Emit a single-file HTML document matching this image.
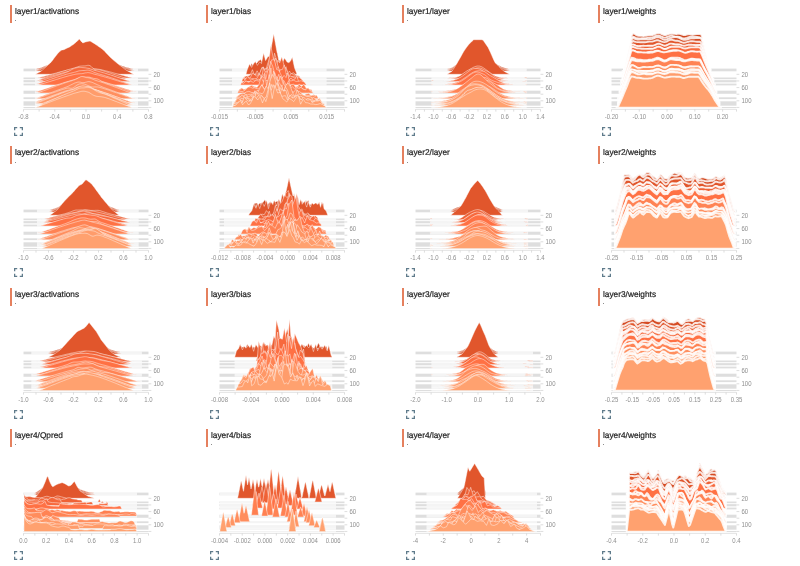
<!DOCTYPE html><html><head><meta charset="utf-8"><style>
*{margin:0;padding:0;box-sizing:border-box}
html,body{width:800px;height:566px;background:#fff;overflow:hidden;position:relative}
.cell{position:absolute;width:196px;height:141px}
.bar{position:absolute;left:9.6px;top:5px;width:2.4px;height:18px;background:#e5805e}
.ttl{position:absolute;left:15.0px;top:5.9px;font:8.3px/10px "Liberation Sans",Arial,sans-serif;color:#1e1e1e;white-space:nowrap;-webkit-text-stroke:0.2px #1e1e1e;text-rendering:geometricPrecision}
.dot{position:absolute;left:14.6px;top:14.2px;font:8px/9px "Liberation Sans",Arial,sans-serif;color:#3a3a3a}
.ch{position:absolute;left:0;top:0;overflow:visible;filter:blur(0.3px)}
.xl{font:6.9px "Liberation Sans",Arial,sans-serif;fill:#8f8f8f;text-anchor:middle}
.yl{font:6.9px "Liberation Sans",Arial,sans-serif;fill:#8f8f8f}
.ic{position:absolute;left:14.2px;top:127px}
</style></head><body><div class="cell" style="left:0.00px;top:0.00px"><div class="bar"></div><div class="ttl">layer1/activations</div><div class="dot">.</div><svg class="ch" width="196" height="141" viewBox="0 0 196 141"><rect x="23.5" y="68.60" width="125.0" height="2.70" fill="#000" fill-opacity="0.13"/><rect x="23.5" y="77.50" width="125.0" height="1.70" fill="#000" fill-opacity="0.13"/><rect x="23.5" y="80.10" width="125.0" height="2.20" fill="#000" fill-opacity="0.13"/><rect x="23.5" y="83.60" width="125.0" height="1.80" fill="#000" fill-opacity="0.13"/><rect x="23.5" y="90.70" width="125.0" height="3.10" fill="#000" fill-opacity="0.13"/><rect x="23.5" y="97.30" width="125.0" height="1.80" fill="#000" fill-opacity="0.13"/><rect x="23.5" y="101.30" width="125.0" height="4.40" fill="#000" fill-opacity="0.13"/><rect x="23.5" y="107.00" width="125.0" height="1.10" fill="#000" fill-opacity="0.13"/><path d="M35,69.1L35,69.1L36.2,68.9L37.4,68.6L38.6,68.3L39.8,68L41,67.8L42.2,67.3L43.4,66.8L44.6,66.3L45.8,65.8L47,65.3L48.2,64.9L49.4,64.4L50.6,63.9L51.8,63.3L53,62.5L54.2,61.8L55.4,61.1L56.6,60.4L57.8,59.8L59,59.3L60.2,58.7L61.3,58.3L62.5,58.2L63.7,58.1L64.9,57.8L66.1,57.6L67.3,57.3L68.5,57.1L69.7,56.8L70.9,56.5L72.1,56.1L73.3,55.7L74.5,55.3L75.7,54.9L76.9,54.3L78.1,53.8L79.3,53.3L80.5,53.9L81.7,54.6L82.9,55L84.1,54.8L85.3,54.6L86.5,54.5L87.7,54.4L88.9,54.3L90.1,54.2L91.3,54.5L92.5,54.8L93.7,55.2L94.9,55.5L96.1,55.9L97.3,56.2L98.5,56.6L99.7,57L100.9,57.4L102.1,57.7L103.3,58.2L104.5,58.7L105.7,59.3L106.9,59.9L108.1,60.4L109.3,61L110.5,61.5L111.7,62L112.8,62.5L114,62.9L115.2,63.4L116.4,63.9L117.6,64.3L118.8,64.7L120,65.1L121.2,65.5L122.4,65.9L123.6,66.3L124.8,66.8L126,67.2L127.2,67.5L128.4,67.8L129.6,68.1L130.8,68.4L132,68.7L133.2,69L134.4,69.1L138,69.1L138,69.1Z" fill="#ce451d" stroke="#fff" stroke-opacity="0.55" stroke-width="0.80" stroke-linejoin="round"/><path d="M35,70L35,70L36.2,69.8L37.4,69.5L38.6,69.2L39.8,68.8L41,68.5L42.2,68L43.4,67.5L44.6,67L45.8,66.4L47,65.9L48.2,65.4L49.4,64.8L50.6,64.3L51.8,63.6L53,62.8L54.2,62.1L55.4,61.3L56.6,60.5L57.8,59.8L59,59.3L60.2,58.7L61.3,58.2L62.5,58.1L63.7,57.9L64.9,57.7L66.1,57.4L67.3,57.2L68.5,56.9L69.7,56.6L70.9,56.2L72.1,55.8L73.3,55.4L74.5,55L75.7,54.5L76.9,53.9L78.1,53.3L79.3,52.7L80.5,53.4L81.7,54.2L82.9,54.6L84.1,54.4L85.3,54.2L86.5,54.1L87.7,53.9L88.9,53.8L90.1,53.7L91.3,54.1L92.5,54.4L93.7,54.8L94.9,55.1L96.1,55.5L97.3,56L98.5,56.4L99.7,56.8L100.9,57.2L102.1,57.6L103.3,58.1L104.5,58.7L105.7,59.3L106.9,59.9L108.1,60.5L109.3,61.2L110.5,61.7L111.7,62.3L112.8,62.8L114,63.3L115.2,63.8L116.4,64.3L117.6,64.7L118.8,65.2L120,65.6L121.2,66.1L122.4,66.5L123.6,67L124.8,67.5L126,67.9L127.2,68.2L128.4,68.6L129.6,68.9L130.8,69.2L132,69.5L133.2,69.9L134.4,70L138,70L138,70Z" fill="#d24820" stroke="#fff" stroke-opacity="0.55" stroke-width="0.80" stroke-linejoin="round"/><path d="M35,70.9L35,70.9L36.2,70.7L37.4,70.3L38.6,70L39.8,69.7L41,69.3L42.2,68.7L43.4,68.2L44.6,67.6L45.8,67L47,66.5L48.2,65.9L49.4,65.3L50.6,64.7L51.8,64L53,63.2L54.2,62.3L55.4,61.5L56.6,60.6L57.8,59.9L59,59.3L60.2,58.6L61.3,58.1L62.5,58L63.7,57.8L64.9,57.6L66.1,57.3L67.3,57L68.5,56.7L69.7,56.4L70.9,56L72.1,55.5L73.3,55.1L74.5,54.6L75.7,54.1L76.9,53.5L78.1,52.8L79.3,52.2L80.5,53L81.7,53.7L82.9,54.3L84.1,54L85.3,53.8L86.5,53.6L87.7,53.5L88.9,53.4L90.1,53.3L91.3,53.7L92.5,54L93.7,54.4L94.9,54.8L96.1,55.2L97.3,55.7L98.5,56.1L99.7,56.6L100.9,57L102.1,57.5L103.3,58L104.5,58.6L105.7,59.3L106.9,60L108.1,60.6L109.3,61.3L110.5,61.9L111.7,62.5L112.8,63.1L114,63.6L115.2,64.2L116.4,64.7L117.6,65.2L118.8,65.7L120,66.2L121.2,66.7L122.4,67.2L123.6,67.6L124.8,68.1L126,68.6L127.2,69L128.4,69.3L129.6,69.7L130.8,70L132,70.4L133.2,70.8L134.4,70.9L138,70.9L138,70.9Z" fill="#d54b23" stroke="#fff" stroke-opacity="0.55" stroke-width="0.80" stroke-linejoin="round"/><path d="M35,74.3L35,74.3L36.2,73.9L37.4,73.2L38.6,72.6L39.8,71.9L41,71.3L42.2,70.2L43.4,69.2L44.6,68.1L45.8,67L47,65.9L48.2,64.8L49.4,63.8L50.6,62.7L51.8,61.3L53,59.7L54.2,58.1L55.4,56.5L56.6,54.9L57.8,53.5L59,52.3L60.2,51.1L61.3,50.2L62.5,49.9L63.7,49.7L64.9,49.2L66.1,48.6L67.3,48L68.5,47.5L69.7,46.9L70.9,46.1L72.1,45.3L73.3,44.5L74.5,43.6L75.7,42.6L76.9,41.4L78.1,40.2L79.3,39L80.5,40.5L81.7,41.9L82.9,42.9L84.1,42.5L85.3,42L86.5,41.7L87.7,41.5L88.9,41.2L90.1,41.1L91.3,41.8L92.5,42.5L93.7,43.2L94.9,43.9L96.1,44.8L97.3,45.6L98.5,46.4L99.7,47.3L100.9,48.1L102.1,48.9L103.3,49.9L104.5,51.1L105.7,52.4L106.9,53.7L108.1,54.9L109.3,56.2L110.5,57.4L111.7,58.5L112.8,59.5L114,60.6L115.2,61.6L116.4,62.6L117.6,63.6L118.8,64.5L120,65.4L121.2,66.3L122.4,67.2L123.6,68.2L124.8,69.1L126,70L127.2,70.7L128.4,71.4L129.6,72L130.8,72.7L132,73.4L133.2,74L134.4,74.3L138,74.3L138,74.3Z" fill="#e1562c" stroke="#fff" stroke-opacity="0.55" stroke-width="0.80" stroke-linejoin="round"/><path d="M35,78L35,78L36.2,77.9L37.4,77.9L38.6,77.7L39.8,77.4L41,77.1L42.2,76.8L43.4,76.5L44.6,76.2L45.8,75.8L47,75.5L48.2,75.2L49.4,74.8L50.6,74.5L51.8,74.2L53,73.8L54.2,73.5L55.4,73.2L56.6,72.9L57.8,72.5L59,72.2L60.2,71.9L61.3,71.6L62.5,71.3L63.7,71L64.9,70.7L66.1,70.4L67.3,70.2L68.5,69.9L69.7,69.6L70.9,69.4L72.1,69.1L73.3,68.8L74.5,68.5L75.7,68.2L76.9,67.8L78.1,67.4L79.3,67.1L80.5,66.9L81.7,66.8L82.9,66.8L84.1,66.9L85.3,67L86.5,67.2L87.7,67.4L88.9,67.6L90.1,67.8L91.3,68.1L92.5,68.3L93.7,68.5L94.9,68.7L96.1,68.8L97.3,69L98.5,69.2L99.7,69.4L100.9,69.6L102.1,69.9L103.3,70.2L104.5,70.5L105.7,70.8L106.9,71.1L108.1,71.4L109.3,71.7L110.5,72L111.7,72.3L112.8,72.7L114,73L115.2,73.3L116.4,73.6L117.6,74L118.8,74.3L120,74.6L121.2,75L122.4,75.3L123.6,75.6L124.8,76L126,76.3L127.2,76.6L128.4,77L129.6,77.3L130.8,77.6L132,77.9L133.2,77.9L134.4,77.9L135.6,78L138,78L138,78Z" fill="#ec6035" stroke="#fff" stroke-opacity="0.55" stroke-width="0.80" stroke-linejoin="round"/><path d="M35,78.8L35,78.8L36.2,78.8L37.4,78.7L38.6,78.7L39.8,78.7L41,78.5L42.2,78.2L43.4,77.8L44.6,77.4L45.8,77L47,76.6L48.2,76.2L49.4,75.8L50.6,75.4L51.8,75L53,74.6L54.2,74.2L55.4,73.8L56.6,73.4L57.8,73L59,72.6L60.2,72.2L61.3,71.8L62.5,71.4L63.7,71.1L64.9,70.7L66.1,70.3L67.3,69.9L68.5,69.6L69.7,69.2L70.9,68.9L72.1,68.6L73.3,68.2L74.5,67.9L75.7,67.5L76.9,67.1L78.1,66.7L79.3,66.3L80.5,66.1L81.7,66L82.9,65.9L84.1,65.9L85.3,65.8L86.5,65.6L87.7,65.3L88.9,65.3L90.1,65.7L91.3,66.6L92.5,67.8L93.7,69L94.9,69.6L96.1,69.7L97.3,69.7L98.5,69.7L99.7,69.9L100.9,70.2L102.1,70.5L103.3,70.9L104.5,71.3L105.7,71.6L106.9,72L108.1,72.4L109.3,72.8L110.5,73.2L111.7,73.6L112.8,74L114,74.4L115.2,74.8L116.4,75.2L117.6,75.6L118.8,76L120,76.4L121.2,76.8L122.4,77.2L123.6,77.6L124.8,78L126,78.4L127.2,78.7L128.4,78.7L129.6,78.7L130.8,78.8L138,78.8L138,78.8Z" fill="#ef6236" stroke="#fff" stroke-opacity="0.55" stroke-width="0.80" stroke-linejoin="round"/><path d="M35,80.6L35,80.5L36.2,80.5L37.4,80.3L38.6,80L39.8,79.7L41,79.3L42.2,79L43.4,78.6L44.6,78.2L45.8,77.9L47,77.5L48.2,77.2L49.4,76.8L50.6,76.4L51.8,76.1L53,75.7L54.2,75.4L55.4,75L56.6,74.6L57.8,74.3L59,74L60.2,73.6L61.3,73.3L62.5,72.9L63.7,72.6L64.9,72.3L66.1,72L67.3,71.7L68.5,71.4L69.7,71.2L70.9,71.1L72.1,71L73.3,70.9L74.5,70.8L75.7,70.5L76.9,70.2L78.1,69.9L79.3,69.7L80.5,69.6L81.7,69.5L82.9,69.4L84.1,69.3L85.3,69.2L86.5,69.1L87.7,69L88.9,69.2L90.1,69.5L91.3,69.9L92.5,70.3L93.7,70.7L94.9,71.1L96.1,71.4L97.3,71.7L98.5,72.1L99.7,72.4L100.9,72.7L102.1,73L103.3,73.4L104.5,73.7L105.7,74.1L106.9,74.4L108.1,74.8L109.3,75.1L110.5,75.5L111.7,75.8L112.8,76.2L114,76.5L115.2,76.9L116.4,77.3L117.6,77.6L118.8,78L120,78.4L121.2,78.7L122.4,79.1L123.6,79.4L124.8,79.8L126,80.1L127.2,80.4L128.4,80.5L129.6,80.5L130.8,80.6L138,80.6L138,80.6Z" fill="#f4663a" stroke="#fff" stroke-opacity="0.55" stroke-width="0.80" stroke-linejoin="round"/><path d="M35,81.6L35,81.6L36.2,81.5L37.4,81.5L38.6,81.5L39.8,81.1L41,80.8L42.2,80.4L43.4,80L44.6,79.6L45.8,79.2L47,78.8L48.2,78.4L49.4,78L50.6,77.6L51.8,77.2L53,76.8L54.2,76.4L55.4,76L56.6,75.6L57.8,75.2L59,74.8L60.2,74.4L61.3,74.1L62.5,73.7L63.7,73.3L64.9,72.8L66.1,72.4L67.3,71.9L68.5,71.4L69.7,70.7L70.9,70.1L72.1,69.4L73.3,68.8L74.5,68.3L75.7,68L76.9,67.7L78.1,67.5L79.3,67.4L80.5,67.4L81.7,67.5L82.9,67.6L84.1,67.7L85.3,67.8L86.5,68L87.7,68.2L88.9,68.4L90.1,68.8L91.3,69.2L92.5,69.6L93.7,70.1L94.9,70.4L96.1,70.7L97.3,71L98.5,71.3L99.7,71.7L100.9,72L102.1,72.3L103.3,72.7L104.5,73L105.7,73.4L106.9,73.8L108.1,74.2L109.3,74.5L110.5,74.9L111.7,75.3L112.8,75.7L114,76.1L115.2,76.5L116.4,76.9L117.6,77.3L118.8,77.7L120,78.1L121.2,78.5L122.4,78.9L123.6,79.3L124.8,79.7L126,80.1L127.2,80.5L128.4,80.8L129.6,81.2L130.8,81.5L132,81.5L133.2,81.5L134.4,81.6L138,81.6L138,81.6Z" fill="#f7693d" stroke="#fff" stroke-opacity="0.55" stroke-width="0.80" stroke-linejoin="round"/><path d="M35,84.1L35,84L36.2,84L37.4,83.7L38.6,83.4L39.8,83L41,82.6L42.2,82.2L43.4,81.8L44.6,81.4L45.8,81L47,80.6L48.2,80.2L49.4,79.7L50.6,79.3L51.8,78.9L53,78.5L54.2,78.1L55.4,77.7L56.6,77.3L57.8,76.9L59,76.6L60.2,76.2L61.3,75.8L62.5,75.4L63.7,75.1L64.9,74.7L66.1,74.3L67.3,74L68.5,73.7L69.7,73.4L70.9,73.1L72.1,72.8L73.3,72.5L74.5,72.2L75.7,71.9L76.9,71.5L78.1,71.1L79.3,70.8L80.5,70.7L81.7,70.6L82.9,70.5L84.1,70.5L85.3,70.4L86.5,70.2L87.7,70.1L88.9,70.2L90.1,70.5L91.3,71L92.5,71.5L93.7,72.1L94.9,72.6L96.1,73L97.3,73.4L98.5,73.8L99.7,74.1L100.9,74.5L102.1,74.9L103.3,75.2L104.5,75.6L105.7,76L106.9,76.4L108.1,76.7L109.3,77.1L110.5,77.5L111.7,77.9L112.8,78.3L114,78.7L115.2,79.1L116.4,79.5L117.6,79.9L118.8,80.4L120,80.8L121.2,81.2L122.4,81.6L123.6,82L124.8,82.4L126,82.8L127.2,83.2L128.4,83.5L129.6,83.9L130.8,84L132,84L133.2,84.1L138,84.1L138,84.1Z" fill="#fd6f42" stroke="#fff" stroke-opacity="0.55" stroke-width="0.80" stroke-linejoin="round"/><path d="M35,85L35,85L36.2,84.9L37.4,84.9L38.6,84.9L39.8,84.6L41,84.2L42.2,83.9L43.4,83.5L44.6,83.1L45.8,82.8L47,82.4L48.2,82L49.4,81.7L50.6,81.3L51.8,80.9L53,80.5L54.2,80.2L55.4,79.8L56.6,79.4L57.8,79.1L59,78.7L60.2,78.3L61.3,78L62.5,77.6L63.7,77.3L64.9,76.9L66.1,76.6L67.3,76.3L68.5,75.9L69.7,75.6L70.9,75.3L72.1,75L73.3,74.7L74.5,74.5L75.7,74.2L76.9,74L78.1,73.9L79.3,73.8L80.5,73.7L81.7,73.7L82.9,73.5L84.1,73.2L85.3,72.9L86.5,72.8L87.7,72.6L88.9,72.7L90.1,72.9L91.3,73.2L92.5,73.6L93.7,74L94.9,74.3L96.1,74.6L97.3,74.9L98.5,75.2L99.7,75.6L100.9,75.9L102.1,76.2L103.3,76.5L104.5,76.9L105.7,77.2L106.9,77.6L108.1,77.9L109.3,78.3L110.5,78.6L111.7,79L112.8,79.4L114,79.7L115.2,80.1L116.4,80.5L117.6,80.8L118.8,81.2L120,81.6L121.2,82L122.4,82.3L123.6,82.7L124.8,83.1L126,83.4L127.2,83.8L128.4,84.2L129.6,84.5L130.8,84.8L132,84.9L133.2,84.9L134.4,85L138,85L138,85Z" fill="#ff7144" stroke="#fff" stroke-opacity="0.55" stroke-width="0.80" stroke-linejoin="round"/><path d="M35,91.2L35,91.2L36.2,91.1L37.4,91.1L38.6,91.1L39.8,90.8L41,90.4L42.2,90L43.4,89.7L44.6,89.3L45.8,88.9L47,88.5L48.2,88.1L49.4,87.8L50.6,87.4L51.8,87L53,86.6L54.2,86.2L55.4,85.8L56.6,85.5L57.8,85.1L59,84.7L60.2,84.3L61.3,84L62.5,83.6L63.7,83.2L64.9,82.9L66.1,82.5L67.3,82.2L68.5,81.8L69.7,81.5L70.9,81.2L72.1,80.8L73.3,80.5L74.5,80.1L75.7,79.7L76.9,79.2L78.1,78.7L79.3,78.3L80.5,78.1L81.7,77.9L82.9,78L84.1,78.1L85.3,78.2L86.5,78.3L87.7,78.5L88.9,78.8L90.1,79L91.3,79.2L92.5,79.4L93.7,79.5L94.9,79.8L96.1,80L97.3,80.3L98.5,80.5L99.7,80.9L100.9,81.2L102.1,81.5L103.3,81.8L104.5,82.2L105.7,82.5L106.9,82.9L108.1,83.2L109.3,83.6L110.5,83.9L111.7,84.3L112.8,84.7L114,85.1L115.2,85.4L116.4,85.8L117.6,86.2L118.8,86.6L120,87L121.2,87.3L122.4,87.7L123.6,88.1L124.8,88.5L126,88.9L127.2,89.3L128.4,89.6L129.6,90L130.8,90.4L132,90.7L133.2,91.1L134.4,91.1L135.6,91.1L136.8,91.2L138,91.2L138,91.2Z" fill="#ff7f50" stroke="#fff" stroke-opacity="0.55" stroke-width="0.80" stroke-linejoin="round"/><path d="M35,92.1L35,92L36.2,91.8L37.4,91.5L38.6,91.1L39.8,90.7L41,90.3L42.2,89.9L43.4,89.5L44.6,89.1L45.8,88.7L47,88.3L48.2,87.9L49.4,87.5L50.6,87.1L51.8,86.6L53,86.2L54.2,85.8L55.4,85.4L56.6,85L57.8,84.6L59,84.2L60.2,83.9L61.3,83.5L62.5,83.1L63.7,82.7L64.9,82.3L66.1,82L67.3,81.6L68.5,81.3L69.7,80.9L70.9,80.6L72.1,80.2L73.3,79.9L74.5,79.5L75.7,79.1L76.9,78.6L78.1,78.1L79.3,77.7L80.5,77.3L81.7,77.2L82.9,77.1L84.1,77L85.3,77L86.5,77L87.7,77L88.9,77.1L90.1,77.3L91.3,77.7L92.5,78L93.7,78.4L94.9,78.6L96.1,78.7L97.3,78.9L98.5,79.4L99.7,80.1L100.9,80.9L102.1,81.6L103.3,82.1L104.5,82.5L105.7,82.9L106.9,83.3L108.1,83.7L109.3,84.1L110.5,84.5L111.7,84.9L112.8,85.3L114,85.7L115.2,86.1L116.4,86.5L117.6,86.9L118.8,87.3L120,87.7L121.2,88.1L122.4,88.5L123.6,89L124.8,89.4L126,89.8L127.2,90.2L128.4,90.6L129.6,91L130.8,91.4L132,91.7L133.2,92L134.4,92L135.6,92.1L138,92.1L138,92.1Z" fill="#ff8152" stroke="#fff" stroke-opacity="0.55" stroke-width="0.80" stroke-linejoin="round"/><path d="M35,93L35,93L36.2,92.9L37.4,92.9L38.6,92.6L39.8,92.2L41,91.7L42.2,91.3L43.4,90.8L44.6,90.4L45.8,90L47,89.5L48.2,89.1L49.4,88.6L50.6,88.1L51.8,87.7L53,87.2L54.2,86.8L55.4,86.4L56.6,85.9L57.8,85.5L59,85L60.2,84.6L61.3,84.2L62.5,83.8L63.7,83.3L64.9,82.9L66.1,82.5L67.3,82.1L68.5,81.7L69.7,81.3L70.9,81L72.1,80.6L73.3,80.2L74.5,79.8L75.7,79.3L76.9,78.8L78.1,78.1L79.3,77.4L80.5,76.8L81.7,76.5L82.9,76.6L84.1,76.9L85.3,77.3L86.5,77.6L87.7,77.7L88.9,77.9L90.1,78.2L91.3,78.6L92.5,79.1L93.7,79.6L94.9,80.1L96.1,80.5L97.3,80.9L98.5,81.3L99.7,81.6L100.9,82L102.1,82.4L103.3,82.8L104.5,83.2L105.7,83.7L106.9,84.1L108.1,84.5L109.3,84.9L110.5,85.4L111.7,85.8L112.8,86.2L114,86.7L115.2,87.1L116.4,87.6L117.6,88L118.8,88.5L120,88.9L121.2,89.4L122.4,89.8L123.6,90.3L124.8,90.7L126,91.2L127.2,91.6L128.4,92.1L129.6,92.5L130.8,92.9L132,92.9L133.2,92.9L134.4,93L138,93L138,93Z" fill="#ff8354" stroke="#fff" stroke-opacity="0.55" stroke-width="0.80" stroke-linejoin="round"/><path d="M35,97.8L35,97.7L36.2,97.7L37.4,97.6L38.6,97.2L39.8,96.7L41,96.3L42.2,95.9L43.4,95.4L44.6,95L45.8,94.5L47,94.1L48.2,93.7L49.4,93.2L50.6,92.8L51.8,92.3L53,91.9L54.2,91.4L55.4,91L56.6,90.5L57.8,90.1L59,89.7L60.2,89.2L61.3,88.8L62.5,88.4L63.7,88L64.9,87.5L66.1,87.1L67.3,86.6L68.5,86.1L69.7,85.5L70.9,84.9L72.1,84.3L73.3,83.7L74.5,83.1L75.7,82.7L76.9,82.3L78.1,82L79.3,82L80.5,82.2L81.7,82.5L82.9,82.7L84.1,82.6L85.3,82.3L86.5,82L87.7,81.7L88.9,81.6L90.1,81.8L91.3,82.1L92.5,82.5L93.7,83L94.9,83.6L96.1,84.1L97.3,84.7L98.5,85.2L99.7,85.8L100.9,86.3L102.1,86.8L103.3,87.3L104.5,87.7L105.7,88.1L106.9,88.6L108.1,89L109.3,89.4L110.5,89.8L111.7,90.3L112.8,90.7L114,91.2L115.2,91.6L116.4,92L117.6,92.5L118.8,92.9L120,93.4L121.2,93.8L122.4,94.3L123.6,94.7L124.8,95.2L126,95.6L127.2,96.1L128.4,96.5L129.6,96.9L130.8,97.3L132,97.7L133.2,97.7L134.4,97.8L138,97.8L138,97.8Z" fill="#ff8d5d" stroke="#fff" stroke-opacity="0.55" stroke-width="0.80" stroke-linejoin="round"/><path d="M35,98.7L35,98.6L36.2,98.6L37.4,98.2L38.6,97.8L39.8,97.4L41,97L42.2,96.6L43.4,96.2L44.6,95.8L45.8,95.3L47,94.9L48.2,94.5L49.4,94.1L50.6,93.6L51.8,93.2L53,92.8L54.2,92.4L55.4,92L56.6,91.6L57.8,91.1L59,90.7L60.2,90.3L61.3,89.9L62.5,89.5L63.7,89.2L64.9,88.8L66.1,88.4L67.3,88.1L68.5,88L69.7,88.1L70.9,88.3L72.1,88.3L73.3,87.8L74.5,86.9L75.7,86L76.9,85.1L78.1,84.5L79.3,84L80.5,83.8L81.7,83.7L82.9,83.8L84.1,84L85.3,84.4L86.5,84.9L87.7,85.4L88.9,85.9L90.1,86.4L91.3,86.8L92.5,87L93.7,87L94.9,86.9L96.1,86.9L97.3,86.9L98.5,87.1L99.7,87.4L100.9,87.7L102.1,88L103.3,88.4L104.5,88.8L105.7,89.2L106.9,89.6L108.1,89.9L109.3,90.3L110.5,90.8L111.7,91.2L112.8,91.6L114,92L115.2,92.4L116.4,92.8L117.6,93.2L118.8,93.7L120,94.1L121.2,94.5L122.4,94.9L123.6,95.3L124.8,95.8L126,96.2L127.2,96.6L128.4,97L129.6,97.4L130.8,97.8L132,98.2L133.2,98.6L134.4,98.6L135.6,98.7L138,98.7L138,98.7Z" fill="#ff8f5f" stroke="#fff" stroke-opacity="0.55" stroke-width="0.80" stroke-linejoin="round"/><path d="M35,101.8L35,101.7L36.2,101.4L37.4,101L38.6,100.6L39.8,100.2L41,99.8L42.2,99.3L43.4,98.9L44.6,98.5L45.8,98L47,97.6L48.2,97.1L49.4,96.7L50.6,96.2L51.8,95.8L53,95.4L54.2,94.9L55.4,94.5L56.6,94.1L57.8,93.7L59,93.2L60.2,92.8L61.3,92.4L62.5,92L63.7,91.6L64.9,91.2L66.1,90.8L67.3,90.5L68.5,90.2L69.7,89.9L70.9,89.7L72.1,89.7L73.3,89.8L74.5,89.9L75.7,90.1L76.9,90L78.1,89.7L79.3,89.2L80.5,88.5L81.7,87.8L82.9,87.3L84.1,87.1L85.3,87L86.5,86.9L87.7,86.9L88.9,87.1L90.1,87.5L91.3,88L92.5,88.5L93.7,89L94.9,89.4L96.1,89.8L97.3,90.2L98.5,90.6L99.7,91L100.9,91.4L102.1,91.8L103.3,92.2L104.5,92.6L105.7,93L106.9,93.4L108.1,93.8L109.3,94.3L110.5,94.7L111.7,95.1L112.8,95.5L114,96L115.2,96.4L116.4,96.9L117.6,97.3L118.8,97.7L120,98.2L121.2,98.6L122.4,99.1L123.6,99.5L124.8,99.9L126,100.4L127.2,100.8L128.4,101.2L129.6,101.6L130.8,101.7L132,101.7L133.2,101.8L138,101.8L138,101.8Z" fill="#ff9564" stroke="#fff" stroke-opacity="0.55" stroke-width="0.80" stroke-linejoin="round"/><path d="M35,102.7L35,102.6L36.2,102.2L37.4,101.8L38.6,101.4L39.8,101L41,100.6L42.2,100.2L43.4,99.7L44.6,99.3L45.8,98.9L47,98.5L48.2,98L49.4,97.6L50.6,97.2L51.8,96.8L53,96.4L54.2,95.9L55.4,95.5L56.6,95.1L57.8,94.7L59,94.3L60.2,93.9L61.3,93.5L62.5,93.1L63.7,92.7L64.9,92.4L66.1,92.2L67.3,92.1L68.5,92.1L69.7,91.8L70.9,91L72.1,90.1L73.3,89.2L74.5,88.4L75.7,87.9L76.9,87.4L78.1,87.1L79.3,86.9L80.5,86.8L81.7,86.9L82.9,86.9L84.1,87L85.3,87.1L86.5,87.1L87.7,87L88.9,87L90.1,87.2L91.3,87.7L92.5,88.3L93.7,89L94.9,89.6L96.1,90.1L97.3,90.5L98.5,90.9L99.7,91.3L100.9,91.6L102.1,92L103.3,92.4L104.5,92.8L105.7,93.1L106.9,93.5L108.1,93.9L109.3,94.3L110.5,94.7L111.7,95.1L112.8,95.6L114,96L115.2,96.4L116.4,96.8L117.6,97.2L118.8,97.7L120,98.1L121.2,98.5L122.4,98.9L123.6,99.4L124.8,99.8L126,100.2L127.2,100.6L128.4,101.1L129.6,101.5L130.8,101.9L132,102.2L133.2,102.6L134.4,102.6L135.6,102.7L138,102.7L138,102.7Z" fill="#ff9766" stroke="#fff" stroke-opacity="0.55" stroke-width="0.80" stroke-linejoin="round"/><path d="M35,103.6L35,103.5L36.2,103.2L37.4,102.8L38.6,102.3L39.8,101.8L41,101.4L42.2,100.9L43.4,100.4L44.6,99.9L45.8,99.4L47,98.9L48.2,98.5L49.4,98L50.6,97.5L51.8,97L53,96.5L54.2,96L55.4,95.6L56.6,95.1L57.8,94.6L59,94.2L60.2,93.7L61.3,93.2L62.5,92.8L63.7,92.4L64.9,91.9L66.1,91.5L67.3,91.1L68.5,90.8L69.7,90.4L70.9,90.1L72.1,89.8L73.3,89.5L74.5,89.1L75.7,88.6L76.9,88L78.1,87.3L79.3,86.7L80.5,86.3L81.7,86L82.9,85.8L84.1,86L85.3,86.2L86.5,86.4L87.7,86.6L88.9,87L90.1,87.5L91.3,88.1L92.5,88.7L93.7,89.2L94.9,89.7L96.1,90.2L97.3,90.6L98.5,91L99.7,91.5L100.9,91.9L102.1,92.3L103.3,92.8L104.5,93.3L105.7,93.7L106.9,94.2L108.1,94.6L109.3,95.1L110.5,95.6L111.7,96.1L112.8,96.5L114,97L115.2,97.5L116.4,98L117.6,98.5L118.8,99L120,99.4L121.2,99.9L122.4,100.4L123.6,100.9L124.8,101.4L126,101.9L127.2,102.3L128.4,102.8L129.6,103.2L130.8,103.5L132,103.5L133.2,103.6L138,103.6L138,103.6Z" fill="#ff9968" stroke="#fff" stroke-opacity="0.55" stroke-width="0.80" stroke-linejoin="round"/><path d="M35,104.5L35,104.5L36.2,104.5L37.4,104.4L38.6,104.4L39.8,104.3L41,103.9L42.2,103.5L43.4,103L44.6,102.6L45.8,102.2L47,101.7L48.2,101.3L49.4,100.8L50.6,100.3L51.8,99.9L53,99.4L54.2,99L55.4,98.5L56.6,98.1L57.8,97.6L59,97.2L60.2,96.7L61.3,96.3L62.5,95.9L63.7,95.4L64.9,95L66.1,94.6L67.3,94.2L68.5,93.8L69.7,93.3L70.9,92.9L72.1,92.4L73.3,91.9L74.5,91.4L75.7,90.8L76.9,90.2L78.1,89.8L79.3,89.5L80.5,89.6L81.7,89.8L82.9,90.1L84.1,90.1L85.3,89.7L86.5,89.3L87.7,89L88.9,88.9L90.1,89.1L91.3,89.3L92.5,89.6L93.7,89.8L94.9,90L96.1,90.2L97.3,90.6L98.5,91.2L99.7,91.9L100.9,92.6L102.1,93.2L103.3,93.7L104.5,94.2L105.7,94.6L106.9,95L108.1,95.5L109.3,95.9L110.5,96.3L111.7,96.8L112.8,97.2L114,97.7L115.2,98.1L116.4,98.5L117.6,99L118.8,99.5L120,99.9L121.2,100.4L122.4,100.8L123.6,101.3L124.8,101.7L126,102.2L127.2,102.6L128.4,103.1L129.6,103.5L130.8,103.9L132,104.3L133.2,104.4L134.4,104.4L135.6,104.5L138,104.5L138,104.5Z" fill="#ff9b69" stroke="#fff" stroke-opacity="0.55" stroke-width="0.80" stroke-linejoin="round"/><path d="M35,105.3L35,105.3L36.2,105.3L37.4,105.2L38.6,105.2L39.8,105.2L41,104.8L42.2,104.3L43.4,103.8L44.6,103.3L45.8,102.8L47,102.3L48.2,101.7L49.4,101.2L50.6,100.7L51.8,100.1L53,99.6L54.2,99L55.4,98.5L56.6,98L57.8,97.5L59,96.9L60.2,96.4L61.3,95.9L62.5,95.4L63.7,94.9L64.9,94.4L66.1,93.9L67.3,93.4L68.5,92.9L69.7,92.5L70.9,92L72.1,91.5L73.3,91.1L74.5,90.6L75.7,90L76.9,89.4L78.1,88.8L79.3,88.3L80.5,88L81.7,87.9L82.9,87.9L84.1,87.9L85.3,87.7L86.5,87.6L87.7,87.6L88.9,87.6L90.1,87.8L91.3,88.3L92.5,88.9L93.7,89.6L94.9,90.3L96.1,91L97.3,91.7L98.5,92.2L99.7,92.7L100.9,93L102.1,93.4L103.3,93.7L104.5,94.1L105.7,94.5L106.9,94.9L108.1,95.4L109.3,95.9L110.5,96.4L111.7,96.9L112.8,97.5L114,98L115.2,98.5L116.4,99.1L117.6,99.6L118.8,100.1L120,100.7L121.2,101.2L122.4,101.8L123.6,102.3L124.8,102.8L126,103.3L127.2,103.9L128.4,104.4L129.6,104.8L130.8,105.2L132,105.2L133.2,105.2L134.4,105.3L138,105.3L138,105.3Z" fill="#ff9c6b" stroke="#fff" stroke-opacity="0.55" stroke-width="0.80" stroke-linejoin="round"/><path d="M35,107.6L35,107.5L36.2,107.2L37.4,106.8L38.6,106.4L39.8,105.9L41,105.5L42.2,105L43.4,104.6L44.6,104.1L45.8,103.6L47,103.2L48.2,102.7L49.4,102.3L50.6,101.8L51.8,101.3L53,100.9L54.2,100.4L55.4,100L56.6,99.5L57.8,99.1L59,98.6L60.2,98.2L61.3,97.8L62.5,97.4L63.7,96.9L64.9,96.5L66.1,96.1L67.3,95.7L68.5,95.3L69.7,94.9L70.9,94.5L72.1,94L73.3,93.6L74.5,93.2L75.7,92.9L76.9,92.6L78.1,92.3L79.3,91.9L80.5,91.6L81.7,91.3L82.9,91.2L84.1,91.2L85.3,91.4L86.5,91.7L87.7,92L88.9,92.4L90.1,93.1L91.3,93.9L92.5,94.7L93.7,95.3L94.9,95.8L96.1,96.2L97.3,96.4L98.5,96.5L99.7,96.6L100.9,96.7L102.1,96.9L103.3,97.1L104.5,97.4L105.7,97.7L106.9,98.1L108.1,98.5L109.3,98.9L110.5,99.4L111.7,99.8L112.8,100.3L114,100.7L115.2,101.2L116.4,101.6L117.6,102.1L118.8,102.5L120,103L121.2,103.5L122.4,103.9L123.6,104.4L124.8,104.9L126,105.3L127.2,105.8L128.4,106.2L129.6,106.6L130.8,107.1L132,107.5L133.2,107.5L134.4,107.6L138,107.6L138,107.6Z" fill="#ffa16f" stroke="#fff" stroke-opacity="0.55" stroke-width="0.80" stroke-linejoin="round"/><path d="M23.5,109.4H148.5" stroke="#d8d8d8" stroke-width="0.7"/><path d="M23.50,109.4V111.6" stroke="#cfcfcf" stroke-width="0.7"/><path d="M39.12,109.4V111.6" stroke="#cfcfcf" stroke-width="0.7"/><path d="M54.75,109.4V111.6" stroke="#cfcfcf" stroke-width="0.7"/><path d="M70.38,109.4V111.6" stroke="#cfcfcf" stroke-width="0.7"/><path d="M86.00,109.4V111.6" stroke="#cfcfcf" stroke-width="0.7"/><path d="M101.62,109.4V111.6" stroke="#cfcfcf" stroke-width="0.7"/><path d="M117.25,109.4V111.6" stroke="#cfcfcf" stroke-width="0.7"/><path d="M132.88,109.4V111.6" stroke="#cfcfcf" stroke-width="0.7"/><path d="M148.50,109.4V111.6" stroke="#cfcfcf" stroke-width="0.7"/><text transform="translate(23.50,118.8) scale(0.87,1)" class="xl">-0.8</text><text transform="translate(54.75,118.8) scale(0.87,1)" class="xl">-0.4</text><text transform="translate(86.00,118.8) scale(0.87,1)" class="xl">0.0</text><text transform="translate(117.25,118.8) scale(0.87,1)" class="xl">0.4</text><text transform="translate(148.50,118.8) scale(0.87,1)" class="xl">0.8</text><path d="M148.5,74.32H151.3" stroke="#cfcfcf" stroke-width="0.7"/><path d="M148.5,80.94H151.3" stroke="#cfcfcf" stroke-width="0.7"/><path d="M148.5,87.57H151.3" stroke="#cfcfcf" stroke-width="0.7"/><path d="M148.5,94.19H151.3" stroke="#cfcfcf" stroke-width="0.7"/><path d="M148.5,100.81H151.3" stroke="#cfcfcf" stroke-width="0.7"/><path d="M148.5,107.43H151.3" stroke="#cfcfcf" stroke-width="0.7"/><text transform="translate(153.5,76.72) scale(0.87,1)" class="yl">20</text><text transform="translate(153.5,89.97) scale(0.87,1)" class="yl">60</text><text transform="translate(153.5,103.21) scale(0.87,1)" class="yl">100</text></svg><svg class="ic" viewBox="5 5 14 14" width="9" height="9"><path d="M7 14H5v5h5v-2H7v-3zm-2-4h2V7h3V5H5v5zm12 7h-3v2h5v-5h-2v3zM14 5v2h3v3h2V5h-5z" fill="#5f7b8b"/></svg></div><div class="cell" style="left:196.00px;top:0.00px"><div class="bar"></div><div class="ttl">layer1/bias</div><div class="dot">.</div><svg class="ch" width="196" height="141" viewBox="0 0 196 141"><rect x="23.5" y="68.60" width="125.0" height="2.70" fill="#000" fill-opacity="0.13"/><rect x="23.5" y="77.50" width="125.0" height="1.70" fill="#000" fill-opacity="0.13"/><rect x="23.5" y="80.10" width="125.0" height="2.20" fill="#000" fill-opacity="0.13"/><rect x="23.5" y="83.60" width="125.0" height="1.80" fill="#000" fill-opacity="0.13"/><rect x="23.5" y="90.70" width="125.0" height="3.10" fill="#000" fill-opacity="0.13"/><rect x="23.5" y="97.30" width="125.0" height="1.80" fill="#000" fill-opacity="0.13"/><rect x="23.5" y="101.30" width="125.0" height="4.40" fill="#000" fill-opacity="0.13"/><rect x="23.5" y="107.00" width="125.0" height="1.10" fill="#000" fill-opacity="0.13"/><path d="M36,69.1L36,69.1L54,69.1L55.2,63.5L57.1,65L59.5,63.9L61.2,65.6L63.3,65.3L65,60.7L67.6,61.9L69.7,64.4L71.7,63.7L73.5,63.1L75.1,58.6L77.2,61.4L78.8,63.2L80.5,59.6L83,59.9L85.3,62.1L86.9,63L88.5,61.8L90.4,64.3L92.3,62.2L93.7,65.4L96.3,64.1L97,69.1L130.5,69.1L130.5,69.1Z" fill="#ce451d" stroke="#fff" stroke-opacity="0.55" stroke-width="0.80" stroke-linejoin="round"/><path d="M36,70L36,70L54,70L55.7,65.7L57.8,64.2L59.4,65.2L61.2,64.2L62.8,66.1L65.1,64.6L67.3,61.8L69.2,60.8L71.3,60.5L73.2,63.3L74.7,64L77.1,61L78.5,62.5L80.4,58.8L82.2,60L84.5,62.9L87.1,63.5L88.5,65.2L90.9,63.1L92.8,64.3L94.6,64.6L96.9,66.5L97,70L130.5,70L130.5,70Z" fill="#d24820" stroke="#fff" stroke-opacity="0.55" stroke-width="0.80" stroke-linejoin="round"/><path d="M36,70.9L36,70.9L54,70.9L55,65.1L57.4,65L59.3,63.5L60.9,63.1L62.3,61.1L64.8,59.6L66.8,65L68.5,65.4L70.3,62.2L71.8,61.7L74.1,54.7L76.1,64.4L77.7,59.9L79.9,57.9L81.8,63.6L83.5,63L86.1,65.7L88.1,63.5L89.9,64.3L91.9,66.8L94.5,65.9L97,70.9L130.5,70.9L130.5,70.9Z" fill="#d54b23" stroke="#fff" stroke-opacity="0.55" stroke-width="0.80" stroke-linejoin="round"/><path d="M36,74.3L36,74.3L50,74.3L51.1,69.9L53.5,64.1L55.6,67.4L57.6,63.8L59.4,61.6L61.4,65.4L63.7,61.8L65.4,63.6L67.6,53.1L68.7,57.3L69.2,59.2L69.6,60.6L69.7,60.4L70.2,59.5L70.7,58.7L71.2,57.8L71.7,57L72,56.4L72.2,56.4L72.7,56.4L73.2,56.3L73.7,55.4L74.2,52.9L74.3,52.2L74.7,50.4L75.2,47.8L75.7,45.1L76.2,42.3L76.6,40.2L76.7,39.5L77.2,36.7L77.7,33.8L78.2,36.7L78.7,39.5L79.1,41.7L79.2,42.3L79.7,45.1L80.2,47.8L80.7,50.4L81.2,52.9L81.5,53.6L81.7,54.9L82.2,57.5L82.7,60.2L82.9,61L83.2,61.6L83.7,62.3L84.2,63L84.7,63.6L84.8,63.7L85.2,63.5L85.7,63.3L86.2,63L86.2,63L86.7,62L88.5,58.1L91.1,62.1L92.9,62.8L94.6,60.8L96.3,57.3L98.5,67.7L100.2,72L101,74.3L130.5,74.3L130.5,74.3Z" fill="#e1562c" stroke="#fff" stroke-opacity="0.55" stroke-width="0.80" stroke-linejoin="round"/><path d="M36,78L36,78L47,78L48.8,76.5L50.8,76L53.6,76.2L56.4,69.7L58.6,75.5L61.1,70.8L63.3,74.7L65.5,68.4L67.2,66.8L69.4,71.7L71.5,64L74.1,56.7L76.8,67.9L78.5,53.2L81,61.1L83.6,64.3L85.8,65L87.7,71.1L90,66.7L91.7,73L93.5,71.1L95,73.9L97.4,72.7L100.2,75.2L102.7,75.8L104,78L130.5,78L130.5,78Z" fill="#ec6035" stroke="#fff" stroke-opacity="0.55" stroke-width="0.80" stroke-linejoin="round"/><path d="M36,78.8L36,78.8L46.7,78.8L48,77.8L50.3,76.1L52.8,75.8L55.4,74.1L57.9,75.8L60.6,74L63.4,74.2L66.2,67.1L68.2,71.3L70.7,68.1L73.5,66.2L75.3,58L77.9,58.2L79.9,67.6L81.7,60.4L83.7,62.8L85.8,56.7L88.2,66L91,71L93.2,75.5L95.3,73.7L97.8,74.4L99.9,76L101.8,76.2L103.4,76.3L104.7,78.8L130.5,78.8L130.5,78.8Z" fill="#ef6236" stroke="#fff" stroke-opacity="0.55" stroke-width="0.80" stroke-linejoin="round"/><path d="M36,80.6L36,80.6L46,80.6L47.9,77.7L50,79.3L52.3,77.2L54.1,78L56.7,73L58.7,74.7L60.9,76.2L63.2,74.3L65.8,75.5L68.3,70.8L70.1,67.9L71.8,71.5L73.5,63.5L75.9,68.2L77.8,63.4L79.6,58.1L82,66.1L83.7,72.1L85.8,72.6L88.2,75.2L90.5,73.5L93.3,76.1L95.7,76.6L98.3,76.1L100.5,78.1L102,77.3L103.9,78.1L105.5,79L106.3,80.6L130.5,80.6L130.5,80.6Z" fill="#f4663a" stroke="#fff" stroke-opacity="0.55" stroke-width="0.80" stroke-linejoin="round"/><path d="M36,81.6L36,81.6L45.7,81.6L47.1,77.8L48.9,80L51.6,76.3L53.8,79.2L56.4,78.5L58.6,78.7L60.9,78.4L63.2,74.2L65.7,77.3L67.6,67.4L70.2,74.5L72.9,62L74.7,45.6L77.5,59.1L79.7,71.1L82.2,66.6L84.8,75.7L86.4,74.4L89,77.6L90.6,75.3L92.5,77.1L94.6,76L96.8,77.1L98.6,77.8L100.5,79.2L102.6,76.8L104.5,78.5L106.9,80.6L107.2,81.6L130.5,81.6L130.5,81.6Z" fill="#f7693d" stroke="#fff" stroke-opacity="0.55" stroke-width="0.80" stroke-linejoin="round"/><path d="M36,84.1L36,84.1L44.7,84.1L46.4,82.5L48.7,80.7L50.9,81.5L53.6,81.7L56.1,79.2L58.8,80.5L60.8,79.6L62.6,79.2L64.5,79.7L66.8,76.3L69.5,71.7L72.3,72.4L74.6,63.9L76.7,65.6L78.4,60.1L79.9,72.9L82.5,75.1L84.2,69.7L86.3,69.5L88.3,64.9L90.3,74.5L93.2,79.8L95.1,77.9L96.8,80L98.8,79.1L100.8,75.8L102.7,81.7L104.6,82.5L106.3,81.5L109,82.2L109.5,84.1L130.5,84.1L130.5,84.1Z" fill="#fd6f42" stroke="#fff" stroke-opacity="0.55" stroke-width="0.80" stroke-linejoin="round"/><path d="M36,85L36,85L44.4,85L45.6,82.6L47.5,83.3L50.1,81L52.6,82.3L54.5,81.3L57.4,82.3L60.1,80.2L62.7,81.2L65.5,76.9L67.2,77.1L69.9,78.7L71.6,71L73.2,68.8L75.6,59.8L78.4,59.8L80.7,69.5L82.7,70.1L84.5,73.7L86.4,77.8L88.1,75.4L90,77.6L91.7,73L93.3,80.9L95.3,80.8L97.7,80.3L100.2,81.5L102.7,81.2L105.1,80.7L107.5,81.6L110.2,84.4L110.3,85L130.5,85L130.5,85Z" fill="#ff7144" stroke="#fff" stroke-opacity="0.55" stroke-width="0.80" stroke-linejoin="round"/><path d="M36,91.2L36,91.2L42.1,91.2L43.7,89.3L45.5,88L47.9,89.3L50.7,88.6L53.2,87L56,85.3L58.1,86.5L60.5,87L62.7,88.1L64.7,86.8L67.5,80.9L70.2,81.6L72.9,84.2L75,79.3L76.6,73L78.4,79.2L81,78.6L82.8,74.3L85.2,83.2L87.9,80.5L90.2,85.3L92.8,80.6L94.6,87L97,85.8L99.8,86.8L101.6,86.3L103.3,83.9L105.3,86.5L107.9,84.3L110.4,88.5L113.3,89L115.3,89.8L115.8,91.2L130.5,91.2L130.5,91.2Z" fill="#ff7f50" stroke="#fff" stroke-opacity="0.55" stroke-width="0.80" stroke-linejoin="round"/><path d="M36,92.1L36,92.1L41.8,92.1L43.6,89.6L46.3,88.5L48.7,90.2L51.2,89L53.1,86.5L55.6,85.2L57.7,87.6L60.4,88.1L63,84.4L65.1,76.6L67,81.4L69.8,80.6L72.6,80.1L74.5,61.4L76.8,66.4L79.1,75.4L81.4,77.9L83.9,84.2L86,77.3L88.1,84.6L90.1,87.4L92.6,88.6L94.9,84.9L97.6,84.1L100,88.2L102.7,86.7L104.6,87.9L106.6,88.7L109,90.3L110.7,87.8L113,90.1L115.5,89.8L116.6,92.1L130.5,92.1L130.5,92.1Z" fill="#ff8152" stroke="#fff" stroke-opacity="0.55" stroke-width="0.80" stroke-linejoin="round"/><path d="M36,93L36,93L41.4,93L42.6,90.9L45.1,91.4L46.8,91.4L49.5,89.8L52.1,87L54.5,87.2L56.5,88.2L58.4,87.8L61.1,88.7L62.9,88.9L65.3,85.7L67,85.1L68.9,73.5L70.8,86.8L73.2,83.3L75.6,82L78.3,78.4L80,78.4L82.8,81.2L84.6,76L87.2,84L89.9,86.6L92.3,86L94.7,88L96.3,86.5L98.9,89.3L101,87.8L103.2,88.6L105,87.1L106.6,89L109.4,89.8L112.2,87.8L114,90.7L115.7,91.4L117.4,93L130.5,93L130.5,93Z" fill="#ff8354" stroke="#fff" stroke-opacity="0.55" stroke-width="0.80" stroke-linejoin="round"/><path d="M36,97.8L36,97.8L39.6,97.8L41.5,95.9L43.7,94.3L46.5,93.3L48.7,93.4L50.4,91.9L52.9,91.3L55.8,92.5L57.4,92.7L60,91.5L62.1,90.1L64.4,93.2L65.9,84.5L68.5,89.5L70.1,88.1L72.9,88.4L74.9,68L76.5,87.9L78.7,72.6L81.1,79.9L83.7,83.4L86,87.7L88.6,92L90.9,87.9L92.6,93.3L94.7,90.3L96.9,92.1L99.3,92.6L101,90.4L103.2,94.8L105.8,93.8L108,95.2L110,93.9L112.7,93.2L115.3,95.9L117.4,94.5L119.9,95.4L121.7,97.8L130.5,97.8L130.5,97.8Z" fill="#ff8d5d" stroke="#fff" stroke-opacity="0.55" stroke-width="0.80" stroke-linejoin="round"/><path d="M36,98.7L36,98.7L39.3,98.7L40.8,97.4L42.5,95.3L44.6,96.8L46.9,96.3L48.9,94.8L51,95.1L52.6,94.4L54.8,94.3L56.4,94.1L58.9,93L61.4,93.6L63.1,89.8L65.6,85L68.4,89.4L70.5,86.2L73.3,74.6L75.2,87.8L77.6,71.1L79.2,78L80.8,79.5L83.4,87.8L86.2,93.4L88.7,90.9L90.8,91.1L93.5,89.7L95.3,95.3L97.1,92.6L100,89.4L101.8,91.3L103.5,91.4L106,93.7L108.2,96.3L110.8,95.2L113,95.7L114.8,95.5L117.1,95.3L119.2,96.3L120.7,95L122.5,98.7L130.5,98.7L130.5,98.7Z" fill="#ff8f5f" stroke="#fff" stroke-opacity="0.55" stroke-width="0.80" stroke-linejoin="round"/><path d="M36,101.8L36,101.8L38.2,101.8L39.6,100.5L41.8,96.8L43.7,97.8L46.1,94.7L47.7,97.1L50.1,94.1L52.4,98.9L54,96.9L55.9,94.5L57.5,98.3L59,94.9L61.4,96.9L64,95.9L66.7,97.2L69.1,93.8L71.4,96.1L73.4,88.5L75.9,89.7L77.9,80.8L80.2,86.5L81.9,83.7L84.2,90.3L87.1,93.7L89.9,85.3L92.1,82.9L94.6,87.1L97,93.5L99.2,96.6L101.4,97.3L103,94.2L105.7,95.8L107.5,94.8L110.3,96.7L113,96.9L115.4,98.6L117.7,97.3L120.2,99.8L121.8,99.8L123.8,98.1L125.3,101.8L130.5,101.8L130.5,101.8Z" fill="#ff9564" stroke="#fff" stroke-opacity="0.55" stroke-width="0.80" stroke-linejoin="round"/><path d="M36,102.7L36,102.7L37.8,102.7L39.8,101.3L41.9,99.9L43.5,101L45,98.2L47.9,99L50.5,97L52.7,96.6L54.6,95.8L57.2,98L58.9,90.7L60.7,99.4L63.5,98.9L65.4,94.6L67.2,94.4L69,98.1L71.7,92.6L74.1,87.7L75.7,81.2L77.4,94.3L79,87.1L80.8,87.2L83.1,91.5L86,84.8L87.6,95.6L89.1,86.5L91.4,89.9L93.9,97.8L96.4,96L99.1,97.1L101.1,89.8L103.5,94.3L105.6,94.6L108.2,95.4L110.6,96.4L112.8,96.5L115.4,97.1L117.1,100.4L119.9,100.7L122.4,98.7L124.1,100.7L126.1,102.7L130.5,102.7L130.5,102.7Z" fill="#ff9766" stroke="#fff" stroke-opacity="0.55" stroke-width="0.80" stroke-linejoin="round"/><path d="M36,103.6L36,103.6L37.5,103.6L39.6,101L41.9,97.8L44.7,100.3L47.3,101.4L48.9,98.1L51.4,97.6L53.2,98.7L55.3,99.7L57.9,97.7L59.6,97.7L61.6,93.8L63.8,92.9L66.5,93.8L68.2,91.1L70,86.1L72.1,88.7L74.5,79.5L76.6,74.5L78.9,79L80.7,87L83.1,93.3L85.8,95.4L88.4,90.7L90.4,93.3L92.7,98.7L95.2,94.5L96.9,95.4L99.7,97.4L101.8,97.5L104.2,96.2L106,96.6L107.7,98.8L110,100.7L112.5,100.6L115.2,99.5L117.5,101.8L120.1,99.5L122.9,100.6L124.5,99.8L126.9,103.6L130.5,103.6L130.5,103.6Z" fill="#ff9968" stroke="#fff" stroke-opacity="0.55" stroke-width="0.80" stroke-linejoin="round"/><path d="M36,104.5L36,104.5L37.2,104.5L39.2,102L41.5,103.1L43.6,102.7L45.8,102.1L47.5,100.7L49.6,99.3L52.2,98.3L53.8,101L55.8,98.5L57.7,100.6L60.6,92.1L63,96L65.4,95.1L67.9,99.2L70.2,97.8L72.8,93.5L75.3,84.4L77.2,89.6L79,87.3L81.1,82.5L84,94.2L85.6,88.6L87.4,91.1L90,90.3L92.2,98.6L94,100.2L96.5,96.7L98.2,99.9L100.4,97.8L102.7,96.3L105,99.5L106.8,100.7L109,101.7L110.9,98.6L113.3,98.7L115.6,101.5L117.5,101.7L119.2,102.4L120.9,100L123.4,102.9L125.2,102.4L127.7,104.5L130.5,104.5L130.5,104.5Z" fill="#ff9b69" stroke="#fff" stroke-opacity="0.55" stroke-width="0.80" stroke-linejoin="round"/><path d="M36,105.3L36,105.3L36.9,105.3L38,103.5L40.4,103.8L42.8,101.8L44.4,103.3L46.3,102.9L48.1,96.8L50.4,99.7L52.7,101.3L55.2,100.7L57,99.3L59.4,100.1L61.3,96.7L64,94.6L66.2,96.8L68.3,98.2L70.1,97.1L72.9,86.6L75.2,90.3L77.1,84.6L79.2,90.7L81.8,89.6L83.5,90.5L85.2,96.7L86.9,96.1L89.4,95.6L91.4,99.9L94.1,95.2L96.4,98.1L98.5,97.7L100.3,95L102.7,97.6L105.2,100L107.5,96.9L110.2,99.7L111.8,100.2L114.4,99.5L116.1,102.6L117.7,101.8L119.6,101L122.2,101L123.8,100.2L126.3,103.6L128.4,103.8L128.4,105.3L130.5,105.3L130.5,105.3Z" fill="#ff9c6b" stroke="#fff" stroke-opacity="0.55" stroke-width="0.80" stroke-linejoin="round"/><path d="M36,107.6L36,107.6L36,107.6L37.8,105.6L39.5,105.2L41.6,103.3L44.4,100.4L46.6,104.8L48.8,102L50.4,101.2L52.2,104.6L53.8,104.2L55.6,101.4L58,96.2L60.4,98.6L62,99.8L64.1,96.3L66.5,102.9L68.2,98.3L69.8,101.6L71.8,95.2L73.7,82.9L76.2,98.6L78.8,85.3L81.6,92.9L84.2,92.5L86.7,98.6L88.9,100.3L90.7,102L93.3,98.4L96.1,100.1L97.7,101.6L100.1,97.9L102,94.3L104.6,104.2L107.2,99.2L109.6,102.7L111.8,102.8L114.6,104L117.5,104.1L119.7,104.6L121.6,104.4L124.2,103.5L126.1,104.4L128.4,105.7L130.5,107.6L130.5,107.6L130.5,107.6Z" fill="#ffa16f" stroke="#fff" stroke-opacity="0.55" stroke-width="0.80" stroke-linejoin="round"/><path d="M23.5,109.4H148.5" stroke="#d8d8d8" stroke-width="0.7"/><path d="M23.50,109.4V111.6" stroke="#cfcfcf" stroke-width="0.7"/><path d="M41.36,109.4V111.6" stroke="#cfcfcf" stroke-width="0.7"/><path d="M59.21,109.4V111.6" stroke="#cfcfcf" stroke-width="0.7"/><path d="M77.07,109.4V111.6" stroke="#cfcfcf" stroke-width="0.7"/><path d="M94.93,109.4V111.6" stroke="#cfcfcf" stroke-width="0.7"/><path d="M112.79,109.4V111.6" stroke="#cfcfcf" stroke-width="0.7"/><path d="M130.64,109.4V111.6" stroke="#cfcfcf" stroke-width="0.7"/><path d="M148.50,109.4V111.6" stroke="#cfcfcf" stroke-width="0.7"/><text transform="translate(23.50,118.8) scale(0.87,1)" class="xl">-0.015</text><text transform="translate(59.21,118.8) scale(0.87,1)" class="xl">-0.005</text><text transform="translate(94.93,118.8) scale(0.87,1)" class="xl">0.005</text><text transform="translate(130.64,118.8) scale(0.87,1)" class="xl">0.015</text><path d="M148.5,74.32H151.3" stroke="#cfcfcf" stroke-width="0.7"/><path d="M148.5,80.94H151.3" stroke="#cfcfcf" stroke-width="0.7"/><path d="M148.5,87.57H151.3" stroke="#cfcfcf" stroke-width="0.7"/><path d="M148.5,94.19H151.3" stroke="#cfcfcf" stroke-width="0.7"/><path d="M148.5,100.81H151.3" stroke="#cfcfcf" stroke-width="0.7"/><path d="M148.5,107.43H151.3" stroke="#cfcfcf" stroke-width="0.7"/><text transform="translate(153.5,76.72) scale(0.87,1)" class="yl">20</text><text transform="translate(153.5,89.97) scale(0.87,1)" class="yl">60</text><text transform="translate(153.5,103.21) scale(0.87,1)" class="yl">100</text></svg><svg class="ic" viewBox="5 5 14 14" width="9" height="9"><path d="M7 14H5v5h5v-2H7v-3zm-2-4h2V7h3V5H5v5zm12 7h-3v2h5v-5h-2v3zM14 5v2h3v3h2V5h-5z" fill="#5f7b8b"/></svg></div><div class="cell" style="left:392.00px;top:0.00px"><div class="bar"></div><div class="ttl">layer1/layer</div><div class="dot">.</div><svg class="ch" width="196" height="141" viewBox="0 0 196 141"><rect x="23.5" y="68.60" width="125.0" height="2.70" fill="#000" fill-opacity="0.13"/><rect x="23.5" y="77.50" width="125.0" height="1.70" fill="#000" fill-opacity="0.13"/><rect x="23.5" y="80.10" width="125.0" height="2.20" fill="#000" fill-opacity="0.13"/><rect x="23.5" y="83.60" width="125.0" height="1.80" fill="#000" fill-opacity="0.13"/><rect x="23.5" y="90.70" width="125.0" height="3.10" fill="#000" fill-opacity="0.13"/><rect x="23.5" y="97.30" width="125.0" height="1.80" fill="#000" fill-opacity="0.13"/><rect x="23.5" y="101.30" width="125.0" height="4.40" fill="#000" fill-opacity="0.13"/><rect x="23.5" y="107.00" width="125.0" height="1.10" fill="#000" fill-opacity="0.13"/><path d="M39.5,69.1L39.5,69.1L55.1,69.1L56.4,68.7L57.6,68.4L58.8,68.1L60,67.8L61.2,66.9L62.4,66.1L63.6,65.2L64.8,64.3L66,63.4L67.2,62.5L68.4,61.5L69.6,60.6L70.8,59.6L72,58.7L73.2,57.9L74.4,57.1L75.6,56.3L76.8,55.7L78,55.2L79.2,54.7L80.4,54.1L81.6,53.6L82.8,53.6L84,53.6L85.2,53.6L86.4,53.6L87.7,53.6L88.9,53.6L90.1,53.6L91.3,53.9L92.5,54.7L93.7,55.5L94.9,56.3L96.1,57.1L97.3,58.2L98.5,59.4L99.7,60.6L100.9,61.8L102.1,63L103.3,64L104.5,64.5L105.7,65.1L106.9,65.6L108.1,66.1L109.3,66.7L110.5,67.2L111.7,67.6L112.9,67.9L114.1,68.2L115.3,68.5L116.5,68.9L117.7,69.1L134.6,69.1L134.6,69.1Z" fill="#ce451d" stroke="#fff" stroke-opacity="0.55" stroke-width="0.80" stroke-linejoin="round"/><path d="M39.5,70L39.5,70L55.1,70L56.4,69.6L57.6,69.2L58.8,68.9L60,68.5L61.2,67.6L62.4,66.7L63.6,65.7L64.8,64.8L66,63.8L67.2,62.8L68.4,61.7L69.6,60.7L70.8,59.6L72,58.6L73.2,57.8L74.4,56.9L75.6,56.1L76.8,55.4L78,54.8L79.2,54.3L80.4,53.7L81.6,53.1L82.8,53.1L84,53.1L85.2,53.1L86.4,53.1L87.7,53.1L88.9,53.1L90.1,53.1L91.3,53.5L92.5,54.3L93.7,55.2L94.9,56L96.1,56.9L97.3,58.1L98.5,59.4L99.7,60.7L100.9,62L102.1,63.3L103.3,64.4L104.5,65L105.7,65.6L106.9,66.2L108.1,66.8L109.3,67.4L110.5,68L111.7,68.4L112.9,68.7L114.1,69.1L115.3,69.4L116.5,69.7L117.7,70L134.6,70L134.6,70Z" fill="#d24820" stroke="#fff" stroke-opacity="0.55" stroke-width="0.80" stroke-linejoin="round"/><path d="M39.5,70.9L39.5,70.9L55.1,70.9L56.4,70.5L57.6,70.1L58.8,69.7L60,69.3L61.2,68.3L62.4,67.3L63.6,66.3L64.8,65.3L66,64.2L67.2,63.1L68.4,61.9L69.6,60.8L70.8,59.7L72,58.5L73.2,57.6L74.4,56.7L75.6,55.8L76.8,55.1L78,54.5L79.2,53.9L80.4,53.2L81.6,52.6L82.8,52.6L84,52.6L85.2,52.6L86.4,52.6L87.7,52.6L88.9,52.6L90.1,52.6L91.3,53L92.5,53.9L93.7,54.8L94.9,55.7L96.1,56.7L97.3,58L98.5,59.4L99.7,60.8L100.9,62.3L102.1,63.7L103.3,64.9L104.5,65.5L105.7,66.1L106.9,66.8L108.1,67.4L109.3,68L110.5,68.7L111.7,69.2L112.9,69.5L114.1,69.9L115.3,70.2L116.5,70.6L117.7,70.9L134.6,70.9L134.6,70.9Z" fill="#d54b23" stroke="#fff" stroke-opacity="0.55" stroke-width="0.80" stroke-linejoin="round"/><path d="M39.5,74.3L39.5,74.3L53.9,74.3L55.1,74.2L56.4,73.5L57.6,72.8L58.8,72L60,71.3L61.2,69.4L62.4,67.5L63.6,65.6L64.8,63.7L66,61.6L67.2,59.5L68.4,57.4L69.6,55.3L70.8,53.1L72,51L73.2,49.3L74.4,47.6L75.6,45.9L76.8,44.5L78,43.3L79.2,42.1L80.4,40.9L81.6,39.8L82.8,39.7L84,39.7L85.2,39.7L86.4,39.7L87.7,39.7L88.9,39.7L90.1,39.7L91.3,40.5L92.5,42.2L93.7,44L94.9,45.7L96.1,47.4L97.3,49.9L98.5,52.6L99.7,55.3L100.9,58L102.1,60.7L103.3,62.9L104.5,64.1L105.7,65.3L106.9,66.5L108.1,67.7L109.3,68.9L110.5,70.1L111.7,71L112.9,71.7L114.1,72.4L115.3,73.1L116.5,73.8L117.7,74.3L134.6,74.3L134.6,74.3Z" fill="#e1562c" stroke="#fff" stroke-opacity="0.55" stroke-width="0.80" stroke-linejoin="round"/><path d="M39.5,78L39.5,78L51.5,78L52.7,77.9L53.9,77.9L55.1,77.9L56.4,77.9L57.6,77.8L58.8,77.8L60,77.7L61.2,77.6L62.4,77.5L63.6,77.4L64.8,77.1L66,76.8L67.2,76.4L68.4,75.9L69.6,75.3L70.8,74.5L72,73.7L73.2,72.9L74.4,72L75.6,71.1L76.8,70.3L78,69.5L79.2,68.8L80.4,68.3L81.6,67.9L82.8,67.6L84,67.6L85.2,67.8L86.4,68.1L87.7,68.5L88.9,68.9L90.1,69.4L91.3,69.9L92.5,70.4L93.7,71L94.9,71.6L96.1,72.3L97.3,73L98.5,73.7L99.7,74.3L100.9,74.9L102.1,75.5L103.3,76L104.5,76.4L105.7,76.7L106.9,77L108.1,77.3L109.3,77.4L110.5,77.6L111.7,77.7L112.9,77.8L114.1,77.8L115.3,77.9L116.5,77.9L117.7,78L132.2,78L133.4,77.5L134.6,77.6L134.6,78Z" fill="#ec6035" stroke="#fff" stroke-opacity="0.55" stroke-width="0.80" stroke-linejoin="round"/><path d="M39.5,78.8L39.5,78.8L51.5,78.8L52.7,78.7L53.9,78.7L55.1,78.7L56.4,78.6L57.6,78.6L58.8,78.5L60,78.3L61.2,78.2L62.4,78L63.6,77.7L64.8,77.3L66,76.8L67.2,76.2L68.4,75.4L69.6,74.6L70.8,73.7L72,72.9L73.2,72L74.4,71.2L75.6,70.5L76.8,69.8L78,69.2L79.2,68.5L80.4,67.9L81.6,67.2L82.8,66.7L84,66.3L85.2,66L86.4,66L87.7,66.1L88.9,66.5L90.1,67L91.3,67.7L92.5,68.5L93.7,69.4L94.9,70.3L96.1,71.2L97.3,72.1L98.5,73L99.7,73.9L100.9,74.6L102.1,75.3L103.3,75.9L104.5,76.5L105.7,77L106.9,77.3L108.1,77.7L109.3,77.9L110.5,78.1L111.7,78.3L112.9,78.4L114.1,78.5L115.3,78.6L116.5,78.7L117.7,78.7L119,78.7L120.2,78.8L133.4,78.8L134.6,78.4L134.6,78.8Z" fill="#ef6236" stroke="#fff" stroke-opacity="0.55" stroke-width="0.80" stroke-linejoin="round"/><path d="M39.5,80.6L39.5,80.2L40.7,80.1L41.9,80.6L51.5,80.6L52.7,80.5L53.9,80.5L55.1,80.5L56.4,80.4L57.6,80.4L58.8,80.3L60,80.2L61.2,80.1L62.4,79.9L63.6,79.7L64.8,79.4L66,79.1L67.2,78.7L68.4,78.2L69.6,77.7L70.8,77.1L72,76.4L73.2,75.7L74.4,74.9L75.6,74.1L76.8,73.2L78,72.3L79.2,71.4L80.4,70.5L81.6,69.7L82.8,69L84,68.4L85.2,68L86.4,67.9L87.7,68L88.9,68.3L90.1,68.8L91.3,69.3L92.5,69.9L93.7,70.5L94.9,71L96.1,71.7L97.3,72.4L98.5,73.3L99.7,74.3L100.9,75.2L102.1,76.2L103.3,77L104.5,77.7L105.7,78.3L106.9,78.7L108.1,79.1L109.3,79.4L110.5,79.7L111.7,79.9L112.9,80.1L114.1,80.2L115.3,80.3L116.5,80.4L117.7,80.5L119,80.5L120.2,80.5L121.4,80.6L132.2,80.6L133.4,80.2L134.6,80.3L134.6,80.6Z" fill="#f4663a" stroke="#fff" stroke-opacity="0.55" stroke-width="0.80" stroke-linejoin="round"/><path d="M39.5,81.6L39.5,81.6L47.9,81.6L49.1,81.5L50.3,81.5L51.5,81.5L52.7,81.4L53.9,81.4L55.1,81.3L56.4,81.2L57.6,81L58.8,80.9L60,80.6L61.2,80.4L62.4,80L63.6,79.6L64.8,79.2L66,78.6L67.2,78L68.4,77.3L69.6,76.6L70.8,75.8L72,74.9L73.2,74L74.4,73.1L75.6,72.2L76.8,71.2L78,70.4L79.2,69.6L80.4,69L81.6,68.6L82.8,68.4L84,68.4L85.2,68.5L86.4,68.8L87.7,69.2L88.9,69.7L90.1,70.4L91.3,71.2L92.5,72L93.7,72.9L94.9,73.8L96.1,74.7L97.3,75.6L98.5,76.5L99.7,77.2L100.9,77.9L102.1,78.6L103.3,79.1L104.5,79.6L105.7,80L106.9,80.3L108.1,80.6L109.3,80.9L110.5,81L111.7,81.2L112.9,81.3L114.1,81.4L115.3,81.4L116.5,81.5L117.7,81.5L119,81.5L120.2,81.6L129.8,81.6L131,81.2L132.2,81.3L133.4,81.3L134.6,81.4L134.6,81.6Z" fill="#f7693d" stroke="#fff" stroke-opacity="0.55" stroke-width="0.80" stroke-linejoin="round"/><path d="M39.5,84.1L39.5,84.1L49.1,84.1L50.3,84L51.5,84L52.7,84L53.9,83.9L55.1,83.9L56.4,83.8L57.6,83.7L58.8,83.5L60,83.4L61.2,83.1L62.4,82.9L63.6,82.5L64.8,82.2L66,81.7L67.2,81.2L68.4,80.6L69.6,79.9L70.8,79.2L72,78.4L73.2,77.6L74.4,76.7L75.6,75.9L76.8,75L78,74.1L79.2,73.4L80.4,72.6L81.6,72L82.8,71.5L84,71.2L85.2,70.9L86.4,70.8L87.7,70.8L88.9,70.9L90.1,71L91.3,71.2L92.5,71.6L93.7,72.3L94.9,73.2L96.1,74.2L97.3,75L98.5,75.7L99.7,76.4L100.9,77L102.1,77.7L103.3,78.5L104.5,79.2L105.7,80L106.9,80.8L108.1,81.5L109.3,82.1L110.5,82.6L111.7,83L112.9,83.3L114.1,83.5L115.3,83.7L116.5,83.8L117.7,83.9L119,83.9L120.2,84L121.4,84L122.6,84L123.8,84.1L134.6,84.1L134.6,84.1Z" fill="#fd6f42" stroke="#fff" stroke-opacity="0.55" stroke-width="0.80" stroke-linejoin="round"/><path d="M39.5,85L39.5,84.6L40.7,85L49.1,85L50.3,84.9L51.5,84.9L52.7,84.9L53.9,84.8L55.1,84.8L56.4,84.7L57.6,84.6L58.8,84.4L60,84.3L61.2,84.1L62.4,83.8L63.6,83.5L64.8,83.1L66,82.7L67.2,82.1L68.4,81.6L69.6,80.9L70.8,80.2L72,79.4L73.2,78.6L74.4,77.7L75.6,76.8L76.8,75.9L78,75L79.2,74.2L80.4,73.4L81.6,72.8L82.8,72.3L84,72L85.2,72L86.4,72.2L87.7,72.6L88.9,73.1L90.1,73.6L91.3,74.1L92.5,74.7L93.7,75.5L94.9,76.5L96.1,77.6L97.3,78.7L98.5,79.5L99.7,80.2L100.9,80.8L102.1,81.2L103.3,81.6L104.5,82L105.7,82.4L106.9,82.8L108.1,83.1L109.3,83.4L110.5,83.7L111.7,83.9L112.9,84.2L114.1,84.4L115.3,84.5L116.5,84.6L117.7,84.7L119,84.8L120.2,84.8L121.4,84.9L122.6,84.9L123.8,84.9L125,85L133.4,85L134.6,84.6L134.6,85Z" fill="#ff7144" stroke="#fff" stroke-opacity="0.55" stroke-width="0.80" stroke-linejoin="round"/><path d="M39.5,91.2L39.5,91.2L45.5,91.2L46.7,91.1L47.9,91.1L49.1,91.1L50.3,91.1L51.5,91L52.7,90.9L53.9,90.9L55.1,90.8L56.4,90.6L57.6,90.5L58.8,90.3L60,90.1L61.2,89.8L62.4,89.6L63.6,89.4L64.8,89.1L66,88.9L67.2,88.6L68.4,88.2L69.6,87.7L70.8,86.9L72,85.9L73.2,84.9L74.4,83.7L75.6,82.6L76.8,81.5L78,80.5L79.2,79.7L80.4,78.9L81.6,78.3L82.8,77.7L84,77.3L85.2,77L86.4,76.9L87.7,76.9L88.9,76.9L90.1,77L91.3,77.2L92.5,77.4L93.7,77.7L94.9,78.3L96.1,79.1L97.3,80L98.5,81L99.7,81.9L100.9,82.6L102.1,83.3L103.3,83.8L104.5,84.5L105.7,85.2L106.9,86.1L108.1,87L109.3,87.8L110.5,88.6L111.7,89.2L112.9,89.6L114.1,90L115.3,90.3L116.5,90.5L117.7,90.6L119,90.8L120.2,90.9L121.4,90.9L122.6,91L123.8,91.1L125,91.1L126.2,91.1L127.4,91.1L128.6,91.2L134.6,91.2L134.6,91.2Z" fill="#ff7f50" stroke="#fff" stroke-opacity="0.55" stroke-width="0.80" stroke-linejoin="round"/><path d="M39.5,92.1L39.5,91.6L40.7,92.1L44.3,92.1L45.5,92L46.7,92L47.9,92L49.1,91.9L50.3,91.9L51.5,91.8L52.7,91.7L53.9,91.6L55.1,91.5L56.4,91.3L57.6,91.1L58.8,90.8L60,90.6L61.2,90.2L62.4,89.8L63.6,89.4L64.8,88.9L66,88.3L67.2,87.8L68.4,87.1L69.6,86.4L70.8,85.6L72,84.7L73.2,83.7L74.4,82.8L75.6,81.9L76.8,81.1L78,80.3L79.2,79.6L80.4,78.9L81.6,78.4L82.8,78L84,77.9L85.2,77.9L86.4,78.3L87.7,78.9L88.9,79.5L90.1,79.9L91.3,80.1L92.5,80.2L93.7,80.3L94.9,80.4L96.1,80.7L97.3,81.2L98.5,81.9L99.7,82.9L100.9,84L102.1,85.2L103.3,86.3L104.5,87.3L105.7,88.1L106.9,88.7L108.1,89.3L109.3,89.8L110.5,90.2L111.7,90.5L112.9,90.8L114.1,91.1L115.3,91.3L116.5,91.5L117.7,91.6L119,91.7L120.2,91.8L121.4,91.9L122.6,91.9L123.8,92L125,92L126.2,92L127.4,92.1L131,92.1L132.2,91.6L133.4,91.7L134.6,91.8L134.6,92.1Z" fill="#ff8152" stroke="#fff" stroke-opacity="0.55" stroke-width="0.80" stroke-linejoin="round"/><path d="M39.5,93L39.5,93L43.1,93L44.3,92.9L45.5,92.9L46.7,92.9L47.9,92.8L49.1,92.8L50.3,92.7L51.5,92.6L52.7,92.5L53.9,92.3L55.1,92.2L56.4,91.9L57.6,91.7L58.8,91.4L60,91L61.2,90.6L62.4,90.1L63.6,89.5L64.8,88.9L66,88.2L67.2,87.5L68.4,86.6L69.6,85.8L70.8,84.9L72,83.9L73.2,83L74.4,82L75.6,81.1L76.8,80.1L78,79.2L79.2,78.3L80.4,77.3L81.6,76.3L82.8,75.4L84,74.6L85.2,74.1L86.4,74L87.7,74.3L88.9,75L90.1,76L91.3,77.1L92.5,78.3L93.7,79.5L94.9,80.6L96.1,81.7L97.3,82.7L98.5,83.7L99.7,84.7L100.9,85.6L102.1,86.5L103.3,87.3L104.5,88.1L105.7,88.8L106.9,89.4L108.1,90L109.3,90.5L110.5,90.9L111.7,91.3L112.9,91.6L114.1,91.9L115.3,92.1L116.5,92.3L117.7,92.5L119,92.6L120.2,92.7L121.4,92.8L122.6,92.8L123.8,92.9L125,92.9L126.2,92.9L127.4,92.9L128.6,93L132.2,93L133.4,92.6L134.6,92.7L134.6,93Z" fill="#ff8354" stroke="#fff" stroke-opacity="0.55" stroke-width="0.80" stroke-linejoin="round"/><path d="M39.5,97.8L39.5,97.4L40.7,97.8L41.9,97.8L43.1,97.7L44.3,97.7L45.5,97.7L46.7,97.7L47.9,97.6L49.1,97.6L50.3,97.5L51.5,97.4L52.7,97.3L53.9,97.2L55.1,97L56.4,96.8L57.6,96.6L58.8,96.3L60,96L61.2,95.6L62.4,95.2L63.6,94.7L64.8,94.2L66,93.6L67.2,93L68.4,92.2L69.6,91.5L70.8,90.7L72,89.9L73.2,89L74.4,88.2L75.6,87.4L76.8,86.7L78,86.1L79.2,85.6L80.4,85.4L81.6,85.3L82.8,85.4L84,85.6L85.2,85.9L86.4,86L87.7,86.2L88.9,86.2L90.1,86.1L91.3,86L92.5,85.9L93.7,85.8L94.9,85.9L96.1,86.2L97.3,86.6L98.5,87.1L99.7,87.8L100.9,88.6L102.1,89.4L103.3,90.2L104.5,91L105.7,91.8L106.9,92.5L108.1,93.2L109.3,93.8L110.5,94.4L111.7,94.9L112.9,95.4L114.1,95.8L115.3,96.1L116.5,96.4L117.7,96.7L119,96.9L120.2,97.1L121.4,97.2L122.6,97.4L123.8,97.5L125,97.5L126.2,97.6L127.4,97.6L128.6,97.7L129.8,97.7L131,97.7L132.2,97.8L133.4,97.8L134.6,97.3L134.6,97.8Z" fill="#ff8d5d" stroke="#fff" stroke-opacity="0.55" stroke-width="0.80" stroke-linejoin="round"/><path d="M39.5,98.7L39.5,98.7L40.7,98.7L41.9,98.6L43.1,98.6L44.3,98.6L45.5,98.5L46.7,98.5L47.9,98.4L49.1,98.3L50.3,98.2L51.5,98.1L52.7,98L53.9,97.8L55.1,97.6L56.4,97.3L57.6,97L58.8,96.7L60,96.3L61.2,95.8L62.4,95.3L63.6,94.6L64.8,93.9L66,93L67.2,92.1L68.4,91.1L69.6,90.2L70.8,89.4L72,88.7L73.2,87.8L74.4,86.9L75.6,85.9L76.8,84.9L78,83.9L79.2,83L80.4,82.3L81.6,81.7L82.8,81.4L84,81.2L85.2,81.2L86.4,81.3L87.7,81.5L88.9,81.9L90.1,82.3L91.3,82.8L92.5,83.5L93.7,84.2L94.9,84.9L96.1,85.8L97.3,86.7L98.5,87.6L99.7,88.6L100.9,89.6L102.1,90.5L103.3,91.4L104.5,92.2L105.7,93L106.9,93.7L108.1,94.3L109.3,94.9L110.5,95.5L111.7,96L112.9,96.4L114.1,96.8L115.3,97.1L116.5,97.4L117.7,97.7L119,97.9L120.2,98L121.4,98.2L122.6,98.3L123.8,98.4L125,98.5L126.2,98.5L127.4,98.6L128.6,98.6L129.8,98.6L131,98.6L132.2,98.7L133.4,98.7L134.6,98.3L134.6,98.7Z" fill="#ff8f5f" stroke="#fff" stroke-opacity="0.55" stroke-width="0.80" stroke-linejoin="round"/><path d="M39.5,101.8L39.5,101.7L40.7,101.7L41.9,101.7L43.1,101.6L44.3,101.6L45.5,101.5L46.7,101.4L47.9,101.3L49.1,101.2L50.3,101L51.5,100.8L52.7,100.6L53.9,100.4L55.1,100.1L56.4,99.7L57.6,99.3L58.8,98.8L60,98.3L61.2,97.6L62.4,96.8L63.6,96L64.8,95L66,94.1L67.2,93.1L68.4,92.2L69.6,91.3L70.8,90.4L72,89.5L73.2,88.6L74.4,87.5L75.6,86.4L76.8,85.4L78,84.6L79.2,84.1L80.4,83.9L81.6,83.8L82.8,83.8L84,83.9L85.2,84L86.4,84.2L87.7,84.4L88.9,84.8L90.1,85.3L91.3,85.9L92.5,86.5L93.7,87.3L94.9,88.1L96.1,89L97.3,89.9L98.5,90.8L99.7,91.8L100.9,92.7L102.1,93.6L103.3,94.5L104.5,95.3L105.7,96.1L106.9,96.8L108.1,97.5L109.3,98.1L110.5,98.6L111.7,99.1L112.9,99.5L114.1,99.9L115.3,100.2L116.5,100.5L117.7,100.7L119,100.9L120.2,101.1L121.4,101.2L122.6,101.4L123.8,101.5L125,101.5L126.2,101.6L127.4,101.6L128.6,101.7L129.8,101.7L131,101.7L132.2,101.3L133.4,101.4L134.6,101.5L134.6,101.8Z" fill="#ff9564" stroke="#fff" stroke-opacity="0.55" stroke-width="0.80" stroke-linejoin="round"/><path d="M39.5,102.7L39.5,102.3L40.7,102.6L41.9,102.6L43.1,102.6L44.3,102.5L45.5,102.5L46.7,102.4L47.9,102.3L49.1,102.2L50.3,102.1L51.5,102L52.7,101.8L53.9,101.6L55.1,101.4L56.4,101.1L57.6,100.8L58.8,100.4L60,100L61.2,99.5L62.4,98.9L63.6,98.4L64.8,97.7L66,97L67.2,96.3L68.4,95.5L69.6,94.6L70.8,93.8L72,92.9L73.2,92.1L74.4,91.3L75.6,90.5L76.8,89.8L78,89.1L79.2,88.3L80.4,87.6L81.6,87L82.8,86.5L84,86.1L85.2,85.8L86.4,85.7L87.7,85.7L88.9,85.9L90.1,86.3L91.3,86.9L92.5,87.6L93.7,88.3L94.9,88.9L96.1,89.5L97.3,90.1L98.5,90.8L99.7,91.6L100.9,92.5L102.1,93.4L103.3,94.2L104.5,95.1L105.7,95.9L106.9,96.7L108.1,97.4L109.3,98.1L110.5,98.7L111.7,99.3L112.9,99.8L114.1,100.2L115.3,100.6L116.5,100.9L117.7,101.2L119,101.5L120.2,101.7L121.4,101.9L122.6,102.1L123.8,102.2L125,102.3L126.2,102.4L127.4,102.5L128.6,102.5L129.8,102.6L131,102.6L132.2,102.6L133.4,102.2L134.6,102.3L134.6,102.7Z" fill="#ff9766" stroke="#fff" stroke-opacity="0.55" stroke-width="0.80" stroke-linejoin="round"/><path d="M39.5,103.6L39.5,103.5L40.7,103.5L41.9,103.4L43.1,103.4L44.3,103.3L45.5,103.2L46.7,103.1L47.9,103L49.1,102.8L50.3,102.6L51.5,102.4L52.7,102.2L53.9,101.9L55.1,101.5L56.4,101.1L57.6,100.7L58.8,100.2L60,99.6L61.2,98.9L62.4,98.2L63.6,97.4L64.8,96.6L66,95.6L67.2,94.5L68.4,93.4L69.6,92.1L70.8,90.9L72,89.7L73.2,88.5L74.4,87.6L75.6,86.8L76.8,86.2L78,85.7L79.2,85.3L80.4,85.1L81.6,84.9L82.8,84.7L84,84.7L85.2,84.8L86.4,85L87.7,85.3L88.9,85.7L90.1,86.2L91.3,86.8L92.5,87.5L93.7,88.2L94.9,89L96.1,89.9L97.3,90.8L98.5,91.8L99.7,92.8L100.9,93.7L102.1,94.6L103.3,95.6L104.5,96.4L105.7,97.3L106.9,98L108.1,98.7L109.3,99.4L110.5,100L111.7,100.5L112.9,101L114.1,101.4L115.3,101.8L116.5,102.1L117.7,102.3L119,102.6L120.2,102.8L121.4,102.9L122.6,103.1L123.8,103.2L125,103.3L126.2,103.3L127.4,103.4L128.6,103.4L129.8,103.5L131,103.5L132.2,103.2L133.4,103.3L134.6,103.3L134.6,103.6Z" fill="#ff9968" stroke="#fff" stroke-opacity="0.55" stroke-width="0.80" stroke-linejoin="round"/><path d="M39.5,104.5L39.5,104L40.7,104.4L41.9,104.4L43.1,104.3L44.3,104.3L45.5,104.2L46.7,104.2L47.9,104.1L49.1,104L50.3,103.8L51.5,103.7L52.7,103.5L53.9,103.3L55.1,103L56.4,102.7L57.6,102.4L58.8,102L60,101.5L61.2,101L62.4,100.5L63.6,99.9L64.8,99.2L66,98.5L67.2,97.7L68.4,96.7L69.6,95.7L70.8,94.6L72,93.4L73.2,92.4L74.4,91.6L75.6,91L76.8,90.6L78,90.2L79.2,89.7L80.4,89.1L81.6,88.6L82.8,88.2L84,87.8L85.2,87.7L86.4,87.6L87.7,87.8L88.9,88L90.1,88.4L91.3,88.8L92.5,89.3L93.7,89.8L94.9,90.4L96.1,91L97.3,91.7L98.5,92.5L99.7,93.2L100.9,94.1L102.1,94.9L103.3,95.8L104.5,96.6L105.7,97.4L106.9,98.2L108.1,98.9L109.3,99.6L110.5,100.2L111.7,100.8L112.9,101.3L114.1,101.8L115.3,102.2L116.5,102.6L117.7,102.9L119,103.2L120.2,103.4L121.4,103.6L122.6,103.8L123.8,103.9L125,104L126.2,104.1L127.4,104.2L128.6,104.3L129.8,104.3L131,104.4L132.2,104.4L133.4,104.4L134.6,104.1L134.6,104.5Z" fill="#ff9b69" stroke="#fff" stroke-opacity="0.55" stroke-width="0.80" stroke-linejoin="round"/><path d="M39.5,105.3L39.5,104.8L40.7,105.2L41.9,105.2L43.1,105.1L44.3,105.1L45.5,105L46.7,105L47.9,104.9L49.1,104.8L50.3,104.6L51.5,104.5L52.7,104.3L53.9,104L55.1,103.8L56.4,103.5L57.6,103.1L58.8,102.7L60,102.3L61.2,101.8L62.4,101.2L63.6,100.6L64.8,99.9L66,99.2L67.2,98.4L68.4,97.6L69.6,96.6L70.8,95.5L72,94.2L73.2,92.6L74.4,91.2L75.6,90.4L76.8,90.1L78,89.9L79.2,89.5L80.4,89L81.6,88.5L82.8,88L84,87.7L85.2,87.4L86.4,87.3L87.7,87.3L88.9,87.4L90.1,87.6L91.3,88L92.5,88.6L93.7,89.2L94.9,90L96.1,90.9L97.3,91.9L98.5,93L99.7,94.1L100.9,95.2L102.1,96.2L103.3,97.1L104.5,97.9L105.7,98.6L106.9,99.3L108.1,99.8L109.3,100.4L110.5,100.9L111.7,101.3L112.9,101.8L114.1,102.3L115.3,102.7L116.5,103.1L117.7,103.4L119,103.7L120.2,104L121.4,104.2L122.6,104.4L123.8,104.6L125,104.7L126.2,104.8L127.4,104.9L128.6,105L129.8,105.1L131,105.1L132.2,105.2L133.4,105.2L134.6,105.2L134.6,105.3Z" fill="#ff9c6b" stroke="#fff" stroke-opacity="0.55" stroke-width="0.80" stroke-linejoin="round"/><path d="M39.5,107.6L39.5,107.5L40.7,107.4L41.9,107.4L43.1,107.3L44.3,107.2L45.5,107.2L46.7,107L47.9,106.9L49.1,106.8L50.3,106.6L51.5,106.3L52.7,106.1L53.9,105.8L55.1,105.4L56.4,105L57.6,104.6L58.8,104.1L60,103.5L61.2,102.9L62.4,102.2L63.6,101.5L64.8,100.7L66,99.9L67.2,99.1L68.4,98.3L69.6,97.4L70.8,96.7L72,95.9L73.2,95.2L74.4,94.4L75.6,93.8L76.8,93.2L78,92.6L79.2,92L80.4,91.3L81.6,90.6L82.8,90L84,89.6L85.2,89.3L86.4,89.1L87.7,89L88.9,89L90.1,89.1L91.3,89.4L92.5,89.8L93.7,90.4L94.9,91.1L96.1,92L97.3,92.8L98.5,93.8L99.7,94.7L100.9,95.7L102.1,96.6L103.3,97.6L104.5,98.5L105.7,99.4L106.9,100.3L108.1,101.1L109.3,101.9L110.5,102.6L111.7,103.2L112.9,103.8L114.1,104.3L115.3,104.8L116.5,105.2L117.7,105.6L119,105.9L120.2,106.2L121.4,106.5L122.6,106.7L123.8,106.8L125,107L126.2,107.1L127.4,107.2L128.6,107.3L129.8,107.4L131,107.4L132.2,107.4L133.4,107.5L134.6,107.5L134.6,107.6Z" fill="#ffa16f" stroke="#fff" stroke-opacity="0.55" stroke-width="0.80" stroke-linejoin="round"/><path d="M23.5,109.4H148.5" stroke="#d8d8d8" stroke-width="0.7"/><path d="M23.50,109.4V111.6" stroke="#cfcfcf" stroke-width="0.7"/><path d="M32.43,109.4V111.6" stroke="#cfcfcf" stroke-width="0.7"/><path d="M41.36,109.4V111.6" stroke="#cfcfcf" stroke-width="0.7"/><path d="M50.29,109.4V111.6" stroke="#cfcfcf" stroke-width="0.7"/><path d="M59.21,109.4V111.6" stroke="#cfcfcf" stroke-width="0.7"/><path d="M68.14,109.4V111.6" stroke="#cfcfcf" stroke-width="0.7"/><path d="M77.07,109.4V111.6" stroke="#cfcfcf" stroke-width="0.7"/><path d="M86.00,109.4V111.6" stroke="#cfcfcf" stroke-width="0.7"/><path d="M94.93,109.4V111.6" stroke="#cfcfcf" stroke-width="0.7"/><path d="M103.86,109.4V111.6" stroke="#cfcfcf" stroke-width="0.7"/><path d="M112.79,109.4V111.6" stroke="#cfcfcf" stroke-width="0.7"/><path d="M121.71,109.4V111.6" stroke="#cfcfcf" stroke-width="0.7"/><path d="M130.64,109.4V111.6" stroke="#cfcfcf" stroke-width="0.7"/><path d="M139.57,109.4V111.6" stroke="#cfcfcf" stroke-width="0.7"/><path d="M148.50,109.4V111.6" stroke="#cfcfcf" stroke-width="0.7"/><text transform="translate(23.50,118.8) scale(0.87,1)" class="xl">-1.4</text><text transform="translate(41.36,118.8) scale(0.87,1)" class="xl">-1.0</text><text transform="translate(59.21,118.8) scale(0.87,1)" class="xl">-0.6</text><text transform="translate(77.07,118.8) scale(0.87,1)" class="xl">-0.2</text><text transform="translate(94.93,118.8) scale(0.87,1)" class="xl">0.2</text><text transform="translate(112.79,118.8) scale(0.87,1)" class="xl">0.6</text><text transform="translate(130.64,118.8) scale(0.87,1)" class="xl">1.0</text><text transform="translate(148.50,118.8) scale(0.87,1)" class="xl">1.4</text><path d="M148.5,74.32H151.3" stroke="#cfcfcf" stroke-width="0.7"/><path d="M148.5,80.94H151.3" stroke="#cfcfcf" stroke-width="0.7"/><path d="M148.5,87.57H151.3" stroke="#cfcfcf" stroke-width="0.7"/><path d="M148.5,94.19H151.3" stroke="#cfcfcf" stroke-width="0.7"/><path d="M148.5,100.81H151.3" stroke="#cfcfcf" stroke-width="0.7"/><path d="M148.5,107.43H151.3" stroke="#cfcfcf" stroke-width="0.7"/><text transform="translate(153.5,76.72) scale(0.87,1)" class="yl">20</text><text transform="translate(153.5,89.97) scale(0.87,1)" class="yl">60</text><text transform="translate(153.5,103.21) scale(0.87,1)" class="yl">100</text></svg><svg class="ic" viewBox="5 5 14 14" width="9" height="9"><path d="M7 14H5v5h5v-2H7v-3zm-2-4h2V7h3V5H5v5zm12 7h-3v2h5v-5h-2v3zM14 5v2h3v3h2V5h-5z" fill="#5f7b8b"/></svg></div><div class="cell" style="left:588.00px;top:0.00px"><div class="bar"></div><div class="ttl">layer1/weights</div><div class="dot">.</div><svg class="ch" width="196" height="141" viewBox="0 0 196 141"><rect x="23.5" y="68.60" width="125.0" height="2.70" fill="#000" fill-opacity="0.13"/><rect x="23.5" y="77.50" width="125.0" height="1.70" fill="#000" fill-opacity="0.13"/><rect x="23.5" y="80.10" width="125.0" height="2.20" fill="#000" fill-opacity="0.13"/><rect x="23.5" y="83.60" width="125.0" height="1.80" fill="#000" fill-opacity="0.13"/><rect x="23.5" y="90.70" width="125.0" height="3.10" fill="#000" fill-opacity="0.13"/><rect x="23.5" y="97.30" width="125.0" height="1.80" fill="#000" fill-opacity="0.13"/><rect x="23.5" y="101.30" width="125.0" height="4.40" fill="#000" fill-opacity="0.13"/><rect x="23.5" y="107.00" width="125.0" height="1.10" fill="#000" fill-opacity="0.13"/><path d="M35.9,69.1L35.9,69.1L37.4,63.6L38.9,57L40.4,50.2L41.9,43.2L43.4,36L44.9,33.2L46.4,33.8L47.9,34.8L49.4,35.6L50.9,35.9L52.4,35.9L53.9,35.9L55.4,36L56.9,35.9L58.3,35.7L59.8,35.4L61.3,35.2L62.8,35.1L64.3,35.1L65.8,34.6L67.3,34L68.8,33.3L70.3,32.9L71.8,33.1L73.3,33.8L74.8,34.6L76.3,35.1L77.8,35L79.3,34.6L80.7,34.1L82.2,33.7L83.7,33.6L85.2,33.7L86.7,33.9L88.2,34L89.7,33.8L91.2,33.7L92.7,34L94.2,34.6L95.7,35L97.2,35L98.7,34.6L100.2,34.3L101.7,34.4L103.1,34.6L104.6,34.7L106.1,34.5L107.6,34.3L109.1,34.1L110.6,34.1L112.1,34.1L113.6,34.9L115.1,41.3L116.6,47.7L118.1,54L119.6,60.3L121.1,66.7L122.6,69.1L122.6,69.1Z" fill="#ce451d" stroke="#fff" stroke-opacity="0.85" stroke-width="1.90" stroke-linejoin="round"/><path d="M35.9,70L35.9,70L37.4,64.3L38.9,58.1L40.4,51.8L41.9,45.3L43.4,38.9L44.9,36.7L46.4,37.2L47.9,37.8L49.4,38.3L50.9,38.4L52.4,38.4L53.9,38.3L55.4,38.2L56.9,38.2L58.3,38.1L59.8,37.8L61.3,37.7L62.8,37.5L64.3,37.4L65.8,36.9L67.3,36.2L68.8,35.7L70.3,35.5L71.8,35.8L73.3,36.5L74.8,37.2L76.3,37.6L77.8,37.5L79.3,37L80.7,36.4L82.2,35.9L83.7,35.8L85.2,36.1L86.7,36.4L88.2,36.6L89.7,36.7L91.2,36.9L92.7,37.5L94.2,38.1L95.7,38.4L97.2,38.2L98.7,37.8L100.2,37.3L101.7,36.9L103.1,36.8L104.6,36.8L106.1,36.9L107.6,36.9L109.1,37L110.6,37.1L112.1,37.4L113.6,38.6L115.1,44.4L116.6,50L118.1,55.5L119.6,61.1L121.1,66.9L122.6,70L122.6,70Z" fill="#d24820" stroke="#fff" stroke-opacity="0.85" stroke-width="1.90" stroke-linejoin="round"/><path d="M34.5,70.9L34.5,70.9L35.9,70.7L37.4,64.6L38.9,58.4L40.4,52.1L41.9,45.8L43.4,39.8L44.9,38L46.4,38.5L47.9,39.1L49.4,39.5L50.9,39.5L52.4,39.4L53.9,39.3L55.4,39.2L56.9,39.2L58.3,39.3L59.8,39.4L61.3,39.3L62.8,39.1L64.3,38.9L65.8,38.3L67.3,37.6L68.8,37.2L70.3,37.1L71.8,37.5L73.3,38.3L74.8,39.2L76.3,39.8L77.8,39.8L79.3,39.2L80.7,38.5L82.2,37.9L83.7,37.7L85.2,37.3L86.7,37L88.2,37L89.7,37.3L91.2,37.9L92.7,38.7L94.2,39.4L95.7,39.8L97.2,39.8L98.7,39.5L100.2,39L101.7,38.5L103.1,38.3L104.6,38.3L106.1,38.2L107.6,38.1L109.1,38.1L110.6,38.1L112.1,38.1L113.6,39.2L115.1,44.8L116.6,50.4L118.1,55.9L119.6,61.3L121.1,66.9L122.6,70.9L122.6,70.9Z" fill="#d54b23" stroke="#fff" stroke-opacity="0.85" stroke-width="1.90" stroke-linejoin="round"/><path d="M34.5,74.3L34.5,74.3L35.9,71.9L37.4,66.3L38.9,60.5L40.4,54.6L41.9,48.5L43.4,42.5L44.9,41L46.4,41.5L47.9,41.9L49.4,42.1L50.9,42.1L52.4,42.2L53.9,42.2L55.4,42.3L56.9,42.2L58.3,42.1L59.8,41.8L61.3,41.6L62.8,41.6L64.3,41.6L65.8,41.2L67.3,40.6L68.8,40.3L70.3,40.3L71.8,40.8L73.3,41.4L74.8,41.9L76.3,42.1L77.8,41.9L79.3,41.3L80.7,40.4L82.2,39.8L83.7,39.7L85.2,40.1L86.7,40.5L88.2,40.7L89.7,40.8L91.2,41.2L92.7,41.8L94.2,42.4L95.7,42.7L97.2,42.6L98.7,42.2L100.2,41.7L101.7,41.4L103.1,41.2L104.6,41.3L106.1,41.4L107.6,41.6L109.1,41.7L110.6,41.7L112.1,41.8L113.6,43.6L115.1,48.5L116.6,53.4L118.1,58L119.6,62.7L121.1,67.6L122.6,72.7L124.1,74.3L124.1,74.3Z" fill="#e1562c" stroke="#fff" stroke-opacity="0.85" stroke-width="1.90" stroke-linejoin="round"/><path d="M34.5,78L34.5,78L35.9,73.6L37.4,68.3L38.9,62.9L40.4,57.4L41.9,51.7L43.4,46L44.9,45L46.4,45.5L47.9,46L49.4,46.4L50.9,46.5L52.4,46.6L53.9,46.7L55.4,46.8L56.9,46.8L58.3,46.6L59.8,46.3L61.3,46.1L62.8,46.1L64.3,46.2L65.8,45.9L67.3,45.3L68.8,44.7L70.3,44.5L71.8,44.8L73.3,45.5L74.8,46.1L76.3,46.4L77.8,46.3L79.3,45.8L80.7,45.2L82.2,44.7L83.7,44.6L85.2,44.5L86.7,44.5L88.2,44.5L89.7,44.6L91.2,45L92.7,45.6L94.2,46.3L95.7,46.8L97.2,47L98.7,46.8L100.2,46.3L101.7,45.9L103.1,45.7L104.6,45.8L106.1,45.6L107.6,45.4L109.1,45.3L110.6,45.3L112.1,45.3L113.6,47.6L115.1,52L116.6,56.3L118.1,60.4L119.6,64.6L121.1,68.9L122.6,73.5L124.1,78L124.1,78Z" fill="#ec6035" stroke="#fff" stroke-opacity="0.85" stroke-width="1.90" stroke-linejoin="round"/><path d="M34.5,78.8L34.5,78.8L35.9,73.8L37.4,68.2L38.9,62.6L40.4,56.9L41.9,51L43.4,45.2L44.9,44.4L46.4,45L47.9,45.6L49.4,46L50.9,46.1L52.4,46L53.9,45.9L55.4,45.8L56.9,45.9L58.3,45.9L59.8,45.8L61.3,45.7L62.8,45.7L64.3,45.8L65.8,45.4L67.3,44.8L68.8,44.1L70.3,43.6L71.8,43.8L73.3,44.5L74.8,45.2L76.3,45.7L77.8,45.5L79.3,45L80.7,44.2L82.2,43.6L83.7,43.6L85.2,44L86.7,44.4L88.2,44.6L89.7,44.5L91.2,44.4L92.7,44.8L94.2,45.3L95.7,45.7L97.2,45.6L98.7,45.2L100.2,44.8L101.7,44.7L103.1,44.8L104.6,44.9L106.1,45L107.6,45.2L109.1,45.2L110.6,45.2L112.1,44.9L113.6,47.1L115.1,51.5L116.6,56.1L118.1,60.4L119.6,64.7L121.1,69L122.6,73.6L124.1,78.3L125.5,78.8L125.5,78.8Z" fill="#ef6236" stroke="#fff" stroke-opacity="0.85" stroke-width="1.90" stroke-linejoin="round"/><path d="M33,80.6L33,80.6L34.5,79.9L35.9,74.8L37.4,69.7L38.9,64.6L40.4,59.2L41.9,53.7L43.4,48.1L44.9,47.4L46.4,48L47.9,48.9L49.4,49.8L50.9,50L52.4,50L53.9,49.9L55.4,49.9L56.9,49.8L58.3,49.6L59.8,49.3L61.3,49.1L62.8,49L64.3,49L65.8,48.6L67.3,48L68.8,47.5L70.3,47.3L71.8,47.6L73.3,48.2L74.8,48.7L76.3,49L77.8,48.8L79.3,48.5L80.7,48.1L82.2,47.7L83.7,47.6L85.2,47.7L86.7,47.8L88.2,47.9L89.7,48L91.2,48.3L92.7,48.9L94.2,49.5L95.7,49.8L97.2,49.6L98.7,49.1L100.2,48.7L101.7,48.4L103.1,48.3L104.6,48.3L106.1,48.4L107.6,48.4L109.1,48.4L110.6,48.5L112.1,48.7L113.6,51.4L115.1,55.4L116.6,59.3L118.1,63L119.6,66.7L121.1,70.5L122.6,74.6L124.1,78.8L125.5,80.6L125.5,80.6Z" fill="#f4663a" stroke="#fff" stroke-opacity="0.85" stroke-width="1.90" stroke-linejoin="round"/><path d="M33,81.6L33,81.6L34.5,80.3L35.9,75L37.4,69.7L38.9,64.4L40.4,59L41.9,53.3L43.4,47.5L44.9,46.9L46.4,47.4L47.9,47.9L49.4,48.3L50.9,48.4L52.4,48.5L53.9,48.7L55.4,48.8L56.9,48.9L58.3,48.9L59.8,48.9L61.3,48.8L62.8,48.8L64.3,48.8L65.8,48.4L67.3,47.8L68.8,47.1L70.3,46.7L71.8,46.9L73.3,47.6L74.8,48.5L76.3,49.1L77.8,49L79.3,48.4L80.7,47.6L82.2,47L83.7,46.8L85.2,46.8L86.7,46.8L88.2,46.8L89.7,46.8L91.2,46.8L92.7,47.2L94.2,47.8L95.7,48.4L97.2,48.5L98.7,48.3L100.2,47.8L101.7,47.5L103.1,47.4L104.6,47.4L106.1,47.4L107.6,47.3L109.1,47.3L110.6,47.4L112.1,47.7L113.6,50.6L115.1,54.8L116.6,58.8L118.1,62.6L119.6,66.4L121.1,70.4L122.6,74.6L124.1,78.9L125.5,81.6L125.5,81.6Z" fill="#f7693d" stroke="#fff" stroke-opacity="0.85" stroke-width="1.90" stroke-linejoin="round"/><path d="M33,84.1L33,84.1L34.5,81.5L35.9,76.6L37.4,71.7L38.9,66.9L40.4,61.9L41.9,56.4L43.4,50.8L44.9,50.3L46.4,50.9L47.9,51.7L49.4,52.3L50.9,52.5L52.4,52.6L53.9,52.8L55.4,52.9L56.9,52.9L58.3,52.6L59.8,52.2L61.3,51.9L62.8,51.8L64.3,51.8L65.8,51.4L67.3,50.9L68.8,50.6L70.3,50.8L71.8,51.3L73.3,52L74.8,52.6L76.3,52.9L77.8,52.8L79.3,52.1L80.7,51.3L82.2,50.7L83.7,50.5L85.2,50.3L86.7,50.1L88.2,50.1L89.7,50.4L91.2,51.1L92.7,51.9L94.2,52.6L95.7,53.1L97.2,53.2L98.7,52.9L100.2,52.3L101.7,51.8L103.1,51.5L104.6,51.5L106.1,51.7L107.6,52L109.1,52.1L110.6,52L112.1,51.9L113.6,54.6L115.1,58.2L116.6,61.8L118.1,65.3L119.6,68.6L121.1,72.2L122.6,76L124.1,80L125.5,83.8L127,84.1L127,84.1Z" fill="#fd6f42" stroke="#fff" stroke-opacity="0.85" stroke-width="1.90" stroke-linejoin="round"/><path d="M33,85L33,85L34.5,81.9L35.9,76.9L37.4,71.8L38.9,66.7L40.4,61.4L41.9,56L43.4,50.5L44.9,50.4L46.4,50.9L47.9,51.6L49.4,52.2L50.9,52.3L52.4,52.3L53.9,52.4L55.4,52.5L56.9,52.5L58.3,52.6L59.8,52.7L61.3,52.7L62.8,52.6L64.3,52.6L65.8,52.2L67.3,51.6L68.8,51.1L70.3,50.9L71.8,51.3L73.3,51.8L74.8,52.2L76.3,52.3L77.8,52.1L79.3,51.8L80.7,51.5L82.2,51.2L83.7,51L85.2,50.8L86.7,50.7L88.2,50.7L89.7,50.6L91.2,50.6L92.7,51.1L94.2,51.7L95.7,52.4L97.2,52.7L98.7,52.5L100.2,52L101.7,51.6L103.1,51.4L104.6,51.4L106.1,51.5L107.6,51.6L109.1,51.7L110.6,51.6L112.1,51.4L113.6,54.2L115.1,57.9L116.6,61.7L118.1,65.3L119.6,68.8L121.1,72.4L122.6,76.2L124.1,80.2L125.5,84.1L127,85L127,85Z" fill="#ff7144" stroke="#fff" stroke-opacity="0.85" stroke-width="1.90" stroke-linejoin="round"/><path d="M31.5,91.2L31.5,91.2L33,89.8L34.5,85.3L35.9,80.8L37.4,76.3L38.9,71.6L40.4,66.8L41.9,62L43.4,57.8L44.9,58L46.4,58.5L47.9,59.1L49.4,59.5L50.9,59.6L52.4,59.8L53.9,60L55.4,60.2L56.9,60.3L58.3,60.1L59.8,60L61.3,59.8L62.8,59.6L64.3,59.4L65.8,58.9L67.3,58.3L68.8,57.8L70.3,57.8L71.8,58.3L73.3,59L74.8,59.9L76.3,60.4L77.8,60.3L79.3,59.6L80.7,58.7L82.2,58L83.7,57.8L85.2,57.7L86.7,57.7L88.2,57.7L89.7,57.8L91.2,57.9L92.7,58.5L94.2,59.2L95.7,59.9L97.2,60.3L98.7,60.2L100.2,59.6L101.7,59.1L103.1,58.8L104.6,58.8L106.1,59L107.6,59.2L109.1,59.3L110.6,59.3L112.1,59.4L113.6,62.5L115.1,65.6L116.6,68.5L118.1,71.2L119.6,73.9L121.1,76.8L122.6,80.1L124.1,83.5L125.5,86.9L127,90.1L128.5,91.2L128.5,91.2Z" fill="#ff7f50" stroke="#fff" stroke-opacity="0.85" stroke-width="1.90" stroke-linejoin="round"/><path d="M31.5,92.1L31.5,92.1L33,90.3L34.5,86L35.9,81.6L37.4,77.3L38.9,72.8L40.4,68.2L41.9,63.5L43.4,59.4L44.9,59.5L46.4,60L47.9,60.4L49.4,60.6L50.9,60.6L52.4,60.8L53.9,61.2L55.4,61.5L56.9,61.5L58.3,61.2L59.8,60.8L61.3,60.5L62.8,60.6L64.3,60.8L65.8,60.6L67.3,60L68.8,59.2L70.3,58.7L71.8,58.8L73.3,59.6L74.8,60.6L76.3,61.2L77.8,61.1L79.3,60.4L80.7,59.4L82.2,58.7L83.7,58.6L85.2,58.8L86.7,59.1L88.2,59.2L89.7,59.4L91.2,59.7L92.7,60.4L94.2,61L95.7,61.5L97.2,61.5L98.7,61.2L100.2,60.5L101.7,59.8L103.1,59.3L104.6,59.3L106.1,59.5L107.6,59.7L109.1,59.9L110.6,59.9L112.1,60.3L113.6,63.3L115.1,66.4L116.6,69.4L118.1,72.3L119.6,75L121.1,77.8L122.6,80.8L124.1,84L125.5,87.4L127,90.5L128.5,92.1L128.5,92.1Z" fill="#ff8152" stroke="#fff" stroke-opacity="0.85" stroke-width="1.90" stroke-linejoin="round"/><path d="M31.5,93L31.5,93L33,90.7L34.5,86.4L35.9,81.9L37.4,77.5L38.9,72.9L40.4,68.2L41.9,63.6L43.4,59.9L44.9,60.3L46.4,60.7L47.9,61.1L49.4,61.4L50.9,61.4L52.4,61.4L53.9,61.5L55.4,61.6L56.9,61.6L58.3,61.4L59.8,61.2L61.3,61L62.8,60.9L64.3,60.8L65.8,60.3L67.3,59.7L68.8,59.3L70.3,59.2L71.8,59.7L73.3,60.4L74.8,61L76.3,61.5L77.8,61.3L79.3,60.7L80.7,59.9L82.2,59.3L83.7,59.2L85.2,59.5L86.7,59.8L88.2,60L89.7,59.9L91.2,60L92.7,60.4L94.2,61L95.7,61.4L97.2,61.3L98.7,60.9L100.2,60.5L101.7,60.2L103.1,60.1L104.6,60.1L106.1,60.2L107.6,60.4L109.1,60.5L110.6,60.4L112.1,60.7L113.6,63.6L115.1,66.7L116.6,69.7L118.1,72.4L119.6,75.1L121.1,78L122.6,81.2L124.1,84.6L125.5,87.9L127,91L128.5,93L128.5,93Z" fill="#ff8354" stroke="#fff" stroke-opacity="0.85" stroke-width="1.90" stroke-linejoin="round"/><path d="M30,97.8L30,97.8L31.5,97.5L33,93.6L34.5,89.7L35.9,85.6L37.4,81.6L38.9,77.4L40.4,73.1L41.9,68.7L43.4,65.4L44.9,65.5L46.4,66.2L47.9,67.1L49.4,68L50.9,68.2L52.4,68.1L53.9,68L55.4,67.9L56.9,68L58.3,68L59.8,68L61.3,67.9L62.8,67.8L64.3,67.6L65.8,67L67.3,66.4L68.8,65.9L70.3,65.9L71.8,66.3L73.3,66.9L74.8,67.3L76.3,67.4L77.8,67.2L79.3,66.8L80.7,66.3L82.2,65.9L83.7,65.8L85.2,65.8L86.7,65.9L88.2,66L89.7,65.9L91.2,65.8L92.7,66.2L94.2,66.8L95.7,67.3L97.2,67.3L98.7,67L100.2,66.7L101.7,66.5L103.1,66.5L104.6,66.6L106.1,66.6L107.6,66.6L109.1,66.7L110.6,66.7L112.1,67.5L113.6,70.1L115.1,72.7L116.6,75.5L118.1,78L119.6,80.3L121.1,82.7L122.6,85.3L124.1,88.1L125.5,91.1L127,93.8L128.5,96.4L130,97.8L130,97.8Z" fill="#ff8d5d" stroke="#fff" stroke-opacity="0.85" stroke-width="1.90" stroke-linejoin="round"/><path d="M30,98.7L30,98.7L31.5,98L33,94L34.5,90L35.9,85.8L37.4,81.6L38.9,77.2L40.4,72.8L41.9,68.3L43.4,65.1L44.9,65.2L46.4,65.9L47.9,66.8L49.4,67.7L50.9,67.9L52.4,67.7L53.9,67.3L55.4,67L56.9,67L58.3,67.1L59.8,67.1L61.3,67L62.8,67L64.3,67.1L65.8,66.8L67.3,66.2L68.8,65.7L70.3,65.5L71.8,65.9L73.3,66.6L74.8,67.3L76.3,67.8L77.8,67.7L79.3,66.9L80.7,65.8L82.2,65L83.7,64.9L85.2,64.9L86.7,65L88.2,65L89.7,65.2L91.2,65.7L92.7,66.4L94.2,67.1L95.7,67.6L97.2,67.7L98.7,67.4L100.2,67L101.7,66.6L103.1,66.5L104.6,66.5L106.1,66.5L107.6,66.4L109.1,66.4L110.6,66.4L112.1,67.5L113.6,70.2L115.1,72.9L116.6,75.6L118.1,78.1L119.6,80.5L121.1,82.9L122.6,85.4L124.1,88.3L125.5,91.3L127,94.2L128.5,96.8L130,98.7L130,98.7Z" fill="#ff8f5f" stroke="#fff" stroke-opacity="0.85" stroke-width="1.90" stroke-linejoin="round"/><path d="M30,101.8L30,101.8L31.5,99.9L33,96.2L34.5,92.4L35.9,88.6L37.4,84.8L38.9,80.9L40.4,76.8L41.9,72.7L43.4,69.9L44.9,70L46.4,70.5L47.9,70.7L49.4,70.9L50.9,70.8L52.4,70.9L53.9,71L55.4,71L56.9,71.1L58.3,71.1L59.8,71L61.3,70.9L62.8,70.8L64.3,70.6L65.8,70.1L67.3,69.5L68.8,69.1L70.3,69.2L71.8,69.7L73.3,70.4L74.8,71.2L76.3,71.6L77.8,71.5L79.3,70.7L80.7,69.7L82.2,68.9L83.7,68.8L85.2,69L86.7,69.2L88.2,69.3L89.7,69.3L91.2,69.3L92.7,69.8L94.2,70.4L95.7,71.1L97.2,71.4L98.7,71.2L100.2,70.7L101.7,70.3L103.1,70.1L104.6,70.1L106.1,70.1L107.6,70L109.1,70L110.6,70L112.1,71.2L113.6,73.7L115.1,76.2L116.6,78.9L118.1,81.3L119.6,83.5L121.1,85.7L122.6,88.1L124.1,90.8L125.5,93.6L127,96.3L128.5,98.8L130,101.2L131.5,101.8L131.5,101.8Z" fill="#ff9564" stroke="#fff" stroke-opacity="0.85" stroke-width="1.90" stroke-linejoin="round"/><path d="M30,102.7L30,102.7L31.5,100.3L33,96.4L34.5,92.4L35.9,88.4L37.4,84.4L38.9,80.3L40.4,76.1L41.9,71.9L43.4,69.4L44.9,69.8L46.4,70.2L47.9,70.5L49.4,70.6L50.9,70.6L52.4,70.7L53.9,70.9L55.4,71L56.9,71L58.3,71L59.8,71L61.3,70.9L62.8,70.8L64.3,70.8L65.8,70.4L67.3,69.8L68.8,69.3L70.3,69.2L71.8,69.6L73.3,70.3L74.8,70.8L76.3,71.1L77.8,71L79.3,70.4L80.7,69.8L82.2,69.2L83.7,69.1L85.2,69.2L86.7,69.4L88.2,69.5L89.7,69.4L91.2,69.4L92.7,69.8L94.2,70.4L95.7,70.9L97.2,70.9L98.7,70.5L100.2,70L101.7,69.4L103.1,69.2L104.6,69.2L106.1,69.3L107.6,69.4L109.1,69.4L110.6,69.5L112.1,71.1L113.6,73.9L115.1,76.5L116.6,79L118.1,81.1L119.6,83.3L121.1,85.6L122.6,88.1L124.1,91L125.5,93.9L127,96.6L128.5,99.2L130,101.6L131.5,102.7L131.5,102.7Z" fill="#ff9766" stroke="#fff" stroke-opacity="0.85" stroke-width="1.90" stroke-linejoin="round"/><path d="M30,103.6L30,103.6L31.5,100.8L33,97L34.5,93.1L35.9,89.1L37.4,85.1L38.9,80.9L40.4,76.6L41.9,72.2L43.4,69.5L44.9,69.6L46.4,70.2L47.9,71L49.4,71.8L50.9,72L52.4,72.1L53.9,72.3L55.4,72.5L56.9,72.5L58.3,72.2L59.8,71.8L61.3,71.6L62.8,71.5L64.3,71.4L65.8,71L67.3,70.3L68.8,69.7L70.3,69.5L71.8,69.8L73.3,70.5L74.8,71.2L76.3,71.5L77.8,71.4L79.3,71L80.7,70.4L82.2,69.9L83.7,69.8L85.2,69.8L86.7,69.9L88.2,69.9L89.7,69.9L91.2,70L92.7,70.5L94.2,71.1L95.7,71.9L97.2,72.3L98.7,72.1L100.2,71.6L101.7,71.1L103.1,70.8L104.6,70.8L106.1,70.8L107.6,70.6L109.1,70.6L110.6,70.5L112.1,71.9L113.6,74.3L115.1,76.8L116.6,79.4L118.1,81.7L119.6,83.8L121.1,86.1L122.6,88.8L124.1,91.6L125.5,94.5L127,97.2L128.5,99.7L130,102.1L131.5,103.6L131.5,103.6Z" fill="#ff9968" stroke="#fff" stroke-opacity="0.85" stroke-width="1.90" stroke-linejoin="round"/><path d="M30,104.5L30,104.5L31.5,101.5L33,97.9L34.5,94.2L35.9,90.3L37.4,86.5L38.9,82.6L40.4,78.5L41.9,74.3L43.4,71.7L44.9,71.8L46.4,72.4L47.9,73.4L49.4,74.3L50.9,74.6L52.4,74.5L53.9,74.2L55.4,74.1L56.9,74L58.3,74L59.8,73.9L61.3,73.8L62.8,73.8L64.3,73.8L65.8,73.5L67.3,72.9L68.8,72.5L70.3,72.4L71.8,72.8L73.3,73.3L74.8,73.6L76.3,73.7L77.8,73.4L79.3,73L80.7,72.4L82.2,71.9L83.7,71.7L85.2,71.8L86.7,72L88.2,72.1L89.7,72.3L91.2,72.7L92.7,73.4L94.2,74L95.7,74.2L97.2,73.8L98.7,73.3L100.2,72.9L101.7,72.8L103.1,72.8L104.6,72.9L106.1,72.9L107.6,73L109.1,73.1L110.6,73.1L112.1,74.5L113.6,76.8L115.1,79.2L116.6,81.6L118.1,83.7L119.6,85.7L121.1,87.8L122.6,90L124.1,92.5L125.5,95.3L127,98L128.5,100.5L130,102.8L131.5,104.5L131.5,104.5Z" fill="#ff9b69" stroke="#fff" stroke-opacity="0.85" stroke-width="1.90" stroke-linejoin="round"/><path d="M30,105.3L30,105.3L31.5,102L33,98.3L34.5,94.5L35.9,90.6L37.4,86.6L38.9,82.5L40.4,78.4L41.9,74.3L43.4,72L44.9,72.3L46.4,72.8L47.9,73.6L49.4,74.2L50.9,74.4L52.4,74.2L53.9,74L55.4,73.9L56.9,73.9L58.3,74.2L59.8,74.4L61.3,74.4L62.8,74.3L64.3,74.2L65.8,73.7L67.3,73L68.8,72.6L70.3,72.5L71.8,72.9L73.3,73.4L74.8,73.9L76.3,74L77.8,73.8L79.3,73.3L80.7,72.7L82.2,72.2L83.7,72.1L85.2,72.2L86.7,72.4L88.2,72.5L89.7,72.5L91.2,72.7L92.7,73.1L94.2,73.8L95.7,74.3L97.2,74.4L98.7,74.1L100.2,73.6L101.7,72.9L103.1,72.6L104.6,72.6L106.1,72.7L107.6,72.7L109.1,72.8L110.6,72.9L112.1,74.6L113.6,77.2L115.1,79.6L116.6,81.8L118.1,83.8L119.6,85.7L121.1,87.9L122.6,90.4L124.1,93.2L125.5,96L127,98.5L128.5,100.9L130,103.2L131.5,105.3L131.5,105.3Z" fill="#ff9c6b" stroke="#fff" stroke-opacity="0.85" stroke-width="1.90" stroke-linejoin="round"/><path d="M28.5,107.6L28.5,107.6L30,107L31.5,103.7L33,100.3L34.5,96.8L35.9,93.3L37.4,89.8L38.9,86.3L40.4,82.5L41.9,78.7L43.4,76.5L44.9,76.6L46.4,77L47.9,77.5L49.4,77.8L50.9,77.8L52.4,78L53.9,78.3L55.4,78.5L56.9,78.6L58.3,78.6L59.8,78.6L61.3,78.4L62.8,78.2L64.3,77.8L65.8,77.1L67.3,76.4L68.8,75.8L70.3,75.6L71.8,76L73.3,76.6L74.8,77.2L76.3,77.6L77.8,77.5L79.3,77.2L80.7,77L82.2,76.7L83.7,76.6L85.2,76.6L86.7,76.6L88.2,76.7L89.7,76.7L91.2,76.7L92.7,77.2L94.2,77.7L95.7,78L97.2,77.7L98.7,77.3L100.2,76.9L101.7,76.7L103.1,76.7L104.6,76.8L106.1,76.7L107.6,76.7L109.1,76.6L110.6,76.8L112.1,78.7L113.6,81.2L115.1,83.4L116.6,85.5L118.1,87.3L119.6,89L121.1,90.9L122.6,93L124.1,95.4L125.5,97.9L127,100.5L128.5,102.8L130,104.9L131.5,106.9L133,107.6L133,107.6Z" fill="#ffa16f" stroke="#fff" stroke-opacity="0.85" stroke-width="1.90" stroke-linejoin="round"/><path d="M23.5,109.4H148.5" stroke="#d8d8d8" stroke-width="0.7"/><path d="M23.50,109.4V111.6" stroke="#cfcfcf" stroke-width="0.7"/><path d="M37.39,109.4V111.6" stroke="#cfcfcf" stroke-width="0.7"/><path d="M51.28,109.4V111.6" stroke="#cfcfcf" stroke-width="0.7"/><path d="M65.17,109.4V111.6" stroke="#cfcfcf" stroke-width="0.7"/><path d="M79.06,109.4V111.6" stroke="#cfcfcf" stroke-width="0.7"/><path d="M92.94,109.4V111.6" stroke="#cfcfcf" stroke-width="0.7"/><path d="M106.83,109.4V111.6" stroke="#cfcfcf" stroke-width="0.7"/><path d="M120.72,109.4V111.6" stroke="#cfcfcf" stroke-width="0.7"/><path d="M134.61,109.4V111.6" stroke="#cfcfcf" stroke-width="0.7"/><path d="M148.50,109.4V111.6" stroke="#cfcfcf" stroke-width="0.7"/><text transform="translate(23.50,118.8) scale(0.87,1)" class="xl">-0.20</text><text transform="translate(51.28,118.8) scale(0.87,1)" class="xl">-0.10</text><text transform="translate(79.06,118.8) scale(0.87,1)" class="xl">0.00</text><text transform="translate(106.83,118.8) scale(0.87,1)" class="xl">0.10</text><text transform="translate(134.61,118.8) scale(0.87,1)" class="xl">0.20</text><path d="M148.5,74.32H151.3" stroke="#cfcfcf" stroke-width="0.7"/><path d="M148.5,80.94H151.3" stroke="#cfcfcf" stroke-width="0.7"/><path d="M148.5,87.57H151.3" stroke="#cfcfcf" stroke-width="0.7"/><path d="M148.5,94.19H151.3" stroke="#cfcfcf" stroke-width="0.7"/><path d="M148.5,100.81H151.3" stroke="#cfcfcf" stroke-width="0.7"/><path d="M148.5,107.43H151.3" stroke="#cfcfcf" stroke-width="0.7"/><text transform="translate(153.5,76.72) scale(0.87,1)" class="yl">20</text><text transform="translate(153.5,89.97) scale(0.87,1)" class="yl">60</text><text transform="translate(153.5,103.21) scale(0.87,1)" class="yl">100</text></svg><svg class="ic" viewBox="5 5 14 14" width="9" height="9"><path d="M7 14H5v5h5v-2H7v-3zm-2-4h2V7h3V5H5v5zm12 7h-3v2h5v-5h-2v3zM14 5v2h3v3h2V5h-5z" fill="#5f7b8b"/></svg></div><div class="cell" style="left:0.00px;top:141.33px"><div class="bar"></div><div class="ttl">layer2/activations</div><div class="dot">.</div><svg class="ch" width="196" height="141" viewBox="0 0 196 141"><rect x="23.5" y="68.60" width="125.0" height="2.70" fill="#000" fill-opacity="0.13"/><rect x="23.5" y="77.50" width="125.0" height="1.70" fill="#000" fill-opacity="0.13"/><rect x="23.5" y="80.10" width="125.0" height="2.20" fill="#000" fill-opacity="0.13"/><rect x="23.5" y="83.60" width="125.0" height="1.80" fill="#000" fill-opacity="0.13"/><rect x="23.5" y="90.70" width="125.0" height="3.10" fill="#000" fill-opacity="0.13"/><rect x="23.5" y="97.30" width="125.0" height="1.80" fill="#000" fill-opacity="0.13"/><rect x="23.5" y="101.30" width="125.0" height="4.40" fill="#000" fill-opacity="0.13"/><rect x="23.5" y="107.00" width="125.0" height="1.10" fill="#000" fill-opacity="0.13"/><path d="M37,69.1L37,69.1L49,69.1L50.1,69L51.3,68.6L52.5,68.2L53.7,67.8L54.9,67.4L56.1,67L57.3,66.6L58.5,66L59.7,65.3L60.9,64.6L62.1,64L63.3,63.3L64.5,62.7L65.7,62.1L66.9,61.6L68.1,61L69.3,60.5L70.5,60L71.7,59.4L72.9,58.9L74.1,58.3L75.2,57.7L76.4,57.1L77.6,56.5L78.8,55.9L80,55.5L81.2,55.3L82.4,55L83.6,54.3L84.8,53.6L86,53.2L87.2,53.5L88.4,53.9L89.6,54.3L90.8,54.7L92,55.2L93.2,56L94.4,56.7L95.6,57.4L96.8,58.2L98,58.9L99.2,59.6L100.4,60.4L101.5,61.1L102.7,61.7L103.9,62.3L105.1,63L106.3,63.6L107.5,64.3L108.7,64.9L109.9,65.6L111.1,66.2L112.3,66.6L113.5,67.1L114.7,67.5L115.9,67.9L117.1,68.4L118.3,68.8L119.5,69.1L138.6,69.1L138.6,69.1Z" fill="#ce451d" stroke="#fff" stroke-opacity="0.55" stroke-width="0.80" stroke-linejoin="round"/><path d="M37,70L37,70L49,70L50.1,69.9L51.3,69.5L52.5,69.1L53.7,68.6L54.9,68.2L56.1,67.7L57.3,67.3L58.5,66.6L59.7,65.9L60.9,65.1L62.1,64.4L63.3,63.7L64.5,63L65.7,62.4L66.9,61.8L68.1,61.2L69.3,60.6L70.5,60L71.7,59.4L72.9,58.8L74.1,58.2L75.2,57.5L76.4,56.9L77.6,56.2L78.8,55.6L80,55.2L81.2,55L82.4,54.6L83.6,53.9L84.8,53.1L86,52.6L87.2,53L88.4,53.4L89.6,53.9L90.8,54.3L92,54.9L93.2,55.7L94.4,56.5L95.6,57.3L96.8,58.1L98,58.9L99.2,59.7L100.4,60.5L101.5,61.2L102.7,61.9L103.9,62.6L105.1,63.3L106.3,64L107.5,64.7L108.7,65.4L109.9,66.1L111.1,66.8L112.3,67.3L113.5,67.8L114.7,68.3L115.9,68.7L117.1,69.2L118.3,69.7L119.5,70L138.6,70L138.6,70Z" fill="#d24820" stroke="#fff" stroke-opacity="0.55" stroke-width="0.80" stroke-linejoin="round"/><path d="M37,70.9L37,70.9L49,70.9L50.1,70.8L51.3,70.4L52.5,69.9L53.7,69.4L54.9,68.9L56.1,68.4L57.3,68L58.5,67.2L59.7,66.4L60.9,65.6L62.1,64.8L63.3,64L64.5,63.3L65.7,62.7L66.9,62L68.1,61.4L69.3,60.7L70.5,60.1L71.7,59.4L72.9,58.8L74.1,58.1L75.2,57.4L76.4,56.7L77.6,56L78.8,55.3L80,54.9L81.2,54.6L82.4,54.2L83.6,53.4L84.8,52.6L86,52.1L87.2,52.5L88.4,53L89.6,53.4L90.8,53.9L92,54.5L93.2,55.4L94.4,56.2L95.6,57.1L96.8,58L98,58.8L99.2,59.7L100.4,60.6L101.5,61.4L102.7,62.1L103.9,62.9L105.1,63.7L106.3,64.4L107.5,65.2L108.7,66L109.9,66.7L111.1,67.4L112.3,68L113.5,68.5L114.7,69L115.9,69.5L117.1,70.1L118.3,70.6L119.5,70.9L138.6,70.9L138.6,70.9Z" fill="#d54b23" stroke="#fff" stroke-opacity="0.55" stroke-width="0.80" stroke-linejoin="round"/><path d="M37,74.3L37,74.3L49,74.3L50.1,74.2L51.3,73.3L52.5,72.4L53.7,71.5L54.9,70.6L56.1,69.7L57.3,68.8L58.5,67.3L59.7,65.8L60.9,64.3L62.1,62.8L63.3,61.4L64.5,60L65.7,58.8L66.9,57.6L68.1,56.3L69.3,55.1L70.5,53.9L71.7,52.7L72.9,51.5L74.1,50.2L75.2,48.8L76.4,47.5L77.6,46.2L78.8,44.8L80,44L81.2,43.6L82.4,42.8L83.6,41.3L84.8,39.8L86,38.7L87.2,39.6L88.4,40.5L89.6,41.3L90.8,42.2L92,43.4L93.2,45L94.4,46.6L95.6,48.3L96.8,49.9L98,51.5L99.2,53.2L100.4,54.8L101.5,56.4L102.7,57.8L103.9,59.2L105.1,60.7L106.3,62.1L107.5,63.5L108.7,65L109.9,66.4L111.1,67.8L112.3,68.8L113.5,69.8L114.7,70.7L115.9,71.7L117.1,72.7L118.3,73.7L119.5,74.3L138.6,74.3L138.6,74.3Z" fill="#e1562c" stroke="#fff" stroke-opacity="0.55" stroke-width="0.80" stroke-linejoin="round"/><path d="M37,78L37,78L40.6,78L41.8,77.9L43,77.9L44.2,77.9L45.4,77.7L46.6,77.5L47.8,77.2L49,76.9L50.1,76.5L51.3,76.2L52.5,75.9L53.7,75.6L54.9,75.3L56.1,75L57.3,74.6L58.5,74.3L59.7,74L60.9,73.7L62.1,73.4L63.3,73.1L64.5,72.8L65.7,72.5L66.9,72.1L68.1,71.8L69.3,71.3L70.5,70.9L71.7,70.4L72.9,69.9L74.1,69.5L75.2,69.2L76.4,69L77.6,69L78.8,69L80,69L81.2,68.9L82.4,68.9L83.6,68.9L84.8,68.8L86,68.8L87.2,68.8L88.4,69L89.6,69.2L90.8,69.4L92,69.4L93.2,69.4L94.4,69.4L95.6,69.3L96.8,69.3L98,69.3L99.2,69.5L100.4,69.7L101.5,70.1L102.7,70.5L103.9,70.9L105.1,71.3L106.3,71.7L107.5,72.1L108.7,72.4L109.9,72.8L111.1,73.1L112.3,73.4L113.5,73.7L114.7,74L115.9,74.3L117.1,74.7L118.3,75L119.5,75.3L120.7,75.6L121.9,75.9L123.1,76.2L124.3,76.6L125.5,76.9L126.6,77.2L127.8,77.5L129,77.8L130.2,77.9L131.4,77.9L132.6,77.9L133.8,78L138.6,78L138.6,78Z" fill="#ec6035" stroke="#fff" stroke-opacity="0.55" stroke-width="0.80" stroke-linejoin="round"/><path d="M37,78.8L37,78.8L41.8,78.8L43,78.7L44.2,78.7L45.4,78.7L46.6,78.5L47.8,78.2L49,77.9L50.1,77.5L51.3,77.2L52.5,76.9L53.7,76.6L54.9,76.2L56.1,75.9L57.3,75.6L58.5,75.2L59.7,74.9L60.9,74.6L62.1,74.3L63.3,73.9L64.5,73.6L65.7,73.3L66.9,73L68.1,72.7L69.3,72.5L70.5,72.2L71.7,72L72.9,71.8L74.1,71.6L75.2,71.4L76.4,71.1L77.6,70.8L78.8,70.4L80,70.1L81.2,69.8L82.4,69.5L83.6,69.3L84.8,69.2L86,69.3L87.2,69.6L88.4,69.8L89.6,69.9L90.8,69.9L92,70L93.2,70.2L94.4,70.4L95.6,70.6L96.8,70.9L98,71.2L99.2,71.4L100.4,71.7L101.5,72L102.7,72.3L103.9,72.6L105.1,72.9L106.3,73.2L107.5,73.5L108.7,73.8L109.9,74.2L111.1,74.5L112.3,74.8L113.5,75.1L114.7,75.5L115.9,75.8L117.1,76.1L118.3,76.5L119.5,76.8L120.7,77.1L121.9,77.5L123.1,77.8L124.3,78.1L125.5,78.4L126.6,78.7L127.8,78.7L129,78.7L130.2,78.7L131.4,78.8L138.6,78.8L138.6,78.8Z" fill="#ef6236" stroke="#fff" stroke-opacity="0.55" stroke-width="0.80" stroke-linejoin="round"/><path d="M37,80.6L37,80.6L39.4,80.6L40.6,80.5L41.8,80.5L43,80.5L44.2,80.4L45.4,80.1L46.6,79.8L47.8,79.4L49,79.1L50.1,78.7L51.3,78.4L52.5,78L53.7,77.6L54.9,77.3L56.1,76.9L57.3,76.6L58.5,76.2L59.7,75.9L60.9,75.5L62.1,75.2L63.3,74.8L64.5,74.5L65.7,74.2L66.9,73.8L68.1,73.5L69.3,73.2L70.5,72.9L71.7,72.6L72.9,72.3L74.1,72L75.2,71.7L76.4,71.5L77.6,71.2L78.8,71L80,70.7L81.2,70.5L82.4,70.4L83.6,70.2L84.8,70.3L86,70.5L87.2,70.7L88.4,71L89.6,71.4L90.8,71.9L92,72.3L93.2,72.6L94.4,72.8L95.6,72.9L96.8,73.1L98,73.3L99.2,73.5L100.4,73.8L101.5,74.1L102.7,74.4L103.9,74.7L105.1,75L106.3,75.3L107.5,75.7L108.7,76L109.9,76.4L111.1,76.7L112.3,77.1L113.5,77.4L114.7,77.8L115.9,78.1L117.1,78.5L118.3,78.8L119.5,79.2L120.7,79.5L121.9,79.9L123.1,80.2L124.3,80.5L125.5,80.5L126.6,80.5L127.8,80.5L129,80.6L138.6,80.6L138.6,80.6Z" fill="#f4663a" stroke="#fff" stroke-opacity="0.55" stroke-width="0.80" stroke-linejoin="round"/><path d="M37,81.6L37,81.6L39.4,81.6L40.6,81.5L41.8,81.5L43,81.5L44.2,81.3L45.4,81L46.6,80.7L47.8,80.4L49,80.1L50.1,79.8L51.3,79.4L52.5,79.1L53.7,78.8L54.9,78.5L56.1,78.2L57.3,77.9L58.5,77.6L59.7,77.2L60.9,76.9L62.1,76.6L63.3,76.3L64.5,76L65.7,75.7L66.9,75.4L68.1,75.1L69.3,74.8L70.5,74.5L71.7,74.2L72.9,73.9L74.1,73.5L75.2,73.3L76.4,73.1L77.6,72.9L78.8,72.9L80,72.9L81.2,73L82.4,73L83.6,72.8L84.8,72.5L86,72.1L87.2,71.9L88.4,71.9L89.6,72L90.8,72.2L92,72.5L93.2,72.7L94.4,73L95.6,73.3L96.8,73.6L98,73.9L99.2,74.2L100.4,74.4L101.5,74.7L102.7,74.9L103.9,75.1L105.1,75.3L106.3,75.5L107.5,75.7L108.7,76L109.9,76.3L111.1,76.6L112.3,76.9L113.5,77.2L114.7,77.5L115.9,77.8L117.1,78.1L118.3,78.4L119.5,78.7L120.7,79L121.9,79.4L123.1,79.7L124.3,80L125.5,80.3L126.6,80.6L127.8,80.9L129,81.2L130.2,81.5L131.4,81.5L132.6,81.5L133.8,81.6L138.6,81.6L138.6,81.6Z" fill="#f7693d" stroke="#fff" stroke-opacity="0.55" stroke-width="0.80" stroke-linejoin="round"/><path d="M37,84.1L37,84.1L38.2,84.1L39.4,84L40.6,84L41.8,84L43,83.9L44.2,83.6L45.4,83.3L46.6,83L47.8,82.7L49,82.4L50.1,82L51.3,81.7L52.5,81.4L53.7,81.1L54.9,80.7L56.1,80.4L57.3,80.1L58.5,79.8L59.7,79.4L60.9,79.1L62.1,78.8L63.3,78.6L64.5,78.3L65.7,78.1L66.9,78L68.1,77.8L69.3,77.7L70.5,77.6L71.7,77.4L72.9,77.2L74.1,76.9L75.2,76.6L76.4,76.1L77.6,75.6L78.8,75.1L80,74.7L81.2,74.3L82.4,74.1L83.6,73.9L84.8,73.8L86,73.9L87.2,74L88.4,74.2L89.6,74.4L90.8,74.6L92,74.9L93.2,75.1L94.4,75.3L95.6,75.6L96.8,75.9L98,76.1L99.2,76.4L100.4,76.7L101.5,77L102.7,77.3L103.9,77.6L105.1,77.9L106.3,78.2L107.5,78.5L108.7,78.8L109.9,79.1L111.1,79.5L112.3,79.8L113.5,80.1L114.7,80.4L115.9,80.8L117.1,81.1L118.3,81.4L119.5,81.7L120.7,82.1L121.9,82.4L123.1,82.7L124.3,83L125.5,83.4L126.6,83.7L127.8,84L129,84L130.2,84L131.4,84.1L138.6,84.1L138.6,84.1Z" fill="#fd6f42" stroke="#fff" stroke-opacity="0.55" stroke-width="0.80" stroke-linejoin="round"/><path d="M37,85L37,85L38.2,84.9L39.4,84.9L40.6,84.9L41.8,84.6L43,84.2L44.2,83.9L45.4,83.5L46.6,83.1L47.8,82.8L49,82.4L50.1,82L51.3,81.7L52.5,81.3L53.7,80.9L54.9,80.5L56.1,80.2L57.3,79.8L58.5,79.4L59.7,79.1L60.9,78.7L62.1,78.4L63.3,78L64.5,77.7L65.7,77.4L66.9,77.1L68.1,77L69.3,77L70.5,76.9L71.7,76.6L72.9,76.1L74.1,75.5L75.2,75L76.4,74.6L77.6,74.3L78.8,74L80,73.8L81.2,73.6L82.4,73.4L83.6,73.3L84.8,73.3L86,73.4L87.2,73.6L88.4,73.7L89.6,73.9L90.8,74L92,74.2L93.2,74.3L94.4,74.4L95.6,74.7L96.8,75L98,75.5L99.2,76L100.4,76.5L101.5,77L102.7,77.4L103.9,77.7L105.1,78.1L106.3,78.4L107.5,78.8L108.7,79.2L109.9,79.5L111.1,79.9L112.3,80.3L113.5,80.6L114.7,81L115.9,81.4L117.1,81.7L118.3,82.1L119.5,82.5L120.7,82.9L121.9,83.2L123.1,83.6L124.3,84L125.5,84.3L126.6,84.7L127.8,84.9L129,84.9L130.2,84.9L131.4,85L138.6,85L138.6,85Z" fill="#ff7144" stroke="#fff" stroke-opacity="0.55" stroke-width="0.80" stroke-linejoin="round"/><path d="M37,91.2L37,91.2L38.2,91.1L39.4,91.1L40.6,91.1L41.8,90.9L43,90.5L44.2,90.1L45.4,89.7L46.6,89.2L47.8,88.8L49,88.4L50.1,88L51.3,87.5L52.5,87.1L53.7,86.7L54.9,86.3L56.1,85.8L57.3,85.4L58.5,85L59.7,84.6L60.9,84.2L62.1,83.8L63.3,83.3L64.5,82.9L65.7,82.5L66.9,82L68.1,81.5L69.3,81L70.5,80.5L71.7,79.9L72.9,79.4L74.1,78.9L75.2,78.5L76.4,78.1L77.6,77.7L78.8,77.4L80,77.1L81.2,76.9L82.4,76.8L83.6,76.8L84.8,76.9L86,77.1L87.2,77.4L88.4,77.8L89.6,78L90.8,78.2L92,78.1L93.2,78L94.4,77.9L95.6,78.2L96.8,78.9L98,79.7L99.2,80.4L100.4,81L101.5,81.4L102.7,81.8L103.9,82.2L105.1,82.6L106.3,83L107.5,83.4L108.7,83.8L109.9,84.2L111.1,84.6L112.3,85L113.5,85.4L114.7,85.9L115.9,86.3L117.1,86.7L118.3,87.1L119.5,87.6L120.7,88L121.9,88.4L123.1,88.8L124.3,89.3L125.5,89.7L126.6,90.1L127.8,90.5L129,90.9L130.2,91.1L131.4,91.1L132.6,91.1L133.8,91.2L138.6,91.2L138.6,91.2Z" fill="#ff7f50" stroke="#fff" stroke-opacity="0.55" stroke-width="0.80" stroke-linejoin="round"/><path d="M37,92.1L37,92.1L40.6,92.1L41.8,92L43,92L44.2,92L45.4,91.8L46.6,91.4L47.8,91L49,90.6L50.1,90.3L51.3,89.9L52.5,89.5L53.7,89.1L54.9,88.6L56.1,88.2L57.3,87.8L58.5,87.4L59.7,87L60.9,86.6L62.1,86.3L63.3,85.9L64.5,85.5L65.7,85.1L66.9,84.7L68.1,84.4L69.3,84L70.5,83.6L71.7,83.3L72.9,83L74.1,82.8L75.2,82.7L76.4,82.7L77.6,82.6L78.8,82.3L80,81.8L81.2,81.3L82.4,80.9L83.6,80.6L84.8,80.5L86,80.4L87.2,80.5L88.4,80.6L89.6,80.7L90.8,80.7L92,80.7L93.2,80.6L94.4,80.6L95.6,80.6L96.8,80.8L98,81.2L99.2,81.7L100.4,82.3L101.5,82.9L102.7,83.5L103.9,84L105.1,84.4L106.3,84.8L107.5,85.2L108.7,85.6L109.9,86L111.1,86.4L112.3,86.8L113.5,87.2L114.7,87.6L115.9,88L117.1,88.4L118.3,88.8L119.5,89.2L120.7,89.6L121.9,90L123.1,90.4L124.3,90.8L125.5,91.1L126.6,91.5L127.8,91.9L129,92L130.2,92L131.4,92L132.6,92.1L138.6,92.1L138.6,92.1Z" fill="#ff8152" stroke="#fff" stroke-opacity="0.55" stroke-width="0.80" stroke-linejoin="round"/><path d="M37,93L37,93L38.2,92.9L39.4,92.9L40.6,92.7L41.8,92.3L43,91.9L44.2,91.5L45.4,91.1L46.6,90.7L47.8,90.3L49,89.8L50.1,89.4L51.3,89L52.5,88.6L53.7,88.2L54.9,87.7L56.1,87.3L57.3,86.9L58.5,86.5L59.7,86.1L60.9,85.7L62.1,85.3L63.3,84.9L64.5,84.5L65.7,84.1L66.9,83.7L68.1,83.3L69.3,82.9L70.5,82.5L71.7,82.2L72.9,81.8L74.1,81.5L75.2,81.1L76.4,80.8L77.6,80.5L78.8,80.2L80,79.8L81.2,79.5L82.4,79.3L83.6,79.2L84.8,79.1L86,79.4L87.2,79.7L88.4,80L89.6,80.3L90.8,80.6L92,81L93.2,81.3L94.4,81.6L95.6,81.9L96.8,82.2L98,82.5L99.2,82.8L100.4,83.1L101.5,83.5L102.7,83.8L103.9,84.2L105.1,84.6L106.3,85L107.5,85.4L108.7,85.8L109.9,86.2L111.1,86.6L112.3,87L113.5,87.4L114.7,87.9L115.9,88.3L117.1,88.7L118.3,89.1L119.5,89.5L120.7,90L121.9,90.4L123.1,90.8L124.3,91.2L125.5,91.6L126.6,92L127.8,92.4L129,92.8L130.2,92.9L131.4,92.9L132.6,93L138.6,93L138.6,93Z" fill="#ff8354" stroke="#fff" stroke-opacity="0.55" stroke-width="0.80" stroke-linejoin="round"/><path d="M37,97.8L37,97.7L38.2,97.7L39.4,97.7L40.6,97.4L41.8,97L43,96.6L44.2,96.2L45.4,95.8L46.6,95.4L47.8,94.9L49,94.5L50.1,94.1L51.3,93.7L52.5,93.3L53.7,92.9L54.9,92.5L56.1,92.1L57.3,91.6L58.5,91.2L59.7,90.8L60.9,90.4L62.1,90.1L63.3,89.7L64.5,89.3L65.7,88.9L66.9,88.5L68.1,88.2L69.3,87.8L70.5,87.5L71.7,87.1L72.9,86.8L74.1,86.6L75.2,86.3L76.4,86.1L77.6,86L78.8,85.9L80,85.8L81.2,85.7L82.4,85.6L83.6,85.4L84.8,85.4L86,85.4L87.2,85.4L88.4,85.5L89.6,85.6L90.8,85.7L92,85.9L93.2,86.2L94.4,86.4L95.6,86.7L96.8,87L98,87.4L99.2,87.8L100.4,88.2L101.5,88.6L102.7,88.9L103.9,89.3L105.1,89.7L106.3,90.1L107.5,90.5L108.7,90.9L109.9,91.3L111.1,91.7L112.3,92.1L113.5,92.5L114.7,92.9L115.9,93.3L117.1,93.8L118.3,94.2L119.5,94.6L120.7,95L121.9,95.4L123.1,95.8L124.3,96.2L125.5,96.6L126.6,97L127.8,97.4L129,97.7L130.2,97.7L131.4,97.7L132.6,97.8L138.6,97.8L138.6,97.8Z" fill="#ff8d5d" stroke="#fff" stroke-opacity="0.55" stroke-width="0.80" stroke-linejoin="round"/><path d="M37,98.7L37,98.7L38.2,98.6L39.4,98.6L40.6,98.6L41.8,98.3L43,97.9L44.2,97.5L45.4,97.1L46.6,96.6L47.8,96.2L49,95.8L50.1,95.3L51.3,94.9L52.5,94.5L53.7,94.1L54.9,93.6L56.1,93.2L57.3,92.8L58.5,92.3L59.7,91.9L60.9,91.5L62.1,91.1L63.3,90.7L64.5,90.3L65.7,89.9L66.9,89.5L68.1,89.1L69.3,88.7L70.5,88.3L71.7,88L72.9,87.6L74.1,87.1L75.2,86.7L76.4,86.3L77.6,85.8L78.8,85.3L80,84.9L81.2,84.5L82.4,84.1L83.6,83.9L84.8,83.8L86,84.1L87.2,84.5L88.4,85L89.6,85.6L90.8,86.1L92,86.5L93.2,86.9L94.4,87.1L95.6,87.4L96.8,87.6L98,87.9L99.2,88.2L100.4,88.6L101.5,88.9L102.7,89.3L103.9,89.7L105.1,90.1L106.3,90.5L107.5,90.9L108.7,91.3L109.9,91.7L111.1,92.1L112.3,92.5L113.5,92.9L114.7,93.4L115.9,93.8L117.1,94.2L118.3,94.6L119.5,95.1L120.7,95.5L121.9,95.9L123.1,96.4L124.3,96.8L125.5,97.2L126.6,97.6L127.8,98L129,98.4L130.2,98.6L131.4,98.6L132.6,98.7L138.6,98.7L138.6,98.7Z" fill="#ff8f5f" stroke="#fff" stroke-opacity="0.55" stroke-width="0.80" stroke-linejoin="round"/><path d="M37,101.8L37,101.8L39.4,101.8L40.6,101.7L41.8,101.7L43,101.7L44.2,101.6L45.4,101.1L46.6,100.7L47.8,100.2L49,99.7L50.1,99.2L51.3,98.7L52.5,98.2L53.7,97.7L54.9,97.2L56.1,96.7L57.3,96.2L58.5,95.7L59.7,95.2L60.9,94.7L62.1,94.2L63.3,93.7L64.5,93.2L65.7,92.7L66.9,92.3L68.1,91.8L69.3,91.3L70.5,90.8L71.7,90.3L72.9,89.7L74.1,89.1L75.2,88.5L76.4,87.9L77.6,87.3L78.8,86.9L80,86.7L81.2,86.8L82.4,86.9L83.6,87.2L84.8,87.4L86,87.6L87.2,87.8L88.4,87.8L89.6,87.8L90.8,87.8L92,88L93.2,88.2L94.4,88.4L95.6,88.8L96.8,89.1L98,89.5L99.2,90L100.4,90.4L101.5,90.9L102.7,91.5L103.9,92L105.1,92.5L106.3,93L107.5,93.6L108.7,94.1L109.9,94.6L111.1,95.1L112.3,95.6L113.5,96.1L114.7,96.6L115.9,97.1L117.1,97.6L118.3,98.1L119.5,98.6L120.7,99.1L121.9,99.6L123.1,100.1L124.3,100.6L125.5,101.1L126.6,101.5L127.8,101.7L129,101.7L130.2,101.7L131.4,101.8L138.6,101.8L138.6,101.8Z" fill="#ff9564" stroke="#fff" stroke-opacity="0.55" stroke-width="0.80" stroke-linejoin="round"/><path d="M37,102.7L37,102.7L39.4,102.7L40.6,102.6L41.8,102.6L43,102.5L44.2,102L45.4,101.6L46.6,101.2L47.8,100.7L49,100.2L50.1,99.7L51.3,99.3L52.5,98.8L53.7,98.3L54.9,97.8L56.1,97.4L57.3,96.9L58.5,96.4L59.7,96L60.9,95.5L62.1,95L63.3,94.6L64.5,94.1L65.7,93.7L66.9,93.2L68.1,92.8L69.3,92.4L70.5,91.9L71.7,91.5L72.9,91.1L74.1,90.8L75.2,90.4L76.4,90.1L77.6,89.8L78.8,89.5L80,89.2L81.2,88.9L82.4,88.6L83.6,88.2L84.8,87.7L86,87.2L87.2,86.8L88.4,86.7L89.6,86.7L90.8,86.9L92,87.1L93.2,87.5L94.4,88L95.6,88.5L96.8,89.1L98,89.6L99.2,90.2L100.4,90.7L101.5,91.1L102.7,91.6L103.9,92L105.1,92.4L106.3,92.9L107.5,93.3L108.7,93.8L109.9,94.2L111.1,94.7L112.3,95.1L113.5,95.6L114.7,96L115.9,96.5L117.1,97L118.3,97.5L119.5,97.9L120.7,98.4L121.9,98.9L123.1,99.4L124.3,99.8L125.5,100.3L126.6,100.8L127.8,101.2L129,101.7L130.2,102.1L131.4,102.5L132.6,102.6L133.8,102.6L135,102.7L138.6,102.7L138.6,102.7Z" fill="#ff9766" stroke="#fff" stroke-opacity="0.55" stroke-width="0.80" stroke-linejoin="round"/><path d="M37,103.6L37,103.6L38.2,103.6L39.4,103.5L40.6,103.5L41.8,103.3L43,102.9L44.2,102.5L45.4,102.1L46.6,101.6L47.8,101.1L49,100.7L50.1,100.2L51.3,99.7L52.5,99.3L53.7,98.8L54.9,98.3L56.1,97.9L57.3,97.4L58.5,96.9L59.7,96.5L60.9,96L62.1,95.6L63.3,95.1L64.5,94.7L65.7,94.2L66.9,93.8L68.1,93.4L69.3,93L70.5,92.6L71.7,92.2L72.9,91.8L74.1,91.4L75.2,91L76.4,90.7L77.6,90.4L78.8,90L80,89.7L81.2,89.4L82.4,89.1L83.6,88.8L84.8,88.5L86,88.2L87.2,88L88.4,88.1L89.6,88.2L90.8,88.3L92,88.4L93.2,88.6L94.4,88.8L95.6,89.2L96.8,89.6L98,90.1L99.2,90.7L100.4,91.3L101.5,91.8L102.7,92.4L103.9,92.9L105.1,93.3L106.3,93.8L107.5,94.2L108.7,94.7L109.9,95.1L111.1,95.6L112.3,96L113.5,96.5L114.7,96.9L115.9,97.4L117.1,97.9L118.3,98.3L119.5,98.8L120.7,99.3L121.9,99.7L123.1,100.2L124.3,100.7L125.5,101.1L126.6,101.6L127.8,102.1L129,102.5L130.2,102.9L131.4,103.4L132.6,103.5L133.8,103.5L135,103.6L138.6,103.6L138.6,103.6Z" fill="#ff9968" stroke="#fff" stroke-opacity="0.55" stroke-width="0.80" stroke-linejoin="round"/><path d="M37,104.5L37,104.5L39.4,104.5L40.6,104.4L41.8,104.4L43,104.4L44.2,104L45.4,103.5L46.6,103L47.8,102.6L49,102.1L50.1,101.6L51.3,101.1L52.5,100.6L53.7,100.1L54.9,99.6L56.1,99.1L57.3,98.6L58.5,98.1L59.7,97.6L60.9,97.2L62.1,96.7L63.3,96.2L64.5,95.7L65.7,95.3L66.9,94.8L68.1,94.4L69.3,93.9L70.5,93.5L71.7,93L72.9,92.6L74.1,92.2L75.2,91.8L76.4,91.4L77.6,91L78.8,90.7L80,90.3L81.2,90L82.4,89.7L83.6,89.4L84.8,89.1L86,88.8L87.2,88.7L88.4,88.7L89.6,88.7L90.8,88.5L92,88.3L93.2,87.9L94.4,87.7L95.6,87.7L96.8,88.1L98,88.8L99.2,89.6L100.4,90.6L101.5,91.6L102.7,92.4L103.9,93.2L105.1,93.8L106.3,94.4L107.5,94.9L108.7,95.4L109.9,95.9L111.1,96.4L112.3,96.9L113.5,97.4L114.7,97.9L115.9,98.3L117.1,98.8L118.3,99.3L119.5,99.8L120.7,100.3L121.9,100.8L123.1,101.3L124.3,101.8L125.5,102.3L126.6,102.8L127.8,103.2L129,103.7L130.2,104.1L131.4,104.4L132.6,104.4L133.8,104.4L135,104.5L138.6,104.5L138.6,104.5Z" fill="#ff9b69" stroke="#fff" stroke-opacity="0.55" stroke-width="0.80" stroke-linejoin="round"/><path d="M37,105.3L37,105.3L39.4,105.3L40.6,105.2L41.8,105.2L43,105.1L44.2,104.7L45.4,104.3L46.6,103.9L47.8,103.4L49,102.9L50.1,102.5L51.3,102L52.5,101.5L53.7,101L54.9,100.6L56.1,100.1L57.3,99.6L58.5,99.1L59.7,98.7L60.9,98.2L62.1,97.7L63.3,97.3L64.5,96.8L65.7,96.4L66.9,95.9L68.1,95.5L69.3,95.1L70.5,94.6L71.7,94.2L72.9,93.8L74.1,93.4L75.2,93L76.4,92.6L77.6,92.2L78.8,91.8L80,91.4L81.2,91L82.4,90.5L83.6,90.1L84.8,89.8L86,89.5L87.2,89.3L88.4,89.3L89.6,89.5L90.8,89.6L92,89.7L93.2,89.9L94.4,90.2L95.6,90.7L96.8,91.4L98,92L99.2,92.5L100.4,93L101.5,93.4L102.7,93.8L103.9,94.3L105.1,94.7L106.3,95.1L107.5,95.5L108.7,96L109.9,96.4L111.1,96.9L112.3,97.3L113.5,97.8L114.7,98.2L115.9,98.7L117.1,99.2L118.3,99.6L119.5,100.1L120.7,100.6L121.9,101.1L123.1,101.5L124.3,102L125.5,102.5L126.6,103L127.8,103.4L129,103.9L130.2,104.3L131.4,104.8L132.6,105.2L133.8,105.2L135,105.2L136.2,105.3L138.6,105.3L138.6,105.3Z" fill="#ff9c6b" stroke="#fff" stroke-opacity="0.55" stroke-width="0.80" stroke-linejoin="round"/><path d="M37,107.6L37,107.6L38.2,107.6L39.4,107.5L40.6,107.5L41.8,107.5L43,107L44.2,106.5L45.4,106L46.6,105.5L47.8,105L49,104.5L50.1,103.9L51.3,103.4L52.5,102.9L53.7,102.3L54.9,101.8L56.1,101.3L57.3,100.8L58.5,100.2L59.7,99.7L60.9,99.2L62.1,98.7L63.3,98.2L64.5,97.7L65.7,97.2L66.9,96.7L68.1,96.2L69.3,95.7L70.5,95.3L71.7,94.8L72.9,94.4L74.1,93.9L75.2,93.5L76.4,93.2L77.6,92.9L78.8,92.6L80,92.5L81.2,92.4L82.4,92.3L83.6,92.3L84.8,92.2L86,92.3L87.2,92.5L88.4,93.1L89.6,93.8L90.8,94.5L92,95.1L93.2,95.2L94.4,94.8L95.6,94.4L96.8,94.1L98,94.1L99.2,94.3L100.4,94.6L101.5,94.9L102.7,95.3L103.9,95.8L105.1,96.3L106.3,96.7L107.5,97.2L108.7,97.7L109.9,98.2L111.1,98.7L112.3,99.2L113.5,99.8L114.7,100.3L115.9,100.8L117.1,101.3L118.3,101.9L119.5,102.4L120.7,102.9L121.9,103.5L123.1,104L124.3,104.5L125.5,105L126.6,105.6L127.8,106.1L129,106.6L130.2,107.1L131.4,107.5L132.6,107.5L133.8,107.5L135,107.6L138.6,107.6L138.6,107.6Z" fill="#ffa16f" stroke="#fff" stroke-opacity="0.55" stroke-width="0.80" stroke-linejoin="round"/><path d="M23.5,109.4H148.5" stroke="#d8d8d8" stroke-width="0.7"/><path d="M23.50,109.4V111.6" stroke="#cfcfcf" stroke-width="0.7"/><path d="M36.00,109.4V111.6" stroke="#cfcfcf" stroke-width="0.7"/><path d="M48.50,109.4V111.6" stroke="#cfcfcf" stroke-width="0.7"/><path d="M61.00,109.4V111.6" stroke="#cfcfcf" stroke-width="0.7"/><path d="M73.50,109.4V111.6" stroke="#cfcfcf" stroke-width="0.7"/><path d="M86.00,109.4V111.6" stroke="#cfcfcf" stroke-width="0.7"/><path d="M98.50,109.4V111.6" stroke="#cfcfcf" stroke-width="0.7"/><path d="M111.00,109.4V111.6" stroke="#cfcfcf" stroke-width="0.7"/><path d="M123.50,109.4V111.6" stroke="#cfcfcf" stroke-width="0.7"/><path d="M136.00,109.4V111.6" stroke="#cfcfcf" stroke-width="0.7"/><path d="M148.50,109.4V111.6" stroke="#cfcfcf" stroke-width="0.7"/><text transform="translate(23.50,118.8) scale(0.87,1)" class="xl">-1.0</text><text transform="translate(48.50,118.8) scale(0.87,1)" class="xl">-0.6</text><text transform="translate(73.50,118.8) scale(0.87,1)" class="xl">-0.2</text><text transform="translate(98.50,118.8) scale(0.87,1)" class="xl">0.2</text><text transform="translate(123.50,118.8) scale(0.87,1)" class="xl">0.6</text><text transform="translate(148.50,118.8) scale(0.87,1)" class="xl">1.0</text><path d="M148.5,74.32H151.3" stroke="#cfcfcf" stroke-width="0.7"/><path d="M148.5,80.94H151.3" stroke="#cfcfcf" stroke-width="0.7"/><path d="M148.5,87.57H151.3" stroke="#cfcfcf" stroke-width="0.7"/><path d="M148.5,94.19H151.3" stroke="#cfcfcf" stroke-width="0.7"/><path d="M148.5,100.81H151.3" stroke="#cfcfcf" stroke-width="0.7"/><path d="M148.5,107.43H151.3" stroke="#cfcfcf" stroke-width="0.7"/><text transform="translate(153.5,76.72) scale(0.87,1)" class="yl">20</text><text transform="translate(153.5,89.97) scale(0.87,1)" class="yl">60</text><text transform="translate(153.5,103.21) scale(0.87,1)" class="yl">100</text></svg><svg class="ic" viewBox="5 5 14 14" width="9" height="9"><path d="M7 14H5v5h5v-2H7v-3zm-2-4h2V7h3V5H5v5zm12 7h-3v2h5v-5h-2v3zM14 5v2h3v3h2V5h-5z" fill="#5f7b8b"/></svg></div><div class="cell" style="left:196.00px;top:141.33px"><div class="bar"></div><div class="ttl">layer2/bias</div><div class="dot">.</div><svg class="ch" width="196" height="141" viewBox="0 0 196 141"><rect x="23.5" y="68.60" width="125.0" height="2.70" fill="#000" fill-opacity="0.13"/><rect x="23.5" y="77.50" width="125.0" height="1.70" fill="#000" fill-opacity="0.13"/><rect x="23.5" y="80.10" width="125.0" height="2.20" fill="#000" fill-opacity="0.13"/><rect x="23.5" y="83.60" width="125.0" height="1.80" fill="#000" fill-opacity="0.13"/><rect x="23.5" y="90.70" width="125.0" height="3.10" fill="#000" fill-opacity="0.13"/><rect x="23.5" y="97.30" width="125.0" height="1.80" fill="#000" fill-opacity="0.13"/><rect x="23.5" y="101.30" width="125.0" height="4.40" fill="#000" fill-opacity="0.13"/><rect x="23.5" y="107.00" width="125.0" height="1.10" fill="#000" fill-opacity="0.13"/><path d="M28,69.1L28,69.1L56.5,69.1L58.4,62.4L60.8,62L62.9,64.7L64.5,62L66.5,62.1L68.9,58.7L71.2,63.4L72.8,62.2L75.2,62.5L77.2,62.8L78.8,61.2L81,60.3L82.5,60.4L84,64.7L85.4,58.7L87.3,61.5L89.7,61.6L91.7,61.2L93.6,59.9L95.6,63.2L97.3,61L99.7,58.1L101.5,64.3L103,61.9L104.7,63.5L106.1,62.9L108.1,65.1L109.5,64.1L111.9,64L113.8,63.7L116.3,62.8L118.4,63.3L120.7,62.6L123.1,66.2L125.1,64.8L127.2,64.7L128,69.1L140,69.1L140,69.1Z" fill="#ce451d" stroke="#fff" stroke-opacity="0.55" stroke-width="0.80" stroke-linejoin="round"/><path d="M28,70L28,70L56.5,70L58.4,61.8L59.9,65.9L61.5,62L63.3,66L65.5,62.7L66.9,65.2L68.3,65.9L70,63.3L71.9,65.6L73.5,66.5L75,62.5L76.4,64.3L77.8,60.1L80,66.4L82.5,60.8L84.4,64.7L86.7,53.1L88.5,59.9L90.7,57L92.5,56.7L94,61.8L96.3,60.5L98.6,57.8L100.3,59.3L102.1,61.4L103.6,65.7L105.2,63.3L106.7,63.6L108.7,64.2L110.1,62.2L112.4,58.9L113.8,66L116.2,62.6L118.2,63.5L120.6,62.6L123,63.4L124.7,65.7L126.1,62.9L127.4,62.5L128,70L140,70L140,70Z" fill="#d24820" stroke="#fff" stroke-opacity="0.55" stroke-width="0.80" stroke-linejoin="round"/><path d="M28,70.9L28,70.9L56.5,70.9L57.8,67.5L59.6,66.1L61.2,65.2L63.7,61.9L66.1,65.2L67.6,66.5L69,67.4L71.3,67L73.6,60.7L75.3,65.6L77.3,65.1L78.7,63.7L80.7,64.8L82.1,66.2L83.9,61.1L85.8,61.4L87.2,58.7L88.8,63.5L91.2,62L93.2,63.1L95.6,60.3L97.2,58.4L98.8,61.7L100.8,61.8L102.7,64.2L104.5,60.8L106.1,60.3L108.2,67.3L109.9,59.1L112,64L113.5,65.7L115.1,67.6L117.4,66.9L119.3,63.3L121.1,65.4L122.5,65.3L124.3,65.6L126.3,66.7L128,70.9L140,70.9L140,70.9Z" fill="#d54b23" stroke="#fff" stroke-opacity="0.55" stroke-width="0.80" stroke-linejoin="round"/><path d="M28,74.3L28,74.3L52.5,74.3L53.5,72.4L55.8,69.7L57.8,63.3L60,67.3L61.8,62.4L63.7,67.6L66.1,60.8L68.2,65.4L70.7,59.2L72.4,67.7L74.7,60.6L76.8,63.6L78.4,59.2L80.7,65L82.5,57.8L83,59.8L83.5,61.9L84,63.9L84,63.8L84.5,61.4L85,58.9L85.5,56.5L86,54L86.2,52.9L86.5,53.6L87,54.8L87.5,56L88,57.2L88.3,57.8L88.5,57L89,54.5L89.5,52.1L89.7,50.9L90,50.7L90.5,48.5L91,46.2L91.3,45L91.5,43.9L92,41.6L92.5,39.2L93,36.8L93.5,39.2L93.6,39.8L94,41.6L94.5,43.9L95,46.2L95.5,48.5L95.8,49.8L96,50.7L96.5,52.9L97,55L97.5,54.9L98,52.3L98,52.1L98.5,55.1L99,58.6L99.5,62L99.9,64.9L100,64.4L100.5,61L101,57.6L101.5,54.2L101.6,53.5L102,56.2L102.5,59.7L103,63.2L103.1,63.7L104.7,58L106.2,63.3L108.5,60.1L110.7,66.1L112.2,61L114.3,66.2L116,61.9L117.8,63.5L119.3,61.9L121.8,63.6L123.2,61.1L124.6,66.3L125.9,60.7L128.2,68.1L130.1,69.8L131.7,73.9L132,74.3L140,74.3L140,74.3Z" fill="#e1562c" stroke="#fff" stroke-opacity="0.55" stroke-width="0.80" stroke-linejoin="round"/><path d="M28,78L28,78L62,78L63.7,76.4L65.9,73L68.2,73.7L70.4,69.6L72.4,71.9L74.1,73.5L75.7,74.9L78.4,70.8L81,71.6L83.3,58.2L85.3,65.2L87,63.3L89.8,52.2L92.3,49.5L94.4,57.7L96.9,65.4L99.5,71.2L101.2,71.4L103.3,72.2L105,73.5L107.2,72.1L109.8,73.3L112,71.9L114.4,74.9L116.9,75.5L119.4,74.9L121,78L140,78L140,78Z" fill="#ec6035" stroke="#fff" stroke-opacity="0.55" stroke-width="0.80" stroke-linejoin="round"/><path d="M28,78.8L28,78.8L61.1,78.8L62.2,76.6L64.7,72.8L67.1,76.2L69.8,75.2L71.4,75.9L73.3,70.1L74.9,76L77.7,71.9L79.4,64.4L81.1,70.1L83,63.7L85.9,60.6L88.7,54.3L90.9,56.4L92.8,55.3L94.5,60.7L96.8,65.3L98.8,66.9L100.8,71.1L103.2,69.7L106,67.9L108,73.6L110.3,76.2L112.7,73.4L114.5,77L117,77L119.4,76.3L121,78.1L121.5,78.8L140,78.8L140,78.8Z" fill="#ef6236" stroke="#fff" stroke-opacity="0.55" stroke-width="0.80" stroke-linejoin="round"/><path d="M28,80.6L28,80.6L59,80.6L61.2,77.6L63.3,77.5L65.3,78.5L67.7,77.3L69.3,76.1L71.5,75.1L73.5,75L76,77.1L78.4,73.3L81.1,68.2L83.3,75.2L85,68.9L87.1,70.7L88.9,63L90.9,61.4L93.1,52.3L95.9,69.4L97.6,62.1L100.3,69L101.9,69.4L104.5,73L107,76.3L109,73L111.7,74.5L113.8,77.5L116.5,75.7L119.3,74.8L121.6,76.7L122.7,80.6L140,80.6L140,80.6Z" fill="#f4663a" stroke="#fff" stroke-opacity="0.55" stroke-width="0.80" stroke-linejoin="round"/><path d="M28,81.6L28,81.6L57.9,81.6L59.5,77.3L61.4,78L63.6,78.2L65.7,78.1L68.3,79L70.9,75.3L73.2,76L75.9,73.7L77.6,74.9L79.6,78.4L82.3,73.8L84.1,67.8L85.8,69.2L87.7,69.7L89.8,72L91.6,59.2L94.3,53.7L96,55.8L98,68.6L100.5,52.1L102.4,65.4L104.8,69.7L106.5,71.9L108.3,74.3L111,75.5L113.2,79.5L115.4,76.2L118.1,74.6L119.7,78.2L122.4,79.9L123.3,81.6L140,81.6L140,81.6Z" fill="#f7693d" stroke="#fff" stroke-opacity="0.55" stroke-width="0.80" stroke-linejoin="round"/><path d="M28,84.1L28,84.1L55,84.1L56.3,82.4L58.3,82.4L59.9,79.6L62.6,81.5L65.3,81.7L68.1,80.1L70.6,79.6L73.1,80.7L74.6,80L76.4,80.5L78.3,78.5L80.1,76.5L82.7,75.6L84.6,73.3L87.4,72.9L90,61.7L91.9,63.9L94.7,68.9L97.2,65.3L99.5,66.4L101.8,76L104.1,70L105.7,69.4L108,76.6L109.5,78.7L111.7,79.2L114.3,80.6L116.1,81.4L117.9,79.3L119.6,77.1L121.5,78.3L124,82.2L124.9,84.1L140,84.1L140,84.1Z" fill="#fd6f42" stroke="#fff" stroke-opacity="0.55" stroke-width="0.80" stroke-linejoin="round"/><path d="M28,85L28,85L54,85L56.1,80.6L58.1,79.5L60.5,81.9L62.5,77.6L64.6,82L66.4,81.4L69.2,82.8L70.9,79.2L72.5,78.6L74.7,79.3L77.4,81.1L79.1,80.2L81.4,78.9L83.6,81.3L86.4,74.5L88.7,67.6L90.4,67.9L92.2,62.2L94.8,70.5L97.2,62.2L100,55.7L102.2,69.6L104.1,79.3L105.9,76.1L108.6,82L111.3,74.9L113.6,78.7L116.3,79.5L118,80.5L120.6,82.1L122.4,81.7L125,83L125.5,85L140,85L140,85Z" fill="#ff7144" stroke="#fff" stroke-opacity="0.55" stroke-width="0.80" stroke-linejoin="round"/><path d="M28,91.2L28,91.2L46.8,91.2L48.2,89.8L50.3,88.5L53.1,89.9L55.4,88.2L58.1,88.5L59.9,87.5L62.5,85L64.7,85.6L67,88.3L69.8,81.3L71.8,84.7L73.8,83.2L76,82.8L78.1,85.8L80.1,86L82.8,82.4L85,76.9L87.1,70.4L88.9,78L91.1,74.4L93.1,63.4L95.8,59L98,75.5L100.3,79.4L102,86.7L103.6,81.2L105.3,84.3L107.8,86.2L110.1,84L112.1,84.1L114.3,84.8L116.6,89.1L118.3,89.3L120.1,88.6L122.3,87.3L124.8,87.4L126.5,88.4L128.3,89.2L129.5,91.2L140,91.2L140,91.2Z" fill="#ff7f50" stroke="#fff" stroke-opacity="0.55" stroke-width="0.80" stroke-linejoin="round"/><path d="M28,92.1L28,92.1L45.8,92.1L47.4,90.5L50,91L52.8,86L55.1,88.1L57.8,86.4L59.8,87.1L61.8,89.9L63.5,88.1L65.3,84.9L67.4,86.6L69.8,86.6L72.4,80.1L75.2,86.4L77.7,79.8L79.4,73.4L81,79.1L83.4,85L86,84.5L87.9,79.2L90.8,83.2L93.5,83.9L95.1,75.2L96.9,84.8L99,78.2L100.6,87.9L103.2,84.4L105.9,85.2L108.6,85.1L111.3,83.1L113.6,86.6L116.2,86.1L118.1,86.4L120.2,88.7L122.3,88.1L124.5,88.8L127,89.7L129.4,88.9L130.1,92.1L140,92.1L140,92.1Z" fill="#ff8152" stroke="#fff" stroke-opacity="0.55" stroke-width="0.80" stroke-linejoin="round"/><path d="M28,93L28,93L44.8,93L46.7,88.9L49.4,87.8L51.1,91.5L52.8,86.3L54.9,89L56.8,89.5L59.1,88.6L61.5,87L63.9,86L66,85.6L68.5,89.6L70.2,88.1L72,85.7L73.9,83.5L76.3,84.6L79.1,87.4L81.6,81.9L83.8,81.7L85.6,85.3L87.3,75.5L89.6,80.5L92.4,77.6L94,71.9L96.2,73.1L98.8,81.8L100.7,83L102.3,77.8L104.7,85.5L107.1,86.6L109.5,86.7L112.2,88.9L114,87.7L116.2,83.6L118.9,89L120.7,87.4L122.6,85.8L124.9,86.7L126.8,91.1L129.2,90.6L130.6,93L140,93L140,93Z" fill="#ff8354" stroke="#fff" stroke-opacity="0.55" stroke-width="0.80" stroke-linejoin="round"/><path d="M28,97.8L28,97.8L39.3,97.8L41.3,96.2L43,93.1L45,96.4L46.7,94.7L49.1,94.7L50.8,93.6L52.8,92.7L55.3,93.4L58,92.3L60,92.3L62.3,95.6L64.8,92.1L67.5,90.7L70,93.7L72.3,94.9L74.6,92.7L77.4,94.7L80.2,94.3L82.5,93.2L84.2,88.1L86.7,88.9L88.4,74.8L91,91.5L93.2,80.8L96,82.8L98.5,79.2L101.3,79.3L104.1,75.2L106.3,85.9L108.3,91L109.8,91L112.6,91.7L115,87.1L117.6,92.7L120,89L121.7,95.9L123.6,90L125.3,94.3L127.4,96.2L129.7,94.1L132.5,95.4L133.7,97.8L140,97.8L140,97.8Z" fill="#ff8d5d" stroke="#fff" stroke-opacity="0.55" stroke-width="0.80" stroke-linejoin="round"/><path d="M28,98.7L28,98.7L38.2,98.7L40.4,96L42.6,95.3L44.9,93.3L47,97.3L49.2,95.7L51.5,94.2L54.1,96.8L56.9,93.5L59.7,95.9L62.4,95L64.2,96.1L66.7,92.2L69,91.6L71.1,93.5L73.2,86.8L76,94.8L77.9,95.8L79.7,93.3L81.9,88.6L83.4,88L85.4,86.4L87.2,81.9L89.2,78.9L91.3,78.2L93.2,84.5L94.9,76.6L97.2,80.3L100,84L102.4,93.4L105.1,93.1L107.9,94.9L109.5,91.7L111.2,89.7L113.5,96.1L115.3,95.5L117.1,95.8L119.2,93.5L121.5,93.8L123.9,94L126.2,94.9L129,97.1L131.3,96.2L132.9,97L134.3,98.7L140,98.7L140,98.7Z" fill="#ff8f5f" stroke="#fff" stroke-opacity="0.55" stroke-width="0.80" stroke-linejoin="round"/><path d="M28,101.8L28,101.8L34.7,101.8L36.1,98.3L38.2,99.9L39.9,100.6L42.5,100.3L44.2,97.7L46,99.1L48.8,100.1L50.5,96.3L52.6,96.5L55.2,99.1L57.5,96.4L59.2,99.6L61.1,96.5L63.8,96.2L66.1,94.9L68.5,95.8L70.9,99L72.8,91.2L75.3,94.1L77.8,93.4L80.5,93.4L82.3,96L84.9,95.4L87.6,92.7L89.5,91.3L91.5,94.4L94.1,91.3L96.8,88.3L98.6,94.6L101.1,83.6L103.4,86.9L105.9,91.1L108.7,92.6L110.5,98.6L112.4,94.8L114.3,95.7L115.8,95.3L117.8,93.4L119.9,99.7L122.1,99.1L124.4,98.8L126.8,94.3L128.6,97.1L130.7,95.8L133,100.4L134.8,98L136.3,101.8L140,101.8L140,101.8Z" fill="#ff9564" stroke="#fff" stroke-opacity="0.55" stroke-width="0.80" stroke-linejoin="round"/><path d="M28,102.7L28,102.7L33.6,102.7L34.9,101.2L37.5,101.5L39.8,100.1L42.6,100.3L44.4,99.4L47,99.9L49.3,97.6L51.4,96.2L54.1,97.3L56.1,100.1L58.5,99.1L60.6,96.2L62.5,97.6L64.2,100.2L65.8,96L68.4,96.6L70.6,94.6L73.3,98.4L75.7,97.5L78.2,99.6L80.3,94.5L82.4,96.4L84.9,98.2L87.6,94.2L89.7,87.3L92,84.1L94.4,91.5L96.9,80.1L98.4,90.7L100,93.1L102.2,90.7L104.2,97.3L106.6,95.9L109,98.9L111.6,99.3L114.1,100.2L116.7,99L118.9,97.5L121.4,99L124.1,97.6L125.7,100.9L128,97.7L130.3,98.9L132.5,100.6L135,100.8L136.9,102.7L140,102.7L140,102.7Z" fill="#ff9766" stroke="#fff" stroke-opacity="0.55" stroke-width="0.80" stroke-linejoin="round"/><path d="M28,103.6L28,103.6L32.6,103.6L34.2,101.9L35.8,102.6L37.7,102.2L39.8,101.1L41.5,99.5L43.4,99.7L44.9,100.9L46.9,101.4L48.8,99.1L50.8,97.8L53.1,97.8L55.2,99.9L57.4,99L59.2,100.7L61.1,95.3L63.1,100.5L65.8,100.3L67.8,95.9L69.5,97.2L71,96.6L73.5,91.6L75.5,95.7L78,99.2L80.7,99.5L83.6,99.3L86.3,91L88.1,78.3L91,96.5L93.2,85.9L95.2,80.5L97.3,82.4L99.4,97.2L101.7,89.6L103.8,99.3L105.9,97.6L107.8,99.6L110.4,98.9L112,97.5L114,98.5L115.9,100L118.5,96.9L121,94.4L123.7,96.9L125.5,98.5L127.2,100.8L130,99.1L132.8,100L134.7,99.1L136.9,102.6L137.4,103.6L140,103.6L140,103.6Z" fill="#ff9968" stroke="#fff" stroke-opacity="0.55" stroke-width="0.80" stroke-linejoin="round"/><path d="M28,104.5L28,104.5L31.6,104.5L33.2,103.5L35,102.3L37.5,102.2L39.1,98.8L41.3,102.2L43.5,102.4L45.2,101.2L47.9,96.7L50.3,98.6L52,95.9L54.7,101.1L57.4,101.6L60.1,99.2L61.7,98.1L64.5,101.2L67,100.3L68.9,101.4L70.6,99.8L73,99.3L75.6,101.5L78.4,99.1L80.8,93.2L83.2,96.8L84.7,95.3L87.4,91.2L89.7,95.5L91.6,83.2L93.7,90.2L95.9,94.9L97.5,81.8L99.3,98.5L100.9,93.8L102.6,96.6L104.7,98.2L107.4,101.5L110.2,98.2L112.7,99.7L114.3,98.9L116.8,97.2L119.2,101.1L120.8,99.6L122.6,98.2L125.5,101.5L127.5,99.8L129.8,100.5L132.5,100.9L135,102.1L136.6,100.8L138,104.5L140,104.5L140,104.5Z" fill="#ff9b69" stroke="#fff" stroke-opacity="0.55" stroke-width="0.80" stroke-linejoin="round"/><path d="M28,105.3L28,105.3L30.6,105.3L32,104.3L33.7,102.6L35.4,103.8L38.2,99.9L40.1,102.2L42.6,103.6L44.2,101.4L46.9,101.9L48.9,99.7L50.9,101.6L52.6,99L55.4,97L57.1,102.1L59,98.2L61.2,101.4L63.3,96.7L65.9,98.8L67.8,100.3L69.9,97.4L71.9,98.3L74.6,101.2L76.6,98.7L79.3,97.4L81.8,94.6L84.5,96.2L86.1,91L88.4,92.8L90.5,94.8L92.3,90.6L94.6,81.3L96.2,89.4L98.8,93.6L101,99.3L103.4,94.6L105,99.1L107.4,99.6L109.6,98.5L111.7,101.5L113.8,96.2L115.9,98.4L118.5,100.2L120.7,102.9L123.5,99.4L125.6,97.4L128.1,100.9L130.7,101L133.4,102.2L135.6,103.3L137.8,104.5L138.5,105.3L140,105.3L140,105.3Z" fill="#ff9c6b" stroke="#fff" stroke-opacity="0.55" stroke-width="0.80" stroke-linejoin="round"/><path d="M28,107.6L28,107.6L28,107.6L30.1,105.1L32.4,103L34.1,106.2L35.7,105.4L37.9,106L40.2,103.8L42.1,104.6L44.8,104L47,100.9L49.8,101.9L52.1,101.9L53.7,103.2L55.5,104.1L58,105.2L60.6,101.8L62.9,96.7L65.6,103.5L67.8,98.2L69.7,100.9L71.3,102.3L74,100.8L76.7,100.9L79,101.3L81.2,95.5L83.9,101.4L85.7,95.9L87.3,90.7L89.3,91.9L91,95.5L93.8,88.3L95.7,94.6L97.5,96.9L99,100.8L101.6,101.6L103.4,103.1L105.6,99L108.3,101.5L110.9,99.9L113.3,102.7L115.7,104.7L118.6,103.4L120.9,104.1L123.4,104.1L125.7,104.4L128,105.6L129.8,100.6L132.1,105.7L134.2,103.7L137,104.9L139.6,106.4L140,107.6L140,107.6L140,107.6Z" fill="#ffa16f" stroke="#fff" stroke-opacity="0.55" stroke-width="0.80" stroke-linejoin="round"/><path d="M23.5,109.4H148.5" stroke="#d8d8d8" stroke-width="0.7"/><path d="M23.50,109.4V111.6" stroke="#cfcfcf" stroke-width="0.7"/><path d="M34.86,109.4V111.6" stroke="#cfcfcf" stroke-width="0.7"/><path d="M46.23,109.4V111.6" stroke="#cfcfcf" stroke-width="0.7"/><path d="M57.59,109.4V111.6" stroke="#cfcfcf" stroke-width="0.7"/><path d="M68.95,109.4V111.6" stroke="#cfcfcf" stroke-width="0.7"/><path d="M80.32,109.4V111.6" stroke="#cfcfcf" stroke-width="0.7"/><path d="M91.68,109.4V111.6" stroke="#cfcfcf" stroke-width="0.7"/><path d="M103.05,109.4V111.6" stroke="#cfcfcf" stroke-width="0.7"/><path d="M114.41,109.4V111.6" stroke="#cfcfcf" stroke-width="0.7"/><path d="M125.77,109.4V111.6" stroke="#cfcfcf" stroke-width="0.7"/><path d="M137.14,109.4V111.6" stroke="#cfcfcf" stroke-width="0.7"/><path d="M148.50,109.4V111.6" stroke="#cfcfcf" stroke-width="0.7"/><text transform="translate(23.50,118.8) scale(0.87,1)" class="xl">-0.012</text><text transform="translate(46.23,118.8) scale(0.87,1)" class="xl">-0.008</text><text transform="translate(68.95,118.8) scale(0.87,1)" class="xl">-0.004</text><text transform="translate(91.68,118.8) scale(0.87,1)" class="xl">0.000</text><text transform="translate(114.41,118.8) scale(0.87,1)" class="xl">0.004</text><text transform="translate(137.14,118.8) scale(0.87,1)" class="xl">0.008</text><path d="M148.5,74.32H151.3" stroke="#cfcfcf" stroke-width="0.7"/><path d="M148.5,80.94H151.3" stroke="#cfcfcf" stroke-width="0.7"/><path d="M148.5,87.57H151.3" stroke="#cfcfcf" stroke-width="0.7"/><path d="M148.5,94.19H151.3" stroke="#cfcfcf" stroke-width="0.7"/><path d="M148.5,100.81H151.3" stroke="#cfcfcf" stroke-width="0.7"/><path d="M148.5,107.43H151.3" stroke="#cfcfcf" stroke-width="0.7"/><text transform="translate(153.5,76.72) scale(0.87,1)" class="yl">20</text><text transform="translate(153.5,89.97) scale(0.87,1)" class="yl">60</text><text transform="translate(153.5,103.21) scale(0.87,1)" class="yl">100</text></svg><svg class="ic" viewBox="5 5 14 14" width="9" height="9"><path d="M7 14H5v5h5v-2H7v-3zm-2-4h2V7h3V5H5v5zm12 7h-3v2h5v-5h-2v3zM14 5v2h3v3h2V5h-5z" fill="#5f7b8b"/></svg></div><div class="cell" style="left:392.00px;top:141.33px"><div class="bar"></div><div class="ttl">layer2/layer</div><div class="dot">.</div><svg class="ch" width="196" height="141" viewBox="0 0 196 141"><rect x="23.5" y="68.60" width="125.0" height="2.70" fill="#000" fill-opacity="0.13"/><rect x="23.5" y="77.50" width="125.0" height="1.70" fill="#000" fill-opacity="0.13"/><rect x="23.5" y="80.10" width="125.0" height="2.20" fill="#000" fill-opacity="0.13"/><rect x="23.5" y="83.60" width="125.0" height="1.80" fill="#000" fill-opacity="0.13"/><rect x="23.5" y="90.70" width="125.0" height="3.10" fill="#000" fill-opacity="0.13"/><rect x="23.5" y="97.30" width="125.0" height="1.80" fill="#000" fill-opacity="0.13"/><rect x="23.5" y="101.30" width="125.0" height="4.40" fill="#000" fill-opacity="0.13"/><rect x="23.5" y="107.00" width="125.0" height="1.10" fill="#000" fill-opacity="0.13"/><path d="M38,69.1L38,69.1L58.3,69.1L59.5,68.9L60.7,68.4L61.9,67.8L63.1,67.3L64.3,66.8L65.5,66.3L66.7,65.9L67.9,65.4L69.1,64.8L70.3,63.9L71.5,63L72.7,62.1L73.9,61.1L75,60.1L76.2,59.1L77.4,58L78.6,57.1L79.8,56.4L81,55.7L82.2,55.1L83.4,54.5L84.6,54L85.8,53.5L87,54.1L88.2,54.8L89.4,55.5L90.6,56.2L91.8,57L93,57.8L94.2,58.8L95.4,59.8L96.6,60.8L97.8,61.7L99,62.6L100.1,63.5L101.3,64.4L102.5,65.2L103.7,65.9L104.9,66.4L106.1,67L107.3,67.5L108.5,68.1L109.7,68.8L110.9,69.1L136,69.1L136,69.1Z" fill="#ce451d" stroke="#fff" stroke-opacity="0.55" stroke-width="0.80" stroke-linejoin="round"/><path d="M38,70L38,70L58.3,70L59.5,69.8L60.7,69.2L61.9,68.6L63.1,68L64.3,67.5L65.5,67L66.7,66.5L67.9,66L69.1,65.3L70.3,64.3L71.5,63.3L72.7,62.3L73.9,61.3L75,60.2L76.2,59.1L77.4,57.9L78.6,56.9L79.8,56.1L81,55.4L82.2,54.7L83.4,54.1L84.6,53.5L85.8,52.9L87,53.6L88.2,54.4L89.4,55.1L90.6,56L91.8,56.8L93,57.7L94.2,58.8L95.4,59.8L96.6,60.9L97.8,62L99,62.9L100.1,63.9L101.3,64.8L102.5,65.8L103.7,66.5L104.9,67.1L106.1,67.7L107.3,68.2L108.5,68.9L109.7,69.7L110.9,70L136,70L136,70Z" fill="#d24820" stroke="#fff" stroke-opacity="0.55" stroke-width="0.80" stroke-linejoin="round"/><path d="M38,70.9L38,70.9L58.3,70.9L59.5,70.6L60.7,70L61.9,69.4L63.1,68.8L64.3,68.2L65.5,67.6L66.7,67.1L67.9,66.6L69.1,65.8L70.3,64.8L71.5,63.7L72.7,62.6L73.9,61.5L75,60.3L76.2,59.1L77.4,57.8L78.6,56.7L79.8,55.9L81,55.1L82.2,54.4L83.4,53.7L84.6,53.1L85.8,52.4L87,53.2L88.2,54L89.4,54.8L90.6,55.7L91.8,56.6L93,57.6L94.2,58.7L95.4,59.9L96.6,61L97.8,62.2L99,63.2L100.1,64.3L101.3,65.3L102.5,66.3L103.7,67.1L104.9,67.7L106.1,68.4L107.3,69L108.5,69.8L109.7,70.6L110.9,70.9L136,70.9L136,70.9Z" fill="#d54b23" stroke="#fff" stroke-opacity="0.55" stroke-width="0.80" stroke-linejoin="round"/><path d="M38,74.3L38,74.3L58.3,74.3L59.5,73.8L60.7,72.6L61.9,71.5L63.1,70.3L64.3,69.2L65.5,68.1L66.7,67.1L67.9,66.1L69.1,64.8L70.3,62.7L71.5,60.7L72.7,58.6L73.9,56.6L75,54.3L76.2,52L77.4,49.7L78.6,47.4L79.8,46L81,44.5L82.2,43.1L83.4,41.8L84.6,40.6L85.8,39.4L87,40.9L88.2,42.3L89.4,43.9L90.6,45.6L91.8,47.4L93,49.2L94.2,51.3L95.4,53.5L96.6,55.7L97.8,57.9L99,59.9L100.1,61.8L101.3,63.8L102.5,65.7L103.7,67.1L104.9,68.3L106.1,69.5L107.3,70.7L108.5,72.1L109.7,73.7L110.9,74.3L136,74.3L136,74.3Z" fill="#e1562c" stroke="#fff" stroke-opacity="0.55" stroke-width="0.80" stroke-linejoin="round"/><path d="M38,78L38,77.7L39.2,77.6L40.4,78L58.3,78L59.5,77.9L60.7,77.9L61.9,77.9L63.1,77.9L64.3,77.9L65.5,77.9L66.7,78L69.1,78L70.3,77.8L71.5,77.4L72.7,76.8L73.9,76L75,75.1L76.2,74.2L77.4,73.2L78.6,72.3L79.8,71.6L81,71L82.2,70.6L83.4,70.4L84.6,70L85.8,69.7L87,69.4L88.2,69.3L89.4,69.5L90.6,69.9L91.8,70.4L93,71.1L94.2,71.9L95.4,72.6L96.6,73.4L97.8,74.1L99,74.8L100.1,75.4L101.3,76L102.5,76.4L103.7,76.8L104.9,77.1L106.1,77.3L107.3,77.5L108.5,77.7L109.7,77.8L110.9,77.8L112.1,77.9L113.3,77.9L114.5,78L132.4,78L133.6,77.6L134.8,77.7L136,77.7L136,78Z" fill="#ec6035" stroke="#fff" stroke-opacity="0.55" stroke-width="0.80" stroke-linejoin="round"/><path d="M38,78.8L38,78.8L59.5,78.8L60.7,78.7L61.9,78.7L63.1,78.6L64.3,78.5L65.5,78.3L66.7,78L67.9,77.5L69.1,76.9L70.3,76.2L71.5,75.3L72.7,74.5L73.9,73.6L75,72.8L76.2,72.1L77.4,71.4L78.6,70.8L79.8,70.3L81,69.8L82.2,69.3L83.4,68.9L84.6,68.7L85.8,68.6L87,68.8L88.2,69.2L89.4,69.9L90.6,70.8L91.8,71.8L93,72.8L94.2,73.7L95.4,74.5L96.6,75.2L97.8,75.9L99,76.5L100.1,77L101.3,77.4L102.5,77.7L103.7,78L104.9,78.2L106.1,78.4L107.3,78.5L108.5,78.6L109.7,78.7L110.9,78.7L112.1,78.7L113.3,78.8L133.6,78.8L134.8,78.4L136,78.5L136,78.8Z" fill="#ef6236" stroke="#fff" stroke-opacity="0.55" stroke-width="0.80" stroke-linejoin="round"/><path d="M38,80.6L38,80.2L39.2,80.6L55.9,80.6L57.1,80.5L58.3,80.5L59.5,80.5L60.7,80.4L61.9,80.3L63.1,80.2L64.3,80L65.5,79.9L66.7,79.8L67.9,79.6L69.1,79.4L70.3,79L71.5,78.4L72.7,77.6L73.9,76.7L75,75.9L76.2,75.1L77.4,74.3L78.6,73.6L79.8,72.9L81,72.4L82.2,71.9L83.4,71.6L84.6,71.4L85.8,71.4L87,71.5L88.2,71.8L89.4,72.2L90.6,72.8L91.8,73.4L93,74.1L94.2,74.9L95.4,75.6L96.6,76.3L97.8,77L99,77.7L100.1,78.3L101.3,78.8L102.5,79.2L103.7,79.5L104.9,79.8L106.1,80L107.3,80.2L108.5,80.3L109.7,80.4L110.9,80.5L112.1,80.5L113.3,80.5L114.5,80.6L131.2,80.6L132.4,80.2L133.6,80.3L134.8,80.3L136,80.4L136,80.6Z" fill="#f4663a" stroke="#fff" stroke-opacity="0.55" stroke-width="0.80" stroke-linejoin="round"/><path d="M38,81.6L38,81.6L54.7,81.6L55.9,81.5L57.1,81.5L58.3,81.5L59.5,81.4L60.7,81.3L61.9,81.2L63.1,81.1L64.3,80.9L65.5,80.7L66.7,80.4L67.9,80L69.1,79.5L70.3,79L71.5,78.4L72.7,77.7L73.9,77L75,76.2L76.2,75.4L77.4,74.6L78.6,73.8L79.8,73L81,72.4L82.2,71.8L83.4,71.4L84.6,71.1L85.8,71.1L87,71.2L88.2,71.6L89.4,72.2L90.6,73L91.8,73.9L93,74.9L94.2,75.8L95.4,76.7L96.6,77.5L97.8,78.2L99,78.8L100.1,79.3L101.3,79.8L102.5,80.1L103.7,80.4L104.9,80.7L106.1,80.9L107.3,81.1L108.5,81.2L109.7,81.3L110.9,81.4L112.1,81.5L113.3,81.5L114.5,81.5L115.7,81.6L132.4,81.6L133.6,81.2L134.8,81.3L136,81.3L136,81.6Z" fill="#f7693d" stroke="#fff" stroke-opacity="0.55" stroke-width="0.80" stroke-linejoin="round"/><path d="M38,84.1L38,83.8L39.2,83.7L40.4,83.7L41.6,84.1L57.1,84.1L58.3,84L59.5,84L60.7,83.9L61.9,83.9L63.1,83.8L64.3,83.7L65.5,83.5L66.7,83.3L67.9,83L69.1,82.7L70.3,82.3L71.5,81.9L72.7,81.5L73.9,81L75,80.4L76.2,79.8L77.4,79L78.6,78.1L79.8,77.1L81,76.2L82.2,75.4L83.4,74.7L84.6,74.1L85.8,73.7L87,73.4L88.2,73.4L89.4,73.4L90.6,73.7L91.8,74.1L93,74.7L94.2,75.4L95.4,76.1L96.6,77L97.8,77.8L99,78.7L100.1,79.5L101.3,80.2L102.5,80.9L103.7,81.5L104.9,82L106.1,82.5L107.3,82.8L108.5,83.1L109.7,83.4L110.9,83.6L112.1,83.7L113.3,83.8L114.5,83.9L115.7,84L116.9,84L118.1,84L119.3,84.1L134.8,84.1L136,83.7L136,84.1Z" fill="#fd6f42" stroke="#fff" stroke-opacity="0.55" stroke-width="0.80" stroke-linejoin="round"/><path d="M38,85L38,84.6L39.2,84.5L40.4,85L54.7,85L55.9,84.9L57.1,84.9L58.3,84.9L59.5,84.8L60.7,84.7L61.9,84.6L63.1,84.5L64.3,84.3L65.5,84.1L66.7,83.8L67.9,83.5L69.1,83L70.3,82.5L71.5,82L72.7,81.3L73.9,80.6L75,79.8L76.2,79L77.4,78.2L78.6,77.3L79.8,76.5L81,75.8L82.2,75.2L83.4,74.6L84.6,74.3L85.8,74L87,74L88.2,74.1L89.4,74.3L90.6,74.6L91.8,75L93,75.6L94.2,76.5L95.4,77.5L96.6,78.4L97.8,79.4L99,80.2L100.1,80.9L101.3,81.6L102.5,82.2L103.7,82.8L104.9,83.2L106.1,83.6L107.3,83.9L108.5,84.2L109.7,84.4L110.9,84.6L112.1,84.7L113.3,84.8L114.5,84.8L115.7,84.9L116.9,84.9L118.1,85L133.6,85L134.8,84.6L136,84.7L136,85Z" fill="#ff7144" stroke="#fff" stroke-opacity="0.55" stroke-width="0.80" stroke-linejoin="round"/><path d="M38,91.2L38,91.2L52.3,91.2L53.5,91.1L54.7,91.1L55.9,91.1L57.1,91L58.3,91L59.5,90.9L60.7,90.8L61.9,90.7L63.1,90.6L64.3,90.5L65.5,90.4L66.7,90.3L67.9,90L69.1,89.4L70.3,88.6L71.5,87.7L72.7,86.6L73.9,85.7L75,84.9L76.2,84.1L77.4,83.3L78.6,82.5L79.8,81.7L81,81.1L82.2,80.6L83.4,80.1L84.6,79.8L85.8,79.6L87,79.5L88.2,79.6L89.4,79.8L90.6,80.1L91.8,80.6L93,81.2L94.2,81.8L95.4,82.6L96.6,83.4L97.8,84.2L99,85L100.1,85.8L101.3,86.5L102.5,87.2L103.7,87.9L104.9,88.5L106.1,89L107.3,89.4L108.5,89.8L109.7,90.1L110.9,90.3L112.1,90.5L113.3,90.7L114.5,90.8L115.7,90.9L116.9,91L118.1,91.1L119.3,91.1L120.5,91.1L121.7,91.2L136,91.2L136,91.2Z" fill="#ff7f50" stroke="#fff" stroke-opacity="0.55" stroke-width="0.80" stroke-linejoin="round"/><path d="M38,92.1L38,91.7L39.2,92.1L50,92.1L51.1,92L52.3,92L53.5,92L54.7,92L55.9,91.9L57.1,91.8L58.3,91.7L59.5,91.6L60.7,91.4L61.9,91.2L63.1,91L64.3,90.7L65.5,90.4L66.7,89.9L67.9,89.5L69.1,88.9L70.3,88.3L71.5,87.7L72.7,87L73.9,86.3L75,85.5L76.2,84.7L77.4,84L78.6,83.2L79.8,82.5L81,81.9L82.2,81.3L83.4,80.9L84.6,80.6L85.8,80.5L87,80.5L88.2,80.8L89.4,81.2L90.6,81.8L91.8,82.5L93,83.3L94.2,84.2L95.4,85.1L96.6,86L97.8,86.8L99,87.6L100.1,88.2L101.3,88.8L102.5,89.3L103.7,89.7L104.9,90.1L106.1,90.5L107.3,90.8L108.5,91.1L109.7,91.3L110.9,91.5L112.1,91.7L113.3,91.8L114.5,91.9L115.7,91.9L116.9,92L118.1,92L119.3,92L120.5,92.1L131.2,92.1L132.4,91.6L133.6,91.7L134.8,91.8L136,91.9L136,92.1Z" fill="#ff8152" stroke="#fff" stroke-opacity="0.55" stroke-width="0.80" stroke-linejoin="round"/><path d="M38,93L38,93L52.3,93L53.5,92.9L54.7,92.9L55.9,92.9L57.1,92.8L58.3,92.8L59.5,92.7L60.7,92.6L61.9,92.4L63.1,92.2L64.3,92L65.5,91.8L66.7,91.4L67.9,91.1L69.1,90.7L70.3,90.2L71.5,89.8L72.7,89.3L73.9,88.8L75,88.1L76.2,87.2L77.4,86.3L78.6,85.4L79.8,84.5L81,83.7L82.2,83L83.4,82.5L84.6,82.1L85.8,81.8L87,81.6L88.2,81.6L89.4,81.7L90.6,82L91.8,82.4L93,82.9L94.2,83.5L95.4,84.1L96.6,84.9L97.8,85.6L99,86.4L100.1,87.2L101.3,87.9L102.5,88.6L103.7,89.3L104.9,89.9L106.1,90.4L107.3,90.9L108.5,91.3L109.7,91.6L110.9,91.9L112.1,92.2L113.3,92.4L114.5,92.5L115.7,92.6L116.9,92.7L118.1,92.8L119.3,92.9L120.5,92.9L121.7,92.9L122.9,93L136,93L136,93Z" fill="#ff8354" stroke="#fff" stroke-opacity="0.55" stroke-width="0.80" stroke-linejoin="round"/><path d="M38,97.8L38,97.4L39.2,97.3L40.4,97.8L50,97.8L51.1,97.7L52.3,97.7L53.5,97.7L54.7,97.6L55.9,97.6L57.1,97.5L58.3,97.4L59.5,97.3L60.7,97.1L61.9,96.9L63.1,96.7L64.3,96.4L65.5,96.1L66.7,95.7L67.9,95.2L69.1,94.7L70.3,94.2L71.5,93.5L72.7,92.9L73.9,92.1L75,91.4L76.2,90.6L77.4,89.8L78.6,89.1L79.8,88.3L81,87.7L82.2,87L83.4,86.5L84.6,86.1L85.8,85.8L87,85.6L88.2,85.5L89.4,85.4L90.6,85.3L91.8,85.1L93,85.1L94.2,85.3L95.4,86L96.6,87L97.8,88.1L99,89.2L100.1,90.2L101.3,91.1L102.5,92L103.7,92.9L104.9,93.7L106.1,94.4L107.3,95L108.5,95.5L109.7,95.9L110.9,96.3L112.1,96.6L113.3,96.8L114.5,97.1L115.7,97.2L116.9,97.4L118.1,97.5L119.3,97.5L120.5,97.6L121.7,97.7L122.9,97.7L124,97.7L125.2,97.7L126.4,97.8L136,97.8L136,97.8Z" fill="#ff8d5d" stroke="#fff" stroke-opacity="0.55" stroke-width="0.80" stroke-linejoin="round"/><path d="M38,98.7L38,98.7L46.4,98.7L47.6,98.6L48.8,98.6L50,98.6L51.1,98.5L52.3,98.5L53.5,98.4L54.7,98.3L55.9,98.2L57.1,98L58.3,97.8L59.5,97.6L60.7,97.3L61.9,96.9L63.1,96.6L64.3,96.2L65.5,96L66.7,95.7L67.9,95.4L69.1,94.8L70.3,93.9L71.5,92.9L72.7,92L73.9,91.2L75,90.3L76.2,89.5L77.4,88.7L78.6,87.9L79.8,87.4L81,86.9L82.2,86.6L83.4,86.5L84.6,86.5L85.8,86.9L87,87.5L88.2,88.2L89.4,88.8L90.6,89.1L91.8,89.4L93,89.7L94.2,90.3L95.4,90.9L96.6,91.7L97.8,92.5L99,93.2L100.1,93.9L101.3,94.6L102.5,95.2L103.7,95.8L104.9,96.2L106.1,96.7L107.3,97L108.5,97.4L109.7,97.6L110.9,97.9L112.1,98L113.3,98.2L114.5,98.3L115.7,98.4L116.9,98.5L118.1,98.5L119.3,98.6L120.5,98.6L121.7,98.6L122.9,98.7L131.2,98.7L132.4,98.2L133.6,98.3L134.8,98.4L136,98.5L136,98.7Z" fill="#ff8f5f" stroke="#fff" stroke-opacity="0.55" stroke-width="0.80" stroke-linejoin="round"/><path d="M38,101.8L38,101.8L44,101.8L45.2,101.7L46.4,101.7L47.6,101.7L48.8,101.7L50,101.6L51.1,101.5L52.3,101.5L53.5,101.4L54.7,101.2L55.9,101.1L57.1,100.9L58.3,100.6L59.5,100.3L60.7,99.9L61.9,99.5L63.1,98.9L64.3,98.3L65.5,97.5L66.7,96.7L67.9,95.9L69.1,95L70.3,94.3L71.5,93.7L72.7,93.1L73.9,92.6L75,92.2L76.2,91.7L77.4,91.2L78.6,90.7L79.8,90.3L81,90L82.2,89.7L83.4,89.6L84.6,89.6L85.8,89.7L87,90L88.2,90.4L89.4,90.9L90.6,91.5L91.8,92.3L93,93.1L94.2,94L95.4,94.9L96.6,95.8L97.8,96.5L99,97.2L100.1,97.7L101.3,98.2L102.5,98.6L103.7,99L104.9,99.3L106.1,99.7L107.3,100L108.5,100.4L109.7,100.6L110.9,100.9L112.1,101.1L113.3,101.2L114.5,101.3L115.7,101.4L116.9,101.5L118.1,101.6L119.3,101.7L120.5,101.7L121.7,101.7L122.9,101.7L124,101.8L131.2,101.8L132.4,101.4L133.6,101.5L134.8,101.5L136,101.6L136,101.8Z" fill="#ff9564" stroke="#fff" stroke-opacity="0.55" stroke-width="0.80" stroke-linejoin="round"/><path d="M38,102.7L38,102.7L44,102.7L45.2,102.6L46.4,102.6L47.6,102.6L48.8,102.5L50,102.5L51.1,102.4L52.3,102.3L53.5,102.2L54.7,102.1L55.9,101.9L57.1,101.7L58.3,101.5L59.5,101.2L60.7,100.8L61.9,100.5L63.1,100L64.3,99.6L65.5,99.2L66.7,98.7L67.9,98.2L69.1,97.6L70.3,96.9L71.5,96L72.7,95.1L73.9,94.1L75,93.2L76.2,92.4L77.4,91.7L78.6,91L79.8,90.5L81,90.1L82.2,89.8L83.4,89.6L84.6,89.6L85.8,89.7L87,89.9L88.2,90.3L89.4,90.8L90.6,91.4L91.8,92.3L93,93.4L94.2,94.7L95.4,96L96.6,97L97.8,97.8L99,98.3L100.1,98.8L101.3,99.2L102.5,99.6L103.7,99.9L104.9,100.2L106.1,100.5L107.3,100.8L108.5,101.1L109.7,101.4L110.9,101.6L112.1,101.8L113.3,102L114.5,102.1L115.7,102.3L116.9,102.4L118.1,102.5L119.3,102.5L120.5,102.6L121.7,102.6L122.9,102.6L124,102.6L125.2,102.7L131.2,102.7L132.4,102.2L133.6,102.3L134.8,102.4L136,102.5L136,102.7Z" fill="#ff9766" stroke="#fff" stroke-opacity="0.55" stroke-width="0.80" stroke-linejoin="round"/><path d="M38,103.6L38,103.3L39.2,103.2L40.4,103.6L45.2,103.6L46.4,103.5L47.6,103.5L48.8,103.5L50,103.4L51.1,103.4L52.3,103.3L53.5,103.2L54.7,103.1L55.9,103L57.1,102.8L58.3,102.6L59.5,102.4L60.7,102.1L61.9,101.8L63.1,101.4L64.3,101L65.5,100.5L66.7,99.9L67.9,99.3L69.1,98.6L70.3,98L71.5,97.3L72.7,96.6L73.9,96L75,95.5L76.2,94.9L77.4,94.3L78.6,93.6L79.8,92.8L81,92L82.2,91.3L83.4,90.8L84.6,90.4L85.8,90.2L87,90.2L88.2,90.3L89.4,90.5L90.6,90.7L91.8,91L93,91.4L94.2,91.9L95.4,92.5L96.6,93.2L97.8,94.1L99,94.9L100.1,95.8L101.3,96.7L102.5,97.5L103.7,98.3L104.9,99L106.1,99.7L107.3,100.3L108.5,100.9L109.7,101.4L110.9,101.8L112.1,102.2L113.3,102.5L114.5,102.7L115.7,102.9L116.9,103.1L118.1,103.2L119.3,103.3L120.5,103.4L121.7,103.4L122.9,103.5L124,103.5L125.2,103.5L126.4,103.5L127.6,103.6L131.2,103.6L132.4,103.2L133.6,103.2L134.8,103.3L136,103.4L136,103.6Z" fill="#ff9968" stroke="#fff" stroke-opacity="0.55" stroke-width="0.80" stroke-linejoin="round"/><path d="M38,104.5L38,104.2L39.2,104.1L40.4,104L41.6,104.5L46.4,104.5L47.6,104.4L48.8,104.4L50,104.4L51.1,104.3L52.3,104.3L53.5,104.2L54.7,104.1L55.9,104L57.1,103.9L58.3,103.7L59.5,103.5L60.7,103.3L61.9,103L63.1,102.6L64.3,102.3L65.5,101.8L66.7,101.3L67.9,100.8L69.1,100.2L70.3,99.5L71.5,98.8L72.7,98.1L73.9,97.3L75,96.5L76.2,95.8L77.4,95L78.6,94.3L79.8,93.7L81,93.1L82.2,92.8L83.4,92.6L84.6,92.6L85.8,92.7L87,92.9L88.2,93L89.4,93L90.6,93.1L91.8,93.2L93,93.5L94.2,94L95.4,94.6L96.6,95.3L97.8,96L99,96.6L100.1,97.1L101.3,97.7L102.5,98.1L103.7,98.7L104.9,99.2L106.1,99.8L107.3,100.4L108.5,101.1L109.7,101.6L110.9,102.2L112.1,102.6L113.3,103L114.5,103.3L115.7,103.6L116.9,103.8L118.1,103.9L119.3,104.1L120.5,104.2L121.7,104.3L122.9,104.3L124,104.4L125.2,104.4L126.4,104.4L127.6,104.4L128.8,104.5L133.6,104.5L134.8,104.1L136,104.2L136,104.5Z" fill="#ff9b69" stroke="#fff" stroke-opacity="0.55" stroke-width="0.80" stroke-linejoin="round"/><path d="M38,105.3L38,104.8L39.2,105.3L44,105.3L45.2,105.2L46.4,105.2L47.6,105.2L48.8,105.1L50,105.1L51.1,105L52.3,104.9L53.5,104.8L54.7,104.7L55.9,104.5L57.1,104.3L58.3,104.1L59.5,103.8L60.7,103.5L61.9,103.1L63.1,102.7L64.3,102.2L65.5,101.7L66.7,101.2L67.9,100.5L69.1,99.9L70.3,99.2L71.5,98.5L72.7,97.7L73.9,97L75,96.4L76.2,95.9L77.4,95.4L78.6,95L79.8,94.6L81,94.2L82.2,93.7L83.4,93.3L84.6,93L85.8,92.9L87,93L88.2,93.2L89.4,93.5L90.6,93.9L91.8,94.4L93,94.8L94.2,95.3L95.4,95.8L96.6,96.3L97.8,96.8L99,97.4L100.1,98L101.3,98.7L102.5,99.5L103.7,100.2L104.9,101L106.1,101.7L107.3,102.3L108.5,102.9L109.7,103.4L110.9,103.8L112.1,104.1L113.3,104.3L114.5,104.6L115.7,104.7L116.9,104.8L118.1,104.9L119.3,105L120.5,105.1L121.7,105.1L122.9,105.2L124,105.2L125.2,105.2L126.4,105.3L131.2,105.3L132.4,104.8L133.6,104.9L134.8,105L136,105.1L136,105.3Z" fill="#ff9c6b" stroke="#fff" stroke-opacity="0.55" stroke-width="0.80" stroke-linejoin="round"/><path d="M38,107.6L38,107.3L39.2,107.2L40.4,107.6L44,107.6L45.2,107.5L46.4,107.5L47.6,107.5L48.8,107.4L50,107.4L51.1,107.3L52.3,107.3L53.5,107.2L54.7,107L55.9,106.9L57.1,106.7L58.3,106.5L59.5,106.2L60.7,105.9L61.9,105.6L63.1,105.2L64.3,104.8L65.5,104.3L66.7,103.7L67.9,103.1L69.1,102.5L70.3,101.8L71.5,101.1L72.7,100.3L73.9,99.6L75,98.8L76.2,98.1L77.4,97.3L78.6,96.7L79.8,96.1L81,95.5L82.2,95.1L83.4,94.8L84.6,94.6L85.8,94.5L87,94.6L88.2,94.8L89.4,95.1L90.6,95.4L91.8,95.9L93,96.4L94.2,96.9L95.4,97.5L96.6,98.2L97.8,98.8L99,99.5L100.1,100.3L101.3,101L102.5,101.7L103.7,102.4L104.9,103L106.1,103.6L107.3,104.2L108.5,104.7L109.7,105.1L110.9,105.5L112.1,105.9L113.3,106.2L114.5,106.5L115.7,106.7L116.9,106.9L118.1,107L119.3,107.1L120.5,107.2L121.7,107.3L122.9,107.4L124,107.4L125.2,107.5L126.4,107.5L127.6,107.5L128.8,107.6L132.4,107.6L133.6,107.2L134.8,107.2L136,107.3L136,107.6Z" fill="#ffa16f" stroke="#fff" stroke-opacity="0.55" stroke-width="0.80" stroke-linejoin="round"/><path d="M23.5,109.4H148.5" stroke="#d8d8d8" stroke-width="0.7"/><path d="M23.50,109.4V111.6" stroke="#cfcfcf" stroke-width="0.7"/><path d="M32.43,109.4V111.6" stroke="#cfcfcf" stroke-width="0.7"/><path d="M41.36,109.4V111.6" stroke="#cfcfcf" stroke-width="0.7"/><path d="M50.29,109.4V111.6" stroke="#cfcfcf" stroke-width="0.7"/><path d="M59.21,109.4V111.6" stroke="#cfcfcf" stroke-width="0.7"/><path d="M68.14,109.4V111.6" stroke="#cfcfcf" stroke-width="0.7"/><path d="M77.07,109.4V111.6" stroke="#cfcfcf" stroke-width="0.7"/><path d="M86.00,109.4V111.6" stroke="#cfcfcf" stroke-width="0.7"/><path d="M94.93,109.4V111.6" stroke="#cfcfcf" stroke-width="0.7"/><path d="M103.86,109.4V111.6" stroke="#cfcfcf" stroke-width="0.7"/><path d="M112.79,109.4V111.6" stroke="#cfcfcf" stroke-width="0.7"/><path d="M121.71,109.4V111.6" stroke="#cfcfcf" stroke-width="0.7"/><path d="M130.64,109.4V111.6" stroke="#cfcfcf" stroke-width="0.7"/><path d="M139.57,109.4V111.6" stroke="#cfcfcf" stroke-width="0.7"/><path d="M148.50,109.4V111.6" stroke="#cfcfcf" stroke-width="0.7"/><text transform="translate(23.50,118.8) scale(0.87,1)" class="xl">-1.4</text><text transform="translate(41.36,118.8) scale(0.87,1)" class="xl">-1.0</text><text transform="translate(59.21,118.8) scale(0.87,1)" class="xl">-0.6</text><text transform="translate(77.07,118.8) scale(0.87,1)" class="xl">-0.2</text><text transform="translate(94.93,118.8) scale(0.87,1)" class="xl">0.2</text><text transform="translate(112.79,118.8) scale(0.87,1)" class="xl">0.6</text><text transform="translate(130.64,118.8) scale(0.87,1)" class="xl">1.0</text><text transform="translate(148.50,118.8) scale(0.87,1)" class="xl">1.4</text><path d="M148.5,74.32H151.3" stroke="#cfcfcf" stroke-width="0.7"/><path d="M148.5,80.94H151.3" stroke="#cfcfcf" stroke-width="0.7"/><path d="M148.5,87.57H151.3" stroke="#cfcfcf" stroke-width="0.7"/><path d="M148.5,94.19H151.3" stroke="#cfcfcf" stroke-width="0.7"/><path d="M148.5,100.81H151.3" stroke="#cfcfcf" stroke-width="0.7"/><path d="M148.5,107.43H151.3" stroke="#cfcfcf" stroke-width="0.7"/><text transform="translate(153.5,76.72) scale(0.87,1)" class="yl">20</text><text transform="translate(153.5,89.97) scale(0.87,1)" class="yl">60</text><text transform="translate(153.5,103.21) scale(0.87,1)" class="yl">100</text></svg><svg class="ic" viewBox="5 5 14 14" width="9" height="9"><path d="M7 14H5v5h5v-2H7v-3zm-2-4h2V7h3V5H5v5zm12 7h-3v2h5v-5h-2v3zM14 5v2h3v3h2V5h-5z" fill="#5f7b8b"/></svg></div><div class="cell" style="left:588.00px;top:141.33px"><div class="bar"></div><div class="ttl">layer2/weights</div><div class="dot">.</div><svg class="ch" width="196" height="141" viewBox="0 0 196 141"><rect x="23.5" y="68.60" width="125.0" height="2.70" fill="#000" fill-opacity="0.13"/><rect x="23.5" y="77.50" width="125.0" height="1.70" fill="#000" fill-opacity="0.13"/><rect x="23.5" y="80.10" width="125.0" height="2.20" fill="#000" fill-opacity="0.13"/><rect x="23.5" y="83.60" width="125.0" height="1.80" fill="#000" fill-opacity="0.13"/><rect x="23.5" y="90.70" width="125.0" height="3.10" fill="#000" fill-opacity="0.13"/><rect x="23.5" y="97.30" width="125.0" height="1.80" fill="#000" fill-opacity="0.13"/><rect x="23.5" y="101.30" width="125.0" height="4.40" fill="#000" fill-opacity="0.13"/><rect x="23.5" y="107.00" width="125.0" height="1.10" fill="#000" fill-opacity="0.13"/><path d="M27,69.1L27,69.1L28.5,64.6L30,59L31.5,53.2L33,46.5L34.5,39.2L36,34.2L37.5,34.6L39,34.3L40.5,33.5L42,33.6L43.5,34.9L45,36.5L46.5,35.8L48,35L49.5,34.3L51,32.9L52.5,32.6L54,33.2L55.5,33.5L57,32.6L58.5,31.5L60,31.4L61.5,31.7L63,33.3L64.5,35.1L66,36.5L67.5,37.2L69,37.6L70.5,35.7L72,34.1L73.5,34.6L75,36.2L76.5,37.4L78,37.7L79.5,38L81,36L82.5,34L84,33.4L85.5,33.1L87,32.6L88.5,31.7L90,31.4L91.5,31.3L93,30.9L94.5,32.5L96,35.1L97.5,36.7L99,36.6L100.5,36.4L102,36.4L103.5,36.4L105,34.2L106.5,31.8L108,32.8L109.5,35.4L111,37L112.5,37L114,37.2L115.5,37.6L117,37.9L118.5,37.6L120,37.2L121.5,37.5L123,38.1L124.5,37.4L126,35.9L127.5,35.3L129,35.9L130.5,36.3L132,36.2L133.5,35.6L135,34.8L136.5,33.2L138,35.8L139.5,43.8L141,50.9L142.5,56.2L144,61.4L145.5,67.1L147,69.1L147,69.1Z" fill="#ce451d" stroke="#fff" stroke-opacity="0.85" stroke-width="1.90" stroke-linejoin="round"/><path d="M27,70L27,70L28.5,65.4L30,59.7L31.5,53.7L33,46.9L34.5,39.1L36,33.5L37.5,33.4L39,33.4L40.5,33.2L42,34.1L43.5,36.3L45,37.5L46.5,36.1L48,35L49.5,34.1L51,32.9L52.5,32.9L54,34.1L55.5,34.6L57,32.7L58.5,31L60,30.9L61.5,31.3L63,33L64.5,34.5L66,35.3L67.5,36.4L69,37.6L70.5,35.5L72,33.3L73.5,33.7L75,35.2L76.5,36.9L78,37.6L79.5,37.3L81,35L82.5,33.7L84,33.1L85.5,31.9L87,31.7L88.5,32.4L90,32.8L91.5,32.6L93,31.7L94.5,32.8L96,35L97.5,36.3L99,36.7L100.5,36.9L102,36.7L103.5,36.6L105,34.5L106.5,32.3L108,33.4L109.5,36.1L111,37.4L112.5,36.9L114,36.2L115.5,36.4L117,36.7L118.5,37.3L120,37.9L121.5,37.8L123,37.7L124.5,37.5L126,36.6L127.5,35.2L129,35.4L130.5,36.8L132,37.1L133.5,35.9L135,35L136.5,33.7L138,36.5L139.5,43.9L141,51.3L142.5,56.9L144,62.1L145.5,68L147,70L147,70Z" fill="#d24820" stroke="#fff" stroke-opacity="0.85" stroke-width="1.90" stroke-linejoin="round"/><path d="M27,70.9L27,70.9L28.5,66.5L30,61.1L31.5,55.5L33,49.1L34.5,41.7L36,36.4L37.5,35.5L39,35.3L40.5,35.1L42,36.1L43.5,38.3L45,39.6L46.5,38.3L48,36.4L49.5,34.6L51,33.7L52.5,33.9L54,35.5L55.5,36.4L57,35.1L58.5,33.7L60,33.4L61.5,33.5L63,34.7L64.5,36.5L66,38.2L67.5,38.8L69,39L70.5,37L72,35.1L73.5,36L75,38.2L76.5,39.7L78,40.3L79.5,39.9L81,37.3L82.5,35L84,34.4L85.5,34.6L87,34.7L88.5,34.8L90,34.4L91.5,33.5L93,32.9L94.5,34.6L96,37.2L97.5,38.9L99,39.2L100.5,39.3L102,39L103.5,38.8L105,36.4L106.5,34.1L108,35.3L109.5,38.1L111,39.5L112.5,39.3L114,39.3L115.5,39.7L117,40.1L118.5,40.3L120,40.3L121.5,40L123,39.7L124.5,39.8L126,39L127.5,37.4L129,37.4L130.5,38.4L132,38.6L133.5,37.6L135,36.6L136.5,34.9L138,38.1L139.5,46L141,53.1L142.5,58.4L144,63.3L145.5,68.9L147,70.9L147,70.9Z" fill="#d54b23" stroke="#fff" stroke-opacity="0.85" stroke-width="1.90" stroke-linejoin="round"/><path d="M27,74.3L27,74.3L28.5,70.2L30,64.9L31.5,59.4L33,53.2L34.5,46.6L36,41.7L37.5,39.1L39,38.9L40.5,38.9L42,39.1L43.5,40.3L45,41.7L46.5,40.8L48,40.2L49.5,39.8L51,38.4L52.5,38.2L54,39.4L55.5,39.9L57,38L58.5,36.5L60,36.9L61.5,37.5L63,38.8L64.5,40L66,40.5L67.5,41.5L69,42.6L70.5,40.6L72,38.5L73.5,39.3L75,41.2L76.5,42.9L78,43.5L79.5,42.7L81,40.1L82.5,38.6L84,38.3L85.5,37.7L87,37.5L88.5,37.5L90,37.5L91.5,37.2L93,37.2L94.5,39.5L96,41.1L97.5,41.4L99,42.1L100.5,42.7L102,42.6L103.5,42.5L105,39.6L106.5,36.8L108,37.6L109.5,40.3L111,42L112.5,41.8L114,41.5L115.5,42.2L117,43.1L118.5,43.5L120,43.6L121.5,43.4L123,43.2L124.5,42.9L126,41.7L127.5,40.6L129,40.8L130.5,41.4L132,41.5L133.5,41.2L135,40.5L136.5,38.7L138,42.6L139.5,49.8L141,56.7L142.5,61.9L144,66.9L145.5,72.4L147,74.3L147,74.3Z" fill="#e1562c" stroke="#fff" stroke-opacity="0.85" stroke-width="1.90" stroke-linejoin="round"/><path d="M27,78L27,78L28.5,74.1L30,69.2L31.5,64.1L33,58.3L34.5,51.8L36,47.2L37.5,43.8L39,43.5L40.5,42.8L42,43.2L43.5,44.8L45,46.2L46.5,45.2L48,44.5L49.5,44.1L51,42.6L52.5,42.3L54,43.5L55.5,44L57,42.7L58.5,41.4L60,41.2L61.5,41.5L63,43L64.5,44.5L66,45.4L67.5,46.1L69,46.8L70.5,45.2L72,43.8L73.5,43.9L75,45.1L76.5,46.4L78,46.9L79.5,47.3L81,45.3L82.5,42.8L84,42.2L85.5,42.5L87,42.6L88.5,42.6L90,42L91.5,40.9L93,40.6L94.5,42.9L96,45.5L97.5,47.1L99,47.5L100.5,47.7L102,47.3L103.5,46.9L105,44.4L106.5,41.6L108,42.1L109.5,44.7L111,47L112.5,47L114,46.5L115.5,46.9L117,47.5L118.5,47.5L120,47.3L121.5,46.9L123,46.6L124.5,47.2L126,47L127.5,45.3L129,45.1L130.5,45.8L132,46L133.5,46L135,45.6L136.5,44.8L138,48.4L139.5,54.8L141,61.2L142.5,66.1L144,70.9L145.5,76.2L147,78L147,78Z" fill="#ec6035" stroke="#fff" stroke-opacity="0.85" stroke-width="1.90" stroke-linejoin="round"/><path d="M27,78.8L27,78.8L28.5,74.9L30,70.1L31.5,65L33,59.2L34.5,52.9L36,48.5L37.5,44.7L39,44.1L40.5,42.9L42,43.7L43.5,46.1L45,47.5L46.5,46.3L48,44.8L49.5,43.6L51,42.8L52.5,43.1L54,44L55.5,44.3L57,42.6L58.5,41.2L60,41.8L61.5,42.1L63,42.8L64.5,44.4L66,46.2L67.5,47.2L69,47.8L70.5,45.3L72,42.9L73.5,43.9L75,46L76.5,47.4L78,48L79.5,48.2L81,46.1L82.5,43.8L84,42.9L85.5,42.5L87,42.4L88.5,42.7L90,42.6L91.5,41.9L93,41.4L94.5,43.3L96,45.8L97.5,47.4L99,47.2L100.5,46.9L102,46.5L103.5,46.2L105,44L106.5,41.7L108,42.8L109.5,45.3L111,46.6L112.5,46.2L114,46L115.5,46.3L117,46.7L118.5,46.8L120,46.7L121.5,46.8L123,47L124.5,46.8L126,45.7L127.5,44.9L129,45.5L130.5,46.5L132,46.8L133.5,46.6L135,45.8L136.5,44.8L138,48.5L139.5,55.3L141,62L142.5,67.1L144,71.7L145.5,77L147,78.8L147,78.8Z" fill="#ef6236" stroke="#fff" stroke-opacity="0.85" stroke-width="1.90" stroke-linejoin="round"/><path d="M27,80.6L27,80.6L28.5,77L30,72.5L31.5,67.7L33,62L34.5,55.9L36,51.4L37.5,47.1L39,46.5L40.5,46.6L42,47.5L43.5,49.5L45,50.8L46.5,49.6L48,48.1L49.5,46.8L51,46.2L52.5,46.5L54,46.8L55.5,46.8L57,46.2L58.5,45.3L60,45.2L61.5,45.4L63,46.6L64.5,48L66,49.2L67.5,50.3L69,51.5L70.5,49.3L72,47L73.5,47.7L75,49.5L76.5,50.7L78,50.9L79.5,50.6L81,48.3L82.5,46.4L84,45.9L85.5,45.8L87,45.8L88.5,46L90,45.5L91.5,44.3L93,43.8L94.5,45.7L96,47.9L97.5,48.9L99,49.5L100.5,49.9L102,50.1L103.5,50.2L105,47.8L106.5,45.4L108,46.4L109.5,48.9L111,50.3L112.5,50L114,49.9L115.5,50.1L117,50L118.5,50.4L120,51L121.5,50.7L123,50.2L124.5,50.1L126,49.1L127.5,48.3L129,48.7L130.5,49.3L132,49.5L133.5,49.6L135,49.1L136.5,48.8L138,52.2L139.5,58.5L141,64.7L142.5,69.3L144,73.7L145.5,78.8L147,80.6L147,80.6Z" fill="#f4663a" stroke="#fff" stroke-opacity="0.85" stroke-width="1.90" stroke-linejoin="round"/><path d="M27,81.6L27,81.6L28.5,78L30,73.5L31.5,68.3L33,62.5L34.5,56.9L36,53L37.5,48.7L39,47.3L40.5,46.4L42,47.3L43.5,49.9L45,51.3L46.5,50.1L48,48.4L49.5,46.9L51,45.9L52.5,46L54,47.6L55.5,48.4L57,46.7L58.5,45.1L60,44.9L61.5,44.9L63,45.9L64.5,47.7L66,49.4L67.5,50.9L69,52.2L70.5,49.6L72,46.8L73.5,47.5L75,49.5L76.5,50.8L78,51.2L79.5,51.1L81,48.9L82.5,46.8L84,46.1L85.5,45.9L87,45.8L88.5,45.7L90,45.6L91.5,45.3L93,44.8L94.5,46.5L96,48.7L97.5,49.8L99,50.8L100.5,51.7L102,50.9L103.5,50.2L105,48.3L106.5,46.1L108,46.8L109.5,49.3L111,51.1L112.5,51L114,50.8L115.5,51.1L117,51.4L118.5,51.4L120,51.3L121.5,51.5L123,51.9L124.5,51.6L126,50.5L127.5,49.4L129,49.6L130.5,50.3L132,50.3L133.5,49.7L135,49.1L136.5,49.6L138,53.2L139.5,59.4L141,65.5L142.5,70.1L144,74.7L145.5,79.8L147,81.6L147,81.6Z" fill="#f7693d" stroke="#fff" stroke-opacity="0.85" stroke-width="1.90" stroke-linejoin="round"/><path d="M27,84.1L27,84.1L28.5,80.4L30,75.7L31.5,70.8L33,65.3L34.5,59.3L36,54.9L37.5,50.6L39,48.4L40.5,48L42,48.8L43.5,50.9L45,52.3L46.5,51L48,49.4L49.5,47.9L51,47L52.5,47.1L54,47.8L55.5,48.1L57,47L58.5,46L60,46.5L61.5,46.8L63,47.4L64.5,48.6L66,49.8L67.5,50.9L69,51.9L70.5,49.6L72,47.4L73.5,48.8L75,51.3L76.5,52.4L78,52.7L79.5,52.9L81,50.6L82.5,47.9L84,46.9L85.5,46.6L87,46.6L88.5,46.8L90,47L91.5,47L93,46.6L94.5,48.3L96,50.3L97.5,51.1L99,52.1L100.5,52.8L102,51.9L103.5,51.1L105,48.8L106.5,46.4L108,47.1L109.5,49.5L111,51L112.5,51.1L114,51.4L115.5,52.1L117,52.7L118.5,52.7L120,52.6L121.5,52.4L123,52.4L124.5,52.1L126,51.1L127.5,50.5L129,51.1L130.5,51.6L132,51.6L133.5,50.9L135,50L136.5,50.7L138,54.8L139.5,61.9L141,68L142.5,72.4L144,77.1L145.5,82.3L147,84.1L147,84.1Z" fill="#fd6f42" stroke="#fff" stroke-opacity="0.85" stroke-width="1.90" stroke-linejoin="round"/><path d="M27,85L27,85L28.5,81.4L30,77L31.5,72.3L33,66.8L34.5,60.9L36,56.8L37.5,53.3L39,50.9L40.5,50.1L42,50.3L43.5,51.8L45,53.2L46.5,52.3L48,50.6L49.5,49.1L51,48.5L52.5,48.9L54,49.5L55.5,49.8L57,49.2L58.5,48L60,47.4L61.5,47.3L63,48.4L64.5,49.9L66,51.3L67.5,52.4L69,53.5L70.5,51.5L72,49.6L73.5,50.6L75,52.8L76.5,53.4L78,53.1L79.5,53.1L81,51L82.5,49.4L84,48.9L85.5,48.2L87,48L88.5,48.2L90,48.1L91.5,47.6L93,47.1L94.5,48.9L96,51.3L97.5,52.7L99,53.5L100.5,54.2L102,53.8L103.5,53.4L105,50.9L106.5,48.3L108,49.5L109.5,52.1L111,53.2L112.5,53L114,53.3L115.5,53.9L117,54.6L118.5,54.5L120,54.1L121.5,53.8L123,53.4L124.5,53.4L126,52.6L127.5,52L129,52.5L130.5,53L132,52.9L133.5,52.2L135,51.2L136.5,52.2L138,56.2L139.5,63.3L141,69.5L142.5,74L144,78.3L145.5,83.3L147,85L147,85Z" fill="#ff7144" stroke="#fff" stroke-opacity="0.85" stroke-width="1.90" stroke-linejoin="round"/><path d="M27,91.2L27,91.2L28.5,88L30,84L31.5,79.6L33,74.5L34.5,69.1L36,65.4L37.5,61.8L39,57.1L40.5,56.2L42,56.6L43.5,58.4L45,60.1L46.5,59.3L48,58.3L49.5,57.5L51,56.2L52.5,56L54,57.1L55.5,57.6L57,56.2L58.5,54.7L60,54.5L61.5,54.6L63,55.8L64.5,57.3L66,58.4L67.5,59.6L69,60.7L70.5,58.6L72,56.4L73.5,56.9L75,58.6L76.5,60L78,60.6L79.5,60.6L81,58.5L82.5,56.5L84,55.7L85.5,55.1L87,55L88.5,55.5L90,55.7L91.5,55.4L93,55L94.5,56.7L96,59.2L97.5,60.8L99,60.6L100.5,60.3L102,60.4L103.5,60.6L105,58.3L106.5,55.7L108,56.3L109.5,58.7L111,60.2L112.5,60.1L114,60.1L115.5,60.7L117,61.4L118.5,61.4L120,61.1L121.5,61.4L123,62L124.5,61.5L126,60.3L127.5,59.7L129,60.2L130.5,60.2L132,60L133.5,60.1L135,59.6L136.5,61.9L138,64.9L139.5,70.7L141,76.4L142.5,80.8L144,85L145.5,89.6L147,91.2L147,91.2Z" fill="#ff7f50" stroke="#fff" stroke-opacity="0.85" stroke-width="1.90" stroke-linejoin="round"/><path d="M27,92.1L27,92.1L28.5,88.7L30,84.4L31.5,79.7L33,74.3L34.5,68.9L36,65.1L37.5,61.7L39,57L40.5,55.9L42,56.5L43.5,58.4L45,59.4L46.5,57.6L48,56.5L49.5,55.6L51,55.2L52.5,55.7L54,56.3L55.5,56.3L57,54.9L58.5,53.7L60,54.4L61.5,54.9L63,56L64.5,57.3L66,58.3L67.5,59.2L69,60.1L70.5,58.1L72,56L73.5,56.7L75,58.4L76.5,59.6L78,59.9L79.5,59.9L81,57.8L82.5,56.3L84,55.8L85.5,55.3L87,55.1L88.5,55.3L90,55.3L91.5,54.9L93,54L94.5,55.3L96,57.6L97.5,59L99,59.2L100.5,59.3L102,59.6L103.5,59.8L105,57.5L106.5,55.2L108,56.2L109.5,58.5L111,59.4L112.5,58.9L114,58.8L115.5,59.2L117,59.8L118.5,60.2L120,60.6L121.5,60.2L123,59.7L124.5,59.5L126,58.5L127.5,58.1L129,58.8L130.5,59.2L132,59L133.5,58.1L135,57.4L136.5,61.1L138,64.7L139.5,70.7L141,76.6L142.5,81.1L144,85.5L145.5,90.4L147,92.1L147,92.1Z" fill="#ff8152" stroke="#fff" stroke-opacity="0.85" stroke-width="1.90" stroke-linejoin="round"/><path d="M27,93L27,93L28.5,89.8L30,85.7L31.5,81.3L33,76.2L34.5,70.9L36,67.1L37.5,63.3L39,58.6L40.5,57.6L42,58.1L43.5,59.7L45,61.2L46.5,60.2L48,59.4L49.5,58.9L51,57.8L52.5,57.8L54,58.8L55.5,59.1L57,57.3L58.5,55.8L60,56.3L61.5,56.4L63,57L64.5,58.3L66,59.6L67.5,60.7L69,61.8L70.5,59.7L72,57.6L73.5,58.7L75,61L76.5,62.4L78,62.8L79.5,62.5L81,60L82.5,57.5L84,56.7L85.5,56.2L87,56.4L88.5,57.2L90,57.5L91.5,57.2L93,56.6L94.5,58.2L96,60.2L97.5,61.1L99,61.7L100.5,62.2L102,61.7L103.5,61.3L105,58.8L106.5,56.2L108,57L109.5,59.4L111,60.9L112.5,61.1L114,61.7L115.5,61.9L117,61.6L118.5,62.1L120,62.8L121.5,62.5L123,62L124.5,61.7L126,60.7L127.5,60.4L129,61.2L130.5,61.6L132,61.4L133.5,60.6L135,59.9L136.5,63L138,66.6L139.5,72.9L141,78.6L142.5,82.8L144,86.8L145.5,91.4L147,93L147,93Z" fill="#ff8354" stroke="#fff" stroke-opacity="0.85" stroke-width="1.90" stroke-linejoin="round"/><path d="M27,97.8L27,97.8L28.5,94.8L30,91.1L31.5,87.1L33,82.4L34.5,77.5L36,74.1L37.5,71L39,66.6L40.5,63.4L42,63.9L43.5,66L45,67.1L46.5,65.6L48,64.3L49.5,63.1L51,62.1L52.5,62.3L54,63.9L55.5,64.7L57,63L58.5,61.7L60,62.3L61.5,62.8L63,64L64.5,65.2L66,66L67.5,67L69,68.1L70.5,66.1L72,64.3L73.5,64.9L75,66.6L76.5,67.4L78,67.5L79.5,67.6L81,65.7L82.5,64.1L84,63.4L85.5,62.4L87,62.2L88.5,63.1L90,63.1L91.5,62.4L93,61.8L94.5,63.5L96,66L97.5,67.5L99,67.9L100.5,68.2L102,67.8L103.5,67.3L105,64.5L106.5,61.9L108,63.5L109.5,66.4L111,68.1L112.5,67.9L114,67.6L115.5,67.5L117,67.3L118.5,67.8L120,68.6L121.5,68.3L123,67.8L124.5,67.6L126,66.6L127.5,65.4L129,65.6L130.5,67L132,67.3L133.5,66.3L135,66.7L136.5,69.7L138,72.8L139.5,78.3L141,83.7L142.5,87.8L144,91.8L145.5,96.3L147,97.8L147,97.8Z" fill="#ff8d5d" stroke="#fff" stroke-opacity="0.85" stroke-width="1.90" stroke-linejoin="round"/><path d="M27,98.7L27,98.7L28.5,95.7L30,91.9L31.5,88L33,83.5L34.5,78.7L36,75.2L37.5,71.6L39,67.2L40.5,64.1L42,64.8L43.5,66.7L45,67.9L46.5,66.6L48,65.9L49.5,65.4L51,64.2L52.5,64L54,64.6L55.5,64.7L57,63.6L58.5,62.6L60,63L61.5,63.4L63,64.4L64.5,65.6L66,66.5L67.5,67.6L69,68.8L70.5,67L72,65.2L73.5,65.8L75,67.6L76.5,68.9L78,69.3L79.5,69.3L81,67L82.5,64.8L84,64.2L85.5,64.3L87,64.4L88.5,64.4L90,63.9L91.5,62.9L93,62.6L94.5,64.8L96,67.4L97.5,68.9L99,68.9L100.5,68.7L102,68.4L103.5,68.2L105,66L106.5,63.7L108,64.7L109.5,67.1L111,68L112.5,67.6L114,67.6L115.5,68.2L117,68.9L118.5,68.9L120,68.6L121.5,68.6L123,68.6L124.5,68.6L126,67.8L127.5,67.1L129,67.6L130.5,68.1L132,68.1L133.5,67.8L135,68.6L136.5,71.1L138,74.3L139.5,80.1L141,85.2L142.5,88.9L144,92.8L145.5,97.2L147,98.7L147,98.7Z" fill="#ff8f5f" stroke="#fff" stroke-opacity="0.85" stroke-width="1.90" stroke-linejoin="round"/><path d="M27,101.8L27,101.8L28.5,98.9L30,95.4L31.5,91.6L33,87.1L34.5,82.2L36,78.8L37.5,75.6L39,71.5L40.5,67.5L42,68.3L43.5,70.5L45,71.5L46.5,69.7L48,68.3L49.5,67.3L51,66.6L52.5,66.8L54,67.4L55.5,67.6L57,67.1L58.5,66.3L60,66.4L61.5,66.6L63,67.7L64.5,68.8L66,69.5L67.5,70.4L69,71.5L70.5,69.7L72,68.1L73.5,68.4L75,69.8L76.5,71.4L78,72L79.5,71.6L81,69.3L82.5,67.7L84,67.2L85.5,66.5L87,66.2L88.5,66.3L90,66.2L91.5,65.9L93,65.4L94.5,67.1L96,69.4L97.5,70.8L99,71.5L100.5,72.1L102,71.8L103.5,71.6L105,69.2L106.5,66.7L108,67.3L109.5,69.8L111,71.5L112.5,71.3L114,71.1L115.5,71.6L117,72.2L118.5,71.9L120,71.4L121.5,71.6L123,72L124.5,71.9L126,70.9L127.5,70L129,70.3L130.5,70.8L132,70.9L133.5,70.6L135,72L136.5,74.5L138,77.7L139.5,83.5L141,88.6L142.5,92.4L144,96.1L145.5,100.3L147,101.8L147,101.8Z" fill="#ff9564" stroke="#fff" stroke-opacity="0.85" stroke-width="1.90" stroke-linejoin="round"/><path d="M27,102.7L27,102.7L28.5,99.9L30,96.2L31.5,92.6L33,88.2L34.5,83.1L36,79.7L37.5,77.2L39,73.4L40.5,69.1L42,69.7L43.5,71.5L45,72.4L46.5,70.5L48,69.3L49.5,68.4L51,67.3L52.5,67.3L54,68.5L55.5,69L57,67.7L58.5,66.7L60,67.5L61.5,67.9L63,68.8L64.5,69.8L66,70.6L67.5,71.8L69,73.3L70.5,71.4L72,69.4L73.5,69.9L75,71.6L76.5,72.7L78,73L79.5,72.9L81,70.6L82.5,68.4L84,67.8L85.5,67.7L87,67.7L88.5,68L90,67.8L91.5,67.2L93,66.7L94.5,68.5L96,71L97.5,72.4L99,72.2L100.5,71.9L102,72.3L103.5,72.6L105,70.5L106.5,68.2L108,68.8L109.5,71.1L111,72.5L112.5,72.4L114,72.5L115.5,72.7L117,72.7L118.5,72.7L120,72.6L121.5,72.8L123,73.1L124.5,72.8L126,71.6L127.5,70.6L129,71L130.5,72.1L132,72.2L133.5,71.1L135,72.7L136.5,76.1L138,79L139.5,84L141,89.2L142.5,93.2L144,97L145.5,101.2L147,102.7L147,102.7Z" fill="#ff9766" stroke="#fff" stroke-opacity="0.85" stroke-width="1.90" stroke-linejoin="round"/><path d="M27,103.6L27,103.6L28.5,100.6L30,96.7L31.5,92.8L33,88.2L34.5,83L36,79.4L37.5,76.4L39,72.2L40.5,67.3L42,67.9L43.5,70L45,71.1L46.5,69.6L48,68.6L49.5,67.9L51,67.2L52.5,67.5L54,68.5L55.5,68.9L57,67.4L58.5,66.2L60,66.6L61.5,66.5L63,66.9L64.5,68.1L66,69.5L67.5,70.7L69,71.7L70.5,69.6L72,67.5L73.5,68.1L75,69.9L76.5,71.4L78,71.8L79.5,71.6L81,69.4L82.5,68.1L84,67.9L85.5,67.5L87,67.2L88.5,66.9L90,67L91.5,67L93,66.8L94.5,68.8L96,70.5L97.5,71.1L99,71.3L100.5,71.4L102,71.1L103.5,70.9L105,68.7L106.5,66.2L108,66.9L109.5,69.6L111,71.8L112.5,71.9L114,71.9L115.5,72.2L117,72.4L118.5,72.7L120,73L121.5,73L123,73L124.5,72.6L126,71.5L127.5,70.3L129,70.3L130.5,70.6L132,70.6L133.5,70.6L135,72.7L136.5,75.3L138,78.7L139.5,84.6L141,89.8L142.5,93.6L144,97.6L145.5,102.1L147,103.6L147,103.6Z" fill="#ff9968" stroke="#fff" stroke-opacity="0.85" stroke-width="1.90" stroke-linejoin="round"/><path d="M27,104.5L27,104.5L28.5,101.7L30,98.1L31.5,94.5L33,90.2L34.5,85.3L36,82L37.5,79.2L39,75.4L40.5,71.1L42,71.4L43.5,73.3L45,74.8L46.5,73.7L48,72.4L49.5,71.4L51,70.4L52.5,70.5L54,71.2L55.5,71.5L57,70.7L58.5,69.8L60,69.8L61.5,69.7L63,70.1L64.5,71.7L66,73.7L67.5,75.1L69,76.2L70.5,73.3L72,70.2L73.5,71.4L75,73.9L76.5,74.6L78,74.6L79.5,75.1L81,73.1L82.5,70.4L84,69.6L85.5,70.1L87,70.3L88.5,70.2L90,69.8L91.5,69.1L93,69L94.5,71.4L96,73.5L97.5,74.5L99,74.8L100.5,74.9L102,74.4L103.5,74L105,71.7L106.5,69.4L108,70.4L109.5,73.1L111,74.9L112.5,75L114,75L115.5,75L117,74.5L118.5,74.8L120,75.3L121.5,75.5L123,75.8L124.5,75.4L126,74.2L127.5,73.6L129,74.1L130.5,74.4L132,74.3L133.5,74L135,75.9L136.5,78.1L138,80.9L139.5,86.4L141,91.4L142.5,95.2L144,98.8L145.5,103L147,104.5L147,104.5Z" fill="#ff9b69" stroke="#fff" stroke-opacity="0.85" stroke-width="1.90" stroke-linejoin="round"/><path d="M27,105.3L27,105.3L28.5,102.4L30,98.7L31.5,94.9L33,90.4L34.5,85.6L36,82.3L37.5,79.6L39,75.9L40.5,71.6L42,71.7L43.5,73.5L45,74.6L46.5,73.1L48,71.7L49.5,70.5L51,69.8L52.5,70.1L54,71L55.5,71.3L57,69.6L58.5,68.3L60,68.8L61.5,69.2L63,70.2L64.5,71.6L66,73L67.5,74.3L69,75.6L70.5,72.7L72,69.6L73.5,70.5L75,72.6L76.5,74.4L78,75.3L79.5,75.3L81,73.2L82.5,70.9L84,70.1L85.5,69.9L87,69.7L88.5,69.6L90,69.2L91.5,68.4L93,67.9L94.5,69.7L96,72L97.5,73.2L99,74.2L100.5,75.1L102,74.3L103.5,73.6L105,71.2L106.5,68.7L108,69.7L109.5,72.4L111,74.4L112.5,74.2L114,73.7L115.5,74.3L117,75.1L118.5,75L120,74.6L121.5,74.2L123,74L124.5,73.9L126,73.1L127.5,72L129,72.3L130.5,72.7L132,72.9L133.5,73.1L135,75.7L136.5,78.3L138,81.4L139.5,86.8L141,91.9L142.5,95.7L144,99.6L145.5,103.8L147,105.3L147,105.3Z" fill="#ff9c6b" stroke="#fff" stroke-opacity="0.85" stroke-width="1.90" stroke-linejoin="round"/><path d="M27,107.6L27,107.6L28.5,104.8L30,101.2L31.5,97.4L33,93.1L34.5,88.5L36,85.2L37.5,82L39,77.9L40.5,73.3L42,72.8L43.5,75.1L45,76.6L46.5,75.6L48,74.3L49.5,73.3L51,71.6L52.5,71.2L54,72.9L55.5,73.7L57,72.1L58.5,70.7L60,71L61.5,71.1L63,71.7L64.5,73.3L66,75L67.5,76L69,76.6L70.5,74.1L72,71.7L73.5,73.2L75,75.8L76.5,76.6L78,76.5L79.5,76.3L81,74L82.5,71.9L84,71.3L85.5,70.9L87,70.8L88.5,71L90,71.1L91.5,70.9L93,70.8L94.5,72.9L96,75L97.5,75.9L99,76.6L100.5,77.2L102,76.6L103.5,76.2L105,73.8L106.5,71.2L108,71.7L109.5,73.9L111,75.5L112.5,75.6L114,76L115.5,76.6L117,77.1L118.5,76.8L120,76.2L121.5,76.5L123,76.9L124.5,76.7L126,75.7L127.5,75.1L129,75.6L130.5,75.5L132,75.2L133.5,75L135,77.9L136.5,80.7L138,84L139.5,89.6L141,94.6L142.5,98.3L144,101.9L145.5,106.1L147,107.6L147,107.6Z" fill="#ffa16f" stroke="#fff" stroke-opacity="0.85" stroke-width="1.90" stroke-linejoin="round"/><path d="M23.5,109.4H148.5" stroke="#d8d8d8" stroke-width="0.7"/><path d="M23.50,109.4V111.6" stroke="#cfcfcf" stroke-width="0.7"/><path d="M36.00,109.4V111.6" stroke="#cfcfcf" stroke-width="0.7"/><path d="M48.50,109.4V111.6" stroke="#cfcfcf" stroke-width="0.7"/><path d="M61.00,109.4V111.6" stroke="#cfcfcf" stroke-width="0.7"/><path d="M73.50,109.4V111.6" stroke="#cfcfcf" stroke-width="0.7"/><path d="M86.00,109.4V111.6" stroke="#cfcfcf" stroke-width="0.7"/><path d="M98.50,109.4V111.6" stroke="#cfcfcf" stroke-width="0.7"/><path d="M111.00,109.4V111.6" stroke="#cfcfcf" stroke-width="0.7"/><path d="M123.50,109.4V111.6" stroke="#cfcfcf" stroke-width="0.7"/><path d="M136.00,109.4V111.6" stroke="#cfcfcf" stroke-width="0.7"/><path d="M148.50,109.4V111.6" stroke="#cfcfcf" stroke-width="0.7"/><text transform="translate(23.50,118.8) scale(0.87,1)" class="xl">-0.25</text><text transform="translate(48.50,118.8) scale(0.87,1)" class="xl">-0.15</text><text transform="translate(73.50,118.8) scale(0.87,1)" class="xl">-0.05</text><text transform="translate(98.50,118.8) scale(0.87,1)" class="xl">0.05</text><text transform="translate(123.50,118.8) scale(0.87,1)" class="xl">0.15</text><text transform="translate(148.50,118.8) scale(0.87,1)" class="xl">0.25</text><path d="M148.5,74.32H151.3" stroke="#cfcfcf" stroke-width="0.7"/><path d="M148.5,80.94H151.3" stroke="#cfcfcf" stroke-width="0.7"/><path d="M148.5,87.57H151.3" stroke="#cfcfcf" stroke-width="0.7"/><path d="M148.5,94.19H151.3" stroke="#cfcfcf" stroke-width="0.7"/><path d="M148.5,100.81H151.3" stroke="#cfcfcf" stroke-width="0.7"/><path d="M148.5,107.43H151.3" stroke="#cfcfcf" stroke-width="0.7"/><text transform="translate(153.5,76.72) scale(0.87,1)" class="yl">20</text><text transform="translate(153.5,89.97) scale(0.87,1)" class="yl">60</text><text transform="translate(153.5,103.21) scale(0.87,1)" class="yl">100</text></svg><svg class="ic" viewBox="5 5 14 14" width="9" height="9"><path d="M7 14H5v5h5v-2H7v-3zm-2-4h2V7h3V5H5v5zm12 7h-3v2h5v-5h-2v3zM14 5v2h3v3h2V5h-5z" fill="#5f7b8b"/></svg></div><div class="cell" style="left:0.00px;top:282.67px"><div class="bar"></div><div class="ttl">layer3/activations</div><div class="dot">.</div><svg class="ch" width="196" height="141" viewBox="0 0 196 141"><rect x="23.5" y="68.60" width="125.0" height="2.70" fill="#000" fill-opacity="0.13"/><rect x="23.5" y="77.50" width="125.0" height="1.70" fill="#000" fill-opacity="0.13"/><rect x="23.5" y="80.10" width="125.0" height="2.20" fill="#000" fill-opacity="0.13"/><rect x="23.5" y="83.60" width="125.0" height="1.80" fill="#000" fill-opacity="0.13"/><rect x="23.5" y="90.70" width="125.0" height="3.10" fill="#000" fill-opacity="0.13"/><rect x="23.5" y="97.30" width="125.0" height="1.80" fill="#000" fill-opacity="0.13"/><rect x="23.5" y="101.30" width="125.0" height="4.40" fill="#000" fill-opacity="0.13"/><rect x="23.5" y="107.00" width="125.0" height="1.10" fill="#000" fill-opacity="0.13"/><path d="M31.4,69.1L31.4,69.1L48.2,69.1L49.4,68.9L50.6,68.6L51.8,68.3L53,68L54.2,67.7L55.4,67.3L56.6,66.9L57.8,66.6L59,66.2L60.2,65.8L61.4,65.3L62.6,64.7L63.8,64.1L65,63.5L66.2,62.9L67.4,62.3L68.6,61.7L69.8,61.1L71,60.5L72.2,59.9L73.4,59.4L74.6,58.8L75.8,58.2L77,57.6L78.2,57.4L79.4,57.1L80.6,56.8L81.8,56.5L83,56.3L84.2,56L85.4,55.6L86.7,54.8L87.9,54.1L89.1,53.5L90.3,54.2L91.5,54.8L92.7,55.5L93.9,56.2L95.1,56.9L96.3,57.6L97.5,58.5L98.7,59.4L99.9,60.3L101.1,61.2L102.3,61.9L103.5,62.6L104.7,63.3L105.9,63.9L107.1,64.6L108.3,65.3L109.5,66L110.7,66.6L111.9,67L113.1,67.3L114.3,67.7L115.5,68.1L116.7,68.3L117.9,68.5L119.1,68.8L120.3,69L121.5,69.1L141.9,69.1L141.9,69.1Z" fill="#ce451d" stroke="#fff" stroke-opacity="0.55" stroke-width="0.80" stroke-linejoin="round"/><path d="M31.4,70L31.4,70L48.2,70L49.4,69.7L50.6,69.4L51.8,69.1L53,68.8L54.2,68.5L55.4,68L56.6,67.6L57.8,67.2L59,66.8L60.2,66.4L61.4,65.8L62.6,65.2L63.8,64.5L65,63.9L66.2,63.2L67.4,62.6L68.6,61.9L69.8,61.3L71,60.6L72.2,60L73.4,59.4L74.6,58.7L75.8,58.1L77,57.5L78.2,57.2L79.4,56.9L80.6,56.6L81.8,56.3L83,56L84.2,55.7L85.4,55.2L86.7,54.5L87.9,53.7L89.1,53L90.3,53.7L91.5,54.5L92.7,55.2L93.9,55.9L95.1,56.7L96.3,57.4L97.5,58.4L98.7,59.4L99.9,60.4L101.1,61.4L102.3,62.1L103.5,62.9L104.7,63.6L105.9,64.4L107.1,65.1L108.3,65.9L109.5,66.6L110.7,67.2L111.9,67.7L113.1,68.1L114.3,68.5L115.5,68.9L116.7,69.1L117.9,69.4L119.1,69.7L120.3,69.9L121.5,70L141.9,70L141.9,70Z" fill="#d24820" stroke="#fff" stroke-opacity="0.55" stroke-width="0.80" stroke-linejoin="round"/><path d="M31.4,70.9L31.4,70.9L48.2,70.9L49.4,70.6L50.6,70.3L51.8,69.9L53,69.6L54.2,69.2L55.4,68.8L56.6,68.3L57.8,67.9L59,67.5L60.2,67L61.4,66.4L62.6,65.7L63.8,65L65,64.3L66.2,63.6L67.4,62.8L68.6,62.1L69.8,61.4L71,60.8L72.2,60.1L73.4,59.4L74.6,58.7L75.8,58L77,57.3L78.2,57L79.4,56.7L80.6,56.4L81.8,56.1L83,55.7L84.2,55.4L85.4,54.9L86.7,54.1L87.9,53.2L89.1,52.4L90.3,53.2L91.5,54.1L92.7,54.9L93.9,55.7L95.1,56.5L96.3,57.3L97.5,58.3L98.7,59.4L99.9,60.5L101.1,61.6L102.3,62.4L103.5,63.2L104.7,64L105.9,64.8L107.1,65.6L108.3,66.4L109.5,67.2L110.7,67.9L111.9,68.4L113.1,68.8L114.3,69.3L115.5,69.7L116.7,70L117.9,70.2L119.1,70.5L120.3,70.8L121.5,70.9L141.9,70.9L141.9,70.9Z" fill="#d54b23" stroke="#fff" stroke-opacity="0.55" stroke-width="0.80" stroke-linejoin="round"/><path d="M31.4,74.3L31.4,74.3L48.2,74.3L49.4,73.8L50.6,73.1L51.8,72.5L53,71.8L54.2,71.1L55.4,70.3L56.6,69.5L57.8,68.6L59,67.8L60.2,67L61.4,65.8L62.6,64.4L63.8,63.1L65,61.8L66.2,60.4L67.4,59.1L68.6,57.8L69.8,56.5L71,55.2L72.2,53.9L73.4,52.6L74.6,51.3L75.8,50L77,48.7L78.2,48.1L79.4,47.5L80.6,46.9L81.8,46.3L83,45.7L84.2,45.1L85.4,44.1L86.7,42.5L87.9,40.9L89.1,39.5L90.3,41L91.5,42.5L92.7,44L93.9,45.6L95.1,47.1L96.3,48.6L97.5,50.6L98.7,52.6L99.9,54.6L101.1,56.7L102.3,58.2L103.5,59.8L104.7,61.3L105.9,62.8L107.1,64.3L108.3,65.9L109.5,67.4L110.7,68.6L111.9,69.5L113.1,70.4L114.3,71.3L115.5,72L116.7,72.5L117.9,73.1L119.1,73.6L120.3,74.1L121.5,74.3L141.9,74.3L141.9,74.3Z" fill="#e1562c" stroke="#fff" stroke-opacity="0.55" stroke-width="0.80" stroke-linejoin="round"/><path d="M31.4,78L31.4,78L36.2,78L37.4,77.9L38.6,77.9L39.8,77.9L41,77.6L42.2,77.3L43.4,77L44.6,76.7L45.8,76.4L47,76.1L48.2,75.8L49.4,75.5L50.6,75.2L51.8,74.9L53,74.6L54.2,74.3L55.4,73.9L56.6,73.6L57.8,73.3L59,73L60.2,72.7L61.4,72.5L62.6,72.2L63.8,71.9L65,71.6L66.2,71.3L67.4,71L68.6,70.8L69.8,70.5L71,70.2L72.2,70L73.4,69.7L74.6,69.5L75.8,69.3L77,69L78.2,68.8L79.4,68.6L80.6,68.4L81.8,68.3L83,68.2L84.2,68.1L85.4,68.2L86.7,68.4L87.9,68.6L89.1,68.8L90.3,68.9L91.5,69L92.7,69.1L93.9,69.3L95.1,69.5L96.3,69.7L97.5,70L98.7,70.3L99.9,70.6L101.1,70.9L102.3,71.2L103.5,71.4L104.7,71.7L105.9,72L107.1,72.3L108.3,72.6L109.5,72.9L110.7,73.2L111.9,73.5L113.1,73.8L114.3,74.1L115.5,74.4L116.7,74.7L117.9,75L119.1,75.3L120.3,75.6L121.5,75.9L122.7,76.3L123.9,76.6L125.1,76.9L126.3,77.2L127.5,77.4L128.7,77.7L129.9,77.9L131.1,77.9L132.3,77.9L133.5,78L141.9,78L141.9,78Z" fill="#ec6035" stroke="#fff" stroke-opacity="0.55" stroke-width="0.80" stroke-linejoin="round"/><path d="M31.4,78.8L31.4,78.8L38.6,78.8L39.8,78.7L41,78.7L42.2,78.5L43.4,78.2L44.6,77.9L45.8,77.6L47,77.3L48.2,77L49.4,76.7L50.6,76.4L51.8,76L53,75.7L54.2,75.4L55.4,75.1L56.6,74.8L57.8,74.4L59,74.1L60.2,73.8L61.4,73.5L62.6,73.2L63.8,72.9L65,72.6L66.2,72.3L67.4,72L68.6,71.7L69.8,71.4L71,71.2L72.2,71L73.4,70.9L74.6,70.9L75.8,70.9L77,70.7L78.2,70.5L79.4,70L80.6,69.5L81.8,69.1L83,68.7L84.2,68.4L85.4,68.2L86.7,68L87.9,68L89.1,68.1L90.3,68.2L91.5,68.3L92.7,68.4L93.9,68.5L95.1,68.8L96.3,69.1L97.5,69.5L98.7,69.9L99.9,70.3L101.1,70.6L102.3,71L103.5,71.3L104.7,71.6L105.9,71.9L107.1,72.1L108.3,72.4L109.5,72.7L110.7,73.1L111.9,73.4L113.1,73.7L114.3,74L115.5,74.3L116.7,74.6L117.9,74.9L119.1,75.3L120.3,75.6L121.5,75.9L122.7,76.2L123.9,76.5L125.1,76.9L126.3,77.2L127.5,77.5L128.7,77.8L129.9,78.1L131.1,78.4L132.3,78.7L133.5,78.7L134.7,78.7L135.9,78.8L141.9,78.8L141.9,78.8Z" fill="#ef6236" stroke="#fff" stroke-opacity="0.55" stroke-width="0.80" stroke-linejoin="round"/><path d="M31.4,80.6L31.4,80.6L38.6,80.6L39.8,80.5L41,80.5L42.2,80.4L43.4,80.1L44.6,79.9L45.8,79.6L47,79.3L48.2,79L49.4,78.7L50.6,78.4L51.8,78.1L53,77.7L54.2,77.4L55.4,77.1L56.6,76.8L57.8,76.5L59,76.2L60.2,75.9L61.4,75.6L62.6,75.3L63.8,75.1L65,74.8L66.2,74.5L67.4,74.2L68.6,73.9L69.8,73.7L71,73.4L72.2,73.1L73.4,72.9L74.6,72.7L75.8,72.5L77,72.4L78.2,72.3L79.4,72.2L80.6,72L81.8,71.7L83,71.4L84.2,71.2L85.4,71L86.7,70.9L87.9,71.1L89.1,71.4L90.3,71.6L91.5,71.8L92.7,71.8L93.9,71.8L95.1,71.8L96.3,71.9L97.5,72.1L98.7,72.4L99.9,72.8L101.1,73.1L102.3,73.4L103.5,73.6L104.7,73.9L105.9,74.2L107.1,74.5L108.3,74.7L109.5,75L110.7,75.3L111.9,75.6L113.1,75.9L114.3,76.2L115.5,76.5L116.7,76.8L117.9,77.1L119.1,77.4L120.3,77.7L121.5,78L122.7,78.3L123.9,78.6L125.1,78.9L126.3,79.2L127.5,79.5L128.7,79.8L129.9,80.1L131.1,80.4L132.3,80.5L133.5,80.5L134.7,80.6L141.9,80.6L141.9,80.6Z" fill="#f4663a" stroke="#fff" stroke-opacity="0.55" stroke-width="0.80" stroke-linejoin="round"/><path d="M31.4,81.6L31.4,81.6L37.4,81.6L38.6,81.5L39.8,81.5L41,81.5L42.2,81.3L43.4,81L44.6,80.7L45.8,80.3L47,80L48.2,79.6L49.4,79.3L50.6,78.9L51.8,78.5L53,78.2L54.2,77.8L55.4,77.5L56.6,77.1L57.8,76.7L59,76.4L60.2,76L61.4,75.7L62.6,75.3L63.8,75L65,74.6L66.2,74.3L67.4,73.9L68.6,73.5L69.8,73L71,72.5L72.2,72L73.4,71.5L74.6,71.1L75.8,70.8L77,70.6L78.2,70.5L79.4,70.5L80.6,70.5L81.8,70.5L83,70.4L84.2,70.4L85.4,70.3L86.7,70.4L87.9,70.5L89.1,70.7L90.3,70.9L91.5,71L92.7,71.2L93.9,71.4L95.1,71.6L96.3,71.9L97.5,72.2L98.7,72.5L99.9,72.9L101.1,73.3L102.3,73.6L103.5,74L104.7,74.3L105.9,74.6L107.1,75L108.3,75.3L109.5,75.6L110.7,76L111.9,76.3L113.1,76.7L114.3,77.1L115.5,77.4L116.7,77.8L117.9,78.1L119.1,78.5L120.3,78.9L121.5,79.2L122.7,79.6L123.9,79.9L125.1,80.3L126.3,80.6L127.5,81L128.7,81.3L129.9,81.5L131.1,81.5L132.3,81.5L133.5,81.6L141.9,81.6L141.9,81.6Z" fill="#f7693d" stroke="#fff" stroke-opacity="0.55" stroke-width="0.80" stroke-linejoin="round"/><path d="M31.4,84.1L31.4,84.1L36.2,84.1L37.4,84L38.6,84L39.8,84L41,83.8L42.2,83.5L43.4,83.2L44.6,82.9L45.8,82.5L47,82.2L48.2,81.9L49.4,81.5L50.6,81.2L51.8,80.9L53,80.5L54.2,80.2L55.4,79.9L56.6,79.5L57.8,79.2L59,78.9L60.2,78.5L61.4,78.2L62.6,77.9L63.8,77.6L65,77.3L66.2,77L67.4,76.7L68.6,76.4L69.8,76.1L71,75.8L72.2,75.6L73.4,75.4L74.6,75.2L75.8,75.1L77,75.1L78.2,75.1L79.4,75.1L80.6,75.1L81.8,75.1L83,75.3L84.2,75.3L85.4,75.4L86.7,75.2L87.9,74.8L89.1,74.6L90.3,74.5L91.5,74.6L92.7,74.8L93.9,75L95.1,75.2L96.3,75.5L97.5,75.8L98.7,76L99.9,76.3L101.1,76.6L102.3,76.9L103.5,77.2L104.7,77.5L105.9,77.9L107.1,78.2L108.3,78.5L109.5,78.8L110.7,79.1L111.9,79.5L113.1,79.8L114.3,80.1L115.5,80.5L116.7,80.8L117.9,81.2L119.1,81.5L120.3,81.8L121.5,82.2L122.7,82.5L123.9,82.8L125.1,83.2L126.3,83.5L127.5,83.8L128.7,84L129.9,84L131.1,84L132.3,84.1L141.9,84.1L141.9,84.1Z" fill="#fd6f42" stroke="#fff" stroke-opacity="0.55" stroke-width="0.80" stroke-linejoin="round"/><path d="M31.4,85L31.4,85L37.4,85L38.6,84.9L39.8,84.9L41,84.9L42.2,84.7L43.4,84.4L44.6,84.1L45.8,83.7L47,83.4L48.2,83L49.4,82.7L50.6,82.3L51.8,81.9L53,81.6L54.2,81.2L55.4,80.9L56.6,80.5L57.8,80.2L59,79.8L60.2,79.5L61.4,79.1L62.6,78.8L63.8,78.4L65,78.1L66.2,77.8L67.4,77.4L68.6,77.1L69.8,76.8L71,76.5L72.2,76.2L73.4,75.9L74.6,75.6L75.8,75.3L77,75L78.2,74.8L79.4,74.5L80.6,74.3L81.8,74.1L83,73.9L84.2,73.7L85.4,73.7L86.7,73.8L87.9,74.1L89.1,74.4L90.3,74.7L91.5,74.8L92.7,75L93.9,75.2L95.1,75.5L96.3,75.9L97.5,76.2L98.7,76.6L99.9,76.9L101.1,77.2L102.3,77.5L103.5,77.7L104.7,77.9L105.9,78.1L107.1,78.3L108.3,78.5L109.5,78.7L110.7,79L111.9,79.3L113.1,79.6L114.3,80L115.5,80.3L116.7,80.6L117.9,81L119.1,81.4L120.3,81.7L121.5,82.1L122.7,82.4L123.9,82.8L125.1,83.1L126.3,83.5L127.5,83.8L128.7,84.2L129.9,84.5L131.1,84.8L132.3,84.9L133.5,84.9L134.7,85L141.9,85L141.9,85Z" fill="#ff7144" stroke="#fff" stroke-opacity="0.55" stroke-width="0.80" stroke-linejoin="round"/><path d="M31.4,91.2L31.4,91.2L32.6,91.2L33.8,91.1L35,91.1L36.2,90.9L37.4,90.6L38.6,90.2L39.8,89.9L41,89.5L42.2,89.2L43.4,88.8L44.6,88.4L45.8,88.1L47,87.7L48.2,87.3L49.4,87L50.6,86.6L51.8,86.2L53,85.9L54.2,85.5L55.4,85.2L56.6,84.8L57.8,84.4L59,84.1L60.2,83.7L61.4,83.4L62.6,83.1L63.8,82.7L65,82.3L66.2,81.9L67.4,81.5L68.6,80.9L69.8,80.3L71,79.8L72.2,79.4L73.4,79.1L74.6,79L75.8,79L77,79L78.2,78.9L79.4,78.8L80.6,78.6L81.8,78.4L83,78.2L84.2,78L85.4,77.9L86.7,78.1L87.9,78.2L89.1,78.2L90.3,78.3L91.5,78.5L92.7,78.7L93.9,79.1L95.1,79.5L96.3,79.9L97.5,80.3L98.7,80.7L99.9,81L101.1,81.4L102.3,81.7L103.5,82L104.7,82.3L105.9,82.7L107.1,83L108.3,83.3L109.5,83.7L110.7,84L111.9,84.4L113.1,84.7L114.3,85.1L115.5,85.5L116.7,85.8L117.9,86.2L119.1,86.6L120.3,86.9L121.5,87.3L122.7,87.7L123.9,88L125.1,88.4L126.3,88.8L127.5,89.1L128.7,89.5L129.9,89.8L131.1,90.2L132.3,90.5L133.5,90.9L134.7,91.1L135.9,91.1L137.1,91.2L141.9,91.2L141.9,91.2Z" fill="#ff7f50" stroke="#fff" stroke-opacity="0.55" stroke-width="0.80" stroke-linejoin="round"/><path d="M31.4,92.1L31.4,92.1L35,92.1L36.2,92L37.4,92L38.6,91.9L39.8,91.6L41,91.3L42.2,90.9L43.4,90.5L44.6,90.2L45.8,89.8L47,89.4L48.2,89L49.4,88.6L50.6,88.2L51.8,87.9L53,87.5L54.2,87.1L55.4,86.7L56.6,86.3L57.8,86L59,85.6L60.2,85.2L61.4,84.9L62.6,84.5L63.8,84.1L65,83.8L66.2,83.4L67.4,83.1L68.6,82.8L69.8,82.5L71,82.2L72.2,82L73.4,81.8L74.6,81.6L75.8,81.4L77,81.2L78.2,80.9L79.4,80.5L80.6,80.2L81.8,79.8L83,79.5L84.2,79.3L85.4,79.1L86.7,79.2L87.9,79.4L89.1,79.6L90.3,79.9L91.5,80.3L92.7,80.7L93.9,81.2L95.1,81.8L96.3,82.3L97.5,82.8L98.7,83.2L99.9,83.6L101.1,83.7L102.3,83.8L103.5,83.9L104.7,83.9L105.9,84.1L107.1,84.2L108.3,84.5L109.5,84.8L110.7,85.1L111.9,85.5L113.1,85.9L114.3,86.2L115.5,86.6L116.7,87L117.9,87.4L119.1,87.8L120.3,88.1L121.5,88.5L122.7,88.9L123.9,89.3L125.1,89.7L126.3,90L127.5,90.4L128.7,90.8L129.9,91.2L131.1,91.5L132.3,91.9L133.5,92L134.7,92L135.9,92.1L141.9,92.1L141.9,92.1Z" fill="#ff8152" stroke="#fff" stroke-opacity="0.55" stroke-width="0.80" stroke-linejoin="round"/><path d="M31.4,93L31.4,93L33.8,93L35,92.9L36.2,92.9L37.4,92.6L38.6,92.3L39.8,92L41,91.6L42.2,91.3L43.4,90.9L44.6,90.6L45.8,90.2L47,89.9L48.2,89.5L49.4,89.2L50.6,88.8L51.8,88.5L53,88.1L54.2,87.8L55.4,87.5L56.6,87.1L57.8,86.8L59,86.4L60.2,86.1L61.4,85.8L62.6,85.4L63.8,85.1L65,84.8L66.2,84.5L67.4,84.2L68.6,83.9L69.8,83.6L71,83.4L72.2,83.1L73.4,82.9L74.6,82.7L75.8,82.4L77,82.2L78.2,82L79.4,81.7L80.6,81.5L81.8,81.2L83,81L84.2,80.9L85.4,80.9L86.7,81L87.9,81L89.1,81L90.3,80.8L91.5,80.7L92.7,80.7L93.9,81.1L95.1,81.7L96.3,82.3L97.5,82.8L98.7,83.3L99.9,83.7L101.1,84L102.3,84.4L103.5,84.7L104.7,85L105.9,85.4L107.1,85.7L108.3,86L109.5,86.3L110.7,86.7L111.9,87L113.1,87.4L114.3,87.7L115.5,88L116.7,88.4L117.9,88.7L119.1,89.1L120.3,89.4L121.5,89.8L122.7,90.1L123.9,90.5L125.1,90.8L126.3,91.2L127.5,91.5L128.7,91.9L129.9,92.2L131.1,92.5L132.3,92.8L133.5,92.9L134.7,92.9L135.9,93L141.9,93L141.9,93Z" fill="#ff8354" stroke="#fff" stroke-opacity="0.55" stroke-width="0.80" stroke-linejoin="round"/><path d="M31.4,97.8L31.4,97.8L32.6,97.8L33.8,97.7L35,97.7L36.2,97.4L37.4,97.1L38.6,96.8L39.8,96.4L41,96L42.2,95.7L43.4,95.3L44.6,94.9L45.8,94.6L47,94.2L48.2,93.8L49.4,93.5L50.6,93.1L51.8,92.7L53,92.4L54.2,92L55.4,91.7L56.6,91.3L57.8,90.9L59,90.6L60.2,90.2L61.4,89.9L62.6,89.6L63.8,89.2L65,88.9L66.2,88.6L67.4,88.2L68.6,87.9L69.8,87.6L71,87.3L72.2,87L73.4,86.6L74.6,86.1L75.8,85.4L77,84.8L78.2,84.4L79.4,84.4L80.6,84.7L81.8,84.9L83,85L84.2,84.8L85.4,84.6L86.7,84.4L87.9,84.3L89.1,84.1L90.3,84.1L91.5,84.3L92.7,84.7L93.9,85.3L95.1,85.8L96.3,86.2L97.5,86.6L98.7,86.9L99.9,87.2L101.1,87.5L102.3,87.8L103.5,88.1L104.7,88.5L105.9,88.8L107.1,89.1L108.3,89.5L109.5,89.8L110.7,90.2L111.9,90.5L113.1,90.9L114.3,91.2L115.5,91.6L116.7,91.9L117.9,92.3L119.1,92.6L120.3,93L121.5,93.4L122.7,93.7L123.9,94.1L125.1,94.5L126.3,94.9L127.5,95.2L128.7,95.6L129.9,95.9L131.1,96.3L132.3,96.7L133.5,97L134.7,97.3L135.9,97.7L137.1,97.7L138.3,97.8L141.9,97.8L141.9,97.8Z" fill="#ff8d5d" stroke="#fff" stroke-opacity="0.55" stroke-width="0.80" stroke-linejoin="round"/><path d="M31.4,98.7L31.4,98.7L35,98.7L36.2,98.6L37.4,98.6L38.6,98.3L39.8,98L41,97.6L42.2,97.3L43.4,96.9L44.6,96.5L45.8,96.2L47,95.8L48.2,95.4L49.4,95.1L50.6,94.7L51.8,94.3L53,94L54.2,93.6L55.4,93.2L56.6,92.9L57.8,92.5L59,92.2L60.2,91.8L61.4,91.4L62.6,91.1L63.8,90.7L65,90.4L66.2,90.1L67.4,89.7L68.6,89.4L69.8,89.1L71,88.7L72.2,88.4L73.4,88.1L74.6,87.7L75.8,87.3L77,87L78.2,86.6L79.4,86.4L80.6,86.1L81.8,86L83,85.8L84.2,85.7L85.4,85.6L86.7,85.5L87.9,85.7L89.1,86.2L90.3,86.8L91.5,87.2L92.7,87.1L93.9,86.9L95.1,86.8L96.3,87L97.5,87.3L98.7,87.8L99.9,88.4L101.1,88.9L102.3,89.3L103.5,89.5L104.7,89.6L105.9,89.6L107.1,89.7L108.3,89.9L109.5,90.1L110.7,90.4L111.9,90.7L113.1,91L114.3,91.4L115.5,91.7L116.7,92.1L117.9,92.5L119.1,92.8L120.3,93.2L121.5,93.5L122.7,93.9L123.9,94.3L125.1,94.6L126.3,95L127.5,95.4L128.7,95.8L129.9,96.1L131.1,96.5L132.3,96.9L133.5,97.2L134.7,97.6L135.9,97.9L137.1,98.3L138.3,98.6L139.5,98.6L140.7,98.7L141.9,98.7L141.9,98.7Z" fill="#ff8f5f" stroke="#fff" stroke-opacity="0.55" stroke-width="0.80" stroke-linejoin="round"/><path d="M31.4,101.8L31.4,101.8L33.8,101.8L35,101.7L36.2,101.7L37.4,101.7L38.6,101.3L39.8,100.9L41,100.5L42.2,100.1L43.4,99.6L44.6,99.2L45.8,98.8L47,98.3L48.2,97.9L49.4,97.4L50.6,97L51.8,96.6L53,96.1L54.2,95.7L55.4,95.2L56.6,94.8L57.8,94.4L59,94L60.2,93.5L61.4,93.1L62.6,92.7L63.8,92.3L65,91.9L66.2,91.5L67.4,91.1L68.6,90.8L69.8,90.4L71,90.1L72.2,89.8L73.4,89.6L74.6,89.3L75.8,89.1L77,89L78.2,88.8L79.4,88.7L80.6,88.5L81.8,88.4L83,88.4L84.2,88.4L85.4,88.5L86.7,88.7L87.9,88.8L89.1,88.8L90.3,88.8L91.5,88.9L92.7,89L93.9,89.1L95.1,89.4L96.3,89.7L97.5,90L98.7,90.3L99.9,90.7L101.1,91.1L102.3,91.5L103.5,91.8L104.7,92.2L105.9,92.7L107.1,93.1L108.3,93.5L109.5,93.9L110.7,94.3L111.9,94.7L113.1,95.2L114.3,95.6L115.5,96L116.7,96.5L117.9,96.9L119.1,97.4L120.3,97.8L121.5,98.2L122.7,98.7L123.9,99.1L125.1,99.6L126.3,100L127.5,100.4L128.7,100.8L129.9,101.2L131.1,101.6L132.3,101.7L133.5,101.7L134.7,101.8L141.9,101.8L141.9,101.8Z" fill="#ff9564" stroke="#fff" stroke-opacity="0.55" stroke-width="0.80" stroke-linejoin="round"/><path d="M31.4,102.7L31.4,102.7L35,102.7L36.2,102.6L37.4,102.6L38.6,102.2L39.8,101.8L41,101.4L42.2,101L43.4,100.6L44.6,100.2L45.8,99.7L47,99.3L48.2,98.9L49.4,98.5L50.6,98L51.8,97.6L53,97.2L54.2,96.7L55.4,96.3L56.6,95.9L57.8,95.5L59,95.1L60.2,94.7L61.4,94.3L62.6,93.9L63.8,93.5L65,93.1L66.2,92.8L67.4,92.5L68.6,92.3L69.8,92L71,91.8L72.2,91.6L73.4,91.4L74.6,91.1L75.8,90.8L77,90.3L78.2,89.9L79.4,89.4L80.6,89L81.8,88.6L83,88.4L84.2,88.4L85.4,88.5L86.7,88.6L87.9,88.5L89.1,88.3L90.3,88.1L91.5,88L92.7,88.1L93.9,88.4L95.1,88.7L96.3,89L97.5,89.3L98.7,89.6L99.9,89.9L101.1,90.3L102.3,90.6L103.5,91L104.7,91.4L105.9,91.7L107.1,92.1L108.3,92.5L109.5,92.9L110.7,93.3L111.9,93.7L113.1,94.1L114.3,94.5L115.5,94.9L116.7,95.3L117.9,95.7L119.1,96.1L120.3,96.6L121.5,97L122.7,97.4L123.9,97.8L125.1,98.3L126.3,98.7L127.5,99.1L128.7,99.5L129.9,100L131.1,100.4L132.3,100.8L133.5,101.2L134.7,101.6L135.9,102L137.1,102.4L138.3,102.6L139.5,102.6L140.7,102.7L141.9,102.7L141.9,102.7Z" fill="#ff9766" stroke="#fff" stroke-opacity="0.55" stroke-width="0.80" stroke-linejoin="round"/><path d="M31.4,103.6L31.4,103.6L35,103.6L36.2,103.5L37.4,103.5L38.6,103.5L39.8,103.1L41,102.7L42.2,102.3L43.4,101.9L44.6,101.5L45.8,101.1L47,100.7L48.2,100.3L49.4,99.9L50.6,99.5L51.8,99.1L53,98.7L54.2,98.3L55.4,97.9L56.6,97.5L57.8,97.1L59,96.7L60.2,96.3L61.4,95.9L62.6,95.5L63.8,95.1L65,94.8L66.2,94.4L67.4,94L68.6,93.7L69.8,93.3L71,93L72.2,92.6L73.4,92.3L74.6,92L75.8,91.6L77,91.3L78.2,91L79.4,90.8L80.6,90.6L81.8,90.4L83,90.4L84.2,90.4L85.4,90.5L86.7,90.7L87.9,90.9L89.1,91L90.3,91L91.5,91.1L92.7,91.1L93.9,91.1L95.1,91L96.3,90.8L97.5,90.6L98.7,90.8L99.9,91.4L101.1,92.3L102.3,93.1L103.5,93.7L104.7,94.1L105.9,94.5L107.1,94.9L108.3,95.3L109.5,95.7L110.7,96L111.9,96.4L113.1,96.8L114.3,97.2L115.5,97.6L116.7,98L117.9,98.4L119.1,98.8L120.3,99.3L121.5,99.7L122.7,100.1L123.9,100.5L125.1,100.9L126.3,101.3L127.5,101.7L128.7,102.1L129.9,102.5L131.1,102.9L132.3,103.2L133.5,103.5L134.7,103.5L135.9,103.6L141.9,103.6L141.9,103.6Z" fill="#ff9968" stroke="#fff" stroke-opacity="0.55" stroke-width="0.80" stroke-linejoin="round"/><path d="M31.4,104.5L31.4,104.5L33.8,104.5L35,104.4L36.2,104.4L37.4,104.2L38.6,103.8L39.8,103.4L41,102.9L42.2,102.5L43.4,102L44.6,101.6L45.8,101.1L47,100.7L48.2,100.2L49.4,99.7L50.6,99.3L51.8,98.8L53,98.4L54.2,97.9L55.4,97.5L56.6,97L57.8,96.6L59,96.1L60.2,95.7L61.4,95.3L62.6,94.8L63.8,94.4L65,94L66.2,93.6L67.4,93.2L68.6,92.8L69.8,92.4L71,92L72.2,91.6L73.4,91.3L74.6,90.9L75.8,90.6L77,90.4L78.2,90.1L79.4,90L80.6,89.9L81.8,90L83,90.1L84.2,90.3L85.4,90.5L86.7,91L87.9,91.5L89.1,92L90.3,92.4L91.5,92.6L92.7,92.6L93.9,92.5L95.1,92.3L96.3,92.1L97.5,92L98.7,91.9L99.9,92L101.1,92.2L102.3,92.5L103.5,92.8L104.7,93.2L105.9,93.6L107.1,94L108.3,94.4L109.5,94.8L110.7,95.2L111.9,95.7L113.1,96.1L114.3,96.5L115.5,97L116.7,97.4L117.9,97.9L119.1,98.3L120.3,98.8L121.5,99.3L122.7,99.7L123.9,100.2L125.1,100.6L126.3,101.1L127.5,101.5L128.7,102L129.9,102.4L131.1,102.9L132.3,103.3L133.5,103.8L134.7,104.2L135.9,104.4L137.1,104.4L138.3,104.5L141.9,104.5L141.9,104.5Z" fill="#ff9b69" stroke="#fff" stroke-opacity="0.55" stroke-width="0.80" stroke-linejoin="round"/><path d="M31.4,105.3L31.4,105.3L33.8,105.3L35,105.2L36.2,105.2L37.4,105.1L38.6,104.7L39.8,104.2L41,103.8L42.2,103.4L43.4,102.9L44.6,102.5L45.8,102L47,101.6L48.2,101.1L49.4,100.7L50.6,100.2L51.8,99.8L53,99.3L54.2,98.9L55.4,98.4L56.6,98L57.8,97.6L59,97.1L60.2,96.7L61.4,96.3L62.6,95.8L63.8,95.4L65,95L66.2,94.6L67.4,94.2L68.6,93.8L69.8,93.4L71,93.1L72.2,92.7L73.4,92.4L74.6,92.2L75.8,92L77,91.8L78.2,91.6L79.4,91.5L80.6,91.3L81.8,91.1L83,90.8L84.2,90.5L85.4,90.1L86.7,89.9L87.9,89.8L89.1,89.7L90.3,89.7L91.5,89.9L92.7,90.2L93.9,90.5L95.1,90.8L96.3,91.2L97.5,91.5L98.7,92L99.9,92.4L101.1,92.9L102.3,93.3L103.5,93.8L104.7,94.2L105.9,94.6L107.1,95L108.3,95.5L109.5,95.9L110.7,96.3L111.9,96.7L113.1,97.2L114.3,97.6L115.5,98.1L116.7,98.5L117.9,98.9L119.1,99.4L120.3,99.8L121.5,100.3L122.7,100.7L123.9,101.2L125.1,101.7L126.3,102.1L127.5,102.6L128.7,103L129.9,103.4L131.1,103.9L132.3,104.3L133.5,104.7L134.7,105.1L135.9,105.2L137.1,105.3L141.9,105.3L141.9,105.3Z" fill="#ff9c6b" stroke="#fff" stroke-opacity="0.55" stroke-width="0.80" stroke-linejoin="round"/><path d="M31.4,107.6L31.4,107.6L36.2,107.6L37.4,107.5L38.6,107.5L39.8,107.3L41,106.8L42.2,106.4L43.4,105.9L44.6,105.4L45.8,104.9L47,104.4L48.2,103.9L49.4,103.4L50.6,102.9L51.8,102.4L53,101.9L54.2,101.5L55.4,101L56.6,100.5L57.8,100L59,99.5L60.2,99L61.4,98.5L62.6,98.1L63.8,97.6L65,97.1L66.2,96.7L67.4,96.2L68.6,95.8L69.8,95.3L71,94.7L72.2,94.2L73.4,93.8L74.6,93.6L75.8,93.5L77,93.3L78.2,93L79.4,92.6L80.6,92.1L81.8,91.7L83,91.5L84.2,91.2L85.4,91.1L86.7,91.1L87.9,91.3L89.1,91.6L90.3,91.8L91.5,92.1L92.7,92.3L93.9,92.6L95.1,92.9L96.3,93.2L97.5,93.6L98.7,93.9L99.9,94.3L101.1,94.7L102.3,95.1L103.5,95.6L104.7,96L105.9,96.4L107.1,96.9L108.3,97.4L109.5,97.8L110.7,98.3L111.9,98.8L113.1,99.2L114.3,99.7L115.5,100.2L116.7,100.7L117.9,101.2L119.1,101.7L120.3,102.2L121.5,102.7L122.7,103.2L123.9,103.7L125.1,104.2L126.3,104.6L127.5,105.1L128.7,105.6L129.9,106.1L131.1,106.6L132.3,107L133.5,107.4L134.7,107.5L135.9,107.5L137.1,107.6L141.9,107.6L141.9,107.6Z" fill="#ffa16f" stroke="#fff" stroke-opacity="0.55" stroke-width="0.80" stroke-linejoin="round"/><path d="M23.5,109.4H148.5" stroke="#d8d8d8" stroke-width="0.7"/><path d="M23.50,109.4V111.6" stroke="#cfcfcf" stroke-width="0.7"/><path d="M36.00,109.4V111.6" stroke="#cfcfcf" stroke-width="0.7"/><path d="M48.50,109.4V111.6" stroke="#cfcfcf" stroke-width="0.7"/><path d="M61.00,109.4V111.6" stroke="#cfcfcf" stroke-width="0.7"/><path d="M73.50,109.4V111.6" stroke="#cfcfcf" stroke-width="0.7"/><path d="M86.00,109.4V111.6" stroke="#cfcfcf" stroke-width="0.7"/><path d="M98.50,109.4V111.6" stroke="#cfcfcf" stroke-width="0.7"/><path d="M111.00,109.4V111.6" stroke="#cfcfcf" stroke-width="0.7"/><path d="M123.50,109.4V111.6" stroke="#cfcfcf" stroke-width="0.7"/><path d="M136.00,109.4V111.6" stroke="#cfcfcf" stroke-width="0.7"/><path d="M148.50,109.4V111.6" stroke="#cfcfcf" stroke-width="0.7"/><text transform="translate(23.50,118.8) scale(0.87,1)" class="xl">-1.0</text><text transform="translate(48.50,118.8) scale(0.87,1)" class="xl">-0.6</text><text transform="translate(73.50,118.8) scale(0.87,1)" class="xl">-0.2</text><text transform="translate(98.50,118.8) scale(0.87,1)" class="xl">0.2</text><text transform="translate(123.50,118.8) scale(0.87,1)" class="xl">0.6</text><text transform="translate(148.50,118.8) scale(0.87,1)" class="xl">1.0</text><path d="M148.5,74.32H151.3" stroke="#cfcfcf" stroke-width="0.7"/><path d="M148.5,80.94H151.3" stroke="#cfcfcf" stroke-width="0.7"/><path d="M148.5,87.57H151.3" stroke="#cfcfcf" stroke-width="0.7"/><path d="M148.5,94.19H151.3" stroke="#cfcfcf" stroke-width="0.7"/><path d="M148.5,100.81H151.3" stroke="#cfcfcf" stroke-width="0.7"/><path d="M148.5,107.43H151.3" stroke="#cfcfcf" stroke-width="0.7"/><text transform="translate(153.5,76.72) scale(0.87,1)" class="yl">20</text><text transform="translate(153.5,89.97) scale(0.87,1)" class="yl">60</text><text transform="translate(153.5,103.21) scale(0.87,1)" class="yl">100</text></svg><svg class="ic" viewBox="5 5 14 14" width="9" height="9"><path d="M7 14H5v5h5v-2H7v-3zm-2-4h2V7h3V5H5v5zm12 7h-3v2h5v-5h-2v3zM14 5v2h3v3h2V5h-5z" fill="#5f7b8b"/></svg></div><div class="cell" style="left:196.00px;top:282.67px"><div class="bar"></div><div class="ttl">layer3/bias</div><div class="dot">.</div><svg class="ch" width="196" height="141" viewBox="0 0 196 141"><rect x="23.5" y="68.60" width="125.0" height="2.70" fill="#000" fill-opacity="0.13"/><rect x="23.5" y="77.50" width="125.0" height="1.70" fill="#000" fill-opacity="0.13"/><rect x="23.5" y="80.10" width="125.0" height="2.20" fill="#000" fill-opacity="0.13"/><rect x="23.5" y="83.60" width="125.0" height="1.80" fill="#000" fill-opacity="0.13"/><rect x="23.5" y="90.70" width="125.0" height="3.10" fill="#000" fill-opacity="0.13"/><rect x="23.5" y="97.30" width="125.0" height="1.80" fill="#000" fill-opacity="0.13"/><rect x="23.5" y="101.30" width="125.0" height="4.40" fill="#000" fill-opacity="0.13"/><rect x="23.5" y="107.00" width="125.0" height="1.10" fill="#000" fill-opacity="0.13"/><path d="M38.7,69.1L38.7,69.1L42.7,69.1L44.6,62.8L46.1,64.2L48.2,66L50.1,65.6L51.5,66.1L53.4,64.4L55.3,66.2L57.4,63.7L59.9,64.9L61.8,64L63.6,66L65.8,63.9L68,65.6L69.8,62.9L71.3,62.6L73,63.9L74.8,64.7L76.6,62.9L78.3,65.8L80.6,62.6L82.6,62.2L85.2,65.4L86.6,60.4L89,63.2L91.4,62.1L93.9,63L96.5,64.6L98,64.3L100.5,62.3L102,64.1L104.1,62.9L106,62.6L107.8,62.6L110.3,63.5L112.5,63L114.2,65.2L116.5,64.2L118.9,66L120.7,64.2L122.4,59.8L124.5,64.3L126.6,64.6L128.8,66.5L131.2,66L132.2,69.1L136.2,69.1L136.2,69.1Z" fill="#ce451d" stroke="#fff" stroke-opacity="0.55" stroke-width="0.80" stroke-linejoin="round"/><path d="M38.7,70L38.7,70L42.7,70L44.4,66.6L46.3,66.9L48.3,64.4L50.3,65L52.8,66.8L55.2,65.1L57.5,64.6L59.2,65.7L61.8,65.7L63.7,63.6L65.8,66L67.3,66.1L69.7,60.8L71.6,66.5L73.6,63.2L76,65.9L78.2,66.8L79.9,61.5L82.3,66.5L84.2,63.8L85.7,62.7L87.3,62.4L88.9,66.9L90.4,63.6L92.7,64.4L95.1,64.3L96.9,63L99.3,66.1L101.1,64.3L103.5,65.1L105.7,63.8L107.5,63.2L110.1,66.6L112.4,60L114.3,64.1L116.3,66.3L117.8,65.8L120.2,64.7L121.8,65.9L123.8,66.5L125.9,63.3L128,65.5L130.5,63.3L132.2,70L136.2,70L136.2,70Z" fill="#d24820" stroke="#fff" stroke-opacity="0.55" stroke-width="0.80" stroke-linejoin="round"/><path d="M38.7,70.9L38.7,70.9L42.7,70.9L43.8,64.5L45.6,64.6L47.5,63.8L49.7,65.1L51.3,61.1L53.4,65.7L55,67.7L56.6,65.1L58.7,64.6L60.8,67L63.3,66.7L65.3,65.4L67.1,60.2L69.4,65.2L71,64.6L73.2,67.3L75.8,67.2L77.3,67.4L79.5,63.2L81.5,66.4L84.1,64.6L85.8,64.1L87.3,63.7L88.9,67.4L90.5,59.7L92.9,64.1L94.9,64L96.5,64L98.6,65.4L100.5,60L102.3,64.7L104.7,66.9L107.1,63.7L109.2,63.4L111.1,65.6L113.1,65.5L115.6,64.4L117.3,65.3L119.6,63.8L121.1,65.7L122.8,65.8L125.1,67.6L127,64.2L128.5,65.7L130,65.5L132.2,70.9L136.2,70.9L136.2,70.9Z" fill="#d54b23" stroke="#fff" stroke-opacity="0.55" stroke-width="0.80" stroke-linejoin="round"/><path d="M38.7,74.3L38.7,74.3L38.7,74.3L40.4,68L42.6,65.5L44.1,61.3L46.4,66.8L48.2,63.3L50.1,65.2L52.3,62.4L53.9,64.6L55.4,61L57.6,68.3L59.9,61.4L62.5,65.6L64,62.2L66.1,63.9L68.2,61.1L70.1,64.9L72,61.8L73.4,66.8L74.9,61.3L77.4,64.4L79.8,61.7L81.9,67.2L83.9,59.7L85.4,65L87.1,59.6L89.3,63.2L90.9,60.3L93.2,66.7L95.3,60.1L97.1,66.9L98.6,62.5L100.2,66.3L102,62.5L103.8,65.7L105.8,60.8L108.2,64.9L110.5,62.3L112.8,64.9L115.2,60.9L117.4,68.6L119.7,60.9L121.6,67.8L123.8,63L126.2,66.2L128.8,62.1L131.2,67.8L132.8,62.2L135.1,72.3L136.2,74.3L136.2,74.3L136.2,74.3Z" fill="#e1562c" stroke="#fff" stroke-opacity="0.55" stroke-width="0.80" stroke-linejoin="round"/><path d="M38.7,78L38.7,78L60,78L62.1,71.6L63.9,70.2L65.8,64.4L67.6,69.1L69.2,63.8L71.7,70.1L74.2,69.1L76.2,60.7L77.8,53.1L80.4,58.1L82.2,65.6L83.9,65.1L86.1,55.4L88.7,57.2L91.2,65.9L93.5,36.1L95.6,61.8L97.2,55L99.4,58.7L102.1,59.2L103.8,61.4L106.2,69.3L107.6,78L136.2,78L136.2,78Z" fill="#ec6035" stroke="#fff" stroke-opacity="0.55" stroke-width="0.80" stroke-linejoin="round"/><path d="M38.7,78.8L38.7,78.8L61.2,78.8L62.6,57.9L65.3,67.6L67.8,58.8L69.4,62.9L71.5,61.7L73.8,68L75.9,66.4L78.6,66.6L80.4,36.7L82.9,46.8L84.6,60.4L87.2,65.1L89.7,51.2L91.5,45.6L93.3,60.9L95.1,64.7L97.9,62.8L100.3,69.4L102.9,63.3L105.1,72.6L107.5,66.1L109.1,78.8L136.2,78.8L136.2,78.8Z" fill="#ef6236" stroke="#fff" stroke-opacity="0.55" stroke-width="0.80" stroke-linejoin="round"/><path d="M38.7,80.6L38.7,80.6L63,80.6L64.9,73.1L66.4,70L69.1,67.7L70.9,73.6L73.5,68.2L75.7,69.8L77.7,67.1L79.6,66.1L82.4,68.1L84.3,64.4L86.9,66L89,57L91.4,66L93.4,55.3L95.5,53.4L97.1,69.4L98.7,50.4L100.7,55L102.8,60.4L104.8,63.7L107.4,72L109.4,80.6L136.2,80.6L136.2,80.6Z" fill="#f4663a" stroke="#fff" stroke-opacity="0.55" stroke-width="0.80" stroke-linejoin="round"/><path d="M38.7,81.6L38.7,81.6L63,81.6L64.6,73.2L66.3,59.5L68.3,74.5L70.7,72.7L73.5,60.3L76,71.4L77.8,70.7L80.2,63.1L82,56.9L83.9,55.1L86.4,56.3L88.4,44.7L90.5,58.5L92.5,60.7L95,70.2L97.4,63.6L100.2,66.9L102.5,73.9L104.4,67L107,70.5L108.8,81.6L136.2,81.6L136.2,81.6Z" fill="#f7693d" stroke="#fff" stroke-opacity="0.55" stroke-width="0.80" stroke-linejoin="round"/><path d="M38.7,84.1L38.7,84.1L60.9,84.1L62.8,75.3L65.2,73.7L67.3,68.6L69.8,71.3L71.9,67.8L73.5,67L75.1,70.6L77.2,72.2L79.4,70L81.6,49.1L83.1,65.6L85.5,67.9L87.9,61.1L89.5,72.3L91.6,51.4L94.3,67.9L97,70.5L98.8,60.2L100.7,72.6L102.6,78.4L104.6,79.2L106.6,78.2L107.5,84.1L136.2,84.1L136.2,84.1Z" fill="#fd6f42" stroke="#fff" stroke-opacity="0.55" stroke-width="0.80" stroke-linejoin="round"/><path d="M38.7,85L38.7,85L60.2,85L61.6,76.4L63.4,76.3L65.3,70.6L67.2,70.1L69.2,68.7L71.8,74.9L74,58.3L76,73.2L78.7,75.4L80.5,70.3L82.1,71.9L84.9,65.3L86.8,70.2L88.7,75L91.4,74.8L93.3,53L95.5,65.6L97.2,54.1L100,67.3L102.7,74.5L104.8,73.4L107.5,77.6L109.1,80.4L109.7,85L136.2,85L136.2,85Z" fill="#ff7144" stroke="#fff" stroke-opacity="0.55" stroke-width="0.80" stroke-linejoin="round"/><path d="M38.7,91.2L38.7,91.2L51.8,91.2L54,85.6L56.3,85.6L58.2,86L60.5,83.2L63,85.1L65.2,84.8L68.1,76.7L70.3,77.8L72.8,77.9L75.6,69.6L78.2,82L80.4,79.7L82.5,74L84.9,82.2L86.6,78.4L89.3,83.7L91,74.7L93.9,70.9L95.8,80.6L98.6,70.2L100.3,80.5L102.6,82.8L104.6,80.9L106.7,86.9L108.4,80.4L110.2,85.2L112.2,87L112.3,91.2L136.2,91.2L136.2,91.2Z" fill="#ff7f50" stroke="#fff" stroke-opacity="0.55" stroke-width="0.80" stroke-linejoin="round"/><path d="M38.7,92.1L38.7,92.1L51.2,92.1L53.1,88.4L55,88.2L57.2,84L58.8,87.1L61.2,81.9L63.6,78.8L66.1,73L68,79.8L69.8,82.2L72,68.3L74.1,74.3L75.9,75.1L78,71.2L80.4,80.6L83.2,76.3L85.2,78.9L87.7,76.4L89.7,82.1L91.5,78.1L94.3,81.6L96.3,78.4L98.2,78.8L99.8,70.8L101.7,82.2L104.3,86.6L106,87.4L108.6,84.7L110.4,82.2L113.2,90.1L113.6,92.1L136.2,92.1L136.2,92.1Z" fill="#ff8152" stroke="#fff" stroke-opacity="0.55" stroke-width="0.80" stroke-linejoin="round"/><path d="M38.7,93L38.7,93L50.5,93L52.5,89.8L54.8,85.5L57.4,83.9L58.9,88L61.2,84.8L62.7,80.4L65.1,83.3L67.2,82L69,78.2L70.9,85L72.9,86.4L75.4,74L77.5,72.8L79.3,78.3L81,84L82.6,72.9L85.4,72.2L87.6,75.6L89.2,72.3L91.8,72L93.5,83.7L96.1,83.8L98.9,82.6L101.2,86.5L102.8,78.3L104.4,82.8L106.1,86.2L108.2,87.8L110.9,86.9L113.2,89.2L114.8,93L136.2,93L136.2,93Z" fill="#ff8354" stroke="#fff" stroke-opacity="0.55" stroke-width="0.80" stroke-linejoin="round"/><path d="M38.7,97.8L38.7,97.8L46.9,97.8L48.5,91.8L50.9,94.9L53.7,93.6L55.5,89.3L57.7,88.4L60,87.6L62.8,86.3L64.4,89.7L67.2,77.1L69.2,87.1L72,87.3L74.1,79.6L76.6,82.8L79.2,84.7L81.5,79.5L83.6,83.3L85.6,79.5L87.2,83L89.3,78.7L92,83.1L94.4,80.8L96.1,91.9L98,85.3L100.9,87.4L103.2,80L105.8,93.2L108.5,86.8L111.1,90.8L113.3,91.1L115.3,87.5L117.6,94.7L119.3,94.5L121.6,97.8L136.2,97.8L136.2,97.8Z" fill="#ff8d5d" stroke="#fff" stroke-opacity="0.55" stroke-width="0.80" stroke-linejoin="round"/><path d="M38.7,98.7L38.7,98.7L46.2,98.7L48.1,92.6L50.4,93.1L53,95.5L55.5,89.3L57.6,92L59.4,88L62,91.6L63.6,89.8L65.5,79.2L68.3,87L70.4,84L72.7,86.2L75,85.4L77.5,92L79.4,80.9L81.8,87.4L83.6,88.5L86.5,78.7L89.3,67.8L91.6,88.4L93.6,88.7L95.4,81.3L97.3,82.9L100.1,86.5L102,87.4L104,85.7L105.9,85.2L108.2,90.8L110.5,90.3L112.1,92.6L114.9,87.8L116.7,85.5L118.8,95.4L120.8,91.5L122.9,98.7L136.2,98.7L136.2,98.7Z" fill="#ff8f5f" stroke="#fff" stroke-opacity="0.55" stroke-width="0.80" stroke-linejoin="round"/><path d="M38.7,101.8L38.7,101.8L43.9,101.8L45.7,97.1L47.3,98.2L49.5,94.9L52.2,96.9L54.1,92.4L56.6,92.2L59.2,91.4L61.4,93.4L63.2,92.1L65.1,93.1L67,87.8L68.7,91.4L70.7,95.1L72.7,81.5L74.9,90.8L76.5,86.5L78.4,93.4L80,88L82,74.6L83.8,94.7L85.4,94L88.2,92.2L91,92.6L93.2,94.5L95.8,76.3L98.1,90L99.9,89.3L102.3,90.7L105,93.2L107.2,86.6L109.8,88.7L111.8,95.1L114,93.4L115.9,94.2L118.2,94L120,95.3L121.7,96.6L124,95.5L126.1,98.5L127.2,101.8L136.2,101.8L136.2,101.8Z" fill="#ff9564" stroke="#fff" stroke-opacity="0.55" stroke-width="0.80" stroke-linejoin="round"/><path d="M38.7,102.7L38.7,102.7L43.2,102.7L44.7,98.7L47.4,91.3L49.5,97.3L51.9,94.1L54.8,94.7L57.2,97.7L59.5,92.7L61.6,91L63.7,92.6L65.8,89.7L68,84.9L69.9,88.1L72,90.7L74.4,91.2L76.2,93.3L78.2,86.3L80.9,90.2L83.3,95.5L85.3,89.4L87.7,78.3L89.9,90.2L91.7,85.6L93.6,92L95.7,94.5L97.7,78.9L99.6,81.2L101.9,88.2L104.3,91.7L107.1,92.1L109.6,90.6L112,94.8L114.6,96L117.5,93.7L119.6,98.7L122.2,98.5L124.8,94.9L126.4,98.1L128.5,102.7L136.2,102.7L136.2,102.7Z" fill="#ff9766" stroke="#fff" stroke-opacity="0.55" stroke-width="0.80" stroke-linejoin="round"/><path d="M38.7,103.6L38.7,103.6L42.5,103.6L43.7,99.1L45.6,96.8L47.6,92.8L50,94.6L52,89.7L54.2,99.4L56.1,98.7L58.7,95.2L61,97.3L63.4,90.6L65.3,97L67.9,95L70.5,92.2L72.6,84.9L74.4,88.6L76.6,90.1L78.6,90.5L81.4,94L83.5,87.5L86.3,87.8L88,90.5L90.4,81.7L93.1,88.6L95,93.6L96.9,91.2L99.3,94.1L101.1,91.9L102.7,94.4L105.4,94.5L107.8,98.2L109.5,92.6L112.1,96.2L114.3,97.5L116.1,92.4L117.7,94.8L119.3,96.7L120.8,99.1L122.7,95.1L125.1,94.6L127.6,99.6L129.8,103.6L136.2,103.6L136.2,103.6Z" fill="#ff9968" stroke="#fff" stroke-opacity="0.55" stroke-width="0.80" stroke-linejoin="round"/><path d="M38.7,104.5L38.7,104.5L41.8,104.5L43.1,101.2L45.9,99.8L48.7,100.4L51.3,96.7L53.8,98L55.8,98.1L57.5,93.6L60,94.5L62.1,97.5L63.8,90.8L66.2,93.5L68.4,98.7L70.5,98L72.7,98.5L74.7,86.2L76.8,90.6L78.7,81.3L80.3,97.6L83,93.6L85.5,87.2L87.9,89.3L90.3,92.8L91.9,80.6L94.7,90.8L97.1,94.2L99.2,97.8L101,96.8L103.5,95.2L105.8,96.5L108.4,95.7L109.9,91.4L112.2,98.7L114.8,96.4L116.5,94.1L118.4,94.3L120.9,98.8L123.3,96.1L124.9,99.8L126.9,99.2L129,97.6L131,104.5L136.2,104.5L136.2,104.5Z" fill="#ff9b69" stroke="#fff" stroke-opacity="0.55" stroke-width="0.80" stroke-linejoin="round"/><path d="M38.7,105.3L38.7,105.3L41.2,105.3L42.4,101L44.8,100.2L47.5,97L49.7,98.5L51.7,99.3L53.4,98.4L55.1,99.8L57.4,94L59.5,96.1L62.3,93L64.3,96L66.3,96.3L69.1,98.9L71.6,98.5L73.3,98.9L75,92.4L77.4,95.8L79.1,89.3L81.1,83.7L83.5,95.8L85.2,98.2L87.6,82.4L89.7,81L92.3,84.2L94.6,94.1L96.9,89.8L99.1,97.3L101,93L102.8,99.3L105.3,98.4L107.7,95L109.8,98.8L111.9,93.6L113.8,99.9L116,100.2L118.5,100L120,95L122.3,98.6L124.4,92.1L126.7,101.9L129.5,97.8L132.2,105.3L136.2,105.3L136.2,105.3Z" fill="#ff9c6b" stroke="#fff" stroke-opacity="0.55" stroke-width="0.80" stroke-linejoin="round"/><path d="M38.7,107.6L38.7,107.6L39.5,107.6L41.3,104.1L43.9,103.9L46.3,103.5L48.4,98.9L50.2,97.8L51.8,99.8L54,91.4L55.7,102.8L58.2,100.7L60.9,92.6L62.4,101.6L65.1,102.2L67.8,99L70.4,99.7L73,92.5L74.6,93.5L76.4,90.4L78.2,98.1L80.8,81.9L83.2,91.3L85.6,94.1L88.4,101L90.4,99.8L92.1,101.2L94.4,96.1L96.7,97.4L98.4,97.6L101.2,97.8L103.8,93.6L105.4,96.9L107,102.6L109.1,96.7L110.9,89.8L113.6,102.9L115.7,99.2L117.4,97.3L119.3,103.4L121.6,100.8L124.2,101.9L126.4,102.7L128.8,103.3L131.5,101.2L134.4,102.8L135.4,107.6L136.2,107.6L136.2,107.6Z" fill="#ffa16f" stroke="#fff" stroke-opacity="0.55" stroke-width="0.80" stroke-linejoin="round"/><path d="M23.5,109.4H148.5" stroke="#d8d8d8" stroke-width="0.7"/><path d="M23.50,109.4V111.6" stroke="#cfcfcf" stroke-width="0.7"/><path d="M39.12,109.4V111.6" stroke="#cfcfcf" stroke-width="0.7"/><path d="M54.75,109.4V111.6" stroke="#cfcfcf" stroke-width="0.7"/><path d="M70.38,109.4V111.6" stroke="#cfcfcf" stroke-width="0.7"/><path d="M86.00,109.4V111.6" stroke="#cfcfcf" stroke-width="0.7"/><path d="M101.62,109.4V111.6" stroke="#cfcfcf" stroke-width="0.7"/><path d="M117.25,109.4V111.6" stroke="#cfcfcf" stroke-width="0.7"/><path d="M132.88,109.4V111.6" stroke="#cfcfcf" stroke-width="0.7"/><path d="M148.50,109.4V111.6" stroke="#cfcfcf" stroke-width="0.7"/><text transform="translate(23.50,118.8) scale(0.87,1)" class="xl">-0.008</text><text transform="translate(54.75,118.8) scale(0.87,1)" class="xl">-0.004</text><text transform="translate(86.00,118.8) scale(0.87,1)" class="xl">0.000</text><text transform="translate(117.25,118.8) scale(0.87,1)" class="xl">0.004</text><text transform="translate(148.50,118.8) scale(0.87,1)" class="xl">0.008</text><path d="M148.5,74.32H151.3" stroke="#cfcfcf" stroke-width="0.7"/><path d="M148.5,80.94H151.3" stroke="#cfcfcf" stroke-width="0.7"/><path d="M148.5,87.57H151.3" stroke="#cfcfcf" stroke-width="0.7"/><path d="M148.5,94.19H151.3" stroke="#cfcfcf" stroke-width="0.7"/><path d="M148.5,100.81H151.3" stroke="#cfcfcf" stroke-width="0.7"/><path d="M148.5,107.43H151.3" stroke="#cfcfcf" stroke-width="0.7"/><text transform="translate(153.5,76.72) scale(0.87,1)" class="yl">20</text><text transform="translate(153.5,89.97) scale(0.87,1)" class="yl">60</text><text transform="translate(153.5,103.21) scale(0.87,1)" class="yl">100</text></svg><svg class="ic" viewBox="5 5 14 14" width="9" height="9"><path d="M7 14H5v5h5v-2H7v-3zm-2-4h2V7h3V5H5v5zm12 7h-3v2h5v-5h-2v3zM14 5v2h3v3h2V5h-5z" fill="#5f7b8b"/></svg></div><div class="cell" style="left:392.00px;top:282.67px"><div class="bar"></div><div class="ttl">layer3/layer</div><div class="dot">.</div><svg class="ch" width="196" height="141" viewBox="0 0 196 141"><rect x="23.5" y="68.60" width="125.0" height="2.70" fill="#000" fill-opacity="0.13"/><rect x="23.5" y="77.50" width="125.0" height="1.70" fill="#000" fill-opacity="0.13"/><rect x="23.5" y="80.10" width="125.0" height="2.20" fill="#000" fill-opacity="0.13"/><rect x="23.5" y="83.60" width="125.0" height="1.80" fill="#000" fill-opacity="0.13"/><rect x="23.5" y="90.70" width="125.0" height="3.10" fill="#000" fill-opacity="0.13"/><rect x="23.5" y="97.30" width="125.0" height="1.80" fill="#000" fill-opacity="0.13"/><rect x="23.5" y="101.30" width="125.0" height="4.40" fill="#000" fill-opacity="0.13"/><rect x="23.5" y="107.00" width="125.0" height="1.10" fill="#000" fill-opacity="0.13"/><path d="M39.5,69.1L39.5,69.1L64.6,69.1L65.8,68.8L67,68.5L68.2,68.1L69.4,67.8L70.5,67.4L71.7,66.7L72.9,66L74.1,65.3L75.3,64.6L76.5,63.6L77.7,62.4L78.9,61.2L80.1,60L81.3,58.8L82.5,57.6L83.7,56.4L84.9,55.4L86.1,54.5L87.3,53.6L88.5,54.5L89.7,55.7L90.8,56.9L92,58.1L93.2,59.4L94.4,60.8L95.6,62.3L96.8,63.7L98,64.7L99.2,65.6L100.4,66.4L101.6,67.2L102.8,67.8L104,68.3L105.2,68.8L106.4,69.1L141,69.1L141,69.1Z" fill="#ce451d" stroke="#fff" stroke-opacity="0.55" stroke-width="0.80" stroke-linejoin="round"/><path d="M39.5,70L39.5,70L64.6,70L65.8,69.7L67,69.3L68.2,68.9L69.4,68.6L70.5,68.1L71.7,67.4L72.9,66.6L74.1,65.8L75.3,65.1L76.5,64L77.7,62.7L78.9,61.4L80.1,60L81.3,58.7L82.5,57.4L83.7,56.2L84.9,55L86.1,54L87.3,53L88.5,54.1L89.7,55.4L90.8,56.7L92,58L93.2,59.4L94.4,61L95.6,62.5L96.8,64.1L98,65.2L99.2,66.1L100.4,67L101.6,67.9L102.8,68.6L104,69.1L105.2,69.6L106.4,70L141,70L141,70Z" fill="#d24820" stroke="#fff" stroke-opacity="0.55" stroke-width="0.80" stroke-linejoin="round"/><path d="M39.5,70.9L39.5,70.9L64.6,70.9L65.8,70.5L67,70.1L68.2,69.7L69.4,69.3L70.5,68.9L71.7,68.1L72.9,67.2L74.1,66.4L75.3,65.5L76.5,64.4L77.7,63L78.9,61.6L80.1,60.1L81.3,58.7L82.5,57.3L83.7,55.9L84.9,54.7L86.1,53.6L87.3,52.5L88.5,53.7L89.7,55.1L90.8,56.5L92,57.9L93.2,59.4L94.4,61.1L95.6,62.8L96.8,64.5L98,65.7L99.2,66.7L100.4,67.7L101.6,68.7L102.8,69.4L104,69.9L105.2,70.5L106.4,70.9L141,70.9L141,70.9Z" fill="#d54b23" stroke="#fff" stroke-opacity="0.55" stroke-width="0.80" stroke-linejoin="round"/><path d="M39.5,74.3L39.5,74.3L64.6,74.3L65.8,73.6L67,72.9L68.2,72.1L69.4,71.4L70.5,70.5L71.7,68.9L72.9,67.3L74.1,65.8L75.3,64.2L76.5,62.1L77.7,59.4L78.9,56.7L80.1,53.9L81.3,51.2L82.5,48.6L83.7,46.1L84.9,43.7L86.1,41.6L87.3,39.6L88.5,41.8L89.7,44.5L90.8,47.2L92,49.9L93.2,52.6L94.4,55.8L95.6,59.1L96.8,62.3L98,64.6L99.2,66.4L100.4,68.2L101.6,70.1L102.8,71.4L104,72.5L105.2,73.6L106.4,74.3L141,74.3L141,74.3Z" fill="#e1562c" stroke="#fff" stroke-opacity="0.55" stroke-width="0.80" stroke-linejoin="round"/><path d="M39.5,78L39.5,78L64.6,78L65.8,77.9L67,77.9L68.2,77.8L69.4,77.6L70.5,77.4L71.7,77.1L72.9,76.8L74.1,76.3L75.3,75.7L76.5,75.1L77.7,74.4L78.9,73.6L80.1,72.7L81.3,71.8L82.5,71L83.7,70.2L84.9,69.5L86.1,69.1L87.3,68.8L88.5,68.9L89.7,69.2L90.8,69.8L92,70.5L93.2,71.4L94.4,72.3L95.6,73.4L96.8,74.4L98,75.3L99.2,76L100.4,76.5L101.6,76.8L102.8,77.1L104,77.4L105.2,77.6L106.4,77.7L107.6,77.8L108.8,77.9L110,77.9L111.1,78L135,78L136.2,77.5L137.4,77.6L138.6,77.7L139.8,77.8L141,77.8L141,78Z" fill="#ec6035" stroke="#fff" stroke-opacity="0.55" stroke-width="0.80" stroke-linejoin="round"/><path d="M39.5,78.8L39.5,78.8L57.4,78.8L58.6,78.7L59.8,78.7L61,78.7L62.2,78.7L63.4,78.6L64.6,78.6L65.8,78.6L67,78.6L68.2,78.5L69.4,78.3L70.5,78L71.7,77.6L72.9,77.1L74.1,76.6L75.3,76L76.5,75.4L77.7,74.7L78.9,73.9L80.1,73.1L81.3,72.3L82.5,71.6L83.7,71L84.9,70.6L86.1,70.4L87.3,70.5L88.5,70.9L89.7,71.4L90.8,72.1L92,72.9L93.2,73.7L94.4,74.5L95.6,75.2L96.8,75.9L98,76.5L99.2,77L100.4,77.4L101.6,77.8L102.8,78.1L104,78.3L105.2,78.5L106.4,78.6L107.6,78.7L108.8,78.7L110,78.7L111.1,78.8L136.2,78.8L137.4,78.4L138.6,78.5L139.8,78.6L141,78.6L141,78.8Z" fill="#ef6236" stroke="#fff" stroke-opacity="0.55" stroke-width="0.80" stroke-linejoin="round"/><path d="M39.5,80.6L39.5,80.6L58.6,80.6L59.8,80.5L61,80.5L62.2,80.5L63.4,80.4L64.6,80.3L65.8,80.1L67,79.9L68.2,79.6L69.4,79.3L70.5,78.8L71.7,78.3L72.9,77.6L74.1,76.8L75.3,76L76.5,75.1L77.7,74.1L78.9,73.2L80.1,72.3L81.3,71.6L82.5,71.2L83.7,71L84.9,71.2L86.1,71.7L87.3,72.4L88.5,73.3L89.7,74.1L90.8,75L92,75.8L93.2,76.6L94.4,77.3L95.6,77.9L96.8,78.5L98,79L99.2,79.4L100.4,79.7L101.6,80L102.8,80.2L104,80.3L105.2,80.4L106.4,80.5L107.6,80.5L108.8,80.6L130.3,80.6L131.4,80.2L132.6,80.2L133.8,80.3L135,80.4L136.2,80.4L137.4,80.5L138.6,80.5L139.8,80.5L141,80.5L141,80.6Z" fill="#f4663a" stroke="#fff" stroke-opacity="0.55" stroke-width="0.80" stroke-linejoin="round"/><path d="M39.5,81.6L39.5,81.6L61,81.6L62.2,81.5L63.4,81.5L64.6,81.5L65.8,81.4L67,81.3L68.2,81.1L69.4,80.9L70.5,80.6L71.7,80.3L72.9,79.8L74.1,79.2L75.3,78.5L76.5,77.5L77.7,76.5L78.9,75.5L80.1,74.6L81.3,73.8L82.5,73.1L83.7,72.5L84.9,72L86.1,71.7L87.3,71.5L88.5,71.6L89.7,72L90.8,72.6L92,73.4L93.2,74.4L94.4,75.5L95.6,76.5L96.8,77.3L98,78.1L99.2,78.7L100.4,79.3L101.6,79.8L102.8,80.2L104,80.6L105.2,80.9L106.4,81.1L107.6,81.3L108.8,81.4L110,81.5L111.1,81.5L112.3,81.5L113.5,81.6L137.4,81.6L138.6,81.2L139.8,81.3L141,81.3L141,81.6Z" fill="#f7693d" stroke="#fff" stroke-opacity="0.55" stroke-width="0.80" stroke-linejoin="round"/><path d="M39.5,84.1L39.5,84.1L57.4,84.1L58.6,84L59.8,84L61,83.9L62.2,83.8L63.4,83.7L64.6,83.5L65.8,83.3L67,83L68.2,82.6L69.4,82.1L70.5,81.5L71.7,80.8L72.9,80L74.1,79.1L75.3,78.2L76.5,77.2L77.7,76.3L78.9,75.4L80.1,74.7L81.3,74.2L82.5,73.9L83.7,73.8L84.9,73.9L86.1,74.3L87.3,74.8L88.5,75.5L89.7,76.3L90.8,77.2L92,78L93.2,78.9L94.4,79.8L95.6,80.6L96.8,81.5L98,82.3L99.2,83.1L100.4,83.7L101.6,84.1L132.6,84.1L133.8,83.6L135,83.7L136.2,83.8L137.4,83.9L138.6,83.9L139.8,84L141,84L141,84.1Z" fill="#fd6f42" stroke="#fff" stroke-opacity="0.55" stroke-width="0.80" stroke-linejoin="round"/><path d="M39.5,85L39.5,84.6L40.7,85L61,85L62.2,84.9L63.4,84.9L64.6,84.8L65.8,84.7L67,84.6L68.2,84.4L69.4,84.1L70.5,83.7L71.7,83.2L72.9,82.6L74.1,82.1L75.3,81.6L76.5,81.1L77.7,80.5L78.9,79.8L80.1,79L81.3,78.2L82.5,77.4L83.7,76.8L84.9,76.2L86.1,75.8L87.3,75.6L88.5,75.7L89.7,75.8L90.8,76.2L92,76.8L93.2,77.6L94.4,78.5L95.6,79.5L96.8,80.4L98,81.1L99.2,81.7L100.4,82.3L101.6,82.7L102.8,83.2L104,83.6L105.2,84L106.4,84.2L107.6,84.5L108.8,84.6L110,84.7L111.1,84.8L112.3,84.9L113.5,84.9L114.7,85L135,85L136.2,84.6L137.4,84.7L138.6,84.8L139.8,84.8L141,84.8L141,85Z" fill="#ff7144" stroke="#fff" stroke-opacity="0.55" stroke-width="0.80" stroke-linejoin="round"/><path d="M39.5,91.2L39.5,91.2L53.8,91.2L55,91.1L56.2,91.1L57.4,91.1L58.6,91L59.8,90.9L61,90.8L62.2,90.6L63.4,90.4L64.6,90.2L65.8,89.8L67,89.4L68.2,88.9L69.4,88.1L70.5,87.3L71.7,86.3L72.9,85.3L74.1,84.5L75.3,83.8L76.5,83.3L77.7,82.8L78.9,82.3L80.1,81.8L81.3,81.4L82.5,81.1L83.7,80.9L84.9,80.9L86.1,81L87.3,81.4L88.5,81.8L89.7,82.4L90.8,82.9L92,83.4L93.2,83.9L94.4,84.5L95.6,85.2L96.8,86L98,86.9L99.2,87.8L100.4,88.5L101.6,89.2L102.8,89.7L104,90L105.2,90.3L106.4,90.6L107.6,90.7L108.8,90.9L110,91L111.1,91L112.3,91.1L113.5,91.1L114.7,91.1L115.9,91.2L132.6,91.2L133.8,90.7L135,90.8L136.2,90.9L137.4,91L138.6,91L139.8,91.1L141,91.1L141,91.2Z" fill="#ff7f50" stroke="#fff" stroke-opacity="0.55" stroke-width="0.80" stroke-linejoin="round"/><path d="M39.5,92.1L39.5,91.6L40.7,92.1L56.2,92.1L57.4,92L58.6,92L59.8,92L61,91.9L62.2,91.8L63.4,91.7L64.6,91.5L65.8,91.3L67,91.1L68.2,90.8L69.4,90.4L70.5,89.9L71.7,89.4L72.9,88.7L74.1,87.9L75.3,87.1L76.5,86.3L77.7,85.7L78.9,85.3L80.1,84.9L81.3,84.4L82.5,83.8L83.7,83.1L84.9,82.4L86.1,81.9L87.3,81.6L88.5,81.4L89.7,81.3L90.8,81.3L92,81.5L93.2,82.2L94.4,83.2L95.6,84.4L96.8,85.5L98,86.4L99.2,87.3L100.4,88L101.6,88.7L102.8,89.3L104,89.9L105.2,90.3L106.4,90.7L107.6,91L108.8,91.3L110,91.5L111.1,91.7L112.3,91.8L113.5,91.9L114.7,91.9L115.9,92L117.1,92L118.3,92.1L133.8,92.1L135,91.6L136.2,91.7L137.4,91.8L138.6,91.9L139.8,91.9L141,92L141,92.1Z" fill="#ff8152" stroke="#fff" stroke-opacity="0.55" stroke-width="0.80" stroke-linejoin="round"/><path d="M39.5,93L39.5,93L52.6,93L53.8,92.9L55,92.9L56.2,92.9L57.4,92.8L58.6,92.8L59.8,92.7L61,92.5L62.2,92.4L63.4,92.2L64.6,91.9L65.8,91.6L67,91.2L68.2,90.8L69.4,90.2L70.5,89.7L71.7,89L72.9,88.3L74.1,87.5L75.3,86.7L76.5,85.9L77.7,85.2L78.9,84.5L80.1,83.8L81.3,83.3L82.5,82.9L83.7,82.7L84.9,82.6L86.1,82.7L87.3,83L88.5,83.4L89.7,83.9L90.8,84.5L92,85.2L93.2,86L94.4,86.9L95.6,87.9L96.8,88.8L98,89.6L99.2,90.2L100.4,90.6L101.6,90.9L102.8,91.2L104,91.5L105.2,91.8L106.4,92.1L107.6,92.3L108.8,92.5L110,92.6L111.1,92.7L112.3,92.8L113.5,92.9L114.7,92.9L115.9,92.9L117.1,93L132.6,93L133.8,92.5L135,92.6L136.2,92.7L137.4,92.8L138.6,92.8L139.8,92.9L141,92.9L141,93Z" fill="#ff8354" stroke="#fff" stroke-opacity="0.55" stroke-width="0.80" stroke-linejoin="round"/><path d="M39.5,97.8L39.5,97.8L50.2,97.8L51.4,97.7L52.6,97.7L53.8,97.7L55,97.6L56.2,97.5L57.4,97.4L58.6,97.3L59.8,97.1L61,96.9L62.2,96.6L63.4,96.2L64.6,95.7L65.8,95L67,94.2L68.2,93.2L69.4,92.2L70.5,91.1L71.7,90L72.9,88.9L74.1,88.1L75.3,87.3L76.5,86.8L77.7,86.3L78.9,86L80.1,85.7L81.3,85.5L82.5,85.4L83.7,85.4L84.9,85.7L86.1,86L87.3,86.5L88.5,87L89.7,87.6L90.8,88L92,88.5L93.2,89.1L94.4,89.8L95.6,90.5L96.8,91.3L98,92.1L99.2,92.9L100.4,93.6L101.6,94.3L102.8,94.9L104,95.5L105.2,95.9L106.4,96.3L107.6,96.6L108.8,96.9L110,97.1L111.1,97.3L112.3,97.4L113.5,97.5L114.7,97.6L115.9,97.7L117.1,97.7L118.3,97.7L119.5,97.8L133.8,97.8L135,97.3L136.2,97.4L137.4,97.5L138.6,97.6L139.8,97.6L141,97.7L141,97.8Z" fill="#ff8d5d" stroke="#fff" stroke-opacity="0.55" stroke-width="0.80" stroke-linejoin="round"/><path d="M39.5,98.7L39.5,98.7L50.2,98.7L51.4,98.6L52.6,98.6L53.8,98.6L55,98.5L56.2,98.4L57.4,98.3L58.6,98.2L59.8,98.1L61,97.9L62.2,97.6L63.4,97.4L64.6,97L65.8,96.6L67,96.1L68.2,95.6L69.4,95L70.5,94.4L71.7,93.7L72.9,92.9L74.1,92.2L75.3,91.4L76.5,90.7L77.7,90L78.9,89.3L80.1,88.7L81.3,88.3L82.5,88L83.7,87.9L84.9,88L86.1,88.2L87.3,88.5L88.5,88.9L89.7,89.2L90.8,89.6L92,90.1L93.2,90.7L94.4,91.4L95.6,92.1L96.8,92.8L98,93.5L99.2,94.3L100.4,94.9L101.6,95.5L102.8,96.1L104,96.6L105.2,97L106.4,97.3L107.6,97.6L108.8,97.9L110,98.1L111.1,98.2L112.3,98.3L113.5,98.4L114.7,98.5L115.9,98.6L117.1,98.6L118.3,98.6L119.5,98.7L135,98.7L136.2,98.3L137.4,98.4L138.6,98.4L139.8,98.5L141,98.5L141,98.7Z" fill="#ff8f5f" stroke="#fff" stroke-opacity="0.55" stroke-width="0.80" stroke-linejoin="round"/><path d="M39.5,101.8L39.5,101.8L49.1,101.8L50.2,101.7L51.4,101.7L52.6,101.7L53.8,101.6L55,101.6L56.2,101.5L57.4,101.4L58.6,101.3L59.8,101.1L61,100.9L62.2,100.7L63.4,100.5L64.6,100.2L65.8,99.9L67,99.6L68.2,99.2L69.4,98.7L70.5,98.1L71.7,97.4L72.9,96.7L74.1,95.9L75.3,95.1L76.5,94.3L77.7,93.6L78.9,92.8L80.1,92L81.3,91.3L82.5,90.7L83.7,90.1L84.9,89.7L86.1,89.5L87.3,89.4L88.5,89.6L89.7,89.8L90.8,90.3L92,90.8L93.2,91.4L94.4,92.2L95.6,92.9L96.8,93.8L98,94.6L99.2,95.4L100.4,96.2L101.6,96.9L102.8,97.6L104,98.3L105.2,98.9L106.4,99.4L107.6,99.8L108.8,100.2L110,100.5L111.1,100.8L112.3,101L113.5,101.2L114.7,101.3L115.9,101.5L117.1,101.5L118.3,101.6L119.5,101.7L120.7,101.7L121.9,101.7L123.1,101.8L135,101.8L136.2,101.3L137.4,101.4L138.6,101.5L139.8,101.6L141,101.6L141,101.8Z" fill="#ff9564" stroke="#fff" stroke-opacity="0.55" stroke-width="0.80" stroke-linejoin="round"/><path d="M39.5,102.7L39.5,102.7L47.9,102.7L49.1,102.6L50.2,102.6L51.4,102.6L52.6,102.5L53.8,102.5L55,102.4L56.2,102.3L57.4,102.2L58.6,102L59.8,101.8L61,101.6L62.2,101.3L63.4,100.9L64.6,100.4L65.8,99.7L67,98.8L68.2,97.8L69.4,97L70.5,96.4L71.7,96.1L72.9,95.6L74.1,95L75.3,94.3L76.5,93.5L77.7,92.7L78.9,92L80.1,91.4L81.3,90.9L82.5,90.5L83.7,90.3L84.9,90.2L86.1,90.3L87.3,90.6L88.5,91.1L89.7,91.7L90.8,92.3L92,93L93.2,93.6L94.4,94.1L95.6,94.7L96.8,95.2L98,95.8L99.2,96.5L100.4,97.2L101.6,97.9L102.8,98.6L104,99.2L105.2,99.8L106.4,100.4L107.6,100.8L108.8,101.2L110,101.5L111.1,101.8L112.3,102L113.5,102.2L114.7,102.3L115.9,102.4L117.1,102.5L118.3,102.5L119.5,102.6L120.7,102.6L121.9,102.6L123.1,102.7L131.4,102.7L132.6,102.3L133.8,102.4L135,102.4L136.2,102.5L137.4,102.5L138.6,102.6L139.8,102.6L141,102.6L141,102.7Z" fill="#ff9766" stroke="#fff" stroke-opacity="0.55" stroke-width="0.80" stroke-linejoin="round"/><path d="M39.5,103.6L39.5,103.6L45.5,103.6L46.7,103.5L47.9,103.5L49.1,103.5L50.2,103.5L51.4,103.4L52.6,103.3L53.8,103.2L55,103.1L56.2,103L57.4,102.8L58.6,102.6L59.8,102.3L61,102L62.2,101.6L63.4,101.2L64.6,100.7L65.8,100.2L67,99.6L68.2,99L69.4,98.4L70.5,97.8L71.7,97.1L72.9,96.5L74.1,95.8L75.3,95.1L76.5,94.4L77.7,93.6L78.9,92.8L80.1,91.9L81.3,91.1L82.5,90.4L83.7,89.8L84.9,89.4L86.1,89.3L87.3,89.4L88.5,89.8L89.7,90.5L90.8,91.4L92,92.5L93.2,93.6L94.4,94.6L95.6,95.6L96.8,96.6L98,97.4L99.2,98.2L100.4,99L101.6,99.7L102.8,100.3L104,100.8L105.2,101.3L106.4,101.7L107.6,102.1L108.8,102.4L110,102.7L111.1,102.9L112.3,103L113.5,103.2L114.7,103.3L115.9,103.4L117.1,103.4L118.3,103.5L119.5,103.5L120.7,103.5L121.9,103.6L133.8,103.6L135,103.2L136.2,103.3L137.4,103.3L138.6,103.4L139.8,103.4L141,103.5L141,103.6Z" fill="#ff9968" stroke="#fff" stroke-opacity="0.55" stroke-width="0.80" stroke-linejoin="round"/><path d="M39.5,104.5L39.5,104.5L47.9,104.5L49.1,104.4L50.2,104.4L51.4,104.4L52.6,104.4L53.8,104.3L55,104.2L56.2,104.2L57.4,104.1L58.6,103.9L59.8,103.7L61,103.5L62.2,103.3L63.4,103L64.6,102.6L65.8,102.2L67,101.7L68.2,101.2L69.4,100.6L70.5,99.9L71.7,99.2L72.9,98.4L74.1,97.6L75.3,96.7L76.5,95.9L77.7,95.1L78.9,94.3L80.1,93.5L81.3,92.9L82.5,92.3L83.7,91.8L84.9,91.5L86.1,91.3L87.3,91.2L88.5,91.3L89.7,91.5L90.8,91.8L92,92.3L93.2,92.9L94.4,93.5L95.6,94.2L96.8,95L98,95.8L99.2,96.5L100.4,97.3L101.6,98L102.8,98.8L104,99.6L105.2,100.4L106.4,101.1L107.6,101.7L108.8,102.3L110,102.7L111.1,103L112.3,103.3L113.5,103.6L114.7,103.8L115.9,103.9L117.1,104.1L118.3,104.2L119.5,104.3L120.7,104.3L121.9,104.4L123.1,104.4L124.3,104.4L125.5,104.5L135,104.5L136.2,104L137.4,104.1L138.6,104.2L139.8,104.3L141,104.3L141,104.5Z" fill="#ff9b69" stroke="#fff" stroke-opacity="0.55" stroke-width="0.80" stroke-linejoin="round"/><path d="M39.5,105.3L39.5,105.3L46.7,105.3L47.9,105.2L49.1,105.2L50.2,105.2L51.4,105.2L52.6,105.1L53.8,105L55,105L56.2,104.9L57.4,104.7L58.6,104.6L59.8,104.4L61,104.1L62.2,103.8L63.4,103.5L64.6,103.1L65.8,102.6L67,102.1L68.2,101.5L69.4,100.8L70.5,100.1L71.7,99.3L72.9,98.5L74.1,97.7L75.3,96.9L76.5,96L77.7,95.2L78.9,94.4L80.1,93.7L81.3,93.1L82.5,92.6L83.7,92.2L84.9,92L86.1,91.9L87.3,91.8L88.5,91.9L89.7,92.2L90.8,92.6L92,93.3L93.2,94L94.4,94.8L95.6,95.6L96.8,96.3L98,97.1L99.2,97.8L100.4,98.5L101.6,99.2L102.8,99.8L104,100.5L105.2,101.1L106.4,101.7L107.6,102.3L108.8,102.9L110,103.4L111.1,103.8L112.3,104.1L113.5,104.4L114.7,104.6L115.9,104.8L117.1,104.9L118.3,105L119.5,105.1L120.7,105.1L121.9,105.2L123.1,105.2L124.3,105.2L125.5,105.3L132.6,105.3L133.8,104.8L135,104.9L136.2,105L137.4,105.1L138.6,105.1L139.8,105.2L141,105.2L141,105.3Z" fill="#ff9c6b" stroke="#fff" stroke-opacity="0.55" stroke-width="0.80" stroke-linejoin="round"/><path d="M39.5,107.6L39.5,107.6L44.3,107.6L45.5,107.5L46.7,107.5L47.9,107.5L49.1,107.4L50.2,107.4L51.4,107.3L52.6,107.2L53.8,107.1L55,107L56.2,106.8L57.4,106.6L58.6,106.3L59.8,106L61,105.7L62.2,105.3L63.4,104.8L64.6,104.3L65.8,103.7L67,103.1L68.2,102.4L69.4,101.6L70.5,100.9L71.7,100.1L72.9,99.3L74.1,98.5L75.3,97.6L76.5,96.8L77.7,96L78.9,95.1L80.1,94.3L81.3,93.5L82.5,92.9L83.7,92.6L84.9,92.6L86.1,93L87.3,93.6L88.5,94.4L89.7,95.1L90.8,95.8L92,96.5L93.2,97.3L94.4,98.1L95.6,99L96.8,99.9L98,100.8L99.2,101.6L100.4,102.3L101.6,103L102.8,103.6L104,104.2L105.2,104.7L106.4,105.2L107.6,105.6L108.8,106L110,106.3L111.1,106.5L112.3,106.8L113.5,106.9L114.7,107.1L115.9,107.2L117.1,107.3L118.3,107.4L119.5,107.4L120.7,107.5L121.9,107.5L123.1,107.5L124.3,107.6L133.8,107.6L135,107.2L136.2,107.3L137.4,107.3L138.6,107.4L139.8,107.4L141,107.5L141,107.6Z" fill="#ffa16f" stroke="#fff" stroke-opacity="0.55" stroke-width="0.80" stroke-linejoin="round"/><path d="M23.5,109.4H148.5" stroke="#d8d8d8" stroke-width="0.7"/><path d="M23.50,109.4V111.6" stroke="#cfcfcf" stroke-width="0.7"/><path d="M39.12,109.4V111.6" stroke="#cfcfcf" stroke-width="0.7"/><path d="M54.75,109.4V111.6" stroke="#cfcfcf" stroke-width="0.7"/><path d="M70.38,109.4V111.6" stroke="#cfcfcf" stroke-width="0.7"/><path d="M86.00,109.4V111.6" stroke="#cfcfcf" stroke-width="0.7"/><path d="M101.62,109.4V111.6" stroke="#cfcfcf" stroke-width="0.7"/><path d="M117.25,109.4V111.6" stroke="#cfcfcf" stroke-width="0.7"/><path d="M132.88,109.4V111.6" stroke="#cfcfcf" stroke-width="0.7"/><path d="M148.50,109.4V111.6" stroke="#cfcfcf" stroke-width="0.7"/><text transform="translate(23.50,118.8) scale(0.87,1)" class="xl">-2.0</text><text transform="translate(54.75,118.8) scale(0.87,1)" class="xl">-1.0</text><text transform="translate(86.00,118.8) scale(0.87,1)" class="xl">0.0</text><text transform="translate(117.25,118.8) scale(0.87,1)" class="xl">1.0</text><text transform="translate(148.50,118.8) scale(0.87,1)" class="xl">2.0</text><path d="M148.5,74.32H151.3" stroke="#cfcfcf" stroke-width="0.7"/><path d="M148.5,80.94H151.3" stroke="#cfcfcf" stroke-width="0.7"/><path d="M148.5,87.57H151.3" stroke="#cfcfcf" stroke-width="0.7"/><path d="M148.5,94.19H151.3" stroke="#cfcfcf" stroke-width="0.7"/><path d="M148.5,100.81H151.3" stroke="#cfcfcf" stroke-width="0.7"/><path d="M148.5,107.43H151.3" stroke="#cfcfcf" stroke-width="0.7"/><text transform="translate(153.5,76.72) scale(0.87,1)" class="yl">20</text><text transform="translate(153.5,89.97) scale(0.87,1)" class="yl">60</text><text transform="translate(153.5,103.21) scale(0.87,1)" class="yl">100</text></svg><svg class="ic" viewBox="5 5 14 14" width="9" height="9"><path d="M7 14H5v5h5v-2H7v-3zm-2-4h2V7h3V5H5v5zm12 7h-3v2h5v-5h-2v3zM14 5v2h3v3h2V5h-5z" fill="#5f7b8b"/></svg></div><div class="cell" style="left:588.00px;top:282.67px"><div class="bar"></div><div class="ttl">layer3/weights</div><div class="dot">.</div><svg class="ch" width="196" height="141" viewBox="0 0 196 141"><rect x="23.5" y="68.60" width="125.0" height="2.70" fill="#000" fill-opacity="0.13"/><rect x="23.5" y="77.50" width="125.0" height="1.70" fill="#000" fill-opacity="0.13"/><rect x="23.5" y="80.10" width="125.0" height="2.20" fill="#000" fill-opacity="0.13"/><rect x="23.5" y="83.60" width="125.0" height="1.80" fill="#000" fill-opacity="0.13"/><rect x="23.5" y="90.70" width="125.0" height="3.10" fill="#000" fill-opacity="0.13"/><rect x="23.5" y="97.30" width="125.0" height="1.80" fill="#000" fill-opacity="0.13"/><rect x="23.5" y="101.30" width="125.0" height="4.40" fill="#000" fill-opacity="0.13"/><rect x="23.5" y="107.00" width="125.0" height="1.10" fill="#000" fill-opacity="0.13"/><path d="M25.5,69.1L25.5,69.1L27,66.9L28.5,60.1L30,53.1L31.5,46.4L33,41.4L34.5,39.1L35.9,38.8L37.4,37.8L38.9,36.9L40.4,36.2L41.9,35.6L43.4,35.6L44.9,35.7L46.4,35.8L47.9,37.5L49.4,39.7L50.9,39L52.4,37.6L53.9,36.9L55.4,37.2L56.8,37.4L58.3,37.8L59.8,38.2L61.3,37.7L62.8,36.2L64.3,34.3L65.8,35.1L67.3,36.5L68.8,37.2L70.3,37.6L71.8,37.8L73.3,36.8L74.8,35.6L76.3,35.9L77.7,36.7L79.2,37.6L80.7,38.5L82.2,39.2L83.7,39.4L85.2,39.6L86.7,39.4L88.2,38.7L89.7,38.1L91.2,39.3L92.7,40.6L94.2,40.5L95.7,38.6L97.2,36.7L98.6,36.4L100.1,36.2L101.6,36.6L103.1,37.4L104.6,38.1L106.1,37L107.6,35.7L109.1,35.1L110.6,34.6L112.1,34.5L113.6,35.8L115.1,37.3L116.6,37.5L118.1,39.5L119.5,45.4L121,51.9L122.5,58.2L124,63.6L125.5,68.8L127,69.1L127,69.1Z" fill="#ce451d" stroke="#fff" stroke-opacity="0.85" stroke-width="1.90" stroke-linejoin="round"/><path d="M25.5,70L25.5,70L27,67.8L28.5,60.8L30,53.7L31.5,46.6L33,41L34.5,37.9L35.9,37.3L37.4,36.4L38.9,35.7L40.4,35.5L41.9,35.2L43.4,34.7L44.9,34.4L46.4,34.9L47.9,36.9L49.4,39.5L50.9,39L52.4,37.7L53.9,36.8L55.4,36.4L56.8,36.1L58.3,36.3L59.8,36.6L61.3,36.4L62.8,35.3L64.3,34.2L65.8,35.4L67.3,36.5L68.8,37.2L70.3,37.6L71.8,37.5L73.3,35.5L74.8,33.8L76.3,34L77.7,35L79.2,36.3L80.7,37.7L82.2,39L83.7,39.2L85.2,38.8L86.7,38.2L88.2,37.3L89.7,36.9L91.2,38.5L92.7,40L94.2,40.1L95.7,38.6L97.2,37L98.6,36.3L100.1,35.4L101.6,35.7L103.1,36.7L104.6,37.5L106.1,36.6L107.6,35.3L109.1,34.5L110.6,34.1L112.1,34L113.6,34.9L115.1,35.7L116.6,35.8L118.1,37.8L119.5,44.6L121,51.9L122.5,58.3L124,64L125.5,69.6L127,70L127,70Z" fill="#d24820" stroke="#fff" stroke-opacity="0.85" stroke-width="1.90" stroke-linejoin="round"/><path d="M25.5,70.9L25.5,70.9L27,68.7L28.5,61.8L30,54.6L31.5,47.5L33,41.9L34.5,39.1L35.9,38.9L37.4,38.3L38.9,37.7L40.4,37.2L41.9,36.6L43.4,36.2L44.9,36L46.4,36.3L47.9,38.1L49.4,40.1L50.9,39.4L52.4,38.4L53.9,37.9L55.4,38.1L56.8,37.9L58.3,37.6L59.8,37.7L61.3,38L62.8,36.9L64.3,35L65.8,35.8L67.3,37.2L68.8,37.9L70.3,38.3L71.8,38.2L73.3,36.5L74.8,35L76.3,35.5L77.7,36.8L79.2,38.3L80.7,39.1L82.2,39.2L83.7,39.2L85.2,39.7L86.7,39.4L88.2,38.4L89.7,37.8L91.2,39L92.7,40.6L94.2,41.1L95.7,39.9L97.2,38.4L98.6,38.1L100.1,37.8L101.6,37.7L103.1,37.8L104.6,38.2L106.1,37L107.6,36.3L109.1,36.3L110.6,36.2L112.1,36.4L113.6,37.3L115.1,38.1L116.6,37.6L118.1,38.9L119.5,45.5L121,52.6L122.5,59.1L124,64.8L125.5,70.5L127,70.9L127,70.9Z" fill="#d54b23" stroke="#fff" stroke-opacity="0.85" stroke-width="1.90" stroke-linejoin="round"/><path d="M25.5,74.3L25.5,74.3L27,72.2L28.5,65.6L30,58.4L31.5,51.5L33,46.2L34.5,42.8L35.9,42.9L37.4,42.1L38.9,41.2L40.4,40.4L41.9,39.6L43.4,39.4L44.9,39.3L46.4,39.7L47.9,41.6L49.4,43.7L50.9,42.9L52.4,41.9L53.9,41.3L55.4,41.5L56.8,41.7L58.3,41.9L59.8,42.1L61.3,41.7L62.8,40.5L64.3,39.4L65.8,40.5L67.3,41.4L68.8,42L70.3,42.5L71.8,42.3L73.3,40.3L74.8,38.7L76.3,39.2L77.7,40.2L79.2,41.1L80.7,42L82.2,42.8L83.7,43.1L85.2,43.4L86.7,43.5L88.2,43.1L89.7,42.7L91.2,43.7L92.7,44.8L94.2,44.4L95.7,42.8L97.2,41.3L98.6,41L100.1,40.7L101.6,41.1L103.1,41.9L104.6,42.1L106.1,40.4L107.6,39.8L109.1,40L110.6,39.6L112.1,39.3L113.6,40.3L115.1,41.4L116.6,41.4L118.1,42.6L119.5,48.8L121,55.6L122.5,62.4L124,68.1L125.5,73.6L127,74.3L127,74.3Z" fill="#e1562c" stroke="#fff" stroke-opacity="0.85" stroke-width="1.90" stroke-linejoin="round"/><path d="M25.5,78L25.5,78L27,76L28.5,69.4L30,62.4L31.5,55.7L33,50.5L34.5,45.7L35.9,45.4L37.4,44.9L38.9,44.4L40.4,43.3L41.9,42.4L43.4,42.9L44.9,43.4L46.4,43.8L47.9,45.5L49.4,47L50.9,45.9L52.4,44.8L53.9,44.2L55.4,44.1L56.8,44.1L58.3,44.8L59.8,45.2L61.3,44.2L62.8,42.9L64.3,42.5L65.8,44L67.3,44.7L68.8,45.2L70.3,45.8L71.8,46L73.3,44.6L74.8,42.9L76.3,42.5L77.7,43.3L79.2,44.6L80.7,45.5L82.2,46.1L83.7,46.4L85.2,46.8L86.7,46.6L88.2,45.6L89.7,44.9L91.2,45.8L92.7,47.1L94.2,47.3L95.7,46.1L97.2,44.9L98.6,44.4L100.1,43.7L101.6,43.7L103.1,44.3L104.6,44.9L106.1,43.9L107.6,43L109.1,42.8L110.6,42.7L112.1,42.8L113.6,44.1L115.1,45.4L116.6,44.9L118.1,44.8L119.5,51.8L121,59.3L122.5,65.8L124,71.5L125.5,77L127,78L127,78Z" fill="#ec6035" stroke="#fff" stroke-opacity="0.85" stroke-width="1.90" stroke-linejoin="round"/><path d="M25.5,78.8L25.5,78.8L27,76.9L28.5,70.8L30,64.4L31.5,57.8L33,52.5L34.5,48.8L35.9,49.1L37.4,48.1L38.9,47L40.4,46L41.9,45L43.4,44.4L44.9,44.1L46.4,44.7L47.9,46.8L49.4,49.1L50.9,48.6L52.4,47.7L53.9,47.1L55.4,46.5L56.8,46.1L58.3,46.3L59.8,46.5L61.3,46.1L62.8,45L64.3,44.2L65.8,45.7L67.3,47.1L68.8,47.7L70.3,47.7L71.8,47.5L73.3,45.9L74.8,44.3L76.3,44.4L77.7,45.4L79.2,46.7L80.7,47.9L82.2,48.8L83.7,49L85.2,49.2L86.7,48.9L88.2,48.2L89.7,47.6L91.2,48.7L92.7,50.1L94.2,50.2L95.7,48.6L97.2,47L98.6,46.3L100.1,45.5L101.6,46.2L103.1,47.7L104.6,48.4L106.1,47.2L107.6,46L109.1,45.4L110.6,44.8L112.1,44.4L113.6,45.7L115.1,47.3L116.6,46.9L118.1,46.8L119.5,53.1L121,60.1L122.5,66.6L124,72.3L125.5,77.8L127,78.8L127,78.8Z" fill="#ef6236" stroke="#fff" stroke-opacity="0.85" stroke-width="1.90" stroke-linejoin="round"/><path d="M25.5,80.6L25.5,80.6L27,78.7L28.5,72.6L30,66.2L31.5,59.7L33,54.5L34.5,49.8L35.9,49.4L37.4,48.9L38.9,48.4L40.4,48L41.9,47.5L43.4,47.4L44.9,47.4L46.4,47.7L47.9,49.4L49.4,51.2L50.9,50.3L52.4,49.3L53.9,48.6L55.4,48.2L56.8,48L58.3,48.4L59.8,48.9L61.3,48.4L62.8,47.1L64.3,45.8L65.8,47L67.3,48.7L68.8,49.5L70.3,49.4L71.8,49.3L73.3,48.2L74.8,47L76.3,47.3L77.7,48.2L79.2,49.3L80.7,49.9L82.2,50.3L83.7,50.1L85.2,49.9L86.7,50.2L88.2,50.4L89.7,49.8L91.2,50.3L92.7,51.7L94.2,52.2L95.7,50.6L97.2,48.8L98.6,48.4L100.1,48.2L101.6,48.2L103.1,48.5L104.6,49.3L106.1,48.5L107.6,47.4L109.1,46.8L110.6,46.7L112.1,46.9L113.6,48L115.1,49.2L116.6,49.1L118.1,49.2L119.5,55.6L121,62.6L122.5,68.9L124,74.3L125.5,79.5L127,80.6L127,80.6Z" fill="#f4663a" stroke="#fff" stroke-opacity="0.85" stroke-width="1.90" stroke-linejoin="round"/><path d="M25.5,81.6L25.5,81.6L27,79.6L28.5,73.5L30,67.5L31.5,61.1L33,55.9L34.5,51.5L35.9,51L37.4,50.1L38.9,49.1L40.4,47.8L41.9,46.6L43.4,46.6L44.9,46.8L46.4,47.9L47.9,50.3L49.4,52.3L50.9,51.3L52.4,49.4L53.9,48.4L55.4,48.9L56.8,49.3L58.3,49.7L59.8,50L61.3,49.5L62.8,48.2L64.3,47.1L65.8,48.2L67.3,49.2L68.8,49.7L70.3,50.2L71.8,50.2L73.3,48.6L74.8,47.3L76.3,48L77.7,48.9L79.2,49.3L80.7,50L82.2,50.9L83.7,51.2L85.2,51.4L86.7,51L88.2,50L89.7,49.2L91.2,50.3L92.7,51.6L94.2,51.8L95.7,50.5L97.2,49.2L98.6,49.1L100.1,48.9L101.6,49L103.1,49.5L104.6,50.2L106.1,49.3L107.6,48.3L109.1,47.9L110.6,47.4L112.1,47.2L113.6,48.4L115.1,49.7L116.6,49.4L118.1,48.9L119.5,55.3L121,62.4L122.5,69.3L124,75L125.5,80.4L127,81.6L127,81.6Z" fill="#f7693d" stroke="#fff" stroke-opacity="0.85" stroke-width="1.90" stroke-linejoin="round"/><path d="M25.5,84.1L25.5,84.1L27,82.2L28.5,76.4L30,70.5L31.5,64.3L33,59.2L34.5,55.2L35.9,54.3L37.4,52.7L38.9,51.4L40.4,51.4L41.9,51.3L43.4,50.6L44.9,50.3L46.4,51.5L47.9,53.8L49.4,55.3L50.9,54.1L52.4,52.7L53.9,51.8L55.4,51.7L56.8,51.8L58.3,52.2L59.8,52.7L61.3,52.4L62.8,51.3L64.3,50.3L65.8,51.5L67.3,52.5L68.8,53L70.3,53.2L71.8,53.2L73.3,51.8L74.8,50.4L76.3,50.5L77.7,51.3L79.2,52.2L80.7,53L82.2,53.8L83.7,54L85.2,54.2L86.7,54L88.2,53.3L89.7,52.7L91.2,54L92.7,55.5L94.2,55.7L95.7,54L97.2,52.1L98.6,51.9L100.1,51.9L101.6,52.1L103.1,52.5L104.6,53L106.1,51.8L107.6,50.6L109.1,50L110.6,49.8L112.1,49.9L113.6,51.1L115.1,52.3L116.6,52.4L118.1,52.2L119.5,58.6L121,65.7L122.5,71.9L124,77.3L125.5,82.7L127,84.1L127,84.1Z" fill="#fd6f42" stroke="#fff" stroke-opacity="0.85" stroke-width="1.90" stroke-linejoin="round"/><path d="M25.5,85L25.5,85L27,83.1L28.5,77.4L30,71.8L31.5,65.9L33,61.4L34.5,57.4L35.9,56L37.4,54.6L38.9,53.2L40.4,52.3L41.9,51.5L43.4,51.8L44.9,52.1L46.4,52.2L47.9,54L49.4,56.7L50.9,56.3L52.4,54.9L53.9,54L55.4,53.8L56.8,53.6L58.3,53.7L59.8,54L61.3,53.7L62.8,52.5L64.3,51.2L65.8,52.4L67.3,53.9L68.8,54.7L70.3,54.9L71.8,54.8L73.3,53.3L74.8,52.1L76.3,52.8L77.7,53.8L79.2,54.5L80.7,55.3L82.2,56L83.7,56L85.2,55.7L86.7,55.6L88.2,55.5L89.7,55.1L91.2,56.2L92.7,57L94.2,56.2L95.7,54.6L97.2,53.4L98.6,53.3L100.1,53.2L101.6,53.3L103.1,53.9L104.6,54.4L106.1,53.3L107.6,52.1L109.1,51.5L110.6,51.4L112.1,51.7L113.6,52.7L115.1,53.7L116.6,54.1L118.1,54.2L119.5,59.9L121,66.6L122.5,72.9L124,78.3L125.5,83.6L127,85L127,85Z" fill="#ff7144" stroke="#fff" stroke-opacity="0.85" stroke-width="1.90" stroke-linejoin="round"/><path d="M25.5,91.2L25.5,91.2L27,89.4L28.5,83.8L30,77.9L31.5,72.1L33,67.6L34.5,63.7L35.9,61L37.4,59.2L38.9,57.6L40.4,57.2L41.9,56.9L43.4,57.2L44.9,57.4L46.4,57.6L47.9,59.3L49.4,61.6L50.9,61L52.4,59.4L53.9,58.3L55.4,58L56.8,57.8L58.3,58.1L59.8,58.6L61.3,58.6L62.8,57.5L64.3,56L65.8,57.1L67.3,58.6L68.8,59.5L70.3,60.1L71.8,60.2L73.3,58.5L74.8,56.8L76.3,56.7L77.7,57.3L79.2,58.2L80.7,59.2L82.2,60.2L83.7,60.2L85.2,60L86.7,60L88.2,60L89.7,59.5L91.2,60.3L92.7,61.4L94.2,61.2L95.7,59.5L97.2,57.9L98.6,57.6L100.1,57.3L101.6,57.7L103.1,58.5L104.6,59.5L106.1,58.8L107.6,57.7L109.1,57.1L110.6,56.7L112.1,56.6L113.6,58L115.1,59.5L116.6,59.3L118.1,58.8L119.5,64L121,71.2L122.5,77.9L124,83.7L125.5,89.2L127,91.2L127,91.2Z" fill="#ff7f50" stroke="#fff" stroke-opacity="0.85" stroke-width="1.90" stroke-linejoin="round"/><path d="M25.5,92.1L25.5,92.1L27,90.3L28.5,84.8L30,79.1L31.5,73.7L33,69.6L34.5,65.4L35.9,62.3L37.4,61.8L38.9,61.3L40.4,60.5L41.9,59.8L43.4,59.6L44.9,59.5L46.4,59.7L47.9,61.4L49.4,63.4L50.9,62.6L52.4,61.1L53.9,60.2L55.4,60.5L56.8,60.6L58.3,60.9L59.8,61.1L61.3,60.5L62.8,59.2L64.3,58.4L65.8,59.9L67.3,61.4L68.8,62.2L70.3,62.5L71.8,62.2L73.3,60.2L74.8,58.5L76.3,58.8L77.7,59.7L79.2,60.7L80.7,61.6L82.2,62.3L83.7,62.3L85.2,62.5L86.7,62.5L88.2,62.4L89.7,62.1L91.2,63.4L92.7,64.6L94.2,64.3L95.7,62.3L97.2,60.4L98.6,59.9L100.1,59.6L101.6,60.5L103.1,62.2L104.6,63L106.1,61.8L107.6,60.3L109.1,59.4L110.6,58.8L112.1,58.4L113.6,59.4L115.1,60.5L116.6,60.4L118.1,60.1L119.5,65.7L121,73.2L122.5,79.5L124,84.9L125.5,90.1L127,92.1L127,92.1Z" fill="#ff8152" stroke="#fff" stroke-opacity="0.85" stroke-width="1.90" stroke-linejoin="round"/><path d="M25.5,93L25.5,93L27,91.3L28.5,86L30,80.4L31.5,74.5L33,69.9L34.5,66L35.9,63.1L37.4,61.9L38.9,60.9L40.4,60.8L41.9,60.5L43.4,60.1L44.9,59.7L46.4,60L47.9,61.8L49.4,64.6L50.9,64.3L52.4,62.7L53.9,61.7L55.4,61.3L56.8,61.2L58.3,62.3L59.8,62.9L61.3,61.9L62.8,60.2L64.3,59.1L65.8,60.5L67.3,62.2L68.8,62.8L70.3,62.3L71.8,62L73.3,60.8L74.8,59.8L76.3,60.6L77.7,61.4L79.2,61.5L80.7,62.1L82.2,63.1L83.7,63.5L85.2,63.9L86.7,64.1L88.2,63.9L89.7,63.2L91.2,63.6L92.7,64.7L94.2,64.8L95.7,63.2L97.2,61.5L98.6,61.6L100.1,61.8L101.6,62.1L103.1,62.6L104.6,62.8L106.1,61.4L107.6,60.2L109.1,59.7L110.6,59.9L112.1,60.5L113.6,61.5L115.1,62.4L116.6,62.2L118.1,61.8L119.5,66.6L121,73.6L122.5,79.9L124,85.3L125.5,90.9L127,93L127,93Z" fill="#ff8354" stroke="#fff" stroke-opacity="0.85" stroke-width="1.90" stroke-linejoin="round"/><path d="M25.5,97.8L25.5,97.8L27,96.1L28.5,90.8L30,85.4L31.5,79.7L33,75.1L34.5,71.1L35.9,67.1L37.4,66L38.9,65.2L40.4,65.2L41.9,65.1L43.4,65L44.9,64.9L46.4,64.9L47.9,66.4L49.4,68.7L50.9,68L52.4,66.4L53.9,65.6L55.4,66L56.8,66.3L58.3,66.7L59.8,66.9L61.3,66.1L62.8,64.7L64.3,64L65.8,65.3L67.3,66.4L68.8,67L70.3,67.3L71.8,67.2L73.3,65.6L74.8,64.3L76.3,65.1L77.7,66.1L79.2,66.6L80.7,67.3L82.2,68.1L83.7,68.1L85.2,68L86.7,67.7L88.2,66.9L89.7,66.6L91.2,68.2L92.7,69.3L94.2,68.7L95.7,67.1L97.2,65.8L98.6,65.7L100.1,65.7L101.6,66L103.1,66.7L104.6,67.4L106.1,66.4L107.6,65.1L109.1,64.3L110.6,64.5L112.1,65.1L113.6,65.6L115.1,65.8L116.6,66.1L118.1,66.2L119.5,70.7L121,78L122.5,84.5L124,90L125.5,95.4L127,97.8L127,97.8Z" fill="#ff8d5d" stroke="#fff" stroke-opacity="0.85" stroke-width="1.90" stroke-linejoin="round"/><path d="M25.5,98.7L25.5,98.7L27,97L28.5,91.6L30,86.3L31.5,80.8L33,76.4L34.5,72.1L35.9,67.5L37.4,66.5L38.9,65.6L40.4,64.9L41.9,64.3L43.4,64.8L44.9,65.4L46.4,66L47.9,67.9L49.4,69.4L50.9,68.2L52.4,67.2L53.9,66.8L55.4,67.1L56.8,67.3L58.3,67.7L59.8,67.9L61.3,67.2L62.8,65.8L64.3,64.7L65.8,65.8L67.3,66.7L68.8,67L70.3,66.9L71.8,67L73.3,66.4L74.8,65.1L76.3,64.8L77.7,65.4L79.2,66.5L80.7,67.4L82.2,68.1L83.7,68L85.2,67.9L86.7,67.7L88.2,67.2L89.7,67.2L91.2,69L92.7,70.1L94.2,69.5L95.7,67.7L97.2,66.2L98.6,66.1L100.1,66.1L101.6,66.8L103.1,68L104.6,68.1L106.1,66.3L107.6,65.1L109.1,64.7L110.6,64.4L112.1,64.3L113.6,65.3L115.1,66.4L116.6,66.3L118.1,66L119.5,70.6L121,78.4L122.5,84.7L124,90.2L125.5,96L127,98.7L127,98.7Z" fill="#ff8f5f" stroke="#fff" stroke-opacity="0.85" stroke-width="1.90" stroke-linejoin="round"/><path d="M25.5,101.8L25.5,101.8L27,100.2L28.5,95L30,89.8L31.5,84.3L33,79.9L34.5,76L35.9,71.2L37.4,70.5L38.9,69.8L40.4,68.8L41.9,67.9L43.4,67.5L44.9,67.4L46.4,68.5L47.9,70.8L49.4,72.3L50.9,71.3L52.4,70.7L53.9,70.4L55.4,70L56.8,69.8L58.3,69.9L59.8,70.2L61.3,70L62.8,69.1L64.3,68L65.8,69.3L67.3,70.6L68.8,71.1L70.3,71.3L71.8,71.2L73.3,69.8L74.8,68.4L76.3,68.6L77.7,69.5L79.2,70.5L80.7,71.4L82.2,72L83.7,72.2L85.2,72.5L86.7,72.4L88.2,71.8L89.7,71.2L91.2,72.1L92.7,73L94.2,72.5L95.7,71.2L97.2,70.3L98.6,70.2L100.1,69.9L101.6,69.9L103.1,70.2L104.6,70.8L106.1,69.8L107.6,69L109.1,68.9L110.6,68.1L112.1,67.4L113.6,68.9L115.1,70.7L116.6,70.4L118.1,69.6L119.5,73.5L121,81.1L122.5,87.5L124,93.2L125.5,98.9L127,101.8L127,101.8Z" fill="#ff9564" stroke="#fff" stroke-opacity="0.85" stroke-width="1.90" stroke-linejoin="round"/><path d="M25.5,102.7L25.5,102.7L27,101.1L28.5,96L30,90.8L31.5,85.3L33,81L34.5,77.3L35.9,72.5L37.4,71.3L38.9,70.3L40.4,70.2L41.9,70L43.4,69.8L44.9,69.8L46.4,70.4L47.9,72.3L49.4,73.6L50.9,72.3L52.4,71.6L53.9,71.2L55.4,70.8L56.8,70.6L58.3,71.1L59.8,71.5L61.3,70.5L62.8,69L64.3,68.2L65.8,69.5L67.3,70.6L68.8,71.3L70.3,72.3L71.8,72.3L73.3,70.2L74.8,68.6L76.3,69.3L77.7,70.6L79.2,71.7L80.7,72.4L82.2,72.6L83.7,72.7L85.2,73.3L86.7,73.1L88.2,72.2L89.7,71.9L91.2,73.6L92.7,74.8L94.2,74.3L95.7,72.6L97.2,71.1L98.6,70.7L100.1,70.4L101.6,70.5L103.1,71L104.6,71.9L106.1,71.2L107.6,69.7L109.1,68.6L110.6,68.8L112.1,69.6L113.6,70.1L115.1,70.4L116.6,70.8L118.1,71L119.5,74.2L121,81.4L122.5,88.1L124,93.9L125.5,99.7L127,102.7L127,102.7Z" fill="#ff9766" stroke="#fff" stroke-opacity="0.85" stroke-width="1.90" stroke-linejoin="round"/><path d="M25.5,103.6L25.5,103.6L27,102.1L28.5,97.3L30,92.1L31.5,87L33,82.9L34.5,79.4L35.9,74.8L37.4,73.7L38.9,72.8L40.4,72.3L41.9,71.6L43.4,71.1L44.9,70.9L46.4,72.2L47.9,74.6L49.4,76L50.9,74.7L52.4,73.5L53.9,73L55.4,73.7L56.8,74.1L58.3,74.1L59.8,74.3L61.3,73.8L62.8,72.6L64.3,71.8L65.8,72.9L67.3,73.5L68.8,73.7L70.3,73.9L71.8,73.9L73.3,72.6L74.8,71.6L76.3,72.5L77.7,73.4L79.2,73.6L80.7,74.1L82.2,74.9L83.7,75.1L85.2,75.2L86.7,75L88.2,74.3L89.7,73.7L91.2,74.7L92.7,76.1L94.2,76.2L95.7,74.7L97.2,73.2L98.6,73.1L100.1,73.2L101.6,73.3L103.1,73.8L104.6,74.5L106.1,73.8L107.6,72.8L109.1,72.3L110.6,72L112.1,72L113.6,73.1L115.1,74.1L116.6,74.3L118.1,74.2L119.5,77.2L121,84L122.5,90.3L124,95.6L125.5,100.8L127,103.6L127,103.6Z" fill="#ff9968" stroke="#fff" stroke-opacity="0.85" stroke-width="1.90" stroke-linejoin="round"/><path d="M25.5,104.5L25.5,104.5L27,102.9L28.5,97.8L30,92.5L31.5,87.1L33,82.9L34.5,79.8L35.9,75.6L37.4,73.9L38.9,72.5L40.4,71.8L41.9,71.2L43.4,71.4L44.9,71.5L46.4,71.4L47.9,72.9L49.4,75L50.9,74.3L52.4,73.3L53.9,72.7L55.4,72.8L56.8,72.8L58.3,72.9L59.8,73.2L61.3,73.4L62.8,72.3L64.3,70.5L65.8,71.4L67.3,72.9L68.8,73.8L70.3,74.2L71.8,74.3L73.3,72.9L74.8,71.4L76.3,71.4L77.7,72.4L79.2,73.6L80.7,74.4L82.2,74.7L83.7,74.7L85.2,75.1L86.7,74.8L88.2,73.8L89.7,73.1L91.2,74.1L92.7,75.5L94.2,75.5L95.7,74.4L97.2,73.5L98.6,73.3L100.1,72.8L101.6,72.9L103.1,73.4L104.6,73.7L106.1,72.2L107.6,71.2L109.1,71L110.6,71L112.1,71.3L113.6,72.1L115.1,72.7L116.6,72.8L118.1,72.8L119.5,75.9L121,83.2L122.5,90.1L124,95.9L125.5,101.4L127,104.5L127,104.5Z" fill="#ff9b69" stroke="#fff" stroke-opacity="0.85" stroke-width="1.90" stroke-linejoin="round"/><path d="M25.5,105.3L25.5,105.3L27,103.8L28.5,99.1L30,94.3L31.5,89.2L33,85.3L34.5,82L35.9,77.6L37.4,75.6L38.9,74.2L40.4,74.2L41.9,74.1L43.4,73.6L44.9,73.4L46.4,74.5L47.9,76.8L49.4,78.5L50.9,77.4L52.4,75.8L53.9,74.9L55.4,75.1L56.8,75.3L58.3,75.4L59.8,75.7L61.3,75.2L62.8,74L64.3,72.9L65.8,74.2L67.3,75.7L68.8,76.3L70.3,75.9L71.8,75.6L73.3,74.5L74.8,73.5L76.3,74.3L77.7,75.1L79.2,75.2L80.7,76.1L82.2,77.6L83.7,77.9L85.2,77.7L86.7,77.2L88.2,76.5L89.7,75.8L91.2,76.7L92.7,78.2L94.2,78.8L95.7,77.4L97.2,75.8L98.6,75.2L100.1,74.7L101.6,74.9L103.1,75.6L104.6,76.3L106.1,75.3L107.6,74L109.1,73.3L110.6,72.8L112.1,72.6L113.6,74.3L115.1,76.2L116.6,76L118.1,75.3L119.5,77.9L121,84.7L122.5,91.3L124,96.9L125.5,102.3L127,105.3L127,105.3Z" fill="#ff9c6b" stroke="#fff" stroke-opacity="0.85" stroke-width="1.90" stroke-linejoin="round"/><path d="M25.5,107.6L25.5,107.6L27,106.1L28.5,101.2L30,96.3L31.5,91.4L33,87.7L34.5,84.6L35.9,80.4L37.4,78.1L38.9,76.7L40.4,76.5L41.9,76.2L43.4,76.2L44.9,76.3L46.4,76.9L47.9,78.9L49.4,80.6L50.9,79.5L52.4,78.2L53.9,77.4L55.4,77.3L56.8,77.3L58.3,77.7L59.8,78.1L61.3,77.5L62.8,76.2L64.3,74.9L65.8,76.3L67.3,77.9L68.8,78.5L70.3,78.2L71.8,77.8L73.3,76.6L74.8,75.2L76.3,75.3L77.7,76.2L79.2,77.3L80.7,78.4L82.2,79.3L83.7,79.3L85.2,79L86.7,78.8L88.2,78.4L89.7,78.2L91.2,79.7L92.7,80.7L94.2,80L95.7,78.7L97.2,77.8L98.6,77.6L100.1,77.2L101.6,77.1L103.1,77.5L104.6,78.2L106.1,77.4L107.6,76.5L109.1,76.3L110.6,75.5L112.1,74.9L113.6,76.1L115.1,77.4L116.6,77.8L118.1,78L119.5,80.3L121,87.2L122.5,93.7L124,99.2L125.5,104.5L127,107.6L127,107.6Z" fill="#ffa16f" stroke="#fff" stroke-opacity="0.85" stroke-width="1.90" stroke-linejoin="round"/><path d="M23.5,109.4H148.5" stroke="#d8d8d8" stroke-width="0.7"/><path d="M23.50,109.4V111.6" stroke="#cfcfcf" stroke-width="0.7"/><path d="M33.92,109.4V111.6" stroke="#cfcfcf" stroke-width="0.7"/><path d="M44.33,109.4V111.6" stroke="#cfcfcf" stroke-width="0.7"/><path d="M54.75,109.4V111.6" stroke="#cfcfcf" stroke-width="0.7"/><path d="M65.17,109.4V111.6" stroke="#cfcfcf" stroke-width="0.7"/><path d="M75.58,109.4V111.6" stroke="#cfcfcf" stroke-width="0.7"/><path d="M86.00,109.4V111.6" stroke="#cfcfcf" stroke-width="0.7"/><path d="M96.42,109.4V111.6" stroke="#cfcfcf" stroke-width="0.7"/><path d="M106.83,109.4V111.6" stroke="#cfcfcf" stroke-width="0.7"/><path d="M117.25,109.4V111.6" stroke="#cfcfcf" stroke-width="0.7"/><path d="M127.67,109.4V111.6" stroke="#cfcfcf" stroke-width="0.7"/><path d="M138.08,109.4V111.6" stroke="#cfcfcf" stroke-width="0.7"/><path d="M148.50,109.4V111.6" stroke="#cfcfcf" stroke-width="0.7"/><text transform="translate(23.50,118.8) scale(0.87,1)" class="xl">-0.25</text><text transform="translate(44.33,118.8) scale(0.87,1)" class="xl">-0.15</text><text transform="translate(65.17,118.8) scale(0.87,1)" class="xl">-0.05</text><text transform="translate(86.00,118.8) scale(0.87,1)" class="xl">0.05</text><text transform="translate(106.83,118.8) scale(0.87,1)" class="xl">0.15</text><text transform="translate(127.67,118.8) scale(0.87,1)" class="xl">0.25</text><text transform="translate(148.50,118.8) scale(0.87,1)" class="xl">0.35</text><path d="M148.5,74.32H151.3" stroke="#cfcfcf" stroke-width="0.7"/><path d="M148.5,80.94H151.3" stroke="#cfcfcf" stroke-width="0.7"/><path d="M148.5,87.57H151.3" stroke="#cfcfcf" stroke-width="0.7"/><path d="M148.5,94.19H151.3" stroke="#cfcfcf" stroke-width="0.7"/><path d="M148.5,100.81H151.3" stroke="#cfcfcf" stroke-width="0.7"/><path d="M148.5,107.43H151.3" stroke="#cfcfcf" stroke-width="0.7"/><text transform="translate(153.5,76.72) scale(0.87,1)" class="yl">20</text><text transform="translate(153.5,89.97) scale(0.87,1)" class="yl">60</text><text transform="translate(153.5,103.21) scale(0.87,1)" class="yl">100</text></svg><svg class="ic" viewBox="5 5 14 14" width="9" height="9"><path d="M7 14H5v5h5v-2H7v-3zm-2-4h2V7h3V5H5v5zm12 7h-3v2h5v-5h-2v3zM14 5v2h3v3h2V5h-5z" fill="#5f7b8b"/></svg></div><div class="cell" style="left:0.00px;top:424.00px"><div class="bar"></div><div class="ttl">layer4/Qpred</div><div class="dot">.</div><svg class="ch" width="196" height="141" viewBox="0 0 196 141"><rect x="23.5" y="68.60" width="125.0" height="2.70" fill="#000" fill-opacity="0.13"/><rect x="23.5" y="77.50" width="125.0" height="1.70" fill="#000" fill-opacity="0.13"/><rect x="23.5" y="80.10" width="125.0" height="2.20" fill="#000" fill-opacity="0.13"/><rect x="23.5" y="83.60" width="125.0" height="1.80" fill="#000" fill-opacity="0.13"/><rect x="23.5" y="90.70" width="125.0" height="3.10" fill="#000" fill-opacity="0.13"/><rect x="23.5" y="97.30" width="125.0" height="1.80" fill="#000" fill-opacity="0.13"/><rect x="23.5" y="101.30" width="125.0" height="4.40" fill="#000" fill-opacity="0.13"/><rect x="23.5" y="107.00" width="125.0" height="1.10" fill="#000" fill-opacity="0.13"/><path d="M24,69.1L24,69.1L34,69.1L35,68.9L36,68.3L37,67.7L38,67.1L39,66.4L40,65.7L41,65L42,64.3L43,63.5L44,62.3L45,61.1L46,59.8L47,58.5L48,58.3L49,59.7L50,61.1L51,62L52,62.9L53,63.3L54,63L55,62.7L56,62.4L57,62.1L58,61.9L59,61.8L60,61.6L61,61.4L62,61.3L63,61.4L64,61.6L65,61.8L66,62.2L67,62.5L68,62.8L69,62.9L70,62.8L71,62.6L72,62L73,61.4L74,60.8L75,61.2L76,62.1L77,63.1L78,63.9L79,64.6L80,65.4L81,65.7L82,66.1L83,66.4L84,66.8L85,67.1L86,67.4L87,67.8L88,68.1L89,68.2L90,68.4L91,68.5L92,68.7L93,68.8L94,69L95,69.1L137,69.1L137,69.1Z" fill="#ce451d" stroke="#fff" stroke-opacity="0.55" stroke-width="0.80" stroke-linejoin="round"/><path d="M24,70L24,70L34,70L35,69.8L36,69.2L37,68.6L38,68L39,67.3L40,66.6L41,65.9L42,65.2L43,64.4L44,63.2L45,62L46,60.7L47,59.4L48,59.2L49,60.6L50,62L51,62.9L52,63.8L53,64.2L54,63.9L55,63.6L56,63.3L57,63L58,62.8L59,62.7L60,62.5L61,62.3L62,62.2L63,62.3L64,62.5L65,62.8L66,63.1L67,63.4L68,63.7L69,63.8L70,63.7L71,63.5L72,62.9L73,62.3L74,61.7L75,62.1L76,63L77,64L78,64.8L79,65.5L80,66.3L81,66.6L82,67L83,67.3L84,67.7L85,68L86,68.3L87,68.7L88,69L89,69.1L90,69.3L91,69.4L92,69.6L93,69.7L94,69.9L95,70L137,70L137,70Z" fill="#d24820" stroke="#fff" stroke-opacity="0.55" stroke-width="0.80" stroke-linejoin="round"/><path d="M24,70.9L24,70.9L34,70.9L35,70.7L36,70.1L37,69.5L38,68.9L39,68.2L40,67.5L41,66.8L42,66.1L43,65.3L44,64.1L45,62.9L46,61.6L47,60.3L48,60.1L49,61.5L50,62.9L51,63.8L52,64.7L53,65.1L54,64.8L55,64.5L56,64.2L57,63.9L58,63.7L59,63.6L60,63.4L61,63.2L62,63.1L63,63.2L64,63.4L65,63.7L66,64L67,64.3L68,64.6L69,64.7L70,64.6L71,64.4L72,63.8L73,63.2L74,62.6L75,63L76,63.9L77,64.9L78,65.7L79,66.4L80,67.2L81,67.5L82,67.9L83,68.2L84,68.6L85,68.9L86,69.2L87,69.6L88,69.9L89,70L90,70.2L91,70.3L92,70.5L93,70.6L94,70.8L95,70.9L137,70.9L137,70.9Z" fill="#d54b23" stroke="#fff" stroke-opacity="0.55" stroke-width="0.80" stroke-linejoin="round"/><path d="M24,74.3L24,74.3L34.4,74.3L35.2,73.6L36,72.6L36.8,71.7L37.6,70.7L38.4,69.7L39.2,68.6L40,67.5L40.8,66.4L41.6,65.3L42.4,64.2L43.2,62.5L44,60.6L44.8,58.7L45.6,56.7L46.4,54.6L47.2,52.5L48,52.8L48.8,55.1L49.6,57.3L50.4,59.1L51.2,60.6L52,62.1L52.9,62.7L53.7,62.2L54.5,61.8L55.3,61.3L56.1,60.8L56.9,60.4L57.7,60.1L58.5,59.8L59.3,59.6L60.1,59.3L60.9,59L61.7,58.8L62.5,58.7L63.3,59.1L64.1,59.4L64.9,59.7L65.7,60.2L66.5,60.7L67.3,61.2L68.1,61.7L68.9,62L69.7,61.8L70.5,61.5L71.3,61L72.1,60L72.9,59.1L73.7,58.1L74.5,57.5L75.3,59L76.1,60.6L76.9,62.1L77.7,63.4L78.5,64.6L79.3,65.8L80.1,67L80.9,67.5L81.7,68L82.5,68.6L83.3,69.1L84.1,69.7L84.9,70.2L85.7,70.8L86.5,71.3L87.3,71.8L88.1,72.3L88.9,72.6L89.7,72.8L90.5,73.1L91.3,73.3L92.1,73.5L92.9,73.8L93.7,74L94.5,74.2L95.3,74.3L137,74.3L137,74.3Z" fill="#e1562c" stroke="#fff" stroke-opacity="0.55" stroke-width="0.80" stroke-linejoin="round"/><path d="M24,78L24,70.5L25.5,72.4L27,72.8L28.5,72.6L30,72.6L31.5,72.9L33,73.3L34.5,73.5L36.1,73.4L37.6,73.6L39.1,73.8L40.6,73.9L42.1,73.6L43.6,73.1L45.1,72.6L46.6,72.3L48.1,72.4L49.6,73L51.1,73.5L52.6,73.8L54.1,73.3L55.6,72.5L57.1,71.9L58.7,72.1L60.2,72.5L61.7,72.9L63.2,73.3L64.7,73.7L66.2,74.3L67.7,74.8L69.2,75.2L70.7,75.2L72.2,75.2L73.7,75.3L75.2,75.3L76.7,75.3L78.2,77.8L79.7,77.8L81.3,77.9L82.8,77.9L84.3,77.9L85.8,77.9L87.3,78L97.8,78L99.3,75.1L100.8,78L137,78L137,78Z" fill="#ec6035" stroke="#fff" stroke-opacity="0.55" stroke-width="0.80" stroke-linejoin="round"/><path d="M24,78.8L24,70.9L25.5,73.2L27,74.7L28.5,75.5L30,75.9L31.5,75.9L33,75.8L34.5,75.6L36.1,77.3L37.6,77L39.1,76.6L40.6,76.3L42.1,76.1L43.6,75.7L45.1,75.2L46.6,75L48.1,75.2L49.6,75.9L51.1,76.5L52.6,76.8L54.1,76.5L55.6,74.5L57.1,74.1L58.7,74.3L60.2,75L61.7,75.8L63.2,75.1L64.7,75.1L66.2,74.5L67.7,73.9L69.2,73.7L70.7,74.1L72.2,74.7L73.7,75.1L75.2,75.3L76.7,75.6L78.2,75.9L79.7,76.1L81.3,76.1L82.8,78.7L84.3,78.7L85.8,78.7L87.3,78.8L100.8,78.8L102.3,77.2L103.9,78.8L137,78.8L137,78.8Z" fill="#ef6236" stroke="#fff" stroke-opacity="0.55" stroke-width="0.80" stroke-linejoin="round"/><path d="M24,80.6L24,73.7L25.5,75.7L27,76.4L28.5,76.4L30,76.4L31.5,76.4L33,76.3L34.5,76.1L36.1,75.9L37.6,76L39.1,76.2L40.6,74.2L42.1,74.2L43.6,74.7L45.1,75.3L46.6,76.1L48.1,75.6L49.6,74.5L51.1,73.6L52.6,73.4L54.1,74L55.6,74.9L57.1,75.5L58.7,75.8L60.2,75.8L61.7,78.8L63.2,79L64.7,79.1L66.2,79.1L67.7,79.2L69.2,79.4L70.7,79.6L72.2,79.8L73.7,80L75.2,80.1L76.7,80.2L78.2,80.3L79.7,80.4L81.3,80.4L82.8,80.5L84.3,80.5L85.8,78.7L87.3,78.6L88.8,78.3L90.3,78L91.8,77.9L93.3,80.6L105.4,80.6L106.9,77.5L108.4,80.6L137,80.6L137,80.6Z" fill="#f4663a" stroke="#fff" stroke-opacity="0.55" stroke-width="0.80" stroke-linejoin="round"/><path d="M24,81.6L24,73.7L25.5,76L27,77.2L28.5,77.8L30,78L31.5,78.1L33,78.2L34.5,78.2L36.1,78.1L37.6,78L39.1,77.8L40.6,77.7L42.1,77.3L43.6,76.5L45.1,75.5L46.6,75L48.1,77.7L49.6,78.1L51.1,78.4L52.6,78.6L54.1,78.6L55.6,78.7L57.1,78.8L58.7,79L60.2,79.1L61.7,79.2L63.2,79.4L64.7,79.7L66.2,80.1L67.7,80.4L69.2,80.7L70.7,80.9L72.2,81.1L73.7,78.9L75.2,79.1L76.7,78.9L78.2,78.6L79.7,78.4L81.3,78.4L82.8,78.4L84.3,78.3L85.8,78.3L87.3,81.6L97.8,81.6L99.3,79.6L100.8,79.7L102.3,79.8L103.9,79.8L105.4,79.6L106.9,79.3L108.4,81.6L137,81.6L137,81.6Z" fill="#f7693d" stroke="#fff" stroke-opacity="0.55" stroke-width="0.80" stroke-linejoin="round"/><path d="M24,84.1L24,75.1L25.5,77.7L27,79.3L28.5,80.3L30,80.7L31.5,80.5L33,80.2L34.5,79.8L36.1,79.5L37.6,78.7L39.1,77.8L40.6,77L42.1,77.1L43.6,77.9L45.1,81.4L46.6,81.6L48.1,81.6L49.6,81.7L51.1,81.8L52.6,81.8L54.1,81.8L55.6,81.6L57.1,81.6L58.7,81.8L60.2,82.3L61.7,82.7L63.2,83L64.7,83L66.2,82.9L67.7,82.9L69.2,83L70.7,83.2L72.2,80.5L73.7,80.7L75.2,80.9L76.7,81.2L78.2,81.7L79.7,82.1L81.3,82.1L82.8,81.8L84.3,81.4L85.8,81.2L87.3,81.2L88.8,81.2L90.3,81.5L91.8,81.5L93.3,81.5L94.8,81.6L96.3,81.7L97.8,81.8L99.3,81.8L100.8,81.8L102.3,81.8L103.9,81.8L105.4,82.6L106.9,82.8L108.4,82.9L109.9,82.9L111.4,82.9L112.9,82.9L114.4,82.8L115.9,82.8L117.4,82.7L118.9,82.6L120.4,84.1L137,84.1L137,84.1Z" fill="#fd6f42" stroke="#fff" stroke-opacity="0.55" stroke-width="0.80" stroke-linejoin="round"/><path d="M24,85L24,75.9L25.5,78.4L27,79.6L28.5,80.2L30,80.4L31.5,80.4L33,80.1L34.5,79.8L36.1,79.7L37.6,79.8L39.1,80.1L40.6,80.2L42.1,79.8L43.6,78.6L45.1,77.3L46.6,81.1L48.1,81.3L49.6,81.6L51.1,81.9L52.6,82.1L54.1,82.2L55.6,82.3L57.1,82.4L58.7,82.6L60.2,79.3L61.7,79.9L63.2,80.3L64.7,80.5L66.2,80.5L67.7,80.6L69.2,80.7L70.7,80.6L72.2,80.4L73.7,80.3L75.2,80.3L76.7,80.3L78.2,80.2L79.7,80.1L81.3,80.4L82.8,80.5L84.3,80.5L85.8,80.6L87.3,80.7L88.8,80.9L90.3,81.2L91.8,81.3L93.3,81.2L94.8,80.9L96.3,80.7L97.8,80.6L99.3,80.9L100.8,81.4L102.3,82.9L103.9,82.9L105.4,82.7L106.9,82.5L108.4,82.4L109.9,82.5L111.4,82.6L112.9,82.8L114.4,82.9L115.9,82.8L117.4,82.4L118.9,82.1L120.4,82L121.9,85L137,85L137,85Z" fill="#ff7144" stroke="#fff" stroke-opacity="0.55" stroke-width="0.80" stroke-linejoin="round"/><path d="M24,91.2L24,83.6L25.5,86.3L27,87.9L28.5,88.8L30,89.2L31.5,89.1L33,88.7L34.5,85.7L36.1,85.4L37.6,84.9L39.1,84.3L40.6,83.9L42.1,83.8L43.6,84.1L45.1,84.4L46.6,84.6L48.1,85.1L49.6,85.9L51.1,86.8L52.6,87.1L54.1,86.7L55.6,86L57.1,85.6L58.7,85.9L60.2,86.4L61.7,86.6L63.2,87L64.7,87.3L66.2,87.8L67.7,88.2L69.2,88L70.7,87.9L72.2,87.6L73.7,87.3L75.2,87.3L76.7,87.2L78.2,87.2L79.7,87.1L81.3,87.2L82.8,87.3L84.3,87.4L85.8,87.5L87.3,87.5L88.8,87.5L90.3,87.3L91.8,87.3L93.3,87.5L94.8,88.1L96.3,88.6L97.8,88.7L99.3,88.4L100.8,87.7L102.3,87.3L103.9,86.2L105.4,86.3L106.9,86.4L108.4,86.5L109.9,86.6L111.4,87L112.9,87.4L114.4,87.7L115.9,87.6L117.4,87.4L118.9,87.3L120.4,88.3L121.9,88.1L123.4,87.9L124.9,87.8L126.5,87.8L128,87.8L129.5,87.9L131,87.9L132.5,88L134,88.1L135.5,88.2L137,91.2L137,91.2Z" fill="#ff7f50" stroke="#fff" stroke-opacity="0.55" stroke-width="0.80" stroke-linejoin="round"/><path d="M24,92.1L24,80.6L25.5,83.2L27,84.3L28.5,84.6L30,84.8L31.5,84.6L33,84.2L34.5,83.8L36.1,86.3L37.6,86.4L39.1,86.6L40.6,86.7L42.1,86.8L43.6,87.2L45.1,87.7L46.6,88L48.1,87.6L49.6,86.6L51.1,85.8L52.6,85.8L54.1,86.2L55.6,86.7L57.1,87.2L58.7,87.5L60.2,88L61.7,86.3L63.2,86.8L64.7,87L66.2,87.2L67.7,87.3L69.2,87.5L70.7,87.4L72.2,87.1L73.7,86.8L75.2,86.8L76.7,87.5L78.2,89.9L79.7,90.3L81.3,90.4L82.8,90.2L84.3,89.9L85.8,89.7L87.3,89.7L88.8,89.8L90.3,89.9L91.8,89.9L93.3,89.8L94.8,89.5L96.3,89.3L97.8,89.3L99.3,89.5L100.8,90L102.3,90.3L103.9,90.3L105.4,90L106.9,90.1L108.4,89.9L109.9,90L111.4,90.3L112.9,90.6L114.4,90.7L115.9,90.7L117.4,90.6L118.9,90.5L120.4,90.5L121.9,90.4L123.4,90.2L124.9,90L126.5,90L128,90.2L129.5,90.4L131,89.7L132.5,89.7L134,89.8L135.5,90L137,92.1L137,92.1Z" fill="#ff8152" stroke="#fff" stroke-opacity="0.55" stroke-width="0.80" stroke-linejoin="round"/><path d="M24,93L24,83L25.5,85.8L27,87.4L28.5,88.3L30,88.6L31.5,88.8L33,89L34.5,89.1L36.1,89L37.6,88.4L39.1,88.5L40.6,88.5L42.1,88.1L43.6,87.1L45.1,86L46.6,85.6L48.1,86.1L49.6,87.2L51.1,88.3L52.6,88.7L54.1,88.4L55.6,87.9L57.1,87.6L58.7,87.9L60.2,88.3L61.7,88.8L63.2,89.2L64.7,89.5L66.2,90L67.7,90.4L69.2,90.6L70.7,90.6L72.2,90.5L73.7,90.5L75.2,90.5L76.7,90.8L78.2,91.1L79.7,91.3L81.3,91.3L82.8,91.2L84.3,90.9L85.8,90.8L87.3,90.9L88.8,91.1L90.3,91.2L91.8,91.3L93.3,91.2L94.8,91L96.3,90.8L97.8,90.8L99.3,90.9L100.8,91.1L102.3,91.3L103.9,91.3L105.4,90.9L106.9,90.5L108.4,90.2L109.9,90.2L111.4,90.2L112.9,90.3L114.4,90.3L115.9,90.5L117.4,90.8L118.9,91.1L120.4,93L137,93L137,93Z" fill="#ff8354" stroke="#fff" stroke-opacity="0.55" stroke-width="0.80" stroke-linejoin="round"/><path d="M24,97.8L24,85.5L25.5,88.2L27,89.1L28.5,89.2L30,89.2L31.5,89.1L33,88.9L34.5,88.7L36.1,88.5L37.6,88.3L39.1,88.3L40.6,88.3L42.1,93L43.6,93.5L45.1,94.1L46.6,94.4L48.1,94.3L49.6,93.9L51.1,93.7L52.6,91.4L54.1,92L55.6,92.7L57.1,93.3L58.7,93.6L60.2,95.9L61.7,96.2L63.2,96.5L64.7,96.6L66.2,96.7L67.7,96.8L69.2,97L70.7,97.2L72.2,97.4L73.7,97.5L75.2,97.6L76.7,97.6L78.2,97.7L79.7,97.7L81.3,97.7L82.8,97.7L84.3,97.8L137,97.8L137,97.8Z" fill="#ff8d5d" stroke="#fff" stroke-opacity="0.55" stroke-width="0.80" stroke-linejoin="round"/><path d="M24,98.7L24,87.5L25.5,90.4L27,91.7L28.5,92.1L30,92.3L31.5,92.5L33,94.8L34.5,94.9L36.1,94.8L37.6,95.1L39.1,95.5L40.6,95.8L42.1,95.5L43.6,94.8L45.1,92L46.6,91.6L48.1,92.2L49.6,93.3L51.1,94.2L52.6,94.6L54.1,96L55.6,95.9L57.1,95.9L58.7,96.2L60.2,96.8L61.7,97.3L63.2,97.7L64.7,97.8L66.2,97.9L67.7,97.9L69.2,98L70.7,98.1L72.2,98.2L73.7,98.3L75.2,98.4L76.7,98.5L78.2,95L79.7,95.2L81.3,95.3L82.8,95.6L84.3,95.9L85.8,96.1L87.3,96.1L88.8,95.7L90.3,95.4L91.8,95.2L93.3,95.2L94.8,95.2L96.3,95.2L97.8,95.2L99.3,95.1L100.8,98.7L137,98.7L137,98.7Z" fill="#ff8f5f" stroke="#fff" stroke-opacity="0.55" stroke-width="0.80" stroke-linejoin="round"/><path d="M24,101.8L24,90.2L25.5,93.5L27,95.4L28.5,96.4L30,96.8L31.5,96.3L33,95.2L34.5,94.2L36.1,94L37.6,94.3L39.1,95L40.6,95.4L42.1,95.2L43.6,94.4L45.1,93.7L46.6,93.5L48.1,94.3L49.6,94.6L51.1,94.9L52.6,95.3L54.1,96.3L55.6,97.5L57.1,98.4L58.7,98.7L60.2,98.4L61.7,98.1L63.2,98L64.7,98.3L66.2,98.6L67.7,99L69.2,99.2L70.7,99.3L72.2,98.1L73.7,98.1L75.2,98.1L76.7,98.5L78.2,98.9L79.7,99.3L81.3,99.3L82.8,99.2L84.3,99.1L85.8,98.6L87.3,98.7L88.8,98.8L90.3,99L91.8,99.1L93.3,99L94.8,99L96.3,98.9L97.8,98.8L99.3,98.4L100.8,97.8L102.3,97.4L103.9,98L105.4,98.3L106.9,98.6L108.4,98.9L109.9,98.9L111.4,98.8L112.9,98.8L114.4,98.8L115.9,98.7L117.4,98.3L118.9,97.2L120.4,97.1L121.9,97.4L123.4,98L124.9,98.5L126.5,98.4L128,97.9L129.5,97.2L131,96.7L132.5,96.9L134,97.7L135.5,101.8L137,101.8L137,101.8Z" fill="#ff9564" stroke="#fff" stroke-opacity="0.55" stroke-width="0.80" stroke-linejoin="round"/><path d="M24,102.7L24,91.7L25.5,94.8L27,96L28.5,96.4L30,96.6L31.5,95.7L33,95.8L34.5,95.9L36.1,95.8L37.6,95.8L39.1,95.8L40.6,95.9L42.1,95.6L43.6,94.6L45.1,93.6L46.6,93.2L48.1,93.7L49.6,95.4L51.1,96.2L52.6,96.6L54.1,96.6L55.6,96.7L57.1,96.7L58.7,97.1L60.2,97.9L61.7,98.7L63.2,99.3L64.7,99.3L66.2,99L67.7,98.7L69.2,102L70.7,102.2L72.2,102.3L73.7,102.4L75.2,102.4L76.7,102.5L78.2,102.6L79.7,102.6L81.3,102.6L82.8,102.7L121.9,102.7L123.4,100.2L124.9,100.2L126.5,100.3L128,100.4L129.5,100.7L131,100.8L132.5,100.8L134,100.7L135.5,100.7L137,102.7L137,102.7Z" fill="#ff9766" stroke="#fff" stroke-opacity="0.55" stroke-width="0.80" stroke-linejoin="round"/><path d="M24,103.6L24,90.9L25.5,94.3L27,96.7L28.5,98.1L30,98.7L31.5,98.6L33,98.3L34.5,97.9L36.1,97.7L37.6,96.8L39.1,95.7L40.6,98.5L42.1,98.5L43.6,98.8L45.1,99L46.6,99.2L48.1,99.3L49.6,99.3L51.1,99.4L52.6,99.7L54.1,100.4L55.6,101.1L57.1,101.6L58.7,101.9L60.2,102.2L61.7,102.5L63.2,102.7L64.7,102.8L66.2,102.9L67.7,102.9L69.2,103L70.7,103.1L72.2,103.3L73.7,100.5L75.2,100.6L76.7,100.7L78.2,100.9L79.7,101L81.3,101L82.8,100.8L84.3,100.6L85.8,100.4L87.3,100.5L88.8,100.7L90.3,101L91.8,101.1L93.3,102L94.8,101.9L96.3,101.8L97.8,101.7L99.3,101.8L100.8,101.9L102.3,102L103.9,102L105.4,101.9L106.9,101.8L108.4,101.7L109.9,101.7L111.4,101.7L112.9,101.7L114.4,101.7L115.9,101.5L117.4,101.3L118.9,101L120.4,101L121.9,103.6L131,103.6L132.5,101.6L134,101.8L135.5,102L137,103.6L137,103.6Z" fill="#ff9968" stroke="#fff" stroke-opacity="0.55" stroke-width="0.80" stroke-linejoin="round"/><path d="M24,104.5L24,91.7L25.5,94.9L27,96.5L28.5,97.2L30,97.4L31.5,97.8L33,98.2L34.5,98.6L36.1,98.6L37.6,98.6L39.1,98.7L40.6,98.8L42.1,98.9L43.6,99L45.1,99.2L46.6,99.4L48.1,99.2L49.6,98.8L51.1,98.4L52.6,98.6L54.1,98.9L55.6,100L57.1,100.8L58.7,101.1L60.2,102L61.7,102.3L63.2,102.5L64.7,102.6L66.2,102.7L67.7,102.8L69.2,102.9L70.7,102.8L72.2,102.7L73.7,102.6L75.2,102.6L76.7,102.6L78.2,102.6L79.7,102.6L81.3,102.6L82.8,102.7L84.3,101L85.8,101.2L87.3,101.2L88.8,101.3L90.3,101.4L91.8,101.5L93.3,101L94.8,100.5L96.3,100L97.8,99.9L99.3,99.9L100.8,99.9L102.3,100L103.9,100L105.4,100.3L106.9,100.8L108.4,101L109.9,101L111.4,100.8L112.9,100.6L114.4,101.6L115.9,101.5L117.4,101.4L118.9,101.3L120.4,101.3L121.9,101.4L123.4,101.7L124.9,101.8L126.5,101.9L128,102.1L129.5,102.3L131,102.4L132.5,102.4L134,101.8L135.5,101.7L137,104.5L137,104.5Z" fill="#ff9b69" stroke="#fff" stroke-opacity="0.55" stroke-width="0.80" stroke-linejoin="round"/><path d="M24,105.3L24,91.4L25.5,94.7L27,96.6L28.5,97.6L30,98L31.5,98.4L33,99L34.5,99.4L36.1,99.3L37.6,99.1L39.1,98.8L40.6,98.7L42.1,98.6L43.6,98.4L45.1,98.2L46.6,98.2L48.1,98.7L49.6,99.5L51.1,100.3L52.6,100.6L54.1,100.4L55.6,100L57.1,99.9L58.7,100L60.2,100.1L61.7,100.2L63.2,100L64.7,100.3L66.2,100.6L67.7,101L69.2,101.2L70.7,101.3L72.2,101.3L73.7,101.4L75.2,101.4L76.7,101.3L78.2,101L79.7,105.2L81.3,105.2L82.8,105.2L84.3,105.3L102.3,105.3L103.9,101.7L105.4,101.7L106.9,101.7L108.4,101.8L109.9,101.8L111.4,101.8L112.9,101.9L114.4,101.9L115.9,101.7L117.4,101.9L118.9,102.2L120.4,102.2L121.9,102L123.4,101.6L124.9,101.2L126.5,101.2L128,101.6L129.5,102L131,102.3L132.5,102.3L134,102.2L135.5,102.1L137,105.3L137,105.3Z" fill="#ff9c6b" stroke="#fff" stroke-opacity="0.55" stroke-width="0.80" stroke-linejoin="round"/><path d="M24,107.6L24,92.2L25.5,95.8L27,98.1L28.5,99.5L30,100L31.5,99.6L33,98.9L34.5,98.2L36.1,98L37.6,98.3L39.1,98.6L40.6,98.9L42.1,98.9L43.6,98.9L45.1,98.9L46.6,99L48.1,99.6L49.6,100.6L51.1,101.6L52.6,102.2L54.1,102.5L55.6,102.8L57.1,103.1L58.7,103.2L60.2,102.8L61.7,102.2L63.2,102L64.7,102.3L66.2,102.8L67.7,103.2L69.2,103.4L70.7,105.4L72.2,105.7L73.7,105.9L75.2,106L76.7,105.9L78.2,105.7L79.7,105.6L81.3,105.6L82.8,105.8L84.3,106.1L85.8,106.1L87.3,106.1L88.8,105.8L90.3,105.5L91.8,105.3L93.3,105.5L94.8,105.8L96.3,106L97.8,106.1L99.3,106.1L100.8,106.1L102.3,106.1L103.9,106.1L105.4,106L106.9,106L108.4,105.9L109.9,105.9L111.4,105.3L112.9,105.3L114.4,105.3L115.9,105.2L117.4,104.9L118.9,104.7L120.4,104.7L121.9,104.9L123.4,105.2L124.9,105.5L126.5,105.8L128,105.7L129.5,105.5L131,105.4L132.5,105.4L134,105.2L135.5,105L137,107.6L137,107.6Z" fill="#ffa16f" stroke="#fff" stroke-opacity="0.55" stroke-width="0.80" stroke-linejoin="round"/><path d="M23.5,109.4H148.5" stroke="#d8d8d8" stroke-width="0.7"/><path d="M23.50,109.4V111.6" stroke="#cfcfcf" stroke-width="0.7"/><path d="M34.86,109.4V111.6" stroke="#cfcfcf" stroke-width="0.7"/><path d="M46.23,109.4V111.6" stroke="#cfcfcf" stroke-width="0.7"/><path d="M57.59,109.4V111.6" stroke="#cfcfcf" stroke-width="0.7"/><path d="M68.95,109.4V111.6" stroke="#cfcfcf" stroke-width="0.7"/><path d="M80.32,109.4V111.6" stroke="#cfcfcf" stroke-width="0.7"/><path d="M91.68,109.4V111.6" stroke="#cfcfcf" stroke-width="0.7"/><path d="M103.05,109.4V111.6" stroke="#cfcfcf" stroke-width="0.7"/><path d="M114.41,109.4V111.6" stroke="#cfcfcf" stroke-width="0.7"/><path d="M125.77,109.4V111.6" stroke="#cfcfcf" stroke-width="0.7"/><path d="M137.14,109.4V111.6" stroke="#cfcfcf" stroke-width="0.7"/><path d="M148.50,109.4V111.6" stroke="#cfcfcf" stroke-width="0.7"/><text transform="translate(23.50,118.8) scale(0.87,1)" class="xl">0.0</text><text transform="translate(46.23,118.8) scale(0.87,1)" class="xl">0.2</text><text transform="translate(68.95,118.8) scale(0.87,1)" class="xl">0.4</text><text transform="translate(91.68,118.8) scale(0.87,1)" class="xl">0.6</text><text transform="translate(114.41,118.8) scale(0.87,1)" class="xl">0.8</text><text transform="translate(137.14,118.8) scale(0.87,1)" class="xl">1.0</text><path d="M148.5,74.32H151.3" stroke="#cfcfcf" stroke-width="0.7"/><path d="M148.5,80.94H151.3" stroke="#cfcfcf" stroke-width="0.7"/><path d="M148.5,87.57H151.3" stroke="#cfcfcf" stroke-width="0.7"/><path d="M148.5,94.19H151.3" stroke="#cfcfcf" stroke-width="0.7"/><path d="M148.5,100.81H151.3" stroke="#cfcfcf" stroke-width="0.7"/><path d="M148.5,107.43H151.3" stroke="#cfcfcf" stroke-width="0.7"/><text transform="translate(153.5,76.72) scale(0.87,1)" class="yl">20</text><text transform="translate(153.5,89.97) scale(0.87,1)" class="yl">60</text><text transform="translate(153.5,103.21) scale(0.87,1)" class="yl">100</text></svg><svg class="ic" viewBox="5 5 14 14" width="9" height="9"><path d="M7 14H5v5h5v-2H7v-3zm-2-4h2V7h3V5H5v5zm12 7h-3v2h5v-5h-2v3zM14 5v2h3v3h2V5h-5z" fill="#5f7b8b"/></svg></div><div class="cell" style="left:196.00px;top:424.00px"><div class="bar"></div><div class="ttl">layer4/bias</div><div class="dot">.</div><svg class="ch" width="196" height="141" viewBox="0 0 196 141"><rect x="23.5" y="68.60" width="125.0" height="2.70" fill="#000" fill-opacity="0.13"/><rect x="23.5" y="77.50" width="125.0" height="1.70" fill="#000" fill-opacity="0.13"/><rect x="23.5" y="80.10" width="125.0" height="2.20" fill="#000" fill-opacity="0.13"/><rect x="23.5" y="83.60" width="125.0" height="1.80" fill="#000" fill-opacity="0.13"/><rect x="23.5" y="90.70" width="125.0" height="3.10" fill="#000" fill-opacity="0.13"/><rect x="23.5" y="97.30" width="125.0" height="1.80" fill="#000" fill-opacity="0.13"/><rect x="23.5" y="101.30" width="125.0" height="4.40" fill="#000" fill-opacity="0.13"/><rect x="23.5" y="107.00" width="125.0" height="1.10" fill="#000" fill-opacity="0.13"/><path d="M24,69.1L24,69.1L47,69.1L47.5,67L48,64.9L48.5,62.8L49,60.7L49.5,58.6L50,56.4L50.5,58.6L51,60.7L51.5,62.8L52,61.4L52.5,59.5L53,57.5L53.5,59.5L54,61.4L54.5,63.3L55,65.2L55.5,63.9L56,62.1L56.5,60.4L57,58.6L57.5,60.4L58,62.1L58.5,63.9L59,65.6L59.5,63.9L60,62.1L60.5,60.4L61,58.6L61.5,60.4L62,62.1L62.5,63.9L63,63.6L63.5,61.8L64,59.9L64.5,58.1L65,59.9L65.5,61.8L66,63.6L66.5,63.6L67,61.8L67.5,59.9L68,58.1L68.5,59.9L69,61.8L69.5,63.6L70,65.4L70.5,63.9L71,62.1L71.5,60.4L72,58.6L72.5,60.4L73,62.1L73.5,63.9L74,65.6L74.5,67.4L75,69.1L99,69.1L99.5,67.1L100,65.1L100.5,63L101,61L101.5,59L102,57L102.5,59L103,61L103.5,63L104,65.1L104.5,67.1L105,69.1L140,69.1L140,69.1Z" fill="#ce451d" stroke="#fff" stroke-opacity="0.55" stroke-width="0.80" stroke-linejoin="round"/><path d="M24,70L24,70L47,70L47.5,67.9L48,65.8L48.5,63.7L49,61.6L49.5,59.5L50,57.4L50.5,59.5L51,61.6L51.5,63.7L52,62.3L52.5,60.4L53,58.5L53.5,60.4L54,62.3L54.5,64.2L55,66.2L55.5,64.8L56,63L56.5,61.3L57,59.5L57.5,61.3L58,63L58.5,64.8L59,66.5L59.5,64.8L60,63L60.5,61.3L61,59.5L61.5,61.3L62,63L62.5,64.8L63,64.5L63.5,62.7L64,60.8L64.5,59L65,60.8L65.5,62.7L66,64.5L66.5,64.5L67,62.7L67.5,60.8L68,59L68.5,60.8L69,62.7L69.5,64.5L70,66.3L70.5,64.8L71,63L71.5,61.3L72,59.5L72.5,61.3L73,63L73.5,64.8L74,66.5L74.5,68.3L75,70L99,70L99.5,68L100,66L100.5,64L101,61.9L101.5,59.9L102,57.9L102.5,59.9L103,61.9L103.5,64L104,66L104.5,68L105,70L140,70L140,70Z" fill="#d24820" stroke="#fff" stroke-opacity="0.55" stroke-width="0.80" stroke-linejoin="round"/><path d="M24,70.9L24,70.9L47,70.9L47.5,68.8L48,66.7L48.5,64.6L49,62.5L49.5,60.4L50,58.3L50.5,60.4L51,62.5L51.5,64.6L52,63.2L52.5,61.3L53,59.4L53.5,61.3L54,63.2L54.5,65.1L55,67.1L55.5,65.7L56,63.9L56.5,62.2L57,60.5L57.5,62.2L58,63.9L58.5,65.7L59,67.4L59.5,65.7L60,63.9L60.5,62.2L61,60.5L61.5,62.2L62,63.9L62.5,65.7L63,65.4L63.5,63.6L64,61.7L64.5,59.9L65,61.7L65.5,63.6L66,65.4L66.5,65.4L67,63.6L67.5,61.7L68,59.9L68.5,61.7L69,63.6L69.5,65.4L70,67.2L70.5,65.7L71,63.9L71.5,62.2L72,60.5L72.5,62.2L73,63.9L73.5,65.7L74,67.4L74.5,69.2L75,70.9L99,70.9L99.5,68.9L100,66.9L100.5,64.9L101,62.8L101.5,60.8L102,58.8L102.5,60.8L103,62.8L103.5,64.9L104,66.9L104.5,68.9L105,70.9L140,70.9L140,70.9Z" fill="#d54b23" stroke="#fff" stroke-opacity="0.55" stroke-width="0.80" stroke-linejoin="round"/><path d="M24,74.3L24,74.3L41.5,74.3L42,72.3L42.5,69.8L43,67.3L43.5,64.8L44,62.3L44.5,59.8L45,57.3L45.5,57.8L46,60.3L46.5,62.8L47,65.3L47.5,67.3L48,64.1L48.5,60.9L49,57.7L49.5,54.5L50,51.3L50.5,54.5L51,57.7L51.5,60.9L52,59.1L52.5,56.2L53,53.3L53.5,56.2L54,59.1L54.5,62L55,65L55.5,63.2L56,60.6L56.5,57.9L57,55.3L57.5,57.9L58,60.6L58.5,63.2L59,65.9L59.5,63.2L60,60.6L60.5,57.9L61,55.3L61.5,57.9L62,60.6L62.5,63.2L63,62.6L63.5,59.9L64,57.1L64.5,54.3L65,57.1L65.5,59.9L66,62.6L66.5,62.6L67,59.9L67.5,57.1L68,54.3L68.5,57.1L69,59.9L69.5,62.6L70,65.4L70.5,63.2L71,60.6L71.5,57.9L72,55.3L72.5,57.9L73,60.6L73.5,63.2L74,65.9L74.5,68.5L75,71.1L75.5,73.8L76,74.3L98,74.3L98.5,73.7L99,70.6L99.5,67.6L100,64.5L100.5,61.5L101,58.4L101.5,55.4L102,52.3L102.5,55.4L103,58.4L103.5,61.5L104,64.5L104.5,67.6L105,70.6L105.5,73.7L106,73.4L106.5,71L107,68.6L107.5,66.3L108,63.9L108.5,61.6L109,59.2L109.5,57.8L110,60.1L110.5,62.5L111,64.9L111.5,67.2L112,69.6L112.5,71.9L113,74.3L113.5,72.2L114,69.6L114.5,66.9L115,64.3L115.5,61.6L116,59L116.5,56.4L117,56.9L117.5,59.5L118,62.2L118.5,64.8L119,67.4L119.5,70.1L120,72.7L120.5,74.3L122,74.3L122.5,72.4L123,70.4L123.5,68.5L124,66.5L124.5,64.6L125,62.6L125.5,60.7L126,61.9L126.5,63.8L127,65.7L127.5,67.7L128,69.6L128.5,71.6L129,72L129.5,70L130,68.1L130.5,66.1L131,64.2L131.5,62.2L132,60.3L132.5,62.2L133,64.2L133.5,66.1L134,67.7L134.5,65.3L135,63L135.5,60.6L136,58.2L136.5,58.7L137,61.1L137.5,63.4L138,65.8L138.5,68.2L139,70.5L139.5,72.9L140,74.3L140,74.3Z" fill="#e1562c" stroke="#fff" stroke-opacity="0.55" stroke-width="0.80" stroke-linejoin="round"/><path d="M24,78L24,78L62,78L62.5,77.6L63,75.5L63.5,73.4L64,71.3L64.5,69.2L65,67.2L65.5,65.1L66,63L66.5,65.1L67,67.2L67.5,69.2L68,71.3L68.5,73.4L69,75.5L69.5,77.6L70,78L71.5,78L72,74.1L72.5,69.3L73,64.5L73.5,59.7L74,54.9L74.5,50L75,45.2L75.5,46.2L76,51L76.5,55.8L77,60.6L77.5,65.5L78,70.3L78.5,75.1L79,78L79.5,73.6L80,69.1L80.5,64.7L81,60.2L81.5,55.8L82,51.3L82.5,46.9L83,49.6L83.5,54L84,58.4L84.5,62.9L85,67.3L85.5,71.8L86,76.2L86.5,78L118.5,78L119,77.2L119.5,75.2L120,73.2L120.5,71.2L121,69.2L121.5,67.2L122,65.2L122.5,64L123,66L123.5,68L124,70L124.5,72L125,74L125.5,76L126,78L140,78L140,78Z" fill="#ec6035" stroke="#fff" stroke-opacity="0.55" stroke-width="0.80" stroke-linejoin="round"/><path d="M24,78.8L24,78.8L66,78.8L66.5,78.2L67,75.5L67.5,72.7L68,69.9L68.5,67.1L69,64.4L69.5,61.6L70,58.8L70.5,61.6L71,64.4L71.5,67.1L72,69.9L72.5,72.7L73,75.5L73.5,78.2L74,78.8L83,78.8L83.5,74.9L84,71L84.5,67.1L85,63.2L85.5,59.4L86,55.5L86.5,51.6L87,53.9L87.5,57.8L88,61.7L88.5,65.6L89,69.5L89.5,73.4L90,77.2L90.5,78.8L140,78.8L140,78.8Z" fill="#ef6236" stroke="#fff" stroke-opacity="0.55" stroke-width="0.80" stroke-linejoin="round"/><path d="M24,80.6L24,80.6L75,80.6L75.5,80L76,77.3L76.5,74.5L77,71.7L77.5,68.9L78,66.2L78.5,63.4L79,60.6L79.5,63.4L80,66.2L80.5,68.9L81,71.7L81.5,74.5L82,77.3L82.5,80L83,80.6L86,80.6L86.5,80.1L87,77.6L87.5,75.1L88,72.6L88.5,70.1L89,67.6L89.5,65.1L90,62.6L90.5,65.1L91,67.6L91.5,70.1L92,72.6L92.5,75.1L93,77.6L93.5,80.1L94,80.6L140,80.6L140,80.6Z" fill="#f4663a" stroke="#fff" stroke-opacity="0.55" stroke-width="0.80" stroke-linejoin="round"/><path d="M24,81.6L24,81.6L56,81.6L56.5,81.2L57,79.3L57.5,77.3L58,75.4L58.5,73.4L59,71.5L59.5,69.5L60,67.6L60.5,69.5L61,71.5L61.5,73.4L62,75.4L62.5,77.3L63,79.3L63.5,81.2L64,81.6L90,81.6L90.5,81.2L91,78.9L91.5,76.7L92,74.5L92.5,72.3L93,70L93.5,67.8L94,65.6L94.5,67.8L95,70L95.5,72.3L96,74.5L96.5,76.7L97,78.9L97.5,81.2L98,81.6L140,81.6L140,81.6Z" fill="#f7693d" stroke="#fff" stroke-opacity="0.55" stroke-width="0.80" stroke-linejoin="round"/><path d="M24,84.1L24,84.1L59,84.1L59.5,83.7L60,81.6L60.5,79.5L61,77.4L61.5,75.3L62,73.3L62.5,71.2L63,69.1L63.5,71.2L64,73.3L64.5,75.3L65,77.4L65.5,79.5L66,81.6L66.5,83.7L67,84.1L81,84.1L81.5,83.5L82,80.4L82.5,77.4L83,74.3L83.5,71.3L84,68.2L84.5,65.2L85,62.1L85.5,65.2L86,68.2L86.5,71.3L87,74.3L87.5,77.4L88,80.4L88.5,83.5L89,84.1L96,84.1L96.5,83.7L97,81.8L97.5,79.8L98,77.9L98.5,75.9L99,74L99.5,72L100,70.1L100.5,72L101,74L101.5,75.9L102,77.9L102.5,79.8L103,81.8L103.5,83.7L104,84.1L140,84.1L140,84.1Z" fill="#fd6f42" stroke="#fff" stroke-opacity="0.55" stroke-width="0.80" stroke-linejoin="round"/><path d="M24,85L24,85L74,85L74.5,83.2L75,81L75.5,78.8L76,76.6L76.5,74.3L77,72.1L77.5,69.9L78,70.3L78.5,72.6L79,74.8L79.5,77L80,79.2L80.5,81.4L81,83.7L81.5,85L100.5,85L101,84.2L101.5,82.4L102,80.5L102.5,78.6L103,76.8L103.5,74.9L104,73L104.5,74.9L105,76.8L105.5,78.6L106,80.5L106.5,82.4L107,84.2L107.5,85L140,85L140,85Z" fill="#ff7144" stroke="#fff" stroke-opacity="0.55" stroke-width="0.80" stroke-linejoin="round"/><path d="M24,91.2L24,91.2L55,91.2L55.5,90.4L56,86.3L56.5,82.2L57,78.1L57.5,74L58,69.9L58.5,65.8L59,61.7L59.5,65.8L60,69.9L60.5,74L61,78.1L61.5,82.2L62,86.3L62.5,90.4L63,91.2L70,91.2L70.5,87.1L71,83L71.5,78.9L72,74.8L72.5,70.7L73,66.6L73.5,62.5L74,65L74.5,69.1L75,73.2L75.5,77.3L76,81.4L76.5,85.5L77,89.6L77.5,91.2L94,91.2L94.5,90.5L95,87.3L95.5,84L96,80.8L96.5,77.5L97,74.3L97.5,71L98,67.8L98.5,71L99,74.3L99.5,77.5L100,80.8L100.5,84L101,87.3L101.5,90.5L102,91.2L140,91.2L140,91.2Z" fill="#ff7f50" stroke="#fff" stroke-opacity="0.55" stroke-width="0.80" stroke-linejoin="round"/><path d="M24,92.1L24,92.1L65.5,92.1L66,89.7L66.5,87.2L67,84.8L67.5,82.4L68,79.9L68.5,77.5L69,78L69.5,80.4L70,82.8L70.5,85.3L71,87.7L71.5,90.1L72,92.1L84,92.1L84.5,91.5L85,88.6L85.5,85.7L86,82.9L86.5,80L87,77.1L87.5,74.2L88,71.3L88.5,74.2L89,77.1L89.5,80L90,82.9L90.5,85.7L91,88.6L91.5,91.5L92,92.1L104.5,92.1L105,91.3L105.5,89.3L106,87.2L106.5,85.2L107,83.2L107.5,81.1L108,79.1L108.5,81.1L109,83.2L109.5,85.2L110,87.2L110.5,89.3L111,91.3L111.5,92.1L140,92.1L140,92.1Z" fill="#ff8152" stroke="#fff" stroke-opacity="0.55" stroke-width="0.80" stroke-linejoin="round"/><path d="M24,93L24,93L76,93L76.5,92.5L77,90L77.5,87.4L78,84.9L78.5,82.4L79,79.9L79.5,77.3L80,74.8L80.5,77.3L81,79.9L81.5,82.4L82,84.9L82.5,87.4L83,90L83.5,92.5L84,93L88.5,93L89,92L89.5,89.6L90,87.2L90.5,84.7L91,82.3L91.5,79.8L92,77.4L92.5,79.8L93,82.3L93.5,84.7L94,87.2L94.5,89.6L95,92L95.5,93L101,93L101.5,92.7L102,91L102.5,89.4L103,87.8L103.5,86.2L104,84.5L104.5,82.9L105,83.9L105.5,85.5L106,87.2L106.5,88.8L107,90.4L107.5,92L108,93L140,93L140,93Z" fill="#ff8354" stroke="#fff" stroke-opacity="0.55" stroke-width="0.80" stroke-linejoin="round"/><path d="M24,97.8L24,97.8L42,97.8L42.5,97.3L43,94.6L43.5,92L44,89.3L44.5,86.7L45,84L45.5,81.3L46,78.7L46.5,81.3L47,84L47.5,86.7L48,89.3L48.5,87.9L49,85.6L49.5,83.2L50,80.9L50.5,83.2L51,85.6L51.5,87.9L52,90.3L52.5,92.6L53,95L53.5,97.3L54,97.8L90.5,97.8L91,97L91.5,95L92,92.9L92.5,90.9L93,88.9L93.5,86.8L94,84.8L94.5,86.8L95,88.9L95.5,90.9L96,92.9L96.5,95L97,97L97.5,97.8L107.5,97.8L108,96.8L108.5,94.4L109,92L109.5,89.5L110,87.1L110.5,84.6L111,82.2L111.5,84.6L112,87.1L112.5,89.5L113,92L113.5,94.4L114,96.8L114.5,97.8L140,97.8L140,97.8Z" fill="#ff8d5d" stroke="#fff" stroke-opacity="0.55" stroke-width="0.80" stroke-linejoin="round"/><path d="M24,98.7L24,98.7L37.5,98.7L38,98.3L38.5,96.1L39,93.9L39.5,91.7L40,89.6L40.5,87.4L41,85.2L41.5,86.5L42,88.7L42.5,90.9L43,93L43.5,95.2L44,97.4L44.5,98.7L109.5,98.7L110,97.9L110.5,95.9L111,93.8L111.5,91.8L112,89.8L112.5,87.7L113,85.7L113.5,87.7L114,89.8L114.5,91.8L115,93.8L115.5,95.9L116,97.9L116.5,98.7L140,98.7L140,98.7Z" fill="#ff8f5f" stroke="#fff" stroke-opacity="0.55" stroke-width="0.80" stroke-linejoin="round"/><path d="M24,101.8L24,101.8L33,101.8L33.5,99.8L34,97.8L34.5,95.8L35,93.8L35.5,91.8L36,89.9L36.5,90.3L37,92.2L37.5,94.2L38,96.2L38.5,98.2L39,100.2L39.5,101.8L112.5,101.8L113,100.5L113.5,98.4L114,96.2L114.5,94L115,91.9L115.5,89.7L116,88.5L116.5,90.6L117,92.8L117.5,94.9L118,97.1L118.5,99.2L119,101.4L119.5,101.8L140,101.8L140,101.8Z" fill="#ff9564" stroke="#fff" stroke-opacity="0.55" stroke-width="0.80" stroke-linejoin="round"/><path d="M24,102.7L24,102.7L96.5,102.7L97,101.7L97.5,99.3L98,96.9L98.5,94.4L99,92L99.5,89.5L100,87.1L100.5,89.5L101,92L101.5,94.4L102,96.9L102.5,99.3L103,101.7L103.5,102.7L140,102.7L140,102.7Z" fill="#ff9766" stroke="#fff" stroke-opacity="0.55" stroke-width="0.80" stroke-linejoin="round"/><path d="M24,103.6L24,103.6L29,103.6L29.5,101.8L30,99.9L30.5,98.1L31,96.2L31.5,94.4L32,92.5L32.5,92.9L33,94.7L33.5,96.6L34,98.4L34.5,100.3L35,102.1L35.5,103.6L117.5,103.6L118,102.4L118.5,101.2L119,99.9L119.5,98.7L120,97.5L120.5,96.3L121,96.5L121.5,97.7L122,99L122.5,100.2L123,101.4L123.5,102.6L124,103.6L140,103.6L140,103.6Z" fill="#ff9968" stroke="#fff" stroke-opacity="0.55" stroke-width="0.80" stroke-linejoin="round"/><path d="M24,104.5L24,104.5L92.5,104.5L93,103.5L93.5,101L94,98.4L94.5,95.9L95,93.4L95.5,90.9L96,88.3L96.5,86.8L97,89.3L97.5,91.9L98,94.4L98.5,96.9L99,99.4L99.5,102L100,104.5L140,104.5L140,104.5Z" fill="#ff9b69" stroke="#fff" stroke-opacity="0.55" stroke-width="0.80" stroke-linejoin="round"/><path d="M24,105.3L24,105.3L123,105.3L123.5,104.2L124,102.3L124.5,100.4L125,98.6L125.5,96.7L126,94.8L126.5,93.7L127,95.6L127.5,97.5L128,99.3L128.5,101.2L129,103.1L129.5,104.9L130,105.3L140,105.3L140,105.3Z" fill="#ff9c6b" stroke="#fff" stroke-opacity="0.55" stroke-width="0.80" stroke-linejoin="round"/><path d="M24,107.6L24,105.9L24.5,103.1L25,100.3L25.5,97.5L26,94.7L26.5,91.9L27,89.1L27.5,88.6L28,91.4L28.5,94.2L29,97L29.5,99.8L30,102.6L30.5,105.4L31,107.6L92.5,107.6L93,106.3L93.5,103.1L94,99.8L94.5,96.6L95,93.4L95.5,90.1L96,86.9L96.5,85L97,88.2L97.5,91.4L98,94.7L98.5,97.9L99,101.1L99.5,104.4L100,107.6L123,107.6L123.5,106.2L124,103.9L124.5,101.6L125,99.3L125.5,96.9L126,94.6L126.5,93.2L127,95.6L127.5,97.9L128,100.2L128.5,102.5L129,104.8L129.5,107.1L130,107.6L140,107.6L140,107.6Z" fill="#ffa16f" stroke="#fff" stroke-opacity="0.55" stroke-width="0.80" stroke-linejoin="round"/><path d="M23.5,109.4H148.5" stroke="#d8d8d8" stroke-width="0.7"/><path d="M23.50,109.4V111.6" stroke="#cfcfcf" stroke-width="0.7"/><path d="M34.86,109.4V111.6" stroke="#cfcfcf" stroke-width="0.7"/><path d="M46.23,109.4V111.6" stroke="#cfcfcf" stroke-width="0.7"/><path d="M57.59,109.4V111.6" stroke="#cfcfcf" stroke-width="0.7"/><path d="M68.95,109.4V111.6" stroke="#cfcfcf" stroke-width="0.7"/><path d="M80.32,109.4V111.6" stroke="#cfcfcf" stroke-width="0.7"/><path d="M91.68,109.4V111.6" stroke="#cfcfcf" stroke-width="0.7"/><path d="M103.05,109.4V111.6" stroke="#cfcfcf" stroke-width="0.7"/><path d="M114.41,109.4V111.6" stroke="#cfcfcf" stroke-width="0.7"/><path d="M125.77,109.4V111.6" stroke="#cfcfcf" stroke-width="0.7"/><path d="M137.14,109.4V111.6" stroke="#cfcfcf" stroke-width="0.7"/><path d="M148.50,109.4V111.6" stroke="#cfcfcf" stroke-width="0.7"/><text transform="translate(23.50,118.8) scale(0.87,1)" class="xl">-0.004</text><text transform="translate(46.23,118.8) scale(0.87,1)" class="xl">-0.002</text><text transform="translate(68.95,118.8) scale(0.87,1)" class="xl">0.000</text><text transform="translate(91.68,118.8) scale(0.87,1)" class="xl">0.002</text><text transform="translate(114.41,118.8) scale(0.87,1)" class="xl">0.004</text><text transform="translate(137.14,118.8) scale(0.87,1)" class="xl">0.006</text><path d="M148.5,74.32H151.3" stroke="#cfcfcf" stroke-width="0.7"/><path d="M148.5,80.94H151.3" stroke="#cfcfcf" stroke-width="0.7"/><path d="M148.5,87.57H151.3" stroke="#cfcfcf" stroke-width="0.7"/><path d="M148.5,94.19H151.3" stroke="#cfcfcf" stroke-width="0.7"/><path d="M148.5,100.81H151.3" stroke="#cfcfcf" stroke-width="0.7"/><path d="M148.5,107.43H151.3" stroke="#cfcfcf" stroke-width="0.7"/><text transform="translate(153.5,76.72) scale(0.87,1)" class="yl">20</text><text transform="translate(153.5,89.97) scale(0.87,1)" class="yl">60</text><text transform="translate(153.5,103.21) scale(0.87,1)" class="yl">100</text></svg><svg class="ic" viewBox="5 5 14 14" width="9" height="9"><path d="M7 14H5v5h5v-2H7v-3zm-2-4h2V7h3V5H5v5zm12 7h-3v2h5v-5h-2v3zM14 5v2h3v3h2V5h-5z" fill="#5f7b8b"/></svg></div><div class="cell" style="left:392.00px;top:424.00px"><div class="bar"></div><div class="ttl">layer4/layer</div><div class="dot">.</div><svg class="ch" width="196" height="141" viewBox="0 0 196 141"><rect x="23.5" y="68.60" width="125.0" height="2.70" fill="#000" fill-opacity="0.13"/><rect x="23.5" y="77.50" width="125.0" height="1.70" fill="#000" fill-opacity="0.13"/><rect x="23.5" y="80.10" width="125.0" height="2.20" fill="#000" fill-opacity="0.13"/><rect x="23.5" y="83.60" width="125.0" height="1.80" fill="#000" fill-opacity="0.13"/><rect x="23.5" y="90.70" width="125.0" height="3.10" fill="#000" fill-opacity="0.13"/><rect x="23.5" y="97.30" width="125.0" height="1.80" fill="#000" fill-opacity="0.13"/><rect x="23.5" y="101.30" width="125.0" height="4.40" fill="#000" fill-opacity="0.13"/><rect x="23.5" y="107.00" width="125.0" height="1.10" fill="#000" fill-opacity="0.13"/><path d="M34.6,69.1L34.6,69.1L64.7,69.1L65.7,68.9L66.7,68.1L67.7,67.3L68.7,66.4L69.7,65.6L70.7,64.8L71.7,63.9L72.7,61.8L73.7,59.3L74.7,56.7L75.7,54.2L76.8,54.5L77.8,55.7L78.8,54.8L79.8,54L80.8,53.2L81.8,52.3L82.8,51.8L83.8,52.7L84.8,53.5L85.8,54.4L86.8,55.3L87.8,56.1L88.8,57L89.8,57.9L90.8,58.4L91.8,58.8L92.8,65L93.8,69.1L145,69.1L145,69.1Z" fill="#ce451d" stroke="#fff" stroke-opacity="0.55" stroke-width="0.80" stroke-linejoin="round"/><path d="M34.6,70L34.6,70L64.7,70L65.7,69.8L66.7,69L67.7,68.2L68.7,67.3L69.7,66.5L70.7,65.7L71.7,64.8L72.7,62.7L73.7,60.2L74.7,57.6L75.7,55.1L76.8,55.4L77.8,56.6L78.8,55.7L79.8,54.9L80.8,54.1L81.8,53.2L82.8,52.7L83.8,53.6L84.8,54.4L85.8,55.3L86.8,56.2L87.8,57L88.8,57.9L89.8,58.8L90.8,59.3L91.8,59.7L92.8,65.9L93.8,70L145,70L145,70Z" fill="#d24820" stroke="#fff" stroke-opacity="0.55" stroke-width="0.80" stroke-linejoin="round"/><path d="M34.6,70.9L34.6,70.9L64.7,70.9L65.7,70.7L66.7,69.9L67.7,69.1L68.7,68.2L69.7,67.4L70.7,66.6L71.7,65.7L72.7,63.6L73.7,61.1L74.7,58.5L75.7,56L76.8,56.3L77.8,57.5L78.8,56.6L79.8,55.8L80.8,55L81.8,54.1L82.8,53.6L83.8,54.5L84.8,55.3L85.8,56.2L86.8,57.1L87.8,57.9L88.8,58.8L89.8,59.7L90.8,60.2L91.8,60.6L92.8,66.8L93.8,70.9L145,70.9L145,70.9Z" fill="#d54b23" stroke="#fff" stroke-opacity="0.55" stroke-width="0.80" stroke-linejoin="round"/><path d="M34.6,74.3L34.6,74.3L65.2,74.3L65.8,73.8L66.4,72.8L67,71.8L67.6,70.8L68.2,69.8L68.8,68.8L69.4,67.8L70,66.8L70.6,65.8L71.2,64.8L71.8,63.8L72.4,61.5L73,58.4L73.6,55.4L74.2,52.3L74.8,49.3L75.4,46.2L76,43.2L76.6,44.7L77.2,46.2L77.8,47.3L78.4,46.3L79,45.4L79.6,44.4L80.2,43.4L80.8,42.4L81.4,41.4L82,40.4L82.6,39.4L83.2,40.4L83.8,41.5L84.4,42.5L85,43.5L85.6,44.6L86.2,45.6L86.8,46.6L87.4,47.7L88,48.7L88.6,49.8L89.2,50.8L89.8,51.8L90.4,52.5L91,53L91.6,53.6L92.2,54.1L92.8,65.7L93.4,74.3L145,74.3L145,74.3Z" fill="#e1562c" stroke="#fff" stroke-opacity="0.55" stroke-width="0.80" stroke-linejoin="round"/><path d="M34.6,78L34.6,78L66,78L68.2,76.3L70.5,74.8L72.8,71.9L74.9,63.4L78.5,68.8L82.1,66.7L84.9,71.7L87.3,73.9L91.2,72.7L94.6,76.2L98.3,77.3L100,78L145,78L145,78Z" fill="#ec6035" stroke="#fff" stroke-opacity="0.55" stroke-width="0.80" stroke-linejoin="round"/><path d="M34.6,78.8L34.6,78.8L65.2,78.8L67.9,76.8L70.1,74.6L72.8,70L75.8,71L78.7,63.3L81.6,72.6L85.3,67.6L88.9,73.2L91.5,72.2L94.8,76.8L97.1,76.9L99.8,78.3L101.2,78.8L145,78.8L145,78.8Z" fill="#ef6236" stroke="#fff" stroke-opacity="0.55" stroke-width="0.80" stroke-linejoin="round"/><path d="M34.6,80.6L34.6,80.6L63.3,80.6L65.8,79.2L68.8,75.6L72.6,72.1L75.8,72.7L78,74.3L81.2,73.5L84.7,72.9L87.5,72.6L90.3,75.4L94,77.6L97.6,77.7L100.3,78.8L103.8,80.6L145,80.6L145,80.6Z" fill="#f4663a" stroke="#fff" stroke-opacity="0.55" stroke-width="0.80" stroke-linejoin="round"/><path d="M34.6,81.6L34.6,81.6L62.3,81.6L64.6,79.8L67.7,77L71.5,74.7L73.7,71.8L76.2,74.5L78.9,72.2L82.7,72.9L85.5,76.8L89.4,76.5L92.5,77.7L94.7,78.4L97,78.8L99.5,79.8L102.8,80.6L105.3,81.6L145,81.6L145,81.6Z" fill="#f7693d" stroke="#fff" stroke-opacity="0.55" stroke-width="0.80" stroke-linejoin="round"/><path d="M34.6,84.1L34.6,84.1L59.7,84.1L61.3,83.1L64.6,81L68,78.3L70.6,76.9L73.8,78L76.5,74.5L79.3,73.4L82.4,70.2L85.2,77.4L88.4,77.7L92.1,77.9L94.4,79.5L96.7,79.3L99.6,80.7L102.6,82.4L105.6,81.5L108.6,83.2L109,84.1L145,84.1L145,84.1Z" fill="#fd6f42" stroke="#fff" stroke-opacity="0.55" stroke-width="0.80" stroke-linejoin="round"/><path d="M34.6,85L34.6,85L58.8,85L61.8,83L65.1,81.1L68.8,74.1L70.9,75.6L74.4,75.3L77.1,76.7L79.7,74.6L82.8,79.5L86.4,78L89.8,79.1L93.1,77.2L95.4,81.9L98.2,80.8L100.8,83L104.5,83.1L108.2,83.7L110.3,85L145,85L145,85Z" fill="#ff7144" stroke="#fff" stroke-opacity="0.55" stroke-width="0.80" stroke-linejoin="round"/><path d="M34.6,91.2L34.6,91.2L52.4,91.2L54.9,89.6L57.2,89.8L59.8,86.5L62,87.5L64.6,84.9L67.9,87L70.8,84.6L74.6,82.8L77.3,75.9L79.8,78.9L82.8,79.8L85.2,82.5L87.9,77.4L90.7,85.1L93.2,83.8L96.9,86.6L100.2,86.8L103.4,86.8L105.7,87.3L108.4,86.6L111,88L113.8,87.3L117.4,89.8L119.4,91.2L145,91.2L145,91.2Z" fill="#ff7f50" stroke="#fff" stroke-opacity="0.55" stroke-width="0.80" stroke-linejoin="round"/><path d="M34.6,92.1L34.6,92.1L51.4,92.1L54.2,91.1L56.3,90.2L59,88.8L62.5,88.5L66,85.6L69.4,85.4L73.1,79.7L76.2,77.1L78.6,76.4L82.1,81.5L85,80.4L88.2,84L90.9,86.6L94,84.2L97.7,87L101.3,85.7L104.6,87.3L108,87.5L111.7,87.8L115.5,89.9L119.4,91.1L120.7,92.1L145,92.1L145,92.1Z" fill="#ff8152" stroke="#fff" stroke-opacity="0.55" stroke-width="0.80" stroke-linejoin="round"/><path d="M34.6,93L34.6,93L50.5,93L52.9,92L56.7,89.9L59.3,89.2L63.1,88.4L66.4,86.7L70.1,85.6L73.4,85.2L75.7,81.5L78,81.4L81.3,85.4L84,78.9L86.2,81.4L88.5,84.5L91.8,87.6L95.3,85.2L98.3,88.3L101.4,88.3L103.8,89.1L105.9,89.1L108.9,88.5L112,88.7L115.5,90.8L118.6,90.7L121,91.7L122,93L145,93L145,93Z" fill="#ff8354" stroke="#fff" stroke-opacity="0.55" stroke-width="0.80" stroke-linejoin="round"/><path d="M34.6,97.8L34.6,97.8L45.5,97.8L48.3,96.6L50.9,95.9L53.6,94.6L56.4,92.3L59.8,88.4L63.1,89.4L66.2,91.6L68.7,86.2L70.9,82.7L73.6,80.4L77.2,86.6L79.9,90.4L83.2,86.5L86.6,89.7L89.7,88.2L91.9,90L94.9,86.6L98.2,91.6L101.2,92.2L104.9,89.9L107.4,90.7L111.1,93.8L114.9,94.8L118.1,91.5L121.5,93.7L124,96.2L127.2,97.2L129.1,97.8L145,97.8L145,97.8Z" fill="#ff8d5d" stroke="#fff" stroke-opacity="0.55" stroke-width="0.80" stroke-linejoin="round"/><path d="M34.6,98.7L34.6,98.7L44.6,98.7L46.5,98.2L48.9,97.6L51.8,97.1L54.2,96.1L57,93.9L60.6,90.3L63.2,90.6L66,92.9L68.2,92.5L70.9,89.4L73.6,90.1L76.5,81.9L80.1,86.6L83.6,81.9L86.3,88.6L88.4,86L91,88.9L94.9,86.3L97.4,88.3L100.9,90.2L103.1,90.8L105.6,88.9L108.4,90.3L110.7,94L114.4,93.1L117.4,93.3L120.2,95L124,95.8L126.7,97.9L129.2,98.1L130.4,98.7L145,98.7L145,98.7Z" fill="#ff8f5f" stroke="#fff" stroke-opacity="0.55" stroke-width="0.80" stroke-linejoin="round"/><path d="M34.6,101.8L34.6,101.8L41.4,101.8L43.5,101.3L45.8,99.6L49.5,100L52.3,99.4L55.4,94.7L59,92.9L61.4,95.3L64.4,93.4L66.6,94.3L68.9,94.7L71.2,91.7L74.4,93.6L78,92.7L80.9,88.8L83.1,93.3L86.7,90.4L89.1,92.7L93,91.5L95.3,94.2L97.8,95L100.2,95.5L103.4,90L106,90.5L108.5,95.6L112.3,93.8L114.9,96.9L117.7,97.9L120.6,97L122.9,98.1L125.9,99.6L129.3,100.3L131.5,99.6L135,101.8L145,101.8L145,101.8Z" fill="#ff9564" stroke="#fff" stroke-opacity="0.55" stroke-width="0.80" stroke-linejoin="round"/><path d="M34.6,102.7L34.6,102.7L40.5,102.7L42.2,102.1L45.9,101.1L49.2,100L52.5,96.6L54.8,95.5L58.4,96.1L60.6,92.5L63.8,93.8L66.1,96.6L69.1,92.7L72.3,94.6L75.2,90.5L77.8,90.5L80.8,90.6L83.8,89.8L87.1,92.8L90.6,88.6L92.7,91.3L95.8,92.5L99.3,94.1L103.2,97.2L106.6,92.7L109.1,93.4L111.6,96.4L114.3,97.9L117.1,94.9L119.5,96.7L123.2,99.4L126.4,100.8L129.1,101.2L132.3,101.2L134.5,99.5L136.3,102.7L145,102.7L145,102.7Z" fill="#ff9766" stroke="#fff" stroke-opacity="0.55" stroke-width="0.80" stroke-linejoin="round"/><path d="M34.6,103.6L34.6,103.6L39.5,103.6L42.1,102.7L45.7,100.5L48.8,99L51.4,100.6L54.4,98.4L58,98.5L60.4,97.6L63.6,95.7L66.2,97.7L69.9,93.7L73.5,94.5L77.2,89.5L80.3,90.7L83.6,93.7L86.5,94.4L88.9,96.3L91.8,91.3L94.8,97.7L97.3,97L99.9,97.2L102.9,91.1L106.2,97.5L109.6,91L112.2,97.5L115.8,96.4L118.8,98.7L122.1,100.6L125.1,100.4L127.7,101.6L129.9,102L133.1,99.5L136.2,101.8L137.6,103.6L145,103.6L145,103.6Z" fill="#ff9968" stroke="#fff" stroke-opacity="0.55" stroke-width="0.80" stroke-linejoin="round"/><path d="M34.6,104.5L34.6,104.5L38.6,104.5L41.4,103.8L45.1,103L47.6,102.5L50.1,100.3L54,100.6L57.4,98L60.8,98.3L64.3,95.2L67.3,91L70.7,97.4L73.5,93.5L77.2,91.8L79.6,92.6L82.6,96.8L85.5,92.7L89.2,95.8L92.7,92.7L96.3,98.7L98.7,98.1L102.5,98.7L104.6,92.8L108.3,96.7L112,96.4L115.5,99.1L118.5,99.9L120.9,98.5L123.1,98.2L125.7,100L128.4,101.6L131.4,101.5L134.9,100.5L137.6,103.7L138.9,104.5L145,104.5L145,104.5Z" fill="#ff9b69" stroke="#fff" stroke-opacity="0.55" stroke-width="0.80" stroke-linejoin="round"/><path d="M34.6,105.3L34.6,105.3L37.8,105.3L39.4,104.5L43.3,103.7L45.6,102.9L48.3,101.9L50.4,99.2L53.9,97.4L57.3,100.4L59.6,100.3L61.8,96.9L65.4,97.6L68,98.4L71.3,98.3L75.2,87.1L77.6,91.2L80.8,97.4L83.4,92.2L85.7,94.6L88.4,95.3L90.9,96.3L93.8,95.2L96.1,93.5L98.6,97.6L101.5,97.1L103.9,97.9L107.4,97.1L110.9,99.4L113.3,98.4L116.5,97.7L118.9,99.8L121.8,100.2L124.3,101.4L128,103.3L130.3,103L132.7,100.3L134.8,102.9L137.9,104.2L140.1,105.3L145,105.3L145,105.3Z" fill="#ff9c6b" stroke="#fff" stroke-opacity="0.55" stroke-width="0.80" stroke-linejoin="round"/><path d="M34.6,107.6L34.6,107.6L35.4,107.6L37.5,107.1L40,106.2L42.2,105.9L45.6,104.4L48.3,101.9L51.4,103.8L54.4,102.8L56.8,98.2L59.8,99.9L62,100.9L64.2,99.2L66.6,93.5L69.8,96.4L73.5,100.2L75.6,98.6L79.1,94.9L82.6,95.7L85.2,97.3L88.3,96.7L91.7,97.5L94.5,101.4L97,94.8L99.2,100.9L102.1,101.5L106,99.7L108.5,96.1L112,99.7L115.2,95.6L118.7,102.5L122.4,100L124.8,104.3L127.4,105.4L131,104.1L134.4,101.8L137.4,105.3L140.9,106.7L143.5,107.6L145,107.6L145,107.6Z" fill="#ffa16f" stroke="#fff" stroke-opacity="0.55" stroke-width="0.80" stroke-linejoin="round"/><path d="M23.5,109.4H148.5" stroke="#d8d8d8" stroke-width="0.7"/><path d="M23.50,109.4V111.6" stroke="#cfcfcf" stroke-width="0.7"/><path d="M37.39,109.4V111.6" stroke="#cfcfcf" stroke-width="0.7"/><path d="M51.28,109.4V111.6" stroke="#cfcfcf" stroke-width="0.7"/><path d="M65.17,109.4V111.6" stroke="#cfcfcf" stroke-width="0.7"/><path d="M79.06,109.4V111.6" stroke="#cfcfcf" stroke-width="0.7"/><path d="M92.94,109.4V111.6" stroke="#cfcfcf" stroke-width="0.7"/><path d="M106.83,109.4V111.6" stroke="#cfcfcf" stroke-width="0.7"/><path d="M120.72,109.4V111.6" stroke="#cfcfcf" stroke-width="0.7"/><path d="M134.61,109.4V111.6" stroke="#cfcfcf" stroke-width="0.7"/><path d="M148.50,109.4V111.6" stroke="#cfcfcf" stroke-width="0.7"/><text transform="translate(23.50,118.8) scale(0.87,1)" class="xl">-4</text><text transform="translate(51.28,118.8) scale(0.87,1)" class="xl">-2</text><text transform="translate(79.06,118.8) scale(0.87,1)" class="xl">0</text><text transform="translate(106.83,118.8) scale(0.87,1)" class="xl">2</text><text transform="translate(134.61,118.8) scale(0.87,1)" class="xl">4</text><path d="M148.5,74.32H151.3" stroke="#cfcfcf" stroke-width="0.7"/><path d="M148.5,80.94H151.3" stroke="#cfcfcf" stroke-width="0.7"/><path d="M148.5,87.57H151.3" stroke="#cfcfcf" stroke-width="0.7"/><path d="M148.5,94.19H151.3" stroke="#cfcfcf" stroke-width="0.7"/><path d="M148.5,100.81H151.3" stroke="#cfcfcf" stroke-width="0.7"/><path d="M148.5,107.43H151.3" stroke="#cfcfcf" stroke-width="0.7"/><text transform="translate(153.5,76.72) scale(0.87,1)" class="yl">20</text><text transform="translate(153.5,89.97) scale(0.87,1)" class="yl">60</text><text transform="translate(153.5,103.21) scale(0.87,1)" class="yl">100</text></svg><svg class="ic" viewBox="5 5 14 14" width="9" height="9"><path d="M7 14H5v5h5v-2H7v-3zm-2-4h2V7h3V5H5v5zm12 7h-3v2h5v-5h-2v3zM14 5v2h3v3h2V5h-5z" fill="#5f7b8b"/></svg></div><div class="cell" style="left:588.00px;top:424.00px"><div class="bar"></div><div class="ttl">layer4/weights</div><div class="dot">.</div><svg class="ch" width="196" height="141" viewBox="0 0 196 141"><rect x="23.5" y="68.60" width="125.0" height="2.70" fill="#000" fill-opacity="0.13"/><rect x="23.5" y="77.50" width="125.0" height="1.70" fill="#000" fill-opacity="0.13"/><rect x="23.5" y="80.10" width="125.0" height="2.20" fill="#000" fill-opacity="0.13"/><rect x="23.5" y="83.60" width="125.0" height="1.80" fill="#000" fill-opacity="0.13"/><rect x="23.5" y="90.70" width="125.0" height="3.10" fill="#000" fill-opacity="0.13"/><rect x="23.5" y="97.30" width="125.0" height="1.80" fill="#000" fill-opacity="0.13"/><rect x="23.5" y="101.30" width="125.0" height="4.40" fill="#000" fill-opacity="0.13"/><rect x="23.5" y="107.00" width="125.0" height="1.10" fill="#000" fill-opacity="0.13"/><path d="M38.7,69.1L38.7,69.1L39.9,69.1L41.1,47.5L42.3,47.7L43.5,47.8L44.7,48L45.9,48L47.1,47.7L48.3,47.4L49.4,46.8L50.6,46.5L51.8,47.6L53,49.1L54.2,50.7L55.4,52.6L56.6,51.5L57.8,49.1L59,46.8L60.2,45.1L61.4,46.7L62.6,49.6L63.8,52.4L65,54.1L66.2,52.3L67.4,50.4L68.5,48.5L69.7,46L70.9,45.9L72.1,48.9L73.3,52.1L74.5,54.7L75.7,56L76.9,55.7L78.1,55L79.3,54.4L80.5,54.4L81.7,54.9L82.9,55.4L84.1,56.2L85.3,56.6L86.5,55.6L87.7,54.8L88.8,53.6L90,52.1L91.2,50.7L92.4,50.9L93.6,51.5L94.8,51.7L96,51.4L97.2,51.1L98.4,52L99.6,52.9L100.8,52.9L102,53.3L103.2,54.3L104.4,55.2L105.6,56.1L106.8,54.5L108,50.7L109.1,46.8L110.3,42.9L111.5,39.1L112.7,40L113.9,42.4L115.1,45L116.3,48.1L117.5,51L118.7,49.3L119.9,47.5L121.1,46.2L122.3,44.9L123.5,44.7L124.7,45.3L125.9,46L127.1,45.7L128.2,46L129.4,49.5L130.6,53L131.8,56.6L133,60.1L134.2,63L135.4,64.8L136.6,66.5L137.8,68.3L137.8,69.1Z" fill="#ce451d" stroke="#fff" stroke-opacity="0.85" stroke-width="1.90" stroke-linejoin="round"/><path d="M38.7,70L38.7,70L39.9,69.1L41.1,48L42.3,48L43.5,47.9L44.7,47.9L45.9,47.7L47.1,47.4L48.3,47.1L49.4,46.9L50.6,46.7L51.8,48.3L53,50.2L54.2,51.2L55.4,51.9L56.6,50.7L57.8,49L59,47.3L60.2,45.7L61.4,47L62.6,49.5L63.8,52L65,53.5L66.2,52.3L67.4,51.2L68.5,49.6L69.7,47.6L70.9,47.8L72.1,50.8L73.3,54L74.5,56.4L75.7,57.5L76.9,57.3L78.1,56.8L79.3,56.3L80.5,55.7L81.7,55.9L82.9,57L84.1,58.6L85.3,59.4L86.5,57.7L87.7,55.8L88.8,54L90,52L91.2,50.6L92.4,51.1L93.6,52.1L94.8,52.4L96,52.2L97.2,52.3L98.4,52.6L99.6,53L100.8,53.5L102,54.4L103.2,55.2L104.4,55.9L105.6,56.6L106.8,55.1L108,51.8L109.1,48.4L110.3,44.6L111.5,40.9L112.7,41.6L113.9,43.4L115.1,45.6L116.3,47.9L117.5,50.2L118.7,49.5L119.9,48.9L121.1,48L122.3,47.1L123.5,46.9L124.7,46.3L125.9,45.6L127.1,45.7L128.2,46.9L129.4,50.3L130.6,53.4L131.8,56.5L133,60.3L134.2,63.9L135.4,66.2L136.6,68L137.8,69.9L137.8,70Z" fill="#d24820" stroke="#fff" stroke-opacity="0.85" stroke-width="1.90" stroke-linejoin="round"/><path d="M38.7,70.9L38.7,70.9L39.9,68.7L41.1,49L42.3,49.1L43.5,49L44.7,49L45.9,49.1L47.1,49.2L48.3,48.8L49.4,47.9L50.6,47.4L51.8,49.3L53,51.4L54.2,52.5L55.4,53.5L56.6,52.5L57.8,50.5L59,48.6L60.2,47.2L61.4,48.4L62.6,50.7L63.8,52.9L65,54.2L66.2,52.9L67.4,51.7L68.5,50.2L69.7,48.7L70.9,49.1L72.1,51.5L73.3,53.9L74.5,56.7L75.7,58.8L76.9,59.1L78.1,58.4L79.3,57.7L80.5,56.8L81.7,57.1L82.9,58.4L84.1,59.6L85.3,60.1L86.5,57.9L87.7,55.3L88.8,53.4L90,51.8L91.2,50.8L92.4,51.2L93.6,51.9L94.8,52.5L96,53.5L97.2,54.3L98.4,54.2L99.6,54L100.8,55L102,56.6L103.2,57.4L104.4,57.9L105.6,58.4L106.8,56.1L108,51.5L109.1,48.1L110.3,45.4L111.5,42.6L112.7,43.5L113.9,45.7L115.1,47.9L116.3,50.2L117.5,52.5L118.7,51.8L119.9,51.2L121.1,50.2L122.3,49.1L123.5,48.8L124.7,48.8L125.9,48.8L127.1,48.7L128.2,49.5L129.4,52.7L130.6,55.8L131.8,59L133,62.1L134.2,64.7L135.4,66.8L136.6,68.5L137.8,70.3L137.8,70.9Z" fill="#d54b23" stroke="#fff" stroke-opacity="0.85" stroke-width="1.90" stroke-linejoin="round"/><path d="M38.7,74.3L38.7,74.3L39.9,70.8L41.1,51.9L42.3,51.9L43.5,51.9L44.7,52L45.9,52.2L47.1,52.3L48.3,52L49.4,51.8L50.6,51.6L51.8,53.1L53,54.8L54.2,55.8L55.4,56.8L56.6,56.1L57.8,53.9L59,51.9L60.2,50.7L61.4,51.4L62.6,53.4L63.8,56.2L65,58L66.2,56.2L67.4,54.1L68.5,52.8L69.7,52L70.9,52.8L72.1,56L73.3,59.3L74.5,61.9L75.7,63.7L76.9,64.2L78.1,62.5L79.3,60.7L80.5,59.4L81.7,60.1L82.9,62.2L84.1,64.4L85.3,65.5L86.5,62.8L87.7,59.8L88.8,57.5L90,55.9L91.2,55.4L92.4,54.8L93.6,54.2L94.8,54.6L96,55.5L97.2,56.6L98.4,57.9L99.6,59.1L100.8,60.2L102,60.2L103.2,59.9L104.4,60L105.6,60L106.8,57.6L108,53.5L109.1,50.9L110.3,49.6L111.5,47.9L112.7,48.4L113.9,49.6L115.1,51.4L116.3,53.1L117.5,54.9L118.7,53.7L119.9,52.4L121.1,51.9L122.3,52L123.5,52.3L124.7,52.3L125.9,52.4L127.1,52.4L128.2,53.2L129.4,56L130.6,58.1L131.8,60.3L133,63.5L134.2,66.7L135.4,69.3L136.6,72.3L137.8,74.3L137.8,74.3Z" fill="#e1562c" stroke="#fff" stroke-opacity="0.85" stroke-width="1.90" stroke-linejoin="round"/><path d="M38.7,78L38.7,78L39.9,73L41.1,57.4L42.3,57.6L43.5,56.9L44.7,56.6L45.9,55.9L47.1,55.1L48.3,54.8L49.4,54.5L50.6,54.4L51.8,55.7L53,57.1L54.2,57.9L55.4,58.6L56.6,58.2L57.8,57.1L59,56L60.2,55.9L61.4,58L62.6,59.6L63.8,59.8L65,59.9L66.2,58.8L67.4,57.8L68.5,56.8L69.7,57.1L70.9,58.3L72.1,61.2L73.3,64.2L74.5,66.4L75.7,67.8L76.9,68.2L78.1,65.1L79.3,62.1L80.5,60.7L81.7,62.8L82.9,65.8L84.1,68.8L85.3,70.5L86.5,67.7L87.7,64.9L88.8,62.1L90,59L91.2,58L92.4,58.1L93.6,58.5L94.8,59L96,59.7L97.2,61L98.4,62.3L99.6,63.5L100.8,65.1L102,64.9L103.2,64.1L104.4,63.1L105.6,62.1L106.8,59.7L108,56.3L109.1,54.3L110.3,53.6L111.5,52.4L112.7,52.6L113.9,53.3L115.1,55L116.3,57.8L117.5,60.1L118.7,59.2L119.9,58.3L121.1,57.5L122.3,56.5L123.5,56.3L124.7,57L125.9,57.7L127.1,57.2L128.2,56.6L129.4,58.8L130.6,61.2L131.8,63.6L133,66.4L134.2,69.3L135.4,72L136.6,74.8L137.8,77.3L137.8,78Z" fill="#ec6035" stroke="#fff" stroke-opacity="0.85" stroke-width="1.90" stroke-linejoin="round"/><path d="M38.7,78.8L38.7,78.8L39.9,73.6L41.1,56.2L42.3,56.3L43.5,56.7L44.7,57L45.9,57.1L47.1,57.1L48.3,56.7L49.4,56L50.6,55.6L51.8,55.8L53,56.3L54.2,57.3L55.4,58.6L56.6,58.5L57.8,59L59,59.2L60.2,57.5L61.4,56.6L62.6,57.8L63.8,60.1L65,61.6L66.2,60.8L67.4,60.1L68.5,58.8L69.7,57.3L70.9,57.6L72.1,60.6L73.3,63.6L74.5,66.1L75.7,68.1L76.9,68.9L78.1,67.1L79.3,65.2L80.5,62.4L81.7,61.6L82.9,64L84.1,66.9L85.3,68.6L86.5,66L87.7,63.5L88.8,60.9L90,59.2L91.2,59.1L92.4,59.2L93.6,59.6L94.8,59.7L96,59L97.2,59.7L98.4,61.4L99.6,63.1L100.8,65.1L102,65.8L103.2,65.3L104.4,65.2L105.6,65L106.8,62.7L108,59.5L109.1,57.5L110.3,55.4L111.5,53.3L112.7,53.3L113.9,53.6L115.1,55L116.3,56.6L117.5,58.2L118.7,57.5L119.9,56.7L121.1,56.4L122.3,56.9L123.5,57.3L124.7,56.8L125.9,56.3L127.1,56.7L128.2,58.4L129.4,61.2L130.6,63.1L131.8,65.1L133,68.2L134.2,71.8L135.4,74.5L136.6,76.5L137.8,78.5L137.8,78.8Z" fill="#ef6236" stroke="#fff" stroke-opacity="0.85" stroke-width="1.90" stroke-linejoin="round"/><path d="M38.7,80.6L38.7,80.6L39.9,76L41.1,57.9L42.3,57.8L43.5,58.5L44.7,58.9L45.9,58.6L47.1,58.1L48.3,57.7L49.4,57L50.6,56.7L51.8,58.4L53,60.1L54.2,60.9L55.4,61.8L56.6,61.5L57.8,59.6L59,58.1L60.2,58.1L61.4,59.8L62.6,61.4L63.8,62.6L65,63.3L66.2,61.6L67.4,59.7L68.5,58.8L69.7,59.7L70.9,61.3L72.1,63.5L73.3,65.8L74.5,68.2L75.7,70.3L76.9,71.2L78.1,69.3L79.3,67.4L80.5,64.5L81.7,64.1L82.9,66.7L84.1,69.3L85.3,70.6L86.5,67.7L87.7,64.8L88.8,61.9L90,59.1L91.2,58.6L92.4,59.3L93.6,60.3L94.8,60.7L96,61L97.2,62.4L98.4,64.3L99.6,66.2L100.8,68.3L102,68.7L103.2,67.9L104.4,66.7L105.6,65.6L106.8,63L108,59.5L109.1,57.6L110.3,56.4L111.5,55L112.7,56.1L113.9,58.3L115.1,59.6L116.3,59.8L117.5,60.6L118.7,60.8L119.9,61.2L121.1,60.9L122.3,60.7L123.5,60.7L124.7,60.2L125.9,59.7L127.1,59.9L128.2,61.1L129.4,63.7L130.6,66.2L131.8,68.7L133,70.6L134.2,72.3L135.4,75L136.6,78.9L137.8,80.6L137.8,80.6Z" fill="#f4663a" stroke="#fff" stroke-opacity="0.85" stroke-width="1.90" stroke-linejoin="round"/><path d="M38.7,81.6L38.7,81.6L39.9,77.6L41.1,61.7L42.3,61.5L43.5,60.8L44.7,60.4L45.9,60.3L47.1,60L48.3,59.5L49.4,58.6L50.6,58.1L51.8,58.9L53,59.8L54.2,60.5L55.4,61.1L56.6,61L57.8,60.9L59,60.7L60.2,60.7L61.4,62.3L62.6,63.5L63.8,63.2L65,63.1L66.2,62.7L67.4,62.5L68.5,61.4L69.7,60.3L70.9,60.9L72.1,64.6L73.3,68.4L74.5,70.3L75.7,70.8L76.9,71.1L78.1,68L79.3,64.9L80.5,62.9L81.7,64.7L82.9,68.2L84.1,71.5L85.3,73.5L86.5,69.9L87.7,66.1L88.8,63.1L90,61.3L91.2,61.5L92.4,61.5L93.6,61.6L94.8,61.9L96,62.5L97.2,64L98.4,65.2L99.6,66.3L100.8,68.8L102,70.2L103.2,69.5L104.4,67.4L105.6,65.3L106.8,63.6L108,62L109.1,60.5L110.3,57.5L111.5,54.8L112.7,55.8L113.9,57.7L115.1,59.1L116.3,60.2L117.5,61.4L118.7,61.9L119.9,62.6L121.1,62L122.3,60.7L123.5,60.3L124.7,59.5L125.9,58.6L127.1,59.2L128.2,61.5L129.4,64.3L130.6,67.4L131.8,70.3L133,72L134.2,73.2L135.4,75.8L136.6,79.7L137.8,81.6L137.8,81.6Z" fill="#f7693d" stroke="#fff" stroke-opacity="0.85" stroke-width="1.90" stroke-linejoin="round"/><path d="M38.7,84.1L38.7,84.1L39.9,78.5L41.1,62.1L42.3,62L43.5,62.3L44.7,62.4L45.9,61.8L47.1,61.1L48.3,60.8L49.4,60.6L50.6,60.5L51.8,61.9L53,63.5L54.2,63.9L55.4,63.9L56.6,63.6L57.8,62.6L59,61.7L60.2,62.5L61.4,65.1L62.6,66.4L63.8,65.9L65,65.6L66.2,65.1L67.4,64.8L68.5,64.1L69.7,64.9L70.9,66.4L72.1,67.9L73.3,69.3L74.5,72L75.7,75.2L76.9,76.5L78.1,71.9L79.3,67.3L80.5,64.9L81.7,66.5L82.9,70.2L84.1,73.6L85.3,75.6L86.5,72.5L87.7,69.5L88.8,66.2L90,62.7L91.2,62L92.4,63.4L93.6,65.3L94.8,65.9L96,66.3L97.2,68L98.4,69.2L99.6,70.4L100.8,73L102,73.8L103.2,72.6L104.4,69.9L105.6,67.4L106.8,65.7L108,64.5L109.1,63.4L110.3,60.8L111.5,58.6L112.7,58.9L113.9,59.7L115.1,61.2L116.3,64.1L117.5,66.2L118.7,65.8L119.9,65.3L121.1,64.8L122.3,63.7L123.5,63.5L124.7,63.7L125.9,63.9L127.1,63.4L128.2,62.7L129.4,64.6L130.6,68.3L131.8,71.8L133,73.6L134.2,75.2L135.4,77.8L136.6,80.6L137.8,83L137.8,84.1Z" fill="#fd6f42" stroke="#fff" stroke-opacity="0.85" stroke-width="1.90" stroke-linejoin="round"/><path d="M38.7,85L38.7,85L39.9,79.7L41.1,65.2L42.3,65.1L43.5,64.5L44.7,64.2L45.9,64.5L47.1,64.9L48.3,64.1L49.4,62L50.6,61.2L51.8,63.1L53,65.1L54.2,65.6L55.4,65.9L56.6,65.6L57.8,63.8L59,62.3L60.2,62.2L61.4,63.1L62.6,64.2L63.8,65.4L65,66.1L66.2,65.5L67.4,64.9L68.5,63.9L69.7,63.5L70.9,64.3L72.1,67.6L73.3,70.9L74.5,73.1L75.7,74.5L76.9,75.3L78.1,71.9L79.3,68.6L80.5,65.9L81.7,67L82.9,70.8L84.1,75.2L85.3,77.9L86.5,74.4L87.7,70.6L88.8,67.3L90,64.6L91.2,64.4L92.4,64.6L93.6,64.9L94.8,65.1L96,64.8L97.2,66.2L98.4,68.5L99.6,70.8L100.8,73.8L102,75.6L103.2,74.6L104.4,71L105.6,67.7L106.8,66.2L108,65.4L109.1,64.3L110.3,60.7L111.5,57.7L112.7,58.4L113.9,59.7L115.1,61.2L116.3,63.6L117.5,65.5L118.7,64.9L119.9,64.3L121.1,64.3L122.3,65.2L123.5,65.8L124.7,65.4L125.9,65L127.1,64.7L128.2,64.5L129.4,66.5L130.6,70.3L131.8,73.8L133,74.7L134.2,74.9L135.4,77.3L136.6,80.7L137.8,83.6L137.8,85Z" fill="#ff7144" stroke="#fff" stroke-opacity="0.85" stroke-width="1.90" stroke-linejoin="round"/><path d="M38.7,91.2L38.7,91.2L39.9,82L41.1,68.8L42.3,68.9L43.5,69.4L44.7,69.5L45.9,68.5L47.1,67.2L48.3,67.2L49.4,68.2L50.6,68.6L51.8,68.6L53,68.6L54.2,69.7L55.4,71.9L56.6,72.4L57.8,70.6L59,69.1L60.2,70.2L61.4,72.5L62.6,73.6L63.8,74.7L65,75.3L66.2,73.8L67.4,72L68.5,70.9L69.7,70.5L70.9,71.4L72.1,74L73.3,76.7L74.5,78.7L75.7,80.2L76.9,81.5L78.1,79.6L79.3,77.5L80.5,73.4L81.7,72.7L82.9,76.4L84.1,80.4L85.3,82.6L86.5,79.8L87.7,77.6L88.8,73.9L90,69.8L91.2,69.1L92.4,68.9L93.6,68.8L94.8,69.6L96,72.2L97.2,75.2L98.4,77.4L99.6,79.6L100.8,82.6L102,82.7L103.2,80.8L104.4,78.7L105.6,76.7L106.8,73L108,68.2L109.1,67.1L110.3,68.1L111.5,68.6L112.7,67.8L113.9,66.6L115.1,67.4L116.3,69.2L117.5,70.6L118.7,70.2L119.9,69.6L121.1,69.4L122.3,69.3L123.5,69.5L124.7,70.7L125.9,72L127.1,71.9L128.2,71.8L129.4,73.5L130.6,75.9L131.8,78.3L133,80.1L134.2,82.5L135.4,85.6L136.6,88.7L137.8,91.2L137.8,91.2Z" fill="#ff7f50" stroke="#fff" stroke-opacity="0.85" stroke-width="1.90" stroke-linejoin="round"/><path d="M38.7,92.1L38.7,92.1L39.9,82.7L41.1,68.6L42.3,69L43.5,71.2L44.7,72.3L45.9,71.1L47.1,69.7L48.3,69.3L49.4,68.9L50.6,68.8L51.8,69.5L53,70.4L54.2,71.1L55.4,72.3L56.6,72.8L57.8,73.4L59,73.9L60.2,74.1L61.4,74.6L62.6,75.1L63.8,75.3L65,75.3L66.2,74.3L67.4,73.2L68.5,72.4L69.7,72.9L70.9,74.2L72.1,76.7L73.3,79.1L74.5,80.7L75.7,80.9L76.9,81.6L78.1,78.2L79.3,74.9L80.5,71.2L81.7,72L82.9,76.4L84.1,81.7L85.3,84.9L86.5,81.4L87.7,78L88.8,74.1L90,69.8L91.2,69.1L92.4,69L93.6,69L94.8,69.9L96,72.6L97.2,75.7L98.4,77.9L99.6,80L100.8,83.3L102,84L103.2,82.3L104.4,80L105.6,77.7L106.8,74.7L108,71.7L109.1,70.7L110.3,69.4L111.5,68.3L112.7,68.2L113.9,68.2L115.1,69.2L116.3,71.3L117.5,72.9L118.7,73.2L119.9,73.5L121.1,73.1L122.3,71.9L123.5,71.6L124.7,72.9L125.9,74.3L127.1,74L128.2,73.6L129.4,75L130.6,76.8L131.8,78.7L133,80.6L134.2,83.1L135.4,86.1L136.6,88L137.8,89.9L137.8,92.1Z" fill="#ff8152" stroke="#fff" stroke-opacity="0.85" stroke-width="1.90" stroke-linejoin="round"/><path d="M38.7,93L38.7,93L39.9,84.7L41.1,70L42.3,69.8L43.5,70.2L44.7,70.5L45.9,70.4L47.1,70.4L48.3,70.4L49.4,71L50.6,71.2L51.8,70.5L53,69.9L54.2,70.6L55.4,71.9L56.6,72.4L57.8,71.7L59,71.3L60.2,72.5L61.4,74.8L62.6,75.6L63.8,75.7L65,75.6L66.2,75.5L67.4,75.5L68.5,74.9L69.7,75.2L70.9,76.5L72.1,77.4L73.3,78.2L74.5,80.4L75.7,82.9L76.9,84.5L78.1,80.7L79.3,76.9L80.5,74L81.7,76.5L82.9,81.2L84.1,84.5L85.3,86.3L86.5,83.1L87.7,80.5L88.8,76.4L90,71L91.2,69.7L92.4,70.7L93.6,72L94.8,72.7L96,73.9L97.2,76.5L98.4,79.2L99.6,81.8L100.8,84.5L102,83.1L103.2,80.6L104.4,78.5L105.6,76.4L106.8,73.8L108,71.5L109.1,71L110.3,70.3L111.5,69.6L112.7,69.3L113.9,68.9L115.1,69.8L116.3,72.1L117.5,73.7L118.7,72.9L119.9,71.9L121.1,72.3L122.3,73.8L123.5,74.6L124.7,73.1L125.9,71.5L127.1,72L128.2,74.1L129.4,76.2L130.6,77.4L131.8,78.7L133,81L134.2,84.3L135.4,87.8L136.6,91.5L137.8,93L137.8,93Z" fill="#ff8354" stroke="#fff" stroke-opacity="0.85" stroke-width="1.90" stroke-linejoin="round"/><path d="M38.7,97.8L38.7,97.8L39.9,87.4L41.1,74.8L42.3,74.9L43.5,75.9L44.7,76.4L45.9,76.6L47.1,76.9L48.3,76.5L49.4,76L50.6,75.8L51.8,76.3L53,77L54.2,77.4L55.4,78.2L56.6,78.7L57.8,78.1L59,77.8L60.2,78.1L61.4,78.2L62.6,78.3L63.8,78.3L65,78.3L66.2,77.6L67.4,76.8L68.5,76.7L69.7,79.5L70.9,82L72.1,83.8L73.3,85.7L74.5,87.8L75.7,90.1L76.9,91.7L78.1,86.9L79.3,82.2L80.5,78L81.7,78.6L82.9,83.4L84.1,88.6L85.3,91.7L86.5,88.1L87.7,84.8L88.8,80.5L90,75.6L91.2,74.9L92.4,75.2L93.6,75.5L94.8,75.9L96,76.2L97.2,78.6L98.4,82.6L99.6,86.6L100.8,89.8L102,88.8L103.2,86L104.4,82.8L105.6,79.7L106.8,77.4L108,76.1L109.1,75.9L110.3,74.5L111.5,73.3L112.7,74.6L113.9,76.6L115.1,77.5L116.3,78.4L117.5,79.1L118.7,78.9L119.9,78.6L121.1,78.3L122.3,77.4L123.5,77.2L124.7,78.5L125.9,79.7L127.1,79.4L128.2,78.8L129.4,80L130.6,82.9L131.8,85.7L133,86.9L134.2,88.5L135.4,91.7L136.6,95.7L137.8,97.8L137.8,97.8Z" fill="#ff8d5d" stroke="#fff" stroke-opacity="0.85" stroke-width="1.90" stroke-linejoin="round"/><path d="M38.7,98.7L38.7,98.7L39.9,88.1L41.1,75.8L42.3,75.8L43.5,76.3L44.7,76.6L45.9,75.9L47.1,75.1L48.3,75.1L49.4,75.8L50.6,76L51.8,75.6L53,75.2L54.2,75.7L55.4,76.9L56.6,77.7L57.8,78.2L59,78.7L60.2,79.7L61.4,81.1L62.6,81.3L63.8,80.1L65,79.2L66.2,79L67.4,78.9L68.5,78.5L69.7,79.7L70.9,81.4L72.1,83.3L73.3,85.2L74.5,87.5L75.7,90.3L76.9,92.2L78.1,88L79.3,83.7L80.5,79.8L81.7,81.2L82.9,86.1L84.1,89.7L85.3,91.7L86.5,88.1L87.7,85L88.8,81L90,76.9L91.2,76.7L92.4,76.5L93.6,76.3L94.8,76.7L96,77.6L97.2,80.3L98.4,83.2L99.6,86.1L100.8,89.7L102,89.6L103.2,87.2L104.4,84.9L105.6,82.5L106.8,79L108,75.3L109.1,74.8L110.3,75.4L111.5,75.7L112.7,76.4L113.9,77.5L115.1,78.1L116.3,78.3L117.5,78.6L118.7,78.2L119.9,77.7L121.1,77.6L122.3,77.6L123.5,77.7L124.7,78.6L125.9,79.4L127.1,79.8L128.2,81L129.4,82.6L130.6,84.2L131.8,85.7L133,87.4L134.2,89.8L135.4,93L136.6,95.2L137.8,97.3L137.8,98.7Z" fill="#ff8f5f" stroke="#fff" stroke-opacity="0.85" stroke-width="1.90" stroke-linejoin="round"/><path d="M38.7,101.8L38.7,101.8L39.9,91.8L41.1,79.5L42.3,79.5L43.5,80.7L44.7,81.2L45.9,80.1L47.1,78.8L48.3,78.8L49.4,79.6L50.6,80L51.8,79.9L53,79.8L54.2,80.2L55.4,81.3L56.6,82L57.8,81.5L59,81.1L60.2,81.9L61.4,82.5L62.6,82.7L63.8,82.8L65,82.9L66.2,82.7L67.4,82.7L68.5,82.3L69.7,83.2L70.9,84.7L72.1,86.3L73.3,87.9L74.5,90L75.7,92.2L76.9,94L78.1,89.8L79.3,85.6L80.5,81.6L81.7,83.5L82.9,89L84.1,94.2L85.3,97.2L86.5,92.9L87.7,88.6L88.8,84L90,79L91.2,78.5L92.4,78.8L93.6,79.2L94.8,79.7L96,80.7L97.2,83.5L98.4,86.8L99.6,90L100.8,94L102,94.4L103.2,91.8L104.4,87.7L105.6,83.8L106.8,81.2L108,79.5L109.1,79.6L110.3,79L111.5,78.5L112.7,79.4L113.9,80.6L115.1,81L116.3,80.2L117.5,80L118.7,80.6L119.9,81.2L121.1,81.6L122.3,82.6L123.5,83.2L124.7,82.5L125.9,81.8L127.1,82L128.2,82.9L129.4,84.4L130.6,86.2L131.8,87.9L133,89.7L134.2,92.7L135.4,96.1L136.6,98.8L137.8,101.2L137.8,101.8Z" fill="#ff9564" stroke="#fff" stroke-opacity="0.85" stroke-width="1.90" stroke-linejoin="round"/><path d="M38.7,102.7L38.7,102.7L39.9,92.3L41.1,80.2L42.3,79.9L43.5,79.7L44.7,79.5L45.9,80L47.1,80.6L48.3,80.3L49.4,79.4L50.6,79.1L51.8,79.3L53,79.4L54.2,79.8L55.4,80.8L56.6,81.8L57.8,82.9L59,83.9L60.2,84L61.4,83.3L62.6,83.1L63.8,83.2L65,83.2L66.2,82.8L67.4,82.4L68.5,82.2L69.7,84.4L70.9,86.5L72.1,87.9L73.3,89.2L74.5,91.3L75.7,93.5L76.9,95.3L78.1,90.6L79.3,85.9L80.5,81.9L81.7,84L82.9,89.7L84.1,95.4L85.3,98.8L86.5,93.5L87.7,87.6L88.8,82.9L90,79.1L91.2,79.3L92.4,80.3L93.6,81.7L94.8,82L96,81.6L97.2,83.9L98.4,87.4L99.6,91L100.8,94.7L102,94.1L103.2,91.2L104.4,87.9L105.6,84.8L106.8,82.2L108,80.7L109.1,80.8L110.3,79.9L111.5,79.2L112.7,79.7L113.9,80.3L115.1,80.9L116.3,81.7L117.5,82.3L118.7,82.4L119.9,82.5L121.1,82.7L122.3,82.9L123.5,83.2L124.7,83.8L125.9,84.5L127.1,84.8L128.2,86.1L129.4,87.4L130.6,88.1L131.8,88.8L133,90.3L134.2,92.8L135.4,96.3L136.6,99.3L137.8,102L137.8,102.7Z" fill="#ff9766" stroke="#fff" stroke-opacity="0.85" stroke-width="1.90" stroke-linejoin="round"/><path d="M38.7,103.6L38.7,103.6L39.9,93.5L41.1,82.8L42.3,82.6L43.5,81.9L44.7,81.4L45.9,80.9L47.1,80.3L48.3,80.4L49.4,81.4L50.6,81.8L51.8,81.8L53,81.8L54.2,81.9L55.4,82.3L56.6,83L57.8,83.3L59,83.7L60.2,84.8L61.4,85.6L62.6,85.7L63.8,85.6L65,85.5L66.2,84.8L67.4,84L68.5,83.5L69.7,84.8L70.9,86.5L72.1,88.9L73.3,91.4L74.5,93.5L75.7,95.8L76.9,97.6L78.1,91.9L79.3,86.3L80.5,82.4L81.7,84.8L82.9,90.5L84.1,95.7L85.3,98.7L86.5,93.7L87.7,88.5L88.8,84L90,80.9L91.2,81.7L92.4,82.2L93.6,82.8L94.8,82.9L96,82.5L97.2,84.8L98.4,88.2L99.6,91.7L100.8,95.4L102,94.7L103.2,91.8L104.4,89.5L105.6,87.2L106.8,84.2L108,81.9L109.1,82L110.3,81.9L111.5,81.8L112.7,81.6L113.9,81.3L115.1,81.7L116.3,82.9L117.5,83.7L118.7,83.1L119.9,82.4L121.1,82.8L122.3,84.2L123.5,85L124.7,84.7L125.9,84.4L127.1,84.7L128.2,86.1L129.4,87.5L130.6,89L131.8,90.5L133,92.1L134.2,94.9L135.4,98.3L136.6,100.7L137.8,102.9L137.8,103.6Z" fill="#ff9968" stroke="#fff" stroke-opacity="0.85" stroke-width="1.90" stroke-linejoin="round"/><path d="M38.7,104.5L38.7,104.5L39.9,94.4L41.1,83.9L42.3,83.8L43.5,83.1L44.7,82.7L45.9,82L47.1,81.1L48.3,80.9L49.4,81.1L50.6,81.2L51.8,81.4L53,81.7L54.2,82.2L55.4,83.6L56.6,84.6L57.8,84.6L59,84.7L60.2,85.3L61.4,85.1L62.6,85.1L63.8,86L65,86.4L66.2,86.2L67.4,86.1L68.5,85.5L69.7,85.6L70.9,86.8L72.1,89.5L73.3,92.3L74.5,94.3L75.7,96L76.9,97.8L78.1,93.6L79.3,89.3L80.5,84.4L81.7,84.9L82.9,90.3L84.1,96.1L85.3,99.7L86.5,94.8L87.7,89.8L88.8,85.2L90,81.3L91.2,81.7L92.4,82.1L93.6,82.5L94.8,82.9L96,83.5L97.2,86.3L98.4,89.9L99.6,93.5L100.8,97.1L102,95.8L103.2,92.5L104.4,89.7L105.6,86.9L106.8,83.5L108,80.7L109.1,80.8L110.3,81.8L111.5,82.5L112.7,82.4L113.9,82.2L115.1,82.5L116.3,83L117.5,83.4L118.7,83.6L119.9,83.8L121.1,84.2L122.3,85.2L123.5,85.8L124.7,85.7L125.9,85.6L127.1,86.1L128.2,87.9L129.4,89.4L130.6,90.3L131.8,91.2L133,92.7L134.2,95.2L135.4,98.7L136.6,101.8L137.8,104.4L137.8,104.5Z" fill="#ff9b69" stroke="#fff" stroke-opacity="0.85" stroke-width="1.90" stroke-linejoin="round"/><path d="M38.7,105.3L38.7,105.3L39.9,95.3L41.1,84.1L42.3,83.7L43.5,82.7L44.7,82.1L45.9,82.3L47.1,82.6L48.3,82.4L49.4,82.1L50.6,82L51.8,82.4L53,82.7L54.2,83L55.4,83.8L56.6,84.7L57.8,85.1L59,85.6L60.2,86.2L61.4,86.1L62.6,85.9L63.8,85.8L65,85.7L66.2,86L67.4,86.5L68.5,86.1L69.7,86.9L70.9,88.3L72.1,91L73.3,93.8L74.5,95.5L75.7,96.6L76.9,98.1L78.1,93.6L79.3,89.1L80.5,84.3L81.7,85.1L82.9,90.6L84.1,96.6L85.3,100.2L86.5,95.5L87.7,90.7L88.8,86.2L90,82.7L91.2,83.3L92.4,83.6L93.6,84.1L94.8,84.3L96,84.4L97.2,87L98.4,90.4L99.6,93.7L100.8,97.7L102,97.3L103.2,94.3L104.4,91.3L105.6,88.2L106.8,85L108,82.5L109.1,82.6L110.3,82.5L111.5,82.4L112.7,82.6L113.9,82.9L115.1,83.3L116.3,84.3L117.5,85.1L118.7,85.5L119.9,86.1L121.1,86.1L122.3,85.6L123.5,85.6L124.7,86.6L125.9,87.6L127.1,87.8L128.2,88.4L129.4,89.5L130.6,90.7L131.8,91.9L133,93.1L134.2,95L135.4,98.5L136.6,102.5L137.8,105.3L137.8,105.3Z" fill="#ff9c6b" stroke="#fff" stroke-opacity="0.85" stroke-width="1.90" stroke-linejoin="round"/><path d="M38.7,107.6L38.7,107.6L39.9,97.2L41.1,86L42.3,85.7L43.5,85.7L44.7,85.6L45.9,85.3L47.1,84.9L48.3,84.6L49.4,84.3L50.6,84.2L51.8,84.9L53,85.6L54.2,85.5L55.4,85.4L56.6,86.2L57.8,86.9L59,87.7L60.2,88.5L61.4,88.6L62.6,88.3L63.8,88.1L65,87.9L66.2,88L67.4,88.2L68.5,88.1L69.7,89.9L70.9,91.9L72.1,93.7L73.3,95.5L74.5,97.3L75.7,99.1L76.9,101L78.1,96.5L79.3,92L80.5,87.3L81.7,88.6L82.9,94.4L84.1,100.1L85.3,103.6L86.5,98.8L87.7,93.9L88.8,89.2L90,85.1L91.2,85.5L92.4,85.5L93.6,85.4L94.8,85.8L96,86.8L97.2,89.9L98.4,94L99.6,98L100.8,102L102,100.9L103.2,97.5L104.4,93.9L105.6,90.4L106.8,87L108,84.2L109.1,84.4L110.3,84.5L111.5,84.7L112.7,85.3L113.9,86.1L115.1,86.6L116.3,87.4L117.5,87.9L118.7,87.5L119.9,86.9L121.1,87.2L122.3,87.7L123.5,88.1L124.7,88.4L125.9,88.7L127.1,89.1L128.2,90.6L129.4,92L130.6,93.4L131.8,94.8L133,96L134.2,98.4L135.4,101.9L136.6,104.8L137.8,107.6L137.8,107.6Z" fill="#ffa16f" stroke="#fff" stroke-opacity="0.85" stroke-width="1.90" stroke-linejoin="round"/><path d="M23.5,109.4H148.5" stroke="#d8d8d8" stroke-width="0.7"/><path d="M23.50,109.4V111.6" stroke="#cfcfcf" stroke-width="0.7"/><path d="M39.12,109.4V111.6" stroke="#cfcfcf" stroke-width="0.7"/><path d="M54.75,109.4V111.6" stroke="#cfcfcf" stroke-width="0.7"/><path d="M70.38,109.4V111.6" stroke="#cfcfcf" stroke-width="0.7"/><path d="M86.00,109.4V111.6" stroke="#cfcfcf" stroke-width="0.7"/><path d="M101.62,109.4V111.6" stroke="#cfcfcf" stroke-width="0.7"/><path d="M117.25,109.4V111.6" stroke="#cfcfcf" stroke-width="0.7"/><path d="M132.88,109.4V111.6" stroke="#cfcfcf" stroke-width="0.7"/><path d="M148.50,109.4V111.6" stroke="#cfcfcf" stroke-width="0.7"/><text transform="translate(23.50,118.8) scale(0.87,1)" class="xl">-0.4</text><text transform="translate(54.75,118.8) scale(0.87,1)" class="xl">-0.2</text><text transform="translate(86.00,118.8) scale(0.87,1)" class="xl">0.0</text><text transform="translate(117.25,118.8) scale(0.87,1)" class="xl">0.2</text><text transform="translate(148.50,118.8) scale(0.87,1)" class="xl">0.4</text><path d="M148.5,74.32H151.3" stroke="#cfcfcf" stroke-width="0.7"/><path d="M148.5,80.94H151.3" stroke="#cfcfcf" stroke-width="0.7"/><path d="M148.5,87.57H151.3" stroke="#cfcfcf" stroke-width="0.7"/><path d="M148.5,94.19H151.3" stroke="#cfcfcf" stroke-width="0.7"/><path d="M148.5,100.81H151.3" stroke="#cfcfcf" stroke-width="0.7"/><path d="M148.5,107.43H151.3" stroke="#cfcfcf" stroke-width="0.7"/><text transform="translate(153.5,76.72) scale(0.87,1)" class="yl">20</text><text transform="translate(153.5,89.97) scale(0.87,1)" class="yl">60</text><text transform="translate(153.5,103.21) scale(0.87,1)" class="yl">100</text></svg><svg class="ic" viewBox="5 5 14 14" width="9" height="9"><path d="M7 14H5v5h5v-2H7v-3zm-2-4h2V7h3V5H5v5zm12 7h-3v2h5v-5h-2v3zM14 5v2h3v3h2V5h-5z" fill="#5f7b8b"/></svg></div></body></html>
